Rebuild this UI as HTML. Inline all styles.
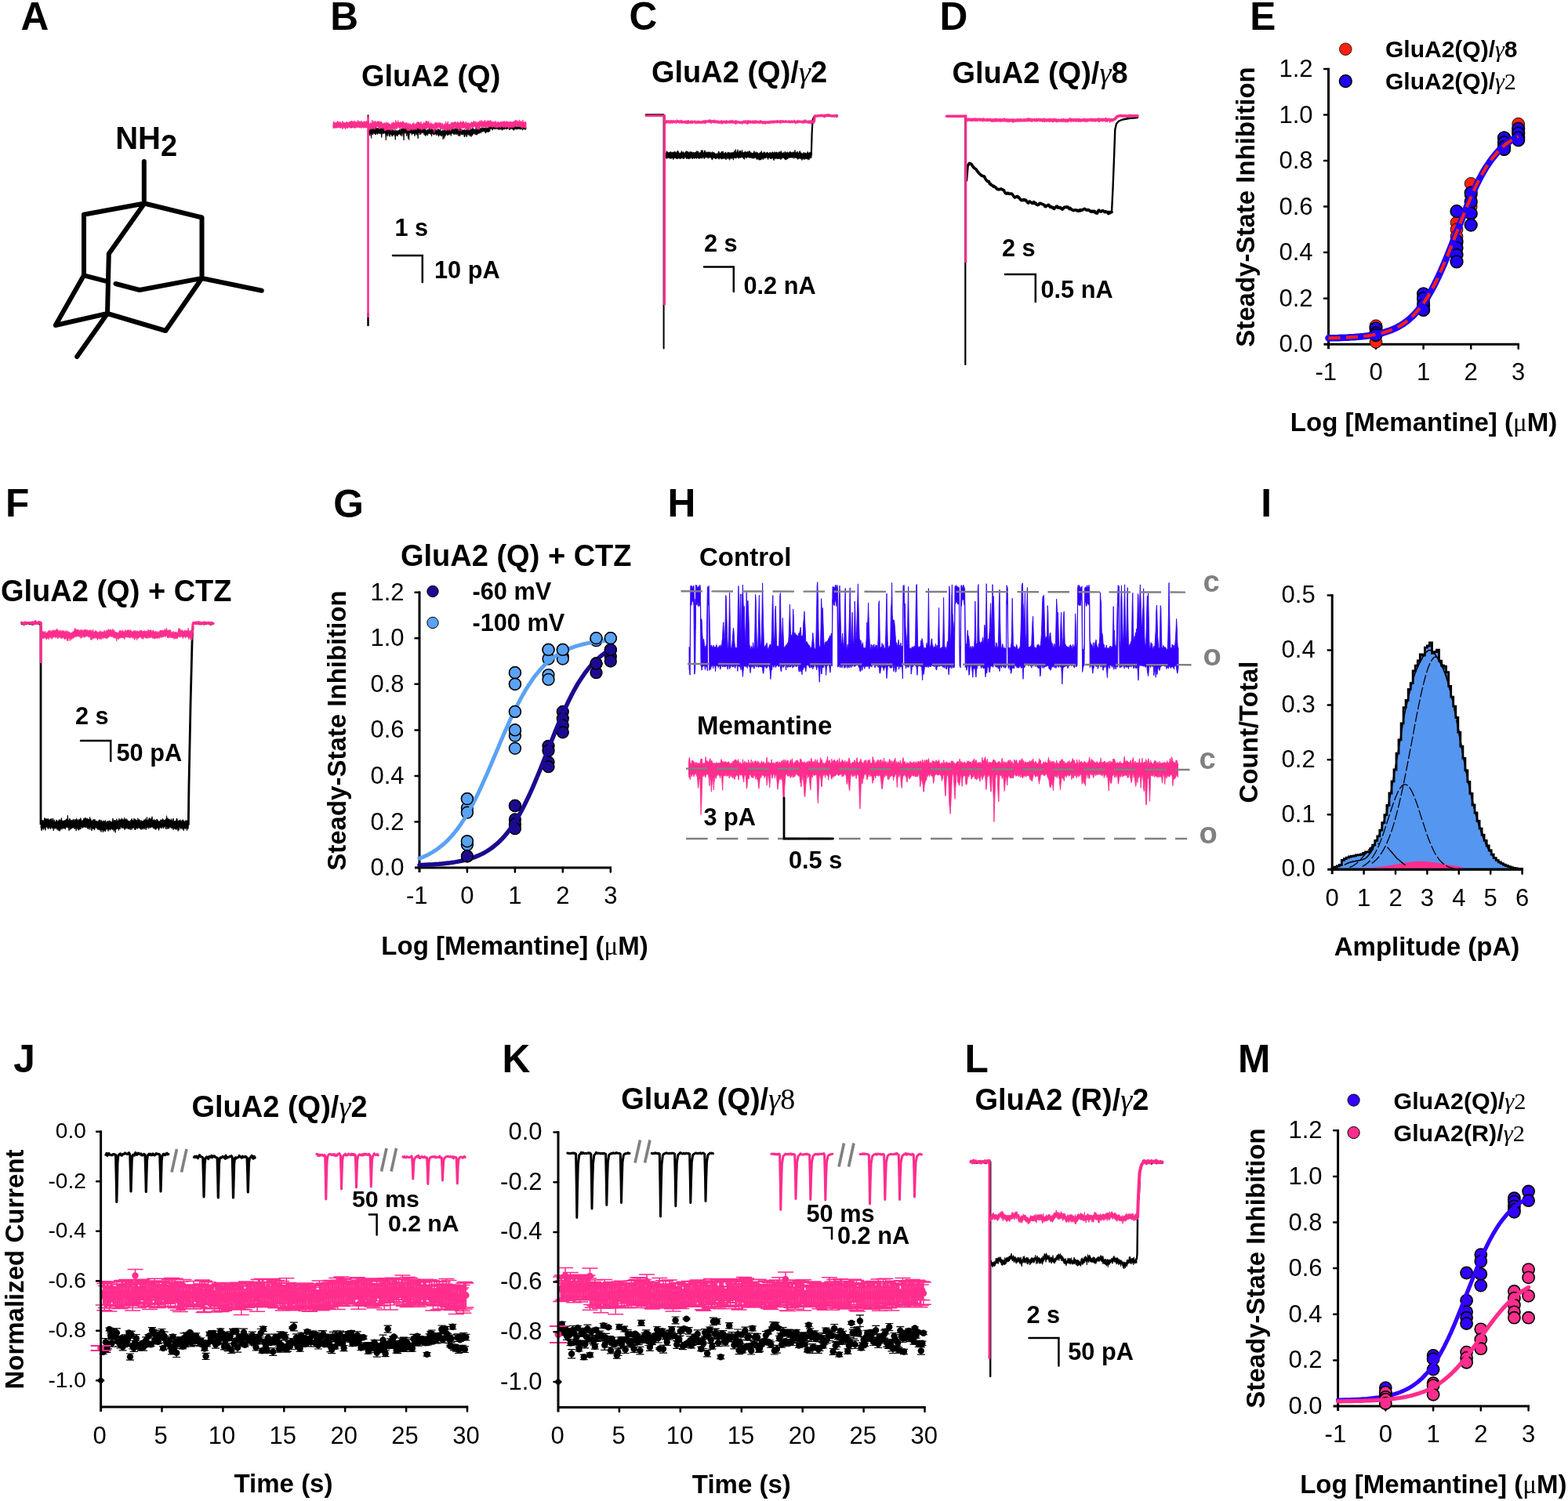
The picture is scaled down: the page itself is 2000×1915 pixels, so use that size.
<!DOCTYPE html>
<html lang="en"><head><meta charset="utf-8"><title>Figure</title>
<style>html,body{margin:0;padding:0;background:#fff}body{width:2000px;height:1915px;overflow:hidden}svg{display:block}text{font-family:"Liberation Sans", Arial, Helvetica, sans-serif}</style></head>
<body>
<svg width="2000" height="1915" viewBox="0 0 2000 1915">
<rect width="2000" height="1915" fill="#fff"/>
<text x="26.6" y="38" font-size="49.6" font-weight="bold">A</text>
<text x="421.3" y="38" font-size="49.6" font-weight="bold">B</text>
<text x="802.5" y="38.3" font-size="49.6" font-weight="bold">C</text>
<text x="1198.4" y="38" font-size="49.6" font-weight="bold">D</text>
<text x="1594.3" y="38" font-size="49.6" font-weight="bold">E</text>
<text x="7" y="659.3" font-size="49.6" font-weight="bold">F</text>
<text x="425.3" y="659.5" font-size="49.6" font-weight="bold">G</text>
<text x="851.5" y="659.3" font-size="49.6" font-weight="bold">H</text>
<text x="1608.3" y="659" font-size="49.6" font-weight="bold">I</text>
<text x="17.3" y="1368.3" font-size="49.6" font-weight="bold">J</text>
<text x="640.4" y="1368" font-size="49.6" font-weight="bold">K</text>
<text x="1230.6" y="1368" font-size="49.6" font-weight="bold">L</text>
<text x="1579" y="1368" font-size="49.6" font-weight="bold">M</text>
<text x="147.2" y="190" font-size="40" font-weight="bold">NH<tspan dy="9" font-size="38">2</tspan></text>
<path d="M183.8 206V259.5 M107 273.8L184.2 259.5L257.5 277.5L257.5 355 M107 273.8V351.3 M184.2 259.5L138.8 323.8L137 400 M107 351.3L135 358.7 M147.5 362L178 370L257.5 355L333.8 370.8 M257.5 355L211.2 422L137 400L70.8 415L107 351.3 M137 400L98.2 455" fill="none" stroke="#000" stroke-width="6" stroke-linecap="round" stroke-linejoin="round"/>
<text x="461" y="110" font-size="38" font-weight="bold">GluA2 (Q)</text>
<polygon points="425,159.7 425.7,159.5 426.4,159.5 427.1,159 427.8,159.3 428.5,158.9 429.2,159.7 429.9,158.6 430.6,159.3 431.3,159.2 432,159.3 432.7,159.4 433.4,159.6 434.1,159 434.8,159.7 435.5,159.1 436.2,158.6 437,159.3 437.7,158.2 438.4,158.7 439.1,158.2 439.8,159.5 440.5,158.7 441.2,159.5 441.9,159.6 442.6,159.6 443.3,157.7 444,159.3 444.7,159.7 445.4,159.6 446.1,158.5 446.8,159.3 447.5,158.9 448.2,159.1 448.9,158.9 449.6,159.1 450.3,159.7 451,159 451.7,159.2 452.4,159.6 453.1,159.6 453.8,159.6 454.5,158.7 455.2,159.6 455.9,158.6 456.6,158.5 457.3,159 458,159.6 458.8,159.2 459.5,158.1 460.2,159.1 460.9,158.7 461.6,159.6 462.3,159.2 463,159.5 463.7,159.2 464.4,159.6 465.1,159.2 465.8,158.5 466.5,159.2 467.2,159.5 467.9,159.3 468.6,159.6 469.3,158.8 470,159.2 470,161.9 469.3,162.7 468.6,162 467.9,163 467.2,161.6 466.5,162.2 465.8,162.9 465.1,161.4 464.4,161.8 463.7,161.4 463,161.5 462.3,162.1 461.6,162 460.9,161.5 460.2,162.1 459.5,161.3 458.8,161.4 458,162.1 457.3,161.7 456.6,161.9 455.9,161.5 455.2,161.4 454.5,161.7 453.8,161.5 453.1,161.8 452.4,162 451.7,163.1 451,161.4 450.3,162 449.6,161.5 448.9,162.9 448.2,162.7 447.5,161.6 446.8,162.3 446.1,161.8 445.4,161.3 444.7,162.1 444,161.6 443.3,161.8 442.6,161.3 441.9,161.8 441.2,162.2 440.5,161.7 439.8,161.3 439.1,162.2 438.4,161.5 437.7,161.4 437,161.6 436.2,161.5 435.5,161.6 434.8,162.5 434.1,161.5 433.4,161.6 432.7,161.6 432,161.9 431.3,162.3 430.6,161.4 429.9,161.7 429.2,162.9 428.5,161.8 427.8,161.9 427.1,162.4 426.4,162.2 425.7,162 425,161.5" fill="#000" stroke="#000" stroke-width="0.8" stroke-linejoin="round"/>
<polygon points="470,165.6 470.6,165.5 471.2,161.1 471.8,165.4 472.4,165.8 473,163.7 473.6,163.1 474.2,164 474.8,165 475.4,165.3 476,164 476.6,162.2 477.2,164.1 477.8,165.5 478.4,165 479,160.6 479.6,164 480.2,164.9 480.8,163.3 481.4,163.6 482,163.8 482.6,164.4 483.2,162 483.8,163 484.4,164.3 485,162.8 485.6,164.4 486.2,165.1 486.8,163.7 487.4,160.8 488.1,165.2 488.7,162.8 489.3,164.3 489.9,165 490.5,162.6 491.1,164.9 491.7,163.9 492.3,164 492.9,164.4 493.5,165.8 494.1,164.4 494.7,165.2 495.3,165.4 495.9,166.4 496.5,165.6 497.1,165.4 497.7,166.7 498.3,165.3 498.9,165.1 499.5,167.2 500.1,166 500.7,164.7 501.3,167.7 501.9,166.5 502.5,166.2 503.1,166.8 503.7,167.7 504.3,165.5 504.9,166.3 505.5,167.1 506.1,167.3 506.7,166.6 507.3,166.9 507.9,167.1 508.5,165.9 509.1,166.9 509.7,164.8 510.3,166.4 510.9,166.3 511.5,164.6 512.1,164.1 512.7,165.9 513.3,162.5 513.9,164 514.5,162.3 515.1,161.4 515.7,164.3 516.3,162.5 516.9,160.2 517.5,162.4 518.1,163 518.7,162.4 519.3,163.4 519.9,163 520.5,163.7 521.1,164.3 521.7,163.7 522.3,164.5 522.9,163.5 523.6,163.2 524.2,162.1 524.8,162 525.4,165.1 526,165.6 526.6,165.9 527.2,165.6 527.8,165.9 528.4,162.8 529,164 529.6,163.2 530.2,163.9 530.8,162.7 531.4,158.9 532,163.8 532.6,163.5 533.2,162.1 533.8,164.1 534.4,156.3 535,159.7 535.6,163.9 536.2,159.5 536.8,163.3 537.4,163.3 538,164.8 538.6,162.7 539.2,158.2 539.8,162.6 540.4,163.5 541,164.9 541.6,163.9 542.2,156.6 542.8,165.8 543.4,166.3 544,166.3 544.6,166.6 545.2,164.8 545.8,167.1 546.4,167 547,164.2 547.6,163.2 548.2,166.3 548.8,165.2 549.4,161.6 550,164.9 550.6,164.6 551.2,166.3 551.8,164.5 552.4,165.4 553,166.4 553.6,166.3 554.2,166.3 554.8,165 555.4,165.2 556,166.3 556.6,165.6 557.2,166.4 557.8,166.7 558.4,164.2 559.1,167 559.7,164.6 560.3,166 560.9,166.8 561.5,164 562.1,167.6 562.7,167.4 563.3,167 563.9,166.8 564.5,167 565.1,165.6 565.7,166.9 566.3,166.3 566.9,167.4 567.5,165.3 568.1,166.8 568.7,166.7 569.3,166.5 569.9,166 570.5,165.4 571.1,163.4 571.7,165.5 572.3,166 572.9,165.5 573.5,165.3 574.1,165.1 574.7,165.9 575.3,165.2 575.9,165.3 576.5,165.6 577.1,163.1 577.7,165 578.3,164.5 578.9,164.7 579.5,165.9 580.1,163.4 580.7,164.6 581.3,165.8 581.9,161.3 582.5,165.7 583.1,163.6 583.7,164.3 584.3,165.7 584.9,164.7 585.5,166.3 586.1,166.6 586.7,160.1 587.3,164.3 587.9,166.6 588.5,166.4 589.1,165 589.7,166.2 590.3,166.1 590.9,166 591.5,166.4 592.1,165.1 592.7,165.4 593.3,167 593.9,166.1 594.6,166 595.2,165.3 595.8,166.3 596.4,166.2 597,164.8 597.6,165.2 598.2,163.8 598.8,165.8 599.4,166.5 600,166.4 600.6,163.5 601.2,165.3 601.8,164.9 602.4,164.7 603,162.4 603.6,165.6 604.2,164.4 604.8,165.3 605.4,165 606,166.4 606.6,165.2 607.2,161.4 607.8,165.9 608.4,165.1 609,164.8 609.6,162.3 610.2,163.2 610.8,164.5 611.4,165.1 612,164.3 612,169.6 611.4,170.3 610.8,170.3 610.2,169.7 609.6,171.1 609,170 608.4,172.3 607.8,171.2 607.2,172.1 606.6,171.2 606,171.2 605.4,171.2 604.8,169.7 604.2,170.7 603.6,171.2 603,170.9 602.4,173.1 601.8,169.9 601.2,174.6 600.6,170.9 600,173.2 599.4,174 598.8,171.3 598.2,172.1 597.6,172.4 597,170.4 596.4,171.2 595.8,172.7 595.2,174.8 594.6,172.2 593.9,171.8 593.3,172.5 592.7,175 592.1,174.4 591.5,170.3 590.9,171.6 590.3,171.4 589.7,172.2 589.1,171.1 588.5,171.7 587.9,170.6 587.3,171.2 586.7,173.8 586.1,172.9 585.5,170.8 584.9,173.6 584.3,172.9 583.7,170.7 583.1,170.4 582.5,170.3 581.9,172.1 581.3,170.4 580.7,170.6 580.1,170.6 579.5,172.1 578.9,170.2 578.3,171.3 577.7,169.7 577.1,170 576.5,169.8 575.9,171 575.3,173.5 574.7,171.1 574.1,170.7 573.5,171.8 572.9,171.3 572.3,171.4 571.7,172.7 571.1,170.4 570.5,172.9 569.9,170.9 569.3,171.1 568.7,171.7 568.1,173.5 567.5,171.7 566.9,176.5 566.3,172.5 565.7,172 565.1,177.9 564.5,171.8 563.9,172.5 563.3,173.7 562.7,173.8 562.1,172.4 561.5,172.5 560.9,171.9 560.3,171.9 559.7,174.2 559.1,173.4 558.4,171.2 557.8,170.5 557.2,171.7 556.6,173 556,170.5 555.4,171 554.8,171.5 554.2,170.6 553.6,172.3 553,171.4 552.4,171 551.8,170.4 551.2,170.1 550.6,174.1 550,170.3 549.4,171.7 548.8,170.3 548.2,170.9 547.6,170.3 547,170.6 546.4,170.8 545.8,170.9 545.2,173.1 544.6,171.5 544,171.3 543.4,172.3 542.8,173.7 542.2,172.8 541.6,169.2 541,172.2 540.4,169.7 539.8,169.7 539.2,168.9 538.6,169.5 538,169.1 537.4,169.3 536.8,171.5 536.2,169.3 535.6,172 535,168.5 534.4,169.3 533.8,170.5 533.2,176.8 532.6,172.1 532,169 531.4,172.3 530.8,170.7 530.2,169.8 529.6,171.8 529,173.7 528.4,170.4 527.8,170.7 527.2,170.1 526.6,170.9 526,170.3 525.4,172.3 524.8,169.6 524.2,170.2 523.6,169.8 522.9,169.2 522.3,170 521.7,178.6 521.1,170.2 520.5,176.7 519.9,171.1 519.3,171.1 518.7,173.6 518.1,169.2 517.5,168.8 516.9,170.5 516.3,168.7 515.7,168.5 515.1,179 514.5,169.9 513.9,168.9 513.3,170.9 512.7,174.1 512.1,170 511.5,171.8 510.9,172.9 510.3,171.4 509.7,170.8 509.1,171.2 508.5,171.9 507.9,171.1 507.3,173.6 506.7,173.4 506.1,172.7 505.5,173 504.9,172.2 504.3,178.5 503.7,173.3 503.1,172.3 502.5,171.8 501.9,172.6 501.3,172.5 500.7,173.6 500.1,174.2 499.5,172.4 498.9,171.8 498.3,171 497.7,172.6 497.1,174.4 496.5,172.9 495.9,170.5 495.3,169.9 494.7,173.3 494.1,173.9 493.5,172.1 492.9,170.7 492.3,178.9 491.7,171 491.1,169.8 490.5,169.3 489.9,170.6 489.3,169.6 488.7,170.5 488.1,170.4 487.4,169.4 486.8,175.6 486.2,170.9 485.6,170.6 485,169.3 484.4,170.9 483.8,169.9 483.2,169.9 482.6,169.8 482,170.8 481.4,171.6 480.8,170.3 480.2,169.5 479.6,171.1 479,172.1 478.4,171.2 477.8,170.8 477.2,169.5 476.6,169.3 476,171.1 475.4,172 474.8,169.5 474.2,171.5 473.6,176.5 473,169.8 472.4,170.3 471.8,173.2 471.2,171.5 470.6,170.1 470,171" fill="#000" stroke="#000" stroke-width="0.8" stroke-linejoin="round"/>
<polygon points="611,161.9 611.6,162.5 612.2,163.5 612.8,163.2 613.4,164 614,163.9 614.7,162.2 615.3,163.9 615.9,162.9 616.5,162.7 617.1,163.9 617.7,163.9 618.3,162.7 618.9,163.1 619.5,163.7 620.1,163.6 620.7,163.5 621.3,163.6 622,163.6 622.6,162.2 623.2,163.9 623.8,163.8 624.4,163.6 625,161.7 625,166.9 624.4,168.1 623.8,166.7 623.2,168.6 622.6,168.6 622,168.5 621.3,167.8 620.7,168.9 620.1,167.5 619.5,170.1 618.9,169.7 618.3,167.6 617.7,167.5 617.1,168.1 616.5,166.9 615.9,167.9 615.3,168.2 614.7,167.8 614,168.1 613.4,169.8 612.8,169.3 612.2,168.6 611.6,167.6 611,167" fill="#000" stroke="#000" stroke-width="0.8" stroke-linejoin="round"/>
<polygon points="624,160.1 624.6,160.6 625.2,162 625.8,161.2 626.4,162 627,162 627.6,160.4 628.2,160.9 628.8,162.1 629.4,161 630,161.4 630.6,161.8 631.2,161.3 631.8,161 632.4,161.8 633,160.9 633.6,162 634.2,160.6 634.8,161.4 635.4,161.9 636.1,161.3 636.7,161.1 637.3,161 637.9,160.8 638.5,160 639.1,161.7 639.7,161.5 640.3,161.5 640.9,161.8 641.5,161.4 642.1,161.8 642.7,161.8 643.3,161.6 643.9,161.6 644.5,161.7 645.1,160.6 645.7,161.7 646.3,160.8 646.9,162 647.5,161.2 648.1,162 648.7,161.7 649.3,160.8 649.9,161.4 650.5,161.3 651.1,161.4 651.7,160.6 652.3,161.3 652.9,161.8 653.5,160.8 654.1,160.7 654.7,160.8 655.3,161.5 655.9,159.6 656.5,159.7 657.1,160.7 657.7,161.2 658.3,161.9 658.9,161.9 659.6,162 660.2,160.8 660.8,161.5 661.4,161.7 662,161.9 662.6,161 663.2,162 663.8,160 664.4,161.5 665,161.9 665.6,160.4 666.2,161 666.8,160.9 667.4,161.3 668,161.6 668.6,162 669.2,161.2 669.8,161.8 670.4,161.6 671,161.7 671,165.2 670.4,164.9 669.8,164.9 669.2,165.3 668.6,164.3 668,164.9 667.4,163.9 666.8,166.3 666.2,164 665.6,164.5 665,165.1 664.4,164.7 663.8,164.7 663.2,165.3 662.6,164.3 662,164 661.4,164.3 660.8,164.1 660.2,165.3 659.6,164.1 658.9,165 658.3,165.2 657.7,164 657.1,164.2 656.5,164.8 655.9,165.6 655.3,166.6 654.7,164.6 654.1,165.4 653.5,164.3 652.9,164.4 652.3,164 651.7,164.2 651.1,164.6 650.5,165 649.9,165.7 649.3,165.2 648.7,164.3 648.1,164 647.5,164 646.9,164.5 646.3,164.5 645.7,164.7 645.1,164.3 644.5,164.5 643.9,165.1 643.3,164.6 642.7,164.3 642.1,165.4 641.5,165 640.9,165 640.3,166.3 639.7,164.5 639.1,164.1 638.5,165.2 637.9,164.6 637.3,165.5 636.7,164.4 636.1,165.4 635.4,165 634.8,164.1 634.2,164.3 633.6,164.6 633,164.3 632.4,164.3 631.8,164.8 631.2,164.7 630.6,164.7 630,164.1 629.4,163.9 628.8,164.7 628.2,166.3 627.6,164.8 627,164 626.4,164.2 625.8,164.7 625.2,164.4 624.6,164.5 624,164.6" fill="#000" stroke="#000" stroke-width="0.8" stroke-linejoin="round"/>
<line x1="469.5" y1="400" x2="469.5" y2="415" stroke="#000" stroke-width="2.5" stroke-linecap="round"/>
<line x1="469.5" y1="146.5" x2="469.5" y2="150" stroke="#000" stroke-width="2"/>
<polygon points="425,156.7 425.7,154.7 426.4,156.5 427.1,156.4 427.8,156.2 428.5,156.5 429.2,155.9 429.9,156.3 430.6,154.1 431.3,156.4 432,155.1 432.7,156.5 433.4,156.2 434.1,155.2 434.8,156.9 435.5,157.1 436.2,156.9 437,154.4 437.7,156 438.4,156.6 439.1,156.3 439.8,156.7 440.5,156.9 441.2,156.5 441.9,155.3 442.6,155.6 443.3,156.3 444,156.4 444.7,155.9 445.4,155.5 446.1,155 446.8,155.9 447.5,154.6 448.2,154.6 448.9,154.1 449.6,155.1 450.3,155.5 451,155.3 451.7,154.6 452.4,154.4 453.1,154.7 453.8,155.9 454.5,155.9 455.2,155.5 455.9,155.9 456.6,153.5 457.3,155.4 458,154.4 458.8,155.3 459.5,155.5 460.2,154.6 460.9,154.4 461.6,154.9 462.3,156.2 463,155.5 463.7,155.5 464.4,154.7 465.1,155.3 465.8,155.3 466.5,155.9 467.2,154.1 467.9,155.3 468.6,156.3 469.3,155.9 470,156.4 470,163.3 469.3,162.2 468.6,163.3 467.9,162.9 467.2,162.4 466.5,163.3 465.8,162.1 465.1,162.9 464.4,161.7 463.7,163.5 463,162.3 462.3,162.2 461.6,161.4 460.9,164 460.2,162 459.5,162.4 458.8,163 458,162.9 457.3,161.4 456.6,162.3 455.9,162.6 455.2,162.3 454.5,162.8 453.8,163 453.1,163.5 452.4,162.5 451.7,163.6 451,162.9 450.3,162.5 449.6,161.6 448.9,162 448.2,162.1 447.5,163.9 446.8,161.9 446.1,162.3 445.4,162.4 444.7,161.9 444,162.6 443.3,164 442.6,163 441.9,162.8 441.2,163 440.5,165.2 439.8,162.3 439.1,162.9 438.4,163.1 437.7,162.3 437,164.8 436.2,162.7 435.5,162.8 434.8,163 434.1,163.7 433.4,163 432.7,162.4 432,163.1 431.3,162 430.6,161.9 429.9,163.4 429.2,162 428.5,163.4 427.8,163.6 427.1,162.3 426.4,163.5 425.7,162.9 425,163.8" fill="#ff2d8d" stroke="#ff2d8d" stroke-width="0.8" stroke-linejoin="round"/>
<polygon points="469,157.2 469.7,155.5 470.4,156.6 471.1,158.2 471.8,158.7 472.5,156.1 473.2,157.8 473.9,158.1 474.6,153.2 475.3,157.4 476,153.9 476.7,155.7 477.4,156.3 478.1,154.4 478.8,154.4 479.5,155.4 480.2,156.2 480.9,155.4 481.6,154.8 482.3,154.6 483,155.1 483.7,155.8 484.4,154.8 485.1,155.4 485.8,156 486.5,155 487.2,157.3 487.9,156.7 488.6,158 489.3,157.9 490,156.8 490.7,156.7 491.4,156.9 492.1,158.3 492.8,155.6 493.5,157.3 494.2,157.1 494.9,156.1 495.6,158.7 496.3,157.6 497,158 497.7,159.1 498.4,159.2 499.1,158.2 499.8,156.8 500.5,157.5 501.2,156 501.9,156.2 502.6,156.1 503.3,157.2 504,157.2 504.8,153.5 505.5,155.5 506.2,156.6 506.9,156.2 507.6,153.6 508.3,156.4 509,155.9 509.7,156.7 510.4,155.6 511.1,155.8 511.8,156.1 512.5,156 513.2,155.8 513.9,154.3 514.6,155.7 515.3,156.2 516,157.3 516.7,157.7 517.4,156.2 518.1,158.7 518.8,156.2 519.5,158 520.2,158.8 520.9,157 521.6,158.4 522.3,158.5 523,157.5 523.7,158.6 524.4,159.6 525.1,158.7 525.8,158.4 526.5,157.2 527.2,159.3 527.9,156.3 528.6,159.1 529.3,159.1 530,157.9 530.7,157.9 531.4,156.9 532.1,155.9 532.8,155.9 533.5,155.5 534.2,157.4 534.9,157.9 535.6,157 536.3,156.2 537,155.3 537.7,157.2 538.4,159.1 539.1,157.7 539.8,158.4 540.5,155.7 541.2,157.4 541.9,157.8 542.6,156.4 543.3,154.1 544,155.9 544.7,154 545.4,157 546.1,156.4 546.8,154.4 547.5,157 548.2,157.9 548.9,158.2 549.6,156.2 550.3,158.8 551,157.3 551.7,158.5 552.4,158.4 553.1,158.6 553.8,158.7 554.5,156.9 555.2,156.5 555.9,155.9 556.6,156.4 557.3,156.5 558,157.8 558.7,156.7 559.4,157 560.1,156.5 560.8,156 561.5,157.4 562.2,156.6 562.9,157.7 563.6,158.4 564.3,157 565,158.5 565.7,159.5 566.4,159.4 567.1,157.7 567.8,158.4 568.5,154.9 569.2,160 569.9,156.8 570.6,157.5 571.3,154.9 572,158.6 572.7,159.1 573.4,158.3 574.1,158.5 574.8,157.7 575.5,156.6 576.2,156.8 577,155.7 577.7,156.2 578.4,157.3 579.1,155.8 579.8,156 580.5,155.2 581.2,155.6 581.9,156.3 582.6,157.9 583.3,155.5 584,155.2 584.7,156.5 585.4,156.7 586.1,156.6 586.8,156.9 587.5,154.7 588.2,156.1 588.9,156.2 589.6,156.6 590.3,154.9 591,154.5 591.7,155.3 592.4,157.2 593.1,157.6 593.8,156.2 594.5,155 595.2,157.9 595.9,156.9 596.6,157.1 597.3,156.5 598,156.8 598.7,158.3 599.4,158 600.1,156.8 600.8,156.1 601.5,155.4 602.2,156.6 602.9,156.6 603.6,155.5 604.3,154 605,156 605.7,155.2 606.4,156.7 607.1,154.7 607.8,156.6 608.5,157.5 609.2,155.6 609.9,156.2 610.6,156.1 611.3,157.4 612,157.1 612,164.2 611.3,165 610.6,165.1 609.9,165.6 609.2,163.6 608.5,163.3 607.8,162.8 607.1,163.8 606.4,162.5 605.7,161.6 605,161.7 604.3,161.5 603.6,161.9 602.9,162 602.2,163.1 601.5,162.3 600.8,162.3 600.1,163.1 599.4,163.5 598.7,165.5 598,165.1 597.3,165.7 596.6,165.2 595.9,165 595.2,164 594.5,164.5 593.8,164.9 593.1,163.9 592.4,162.7 591.7,163.1 591,163.3 590.3,164.1 589.6,162.6 588.9,163.3 588.2,167.2 587.5,163.4 586.8,163.4 586.1,163.7 585.4,167 584.7,163.9 584,163.5 583.3,164.4 582.6,163.3 581.9,164.2 581.2,163.4 580.5,161.8 579.8,162.6 579.1,163.1 578.4,164.7 577.7,164.8 577,163.3 576.2,164 575.5,164.1 574.8,167.3 574.1,164.5 573.4,164.4 572.7,165.7 572,166.6 571.3,164.2 570.6,164.5 569.9,166.6 569.2,166.1 568.5,165.3 567.8,164.7 567.1,165.6 566.4,165.6 565.7,164.8 565,164.7 564.3,164.7 563.6,165.1 562.9,163.4 562.2,164.9 561.5,164.2 560.8,162.9 560.1,163 559.4,162.4 558.7,163 558,163.3 557.3,163.3 556.6,164.9 555.9,163.3 555.2,166.3 554.5,163.3 553.8,169.4 553.1,164.4 552.4,163.7 551.7,164.4 551,164 550.3,164.9 549.6,164.2 548.9,165.2 548.2,163.1 547.5,164.1 546.8,163.4 546.1,162.8 545.4,162.9 544.7,163.9 544,164 543.3,164.2 542.6,163.5 541.9,164.7 541.2,163.9 540.5,164.5 539.8,164 539.1,164.9 538.4,165 537.7,166.2 537,165 536.3,163.7 535.6,164.9 534.9,163.9 534.2,164.3 533.5,163.1 532.8,163.1 532.1,164.1 531.4,163.9 530.7,166 530,164.2 529.3,164.5 528.6,165.8 527.9,164.4 527.2,164.3 526.5,165.5 525.8,166.2 525.1,164.6 524.4,164.5 523.7,165.3 523,166.5 522.3,165.2 521.6,166.9 520.9,166.3 520.2,165.5 519.5,166.9 518.8,165.5 518.1,163.9 517.4,163.5 516.7,164.5 516,163.6 515.3,164.2 514.6,163.6 513.9,164.2 513.2,162.5 512.5,162.8 511.8,161.6 511.1,164 510.4,164.4 509.7,163.1 509,163.6 508.3,162.1 507.6,162.9 506.9,162.3 506.2,165 505.5,163.5 504.8,163.4 504,164.8 503.3,164.5 502.6,166.1 501.9,164 501.2,164 500.5,163.9 499.8,164.3 499.1,166.8 498.4,164.2 497.7,165.5 497,165.3 496.3,165.3 495.6,165.3 494.9,163.8 494.2,165.7 493.5,165.4 492.8,164.8 492.1,167.1 491.4,165.8 490.7,166.9 490,164.5 489.3,163.7 488.6,163.7 487.9,164 487.2,162.4 486.5,163.3 485.8,162.4 485.1,162 484.4,164.8 483.7,164.5 483,161.9 482.3,161.1 481.6,161.4 480.9,162.3 480.2,162 479.5,162.3 478.8,162.1 478.1,165.3 477.4,162.1 476.7,163.8 476,164.2 475.3,164.2 474.6,164 473.9,164.6 473.2,164.3 472.5,163.5 471.8,164.7 471.1,166.1 470.4,163.7 469.7,164.2 469,162.9" fill="#ff2d8d" stroke="#ff2d8d" stroke-width="0.8" stroke-linejoin="round"/>
<polygon points="611,155.3 611.7,154 612.4,155.4 613.1,154.7 613.8,153.2 614.5,155.2 615.2,154.4 615.9,155.5 616.6,155.8 617.4,153.9 618.1,154.7 618.8,153.3 619.5,155.9 620.2,155.7 620.9,155.5 621.6,153.4 622.3,155.4 623,154.1 623.7,153.7 624.4,154.6 625.1,155.2 625.8,153.1 626.5,155.4 627.2,155.6 627.9,154.7 628.6,155.4 629.4,155.4 630.1,155.7 630.8,156.1 631.5,154.8 632.2,154.3 632.9,156.4 633.6,156.2 634.3,156.6 635,155.1 635.7,155.3 636.4,156.1 637.1,156.2 637.8,156.5 638.5,155.1 639.2,155.7 639.9,155.4 640.6,155.3 641.4,154.7 642.1,155.6 642.8,154.7 643.5,154.7 644.2,155.3 644.9,155.9 645.6,154.3 646.3,155.8 647,155.1 647.7,155.2 648.4,156.1 649.1,155.3 649.8,155.3 650.5,155.5 651.2,155.5 651.9,154.9 652.6,155.9 653.4,155.8 654.1,156 654.8,154.8 655.5,154.9 656.2,155.3 656.9,153.5 657.6,153.4 658.3,155 659,153.3 659.7,155.2 660.4,154.9 661.1,154.5 661.8,155.2 662.5,152.8 663.2,155.7 663.9,154.7 664.6,154.5 665.4,155.6 666.1,155.8 666.8,152.9 667.5,155.5 668.2,155.9 668.9,155.9 669.6,155.9 670.3,154.9 671,156.7 671,162.3 670.3,163.9 669.6,162.8 668.9,163 668.2,162.9 667.5,161.8 666.8,162.1 666.1,163.8 665.4,161.7 664.6,162.4 663.9,162 663.2,161.6 662.5,162 661.8,161 661.1,161.1 660.4,161.1 659.7,162.1 659,161 658.3,160.5 657.6,160.5 656.9,161 656.2,162.3 655.5,162.1 654.8,162.4 654.1,162.4 653.4,162.6 652.6,161.6 651.9,163.4 651.2,161.9 650.5,162.2 649.8,161.8 649.1,164.4 648.4,163 647.7,162.1 647,162 646.3,162 645.6,161.7 644.9,163.5 644.2,161.4 643.5,161.2 642.8,162.7 642.1,162.3 641.4,162.3 640.6,161.4 639.9,161.5 639.2,161.3 638.5,163.2 637.8,162 637.1,162.3 636.4,161.8 635.7,162.2 635,163.3 634.3,162.2 633.6,162.1 632.9,163.3 632.2,162.7 631.5,162.1 630.8,162.2 630.1,162.2 629.4,161.5 628.6,162.3 627.9,162.2 627.2,162.3 626.5,161.7 625.8,161.9 625.1,161 624.4,161.4 623.7,162.5 623,161.9 622.3,161.7 621.6,161.2 620.9,162.8 620.2,163.3 619.5,162.3 618.8,162.8 618.1,161.5 617.4,161.8 616.6,162.2 615.9,161.4 615.2,161.7 614.5,162.4 613.8,161.2 613.1,162 612.4,161.1 611.7,161.3 611,161.5" fill="#ff2d8d" stroke="#ff2d8d" stroke-width="0.8" stroke-linejoin="round"/>
<line x1="469.5" y1="148" x2="469.5" y2="405" stroke="#ff2d8d" stroke-width="2.6"/>
<text x="503.5" y="301" font-size="30.7" font-weight="bold">1 s</text>
<path d="M501 326H538.8V360" fill="none" stroke="#000" stroke-width="2.5" stroke-linejoin="miter" stroke-linecap="round"/>
<text x="554" y="355" font-size="30.7" font-weight="bold">10 pA</text>
<text x="831" y="104.5" font-size="38" font-weight="bold">GluA2 (Q)/<tspan font-family="Liberation Serif, serif" font-weight="normal" font-style="italic">γ</tspan>2</text>
<polyline points="823.8,146.3 846.5,146.3" fill="none" stroke="#000" stroke-width="2" stroke-linejoin="round" stroke-linecap="round"/>
<line x1="846.6" y1="147" x2="846.6" y2="444.5" stroke="#000" stroke-width="2" stroke-linecap="round"/>
<polygon points="847,195.1 847.7,193 848.4,194.9 849.1,194.8 849.8,195.4 850.5,192.4 851.2,194.3 851.9,194.2 852.6,194.6 853.3,194.9 854,194 854.7,193.9 855.4,193.5 856.1,194 856.8,194.7 857.5,194 858.2,194.9 858.9,193.9 859.6,194.1 860.3,193.2 861,195.4 861.7,193.6 862.4,195 863.1,194.9 863.8,192.7 864.5,192.1 865.2,193.1 865.9,194.8 866.6,195.4 867.3,195.2 868,195.1 868.7,194.7 869.4,192.4 870.1,195 870.9,194.3 871.6,193.6 872.3,194.7 873,195.4 873.7,195.1 874.4,193.4 875.1,195.1 875.8,192.5 876.5,194.3 877.2,193.1 877.9,195.3 878.6,194.4 879.3,194.6 880,193.3 880.7,193.7 881.4,194.2 882.1,193.5 882.8,194.1 883.5,195.2 884.2,194.1 884.9,194.3 885.6,195.4 886.3,194 887,195.2 887.7,194.1 888.4,193 889.1,192.5 889.8,193.7 890.5,192.9 891.2,194.8 891.9,195.3 892.6,194.7 893.3,194.8 894,193.4 894.7,191.5 895.4,193.7 896.1,191.5 896.8,194.9 897.5,194.7 898.2,193.5 898.9,191.7 899.6,192.7 900.3,194.5 901,194.5 901.7,194 902.4,194.6 903.1,193.7 903.8,194 904.5,194.8 905.2,193.7 905.9,194 906.6,195.2 907.3,195.4 908,193.9 908.7,193.6 909.4,195.8 910.1,194.1 910.8,194.6 911.5,195.2 912.2,195.6 912.9,196.4 913.6,196.1 914.3,196.2 915,195.6 915.7,196.5 916.4,193.3 917.1,193.2 917.9,196.2 918.6,195.6 919.3,194.6 920,194.4 920.7,192.9 921.4,195.5 922.1,193 922.8,195.1 923.5,195.7 924.2,195.2 924.9,194.9 925.6,193.9 926.3,195.2 927,195.8 927.7,195.8 928.4,193.9 929.1,194.5 929.8,194.5 930.5,194.9 931.2,195.2 931.9,194.6 932.6,195.3 933.3,194.3 934,195.1 934.7,194.8 935.4,193.9 936.1,195.3 936.8,192.3 937.5,195.4 938.2,190.5 938.9,193.7 939.6,194.2 940.3,194.3 941,190.7 941.7,194.9 942.4,195.1 943.1,192.4 943.8,193 944.5,192 945.2,194.4 945.9,193.9 946.6,191.3 947.3,195.1 948,194.8 948.7,194.1 949.4,194.9 950.1,193.2 950.8,193.5 951.5,194 952.2,194.3 952.9,193.6 953.6,193.3 954.3,194.9 955,193 955.7,192.8 956.4,192.7 957.1,194 957.8,195.2 958.5,194.8 959.2,195.4 959.9,195.4 960.6,195 961.3,194.5 962,192.6 962.7,195.5 963.4,194.9 964.1,193.7 964.9,194.7 965.6,194.7 966.3,194.5 967,195.5 967.7,196 968.4,195.8 969.1,194.7 969.8,194.3 970.5,195.7 971.2,192.5 971.9,195 972.6,195.9 973.3,194.6 974,195.6 974.7,193.6 975.4,194.4 976.1,195.6 976.8,195 977.5,195.3 978.2,194.1 978.9,194 979.6,195.2 980.3,195.7 981,195.2 981.7,194.6 982.4,194.1 983.1,195.4 983.8,194.9 984.5,195.1 985.2,193.8 985.9,194.3 986.6,194.9 987.3,195.2 988,193.5 988.7,196 989.4,194.6 990.1,193.8 990.8,194.4 991.5,194.5 992.2,195 992.9,195.1 993.6,193.6 994.3,194.6 995,193.5 995.7,194.5 996.4,192.5 997.1,195.1 997.8,195.2 998.5,195.2 999.2,194.4 999.9,195 1000.6,195.4 1001.3,193.1 1002,194.9 1002.7,194.7 1003.4,195.4 1004.1,193.7 1004.8,195.5 1005.5,194.7 1006.2,194.3 1006.9,195.8 1007.6,193.1 1008.3,194.2 1009,193.9 1009.7,194.8 1010.4,194.7 1011.1,194.3 1011.9,193.7 1012.6,194.3 1013.3,194.6 1014,191.4 1014.7,195.3 1015.4,195 1016.1,194.2 1016.8,193.3 1017.5,193.7 1018.2,195.6 1018.9,195.6 1019.6,193.3 1020.3,192.4 1021,194.9 1021.7,194.7 1022.4,195.6 1023.1,195.9 1023.8,195.8 1024.5,196.3 1025.2,194.1 1025.9,195.5 1026.6,195.9 1027.3,194.8 1028,195.4 1028.7,195.9 1029.4,196 1030.1,193.3 1030.8,195.1 1031.5,195.6 1032.2,194.4 1032.9,195 1033.6,194.1 1034.3,195.3 1035,195 1035,201.1 1034.3,202 1033.6,200.9 1032.9,201.4 1032.2,203.6 1031.5,202.3 1030.8,204.2 1030.1,202 1029.4,202.9 1028.7,202.4 1028,202.5 1027.3,202.6 1026.6,203.2 1025.9,203.5 1025.2,202.9 1024.5,202.6 1023.8,202.2 1023.1,204.5 1022.4,203.9 1021.7,201.6 1021,202.2 1020.3,202.7 1019.6,201.9 1018.9,201.3 1018.2,202.9 1017.5,203.4 1016.8,201.5 1016.1,202.1 1015.4,201.2 1014.7,201.4 1014,200.7 1013.3,201.1 1012.6,202.5 1011.9,200.5 1011.1,200.9 1010.4,201.5 1009.7,200.9 1009,201 1008.3,201 1007.6,201.5 1006.9,201.2 1006.2,201 1005.5,201.2 1004.8,202.9 1004.1,201.6 1003.4,203.6 1002.7,202.1 1002,204.2 1001.3,202.9 1000.6,202.8 999.9,201.5 999.2,201.2 998.5,200.8 997.8,202.4 997.1,201.1 996.4,202.8 995.7,203.8 995,200.7 994.3,202.8 993.6,201.8 992.9,202.8 992.2,201.9 991.5,203 990.8,201.8 990.1,202 989.4,202.8 988.7,202.4 988,201.6 987.3,204.6 986.6,204.2 985.9,201.6 985.2,201.2 984.5,202.2 983.8,202.4 983.1,202.9 982.4,201.9 981.7,201.6 981,201.1 980.3,201.4 979.6,203.7 978.9,201.2 978.2,201.4 977.5,200.7 976.8,201.3 976.1,202.3 975.4,201.3 974.7,201.9 974,201.6 973.3,203.8 972.6,202.1 971.9,201.5 971.2,203.4 970.5,203.9 969.8,204 969.1,203 968.4,204.4 967.7,203.1 967,203.2 966.3,201.3 965.6,204 964.9,202.4 964.1,201 963.4,201.3 962.7,201.4 962,201.9 961.3,202.1 960.6,202.2 959.9,200.6 959.2,202.3 958.5,200.8 957.8,201.3 957.1,201.3 956.4,201 955.7,201.6 955,200.4 954.3,200.4 953.6,200.3 952.9,201 952.2,202.2 951.5,200.6 950.8,200.7 950.1,200.7 949.4,203.4 948.7,202.6 948,201.8 947.3,200.7 946.6,200.9 945.9,200.6 945.2,200.2 944.5,201.7 943.8,200.8 943.1,201.1 942.4,202.1 941.7,202.1 941,200.8 940.3,200.4 939.6,200.8 938.9,202.2 938.2,200.6 937.5,201.7 936.8,200.7 936.1,201.8 935.4,204.2 934.7,201.2 934,200.8 933.3,202.5 932.6,202.4 931.9,200.9 931.2,202.5 930.5,204.3 929.8,202.1 929.1,201.1 928.4,202.7 927.7,201.4 927,201.3 926.3,203.6 925.6,203.5 924.9,201.9 924.2,201.5 923.5,202.6 922.8,202.2 922.1,201.6 921.4,202.9 920.7,202.5 920,203.2 919.3,201.5 918.6,201.8 917.9,201.5 917.1,203.3 916.4,201.8 915.7,201.9 915,201.6 914.3,201.8 913.6,202.4 912.9,203.1 912.2,202.1 911.5,201.8 910.8,201.6 910.1,201.4 909.4,201.3 908.7,203.9 908,203.5 907.3,201.7 906.6,201.3 905.9,201.2 905.2,200.3 904.5,201.4 903.8,201.3 903.1,202.2 902.4,200.6 901.7,201.3 901,200.1 900.3,200.4 899.6,201.4 898.9,200.8 898.2,202.8 897.5,200.6 896.8,200.9 896.1,200.6 895.4,202.4 894.7,201.5 894,200.9 893.3,202.2 892.6,201 891.9,202.7 891.2,202.2 890.5,201.7 889.8,201 889.1,201.7 888.4,202.4 887.7,201.6 887,202.1 886.3,200.7 885.6,202.6 884.9,201.4 884.2,201.4 883.5,202.6 882.8,202.6 882.1,200.4 881.4,201.5 880.7,201.3 880,202.8 879.3,201 878.6,202.7 877.9,202.8 877.2,202 876.5,201.7 875.8,202.9 875.1,201.6 874.4,200.9 873.7,200.8 873,201.1 872.3,202.9 871.6,202.1 870.9,201.9 870.1,201.9 869.4,201.4 868.7,201.6 868,203 867.3,201.2 866.6,202.5 865.9,201.1 865.2,202.2 864.5,202.5 863.8,201.6 863.1,202.9 862.4,202.2 861.7,201.6 861,201.2 860.3,202.1 859.6,201.3 858.9,203.7 858.2,201.1 857.5,201.9 856.8,201.7 856.1,202.6 855.4,201 854.7,202.5 854,202.1 853.3,200.4 852.6,201.6 851.9,202.1 851.2,201.3 850.5,202.6 849.8,202.1 849.1,200.8 848.4,201.5 847.7,200.4 847,203.5" fill="#000" stroke="#000" stroke-width="0.8" stroke-linejoin="round"/>
<polyline points="1034.8,198 1035.6,170 1036.6,153 1038.5,148.5 1041,148 1042,147.7 1043,148.1 1044,147.8 1045.1,148.2 1046.1,148.1 1047.1,147.6 1048.1,148 1049.1,148 1050.2,147.9 1051.2,148.4 1052.2,148.7 1053.2,147.9 1054.2,147.9 1055.3,147.1 1056.3,147.9 1057.3,147.8 1058.3,147.1 1059.3,148.1 1060.4,148.2 1061.4,147.7 1062.4,147.9 1063.4,147.6 1064.4,148.3 1065.5,147.4 1066.5,147.9 1067.5,148.8" fill="none" stroke="#000" stroke-width="2.2" stroke-linejoin="round" stroke-linecap="round"/>
<polyline points="823.8,147.6 847.4,147.6" fill="none" stroke="#ff2d8d" stroke-width="2.6" stroke-linejoin="round" stroke-linecap="round"/>
<line x1="847.6" y1="146.5" x2="847.6" y2="389" stroke="#ff2d8d" stroke-width="3"/>
<polygon points="848,153.3 848.7,153.5 849.4,153.9 850.1,154 850.8,153.1 851.5,153.7 852.2,154.1 852.9,153.1 853.6,154.2 854.3,153.7 855,153.9 855.7,153.3 856.4,153.6 857.1,153.4 857.8,154 858.5,153.6 859.2,153.4 859.9,153.6 860.6,154 861.3,153.7 862,153.8 862.7,154 863.4,152.5 864.1,153.8 864.8,153.4 865.5,153.8 866.2,154.3 866.9,153.2 867.6,154.3 868.3,153.4 869,152.8 869.7,153.6 870.4,153.9 871.1,154.4 871.8,154.1 872.5,154.4 873.2,154.1 873.9,154 874.6,154 875.3,154.1 876,153.6 876.7,154.1 877.4,153.6 878.1,153.6 878.8,153.8 879.5,154.5 880.2,154.4 880.9,153.8 881.6,153.8 882.3,154.3 883,153.6 883.7,154.2 884.4,154.5 885.1,154.2 885.8,153.6 886.5,154 887.2,154.4 887.9,154.2 888.6,154.4 889.3,154.6 890,154 890.7,153.8 891.4,154.2 892.1,154 892.8,154.7 893.5,154.5 894.2,154.5 894.9,154.6 895.6,154.4 896.3,153.4 897,154.4 897.7,153.8 898.4,154.1 899.1,153.1 899.8,154.1 900.5,153.3 901.2,153.8 901.9,153.7 902.6,153.5 903.3,153.9 904,152.5 904.7,153 905.4,152.6 906.1,153 906.8,153.6 907.5,153.1 908.2,153.4 908.9,153.6 909.6,152.9 910.3,153.8 911,153.6 911.7,152.4 912.4,153.9 913.1,154.1 913.8,153.5 914.5,154 915.2,153.4 915.9,153.7 916.6,154.3 917.3,154.2 918,154.2 918.7,154.2 919.4,153.7 920.1,153.9 920.8,153.4 921.5,154.3 922.2,153.8 922.9,154.3 923.6,154.1 924.3,154 925,154 925.7,154.1 926.4,153.6 927.1,153.6 927.8,154.2 928.5,154.3 929.2,153.9 929.9,154.4 930.6,153.8 931.3,153.5 932,154 932.7,153.6 933.4,154 934.1,153.3 934.8,152.9 935.5,154.4 936.2,154.6 936.9,154.1 937.6,154 938.3,153.2 939,154.8 939.7,153.4 940.4,154.6 941.1,154.8 941.8,154.3 942.5,154.4 943.2,155.1 944,154.4 944.7,155 945.4,154.7 946.1,154.7 946.8,154.7 947.5,154.8 948.2,153.5 948.9,154.2 949.6,154.4 950.3,153 951,154.2 951.7,154.2 952.4,154.2 953.1,153.3 953.8,153.8 954.5,153.7 955.2,153.6 955.9,154 956.6,154.1 957.3,153.4 958,154.3 958.7,154.4 959.4,154.1 960.1,153.5 960.8,153.8 961.5,154.5 962.2,153.5 962.9,153.8 963.6,153.9 964.3,153.8 965,153.7 965.7,154.2 966.4,154.4 967.1,154.1 967.8,154.3 968.5,154.2 969.2,154.6 969.9,153.1 970.6,153.8 971.3,154.3 972,154.1 972.7,154.9 973.4,154.6 974.1,154.2 974.8,154.8 975.5,154.6 976.2,154.3 976.9,155.3 977.6,154.4 978.3,154.5 979,155 979.7,154.5 980.4,154.7 981.1,154.3 981.8,154.1 982.5,154.3 983.2,153.9 983.9,154.3 984.6,153.9 985.3,154.3 986,153.4 986.7,154.3 987.4,153.9 988.1,154 988.8,153.8 989.5,153.9 990.2,154.1 990.9,153.1 991.6,154 992.3,153.5 993,153.7 993.7,154.2 994.4,153.9 995.1,153.1 995.8,153.2 996.5,153.9 997.2,153.7 997.9,153.8 998.6,153.5 999.3,153.4 1000,154 1000.7,154.3 1001.4,153.6 1002.1,153.4 1002.8,153.8 1003.5,153.9 1004.2,154 1004.9,154.2 1005.6,153.8 1006.3,153.7 1007,154.1 1007.7,154 1008.4,154 1009.1,154 1009.8,153.5 1010.5,153.9 1011.2,153.9 1011.9,154 1012.6,153.9 1013.3,152.7 1014,153.9 1014.7,154.3 1015.4,154.4 1016.1,153.6 1016.8,154.2 1017.5,153.1 1018.2,153.7 1018.9,153.8 1019.6,153.7 1020.3,154.1 1021,153.6 1021.7,154.2 1022.4,154 1023.1,154.2 1023.8,153.7 1024.5,154 1025.2,153.6 1025.9,152.8 1026.6,153.2 1027.3,152.4 1028,153.3 1028.7,154.2 1029.4,153.9 1030.1,154.2 1030.8,153.7 1031.5,153.8 1032.2,154.1 1032.9,153.8 1033.6,153.6 1034.3,153.2 1035,154.3 1035.7,154.1 1036.4,153.7 1037.1,154.3 1037.8,154.6 1038.5,154.1 1038.5,157.5 1037.8,157 1037.1,157.4 1036.4,156.9 1035.7,157 1035,157.6 1034.3,157.7 1033.6,157.8 1032.9,157.6 1032.2,157.3 1031.5,157.5 1030.8,157.6 1030.1,157.1 1029.4,156.8 1028.7,157.1 1028,156.7 1027.3,156.6 1026.6,156.8 1025.9,157.5 1025.2,157 1024.5,157.6 1023.8,156.7 1023.1,157.5 1022.4,156.7 1021.7,156.6 1021,156.5 1020.3,156.8 1019.6,156.5 1018.9,156.4 1018.2,156.9 1017.5,157.3 1016.8,156.7 1016.1,157 1015.4,157.8 1014.7,157.9 1014,156.8 1013.3,156.8 1012.6,156.8 1011.9,156.5 1011.2,156.7 1010.5,157.2 1009.8,156.6 1009.1,156.6 1008.4,157.4 1007.7,156.7 1007,157 1006.3,157.1 1005.6,156.4 1004.9,156.7 1004.2,156.5 1003.5,156.6 1002.8,156.4 1002.1,156.7 1001.4,156.8 1000.7,156.6 1000,157.1 999.3,156.6 998.6,156.4 997.9,156.7 997.2,156.6 996.5,156.7 995.8,157.8 995.1,156.5 994.4,157.1 993.7,156.7 993,156.6 992.3,156.8 991.6,157 990.9,157 990.2,156.6 989.5,157.1 988.8,156.7 988.1,156.8 987.4,156.3 986.7,157.8 986,156.9 985.3,157.1 984.6,157 983.9,157.3 983.2,157.1 982.5,157.2 981.8,158 981.1,157.6 980.4,157.9 979.7,157.2 979,157.4 978.3,157.8 977.6,157.6 976.9,158.3 976.2,158 975.5,158 974.8,158.3 974.1,157.3 973.4,157.8 972.7,158.5 972,157.2 971.3,157.5 970.6,156.9 969.9,157.3 969.2,158 968.5,157.5 967.8,157.5 967.1,157 966.4,157 965.7,157.3 965,157.4 964.3,157.5 963.6,157.1 962.9,157.3 962.2,157.7 961.5,157.6 960.8,157.9 960.1,157.3 959.4,157.2 958.7,157 958,157.1 957.3,157.8 956.6,156.9 955.9,157.1 955.2,157.8 954.5,157.9 953.8,157.2 953.1,159.1 952.4,157.8 951.7,157.1 951,157.7 950.3,157.3 949.6,157.2 948.9,157 948.2,157 947.5,158 946.8,157.4 946.1,158.7 945.4,157.3 944.7,157.6 944,157.5 943.2,157.9 942.5,157.3 941.8,157 941.1,157.4 940.4,157.8 939.7,157.7 939,158.5 938.3,158.1 937.6,158.3 936.9,157.5 936.2,157.1 935.5,157.3 934.8,157.7 934.1,157 933.4,157.1 932.7,157.1 932,157 931.3,157.4 930.6,157 929.9,157.5 929.2,157 928.5,157 927.8,157.1 927.1,157.9 926.4,157.2 925.7,157.4 925,157.9 924.3,156.9 923.6,157 922.9,157.2 922.2,157.5 921.5,157.6 920.8,158.6 920.1,156.9 919.4,157.3 918.7,158 918,157.1 917.3,157.8 916.6,156.9 915.9,157.6 915.2,157.3 914.5,156.7 913.8,157 913.1,157.1 912.4,157.1 911.7,157 911,156.5 910.3,156.9 909.6,156.6 908.9,157.1 908.2,156.2 907.5,157.6 906.8,157.4 906.1,156.7 905.4,156.8 904.7,156.3 904,156.5 903.3,156.3 902.6,156.3 901.9,156.3 901.2,156.6 900.5,157.3 899.8,157.6 899.1,158 898.4,157.4 897.7,157 897,157.3 896.3,157 895.6,158 894.9,157 894.2,157.2 893.5,157.6 892.8,157.6 892.1,157.4 891.4,157.2 890.7,157.3 890,157.7 889.3,157.4 888.6,156.9 887.9,158.2 887.2,157.8 886.5,157 885.8,156.8 885.1,156.8 884.4,156.9 883.7,157.3 883,157.7 882.3,157.8 881.6,157.1 880.9,158.1 880.2,157.3 879.5,157.1 878.8,157.7 878.1,156.9 877.4,158.2 876.7,158 876,157.2 875.3,157.7 874.6,157.2 873.9,157.4 873.2,157.4 872.5,157.1 871.8,157.3 871.1,156.7 870.4,157.2 869.7,157.5 869,157.5 868.3,156.6 867.6,157 866.9,156.8 866.2,157.3 865.5,156.9 864.8,156.6 864.1,156.4 863.4,156.8 862.7,157.4 862,157.5 861.3,156.5 860.6,156.9 859.9,156.8 859.2,156.6 858.5,157.1 857.8,157.3 857.1,157.6 856.4,156.7 855.7,156.8 855,158 854.3,156.8 853.6,156.8 852.9,157 852.2,157.4 851.5,156.5 850.8,156.9 850.1,156.9 849.4,157.9 848.7,157.2 848,157.7" fill="#ff2d8d" stroke="#ff2d8d" stroke-width="0.8" stroke-linejoin="round"/>
<polyline points="1038.5,155 1039.3,148 1040,147.6 1041,148.1 1042,148.2 1043.1,147.7 1044.1,147.7 1045.1,147.5 1046.1,147.7 1047.1,147 1048.1,147.8 1049.2,147.7 1050.2,147.1 1051.2,148.6 1052.2,147.1 1053.2,147.1 1054.3,147.7 1055.3,146.6 1056.3,147.2 1057.3,146.8 1058.3,147.1 1059.4,147.5 1060.4,147.7 1061.4,148.1 1062.4,148 1063.4,148.2 1064.4,147.9 1065.5,147.3 1066.5,148.1 1067.5,147.3" fill="none" stroke="#ff2d8d" stroke-width="3.2" stroke-linejoin="round" stroke-linecap="round"/>
<text x="898" y="320.5" font-size="30.7" font-weight="bold">2 s</text>
<path d="M898 340.5H935.8V372" fill="none" stroke="#000" stroke-width="2.5" stroke-linejoin="miter" stroke-linecap="round"/>
<text x="948.5" y="374.5" font-size="30.7" font-weight="bold">0.2 nA</text>
<text x="1214.5" y="106.2" font-size="38" font-weight="bold">GluA2 (Q)/<tspan font-family="Liberation Serif, serif" font-weight="normal" font-style="italic">γ</tspan>8</text>
<line x1="1231.3" y1="148" x2="1231.3" y2="465" stroke="#000" stroke-width="2.2" stroke-linecap="round"/>
<polyline points="1232.5,230 1234,212 1236.2,208.5 1236.8,208.9 1237.4,208.9 1238,208.7 1238.6,209.4 1239.2,209.5 1239.8,210.4 1240.4,212 1241,212.3 1241.6,213.5 1242.2,213.6 1242.8,214.6 1243.4,214.9 1244,215.4 1244.6,215.6 1245.2,216.1 1245.8,217.5 1246.4,218.2 1247,219.1 1247.6,219 1248.2,220.7 1248.8,221.2 1249.4,221.6 1250,222.3 1250.6,222.6 1251.2,223.5 1251.8,223.9 1252.4,224.3 1253,224.1 1253.6,224.7 1254.2,224.9 1254.8,224.9 1255.4,225 1256,226 1256.6,227.9 1257.2,228.6 1257.8,229.5 1258.4,230 1259,230.8 1259.6,231.5 1260.2,231.4 1260.8,231.6 1261.4,231.6 1262,233.7 1262.6,234.9 1263.2,235.1 1263.8,234.9 1264.4,236.1 1265,236.4 1265.6,236.5 1266.2,237.2 1266.8,237.2 1267.4,238.2 1268,237.5 1268.6,238.4 1269.2,238.4 1269.8,238.8 1270.4,239.9 1271,240.2 1271.6,241.2 1272.2,241.3 1272.8,241.3 1273.4,241.8 1274,241.5 1274.6,241.7 1275.2,241.6 1275.8,241.5 1276.4,241.1 1277,240.9 1277.6,241.3 1278.2,241.6 1278.8,241.7 1279.4,242.1 1280,242.9 1280.6,242.8 1281.2,244.6 1281.8,245.5 1282.4,246.3 1283,246.4 1283.6,247.2 1284.2,246.9 1284.8,246.4 1285.4,246.3 1286,246.2 1286.6,247.2 1287.2,247.2 1287.8,247.3 1288.4,247.5 1289,247.3 1289.6,247 1290.2,247.1 1290.8,247.4 1291.4,248.4 1292,248.9 1292.6,249.9 1293.2,250.8 1293.8,251.2 1294.4,252.1 1295,251.4 1295.6,251.4 1296.2,251.1 1296.8,250.6 1297.4,250.9 1298,250.5 1298.6,251.9 1299.2,252.4 1299.8,252 1300.4,252.8 1301,253.9 1301.6,254.7 1302.2,255.3 1302.8,255 1303.4,255.7 1304,255.4 1304.6,255 1305.2,255.3 1305.8,254.5 1306.4,254.5 1307,255.5 1307.6,255.4 1308.2,255.1 1308.8,255.6 1309.4,257.1 1310,257.3 1310.6,258.2 1311.2,259 1311.8,259 1312.4,257.4 1313,257 1313.6,257 1314.2,257.4 1314.8,258 1315.4,258.6 1316,259 1316.6,259.4 1317.2,259.5 1317.8,258.6 1318.4,257.6 1319,258 1319.6,259.5 1320.2,258.7 1320.8,259 1321.4,259.4 1322,261 1322.6,260.8 1323.2,261.3 1323.8,261.6 1324.4,261.4 1325,261.1 1325.6,259.7 1326.2,259.4 1326.8,259.2 1327.4,259.6 1328,259.6 1328.6,260.1 1329.2,260.5 1329.8,260.8 1330.4,260.7 1331,261.1 1331.6,261.2 1332.2,261.6 1332.8,263.5 1333.4,263.5 1334,263.7 1334.6,262.8 1335.2,262.4 1335.8,262.4 1336.4,261.6 1337,262 1337.6,261.5 1338.2,262.2 1338.8,263.6 1339.4,264.2 1340,264.2 1340.6,263.5 1341.2,264.4 1341.8,264.9 1342.4,265 1343,264.4 1343.6,265.6 1344.2,266.5 1344.8,266.3 1345.4,265.2 1346,264.7 1346.6,264.4 1347.2,263.4 1347.8,263.7 1348.4,263.2 1349,264.9 1349.6,264.8 1350.2,264.9 1350.8,265.2 1351.4,264.5 1352,265.2 1352.6,264.8 1353.2,265.2 1353.8,266.4 1354.4,266.4 1355,267.2 1355.6,266.5 1356.2,265.5 1356.8,265.5 1357.4,264.5 1358,264.3 1358.6,264.6 1359.2,264.1 1359.8,264.4 1360.4,263.9 1361,264.7 1361.6,264.7 1362.2,264.2 1362.8,264.9 1363.4,265.9 1364,266.6 1364.6,266.1 1365.2,265.5 1365.8,266.4 1366.4,267.1 1367,267 1367.6,267.8 1368.2,267.7 1368.8,268.6 1369.4,268.5 1370,268.5 1370.6,268.2 1371.2,267.7 1371.8,267.7 1372.4,268.1 1373,268.3 1373.6,268.1 1374.2,269.2 1374.8,268.5 1375.4,268.7 1376,269.2 1376.6,268.6 1377.2,267.9 1377.8,267.7 1378.4,268.8 1379,268.4 1379.6,268 1380.2,267.8 1380.8,267.9 1381.4,267.3 1382,266.8 1382.6,266.9 1383.2,266.4 1383.8,266.5 1384.4,267.2 1385,267.3 1385.6,267.9 1386.2,268.2 1386.8,267.8 1387.4,267.7 1388,267.6 1388.6,268.4 1389.2,268.5 1389.8,268.4 1390.4,269.5 1391,269.6 1391.6,270.2 1392.2,269.4 1392.8,269.4 1393.4,270 1394,269.5 1394.6,270.2 1395.2,269.3 1395.8,269.5 1396.4,269.6 1397,271.3 1397.6,271.8 1398.2,271.7 1398.8,271.7 1399.4,272.3 1400,271.1 1400.6,268.9 1401.2,268.7 1401.8,268.2 1402.4,269.4 1403,269.4 1403.6,269.9 1404.2,270.1 1404.8,269.3 1405.4,269.3 1406,268.8 1406.6,268.6 1407.2,269.1 1407.8,269.5 1408.4,269.9 1409,270.7 1409.6,269.8 1410.2,269.6 1410.8,270.1 1411.4,270.6 1412,270.7 1412.6,270.4 1413.2,271.8 1413.8,272.6 1414.4,271.3 1415,270.5 1415.6,270.8 1416.2,271.6 1416.8,270.6 1417.4,270.1 1418,270.6" fill="none" stroke="#000" stroke-width="3.6" stroke-linejoin="round" stroke-linecap="round"/>
<polyline points="1418,270.6 1419.5,240 1420.8,207 1422.3,165 1424,158 1427,154.5 1432,152.5 1440,151 1451,150" fill="none" stroke="#000" stroke-width="2.4" stroke-linejoin="round" stroke-linecap="round"/>
<polyline points="1207.5,148.2 1231.5,148.2" fill="none" stroke="#ff2d8d" stroke-width="3.6" stroke-linejoin="round" stroke-linecap="round"/>
<line x1="1231.8" y1="146.5" x2="1231.8" y2="335" stroke="#ff2d8d" stroke-width="3"/>
<polygon points="1232,151.1 1232.7,151.3 1233.4,150.8 1234.1,151.1 1234.8,150.8 1235.5,150.6 1236.2,151.3 1236.9,151.1 1237.6,150.8 1238.3,151.1 1239,151.1 1239.7,151 1240.4,151 1241.1,151.2 1241.8,150.4 1242.5,151.1 1243.2,150.4 1243.9,151.3 1244.6,150.6 1245.3,151.2 1246,150.8 1246.7,151 1247.4,151.1 1248.1,151 1248.8,150.8 1249.5,151 1250.2,151.2 1250.9,150.9 1251.6,150.9 1252.3,151.1 1253,151.3 1253.7,151.1 1254.4,150.4 1255.1,150.9 1255.9,151 1256.6,151.5 1257.3,151.4 1258,151.4 1258.7,151.1 1259.4,151.1 1260.1,151.4 1260.8,150.8 1261.5,151.6 1262.2,151 1262.9,150.7 1263.6,151.5 1264.3,151.5 1265,151.7 1265.7,151.8 1266.4,151.8 1267.1,150.9 1267.8,151.6 1268.5,151.3 1269.2,151.2 1269.9,151.3 1270.6,150.8 1271.3,151.4 1272,151.3 1272.7,151.4 1273.4,151.6 1274.1,151.7 1274.8,151.7 1275.5,150.6 1276.2,151.6 1276.9,151.8 1277.6,151.7 1278.3,151.3 1279,151.2 1279.7,151.5 1280.4,151.1 1281.1,150.8 1281.8,151.1 1282.5,151.6 1283.2,151.5 1283.9,152 1284.6,151.2 1285.3,151.6 1286,151.4 1286.7,151.9 1287.4,151.4 1288.1,151.9 1288.8,152 1289.5,151.9 1290.2,151.1 1290.9,151.6 1291.6,151.9 1292.3,151.8 1293,151.7 1293.7,151.7 1294.4,151.8 1295.1,152 1295.8,152.1 1296.5,152.1 1297.2,151.1 1297.9,151.4 1298.6,151.7 1299.3,151.7 1300,150.9 1300.7,152 1301.4,151.4 1302.1,151 1302.9,151.7 1303.6,151.9 1304.3,151.9 1305,151.4 1305.7,151.3 1306.4,151.7 1307.1,151.3 1307.8,151.5 1308.5,151.6 1309.2,151.4 1309.9,151 1310.6,150.8 1311.3,150.2 1312,151.2 1312.7,151.1 1313.4,150.7 1314.1,151.3 1314.8,150.9 1315.5,151.3 1316.2,151.6 1316.9,151.1 1317.6,151.4 1318.3,151.5 1319,151.5 1319.7,150.8 1320.4,151.4 1321.1,150.9 1321.8,151.3 1322.5,151 1323.2,151.6 1323.9,151.4 1324.6,150.8 1325.3,150.8 1326,151.5 1326.7,151.3 1327.4,151 1328.1,151.6 1328.8,151.5 1329.5,151.6 1330.2,151.8 1330.9,150.6 1331.6,151.1 1332.3,151.4 1333,150.8 1333.7,151.5 1334.4,151.7 1335.1,151.6 1335.8,151.4 1336.5,151.8 1337.2,151.4 1337.9,150.7 1338.6,151.8 1339.3,150.9 1340,151.4 1340.7,151.6 1341.4,151.6 1342.1,151.7 1342.8,151.6 1343.5,151.1 1344.2,151.2 1344.9,151.2 1345.6,151 1346.3,151.4 1347,151.5 1347.7,151.4 1348.4,152.2 1349.1,152 1349.9,151.5 1350.6,151.9 1351.3,152.2 1352,152.1 1352.7,151.9 1353.4,151.7 1354.1,151.6 1354.8,151.8 1355.5,152.1 1356.2,151 1356.9,151.1 1357.6,152 1358.3,152.2 1359,151.6 1359.7,151.7 1360.4,151.9 1361.1,152.1 1361.8,151.9 1362.5,152 1363.2,151.1 1363.9,151.6 1364.6,150.6 1365.3,150.4 1366,151 1366.7,151.1 1367.4,151.6 1368.1,151.2 1368.8,151.2 1369.5,151.3 1370.2,151.3 1370.9,151.3 1371.6,151.7 1372.3,151.5 1373,151 1373.7,151 1374.4,151.6 1375.1,151.3 1375.8,151.2 1376.5,151 1377.2,151.2 1377.9,151.8 1378.6,151.8 1379.3,152 1380,151.5 1380.7,151.7 1381.4,151.3 1382.1,151.7 1382.8,150.5 1383.5,151.6 1384.2,151.2 1384.9,151.7 1385.6,151.4 1386.3,151.6 1387,151.4 1387.7,151.7 1388.4,151.3 1389.1,151.6 1389.8,151.7 1390.5,150.9 1391.2,150.7 1391.9,151.3 1392.6,151.1 1393.3,151.2 1394,151.5 1394.7,150.8 1395.4,151.5 1396.1,151.6 1396.9,151.2 1397.6,151 1398.3,151.3 1399,151.4 1399.7,151.4 1400.4,150.5 1401.1,151.4 1401.8,150.5 1402.5,150.8 1403.2,151.3 1403.9,150.8 1404.6,151.4 1405.3,150.9 1406,151.2 1406.7,150.8 1407.4,151 1408.1,151.4 1408.8,151.1 1409.5,151.2 1410.2,149.8 1410.9,151.4 1411.6,150.5 1412.3,151.4 1413,151 1413.7,151.5 1414.4,150.8 1415.1,150.8 1415.8,151.8 1416.5,151.7 1417.2,150.7 1417.9,151.4 1418.6,151.9 1419.3,151.8 1420,151.6 1420,154.9 1419.3,155.1 1418.6,154.9 1417.9,154.8 1417.2,155.2 1416.5,154.7 1415.8,156.6 1415.1,154.6 1414.4,154.6 1413.7,154.6 1413,154.5 1412.3,155.9 1411.6,154.7 1410.9,155.2 1410.2,155.6 1409.5,154.5 1408.8,155 1408.1,154.8 1407.4,154.1 1406.7,155.3 1406,155.2 1405.3,154.6 1404.6,154.5 1403.9,154.5 1403.2,155.2 1402.5,155.4 1401.8,154.7 1401.1,156.1 1400.4,154.5 1399.7,154.3 1399,154.9 1398.3,154.9 1397.6,154.9 1396.9,155.5 1396.1,155.1 1395.4,155 1394.7,155 1394,155 1393.3,154.4 1392.6,155.6 1391.9,154.6 1391.2,154.6 1390.5,154.6 1389.8,154.8 1389.1,155 1388.4,154.7 1387.7,155.3 1387,155 1386.3,155.6 1385.6,155 1384.9,155.3 1384.2,156.1 1383.5,155.3 1382.8,154.8 1382.1,155.2 1381.4,154.8 1380.7,155.1 1380,155.2 1379.3,154.9 1378.6,155.7 1377.9,155 1377.2,155.3 1376.5,155.3 1375.8,156 1375.1,155 1374.4,155 1373.7,154.7 1373,155.2 1372.3,155.6 1371.6,155.1 1370.9,155 1370.2,155 1369.5,155.2 1368.8,155 1368.1,155.1 1367.4,154.9 1366.7,155.5 1366,155.2 1365.3,155.3 1364.6,154.6 1363.9,155 1363.2,155 1362.5,156 1361.8,156 1361.1,155.6 1360.4,155.8 1359.7,155.3 1359,156.4 1358.3,155.3 1357.6,155.3 1356.9,155.1 1356.2,155.8 1355.5,155.5 1354.8,155.3 1354.1,155.6 1353.4,155.4 1352.7,155.4 1352,155.2 1351.3,155.2 1350.6,155.1 1349.9,155.4 1349.1,155.7 1348.4,156.2 1347.7,156.1 1347,155.3 1346.3,155.3 1345.6,155.2 1344.9,155 1344.2,155.3 1343.5,155.9 1342.8,155.7 1342.1,156 1341.4,155.2 1340.7,155.1 1340,154.9 1339.3,155.3 1338.6,156 1337.9,155.1 1337.2,155.2 1336.5,155.1 1335.8,154.9 1335.1,155.4 1334.4,155.6 1333.7,155 1333,154.9 1332.3,156 1331.6,155.2 1330.9,154.8 1330.2,155.7 1329.5,155.5 1328.8,154.9 1328.1,155 1327.4,154.6 1326.7,155.3 1326,154.4 1325.3,155.1 1324.6,154.6 1323.9,155 1323.2,154.7 1322.5,155.6 1321.8,154.8 1321.1,154.7 1320.4,155.7 1319.7,154.9 1319,154.5 1318.3,154.4 1317.6,154.7 1316.9,155.6 1316.2,155.4 1315.5,155.6 1314.8,154.7 1314.1,154.5 1313.4,155 1312.7,154.7 1312,154.9 1311.3,155.1 1310.6,155 1309.9,155.1 1309.2,154.8 1308.5,154.9 1307.8,155.5 1307.1,155.1 1306.4,155 1305.7,155.3 1305,154.8 1304.3,155 1303.6,155 1302.9,155.4 1302.1,155 1301.4,155 1300.7,155.3 1300,154.9 1299.3,155.6 1298.6,155.2 1297.9,155.2 1297.2,155.1 1296.5,155.4 1295.8,155.3 1295.1,156 1294.4,155.1 1293.7,155.5 1293,155.8 1292.3,156.3 1291.6,156.4 1290.9,155.2 1290.2,155.2 1289.5,155.1 1288.8,155.6 1288.1,155.2 1287.4,155.6 1286.7,155.8 1286,155.6 1285.3,155.7 1284.6,155.5 1283.9,155.6 1283.2,155.1 1282.5,155 1281.8,155.7 1281.1,154.6 1280.4,154.7 1279.7,155.3 1279,155.4 1278.3,154.8 1277.6,154.9 1276.9,155.5 1276.2,155.5 1275.5,155.4 1274.8,155.1 1274.1,155 1273.4,155.4 1272.7,154.8 1272,154.9 1271.3,155.2 1270.6,155.3 1269.9,155.7 1269.2,154.7 1268.5,155 1267.8,155.4 1267.1,155.2 1266.4,155.4 1265.7,155.7 1265,155.6 1264.3,155 1263.6,155.2 1262.9,154.5 1262.2,154.7 1261.5,154.5 1260.8,154.7 1260.1,154.5 1259.4,155.1 1258.7,154.9 1258,154.4 1257.3,154.8 1256.6,154.5 1255.9,154.8 1255.1,154.3 1254.4,154.8 1253.7,155.6 1253,154.2 1252.3,154.2 1251.6,154.6 1250.9,154.6 1250.2,154.4 1249.5,154.3 1248.8,154 1248.1,154.1 1247.4,154.7 1246.7,154.6 1246,154.6 1245.3,154.5 1244.6,155.3 1243.9,154.3 1243.2,154.2 1242.5,154.3 1241.8,154.4 1241.1,154.8 1240.4,154.5 1239.7,154.8 1239,155.1 1238.3,154.4 1237.6,154.4 1236.9,154.7 1236.2,154.2 1235.5,154.2 1234.8,154.2 1234.1,154.6 1233.4,155.2 1232.7,154.5 1232,156.1" fill="#ff2d8d" stroke="#ff2d8d" stroke-width="0.8" stroke-linejoin="round"/>
<polyline points="1419,153.2 1422,152 1425,148.5 1427,148 1428,147.9 1429,147.4 1430,147.8 1431,147.9 1432,147.7 1433,148.1 1434,148 1435,147.5 1436,147.9 1437,148.4 1438,148.3 1439,147.8 1440,148.1 1441,147.6 1442,147.4 1443,148 1444,147.9 1445,148 1446,147.8 1447,147.9 1448,147.6 1449,147.9 1450,148 1451,147.8" fill="none" stroke="#ff2d8d" stroke-width="3.6" stroke-linejoin="round" stroke-linecap="round"/>
<text x="1278" y="327" font-size="30.7" font-weight="bold">2 s</text>
<path d="M1282 350H1320.8V385" fill="none" stroke="#000" stroke-width="2.5" stroke-linejoin="miter" stroke-linecap="round"/>
<text x="1327.5" y="379.5" font-size="30.7" font-weight="bold">0.5 nA</text>
<path d="M1694.5 86.8V445.2 M1688.5 439.2H1937.9" fill="none" stroke="#000" stroke-width="3"/>
<path d=" M1689 380.7H1694.5 M1689 322.1H1694.5 M1689 263.6H1694.5 M1689 205.1H1694.5 M1689 146.5H1694.5 M1689 88H1694.5 M1755 439.2V444.8 M1815.6 439.2V444.8 M1876.2 439.2V444.8 M1936.7 439.2V444.8" fill="none" stroke="#000" stroke-width="2.5" stroke-linecap="round"/>
<text x="1674.5" y="449.2" font-size="31" text-anchor="end">0.0</text>
<text x="1674.5" y="390.7" font-size="31" text-anchor="end">0.2</text>
<text x="1674.5" y="332.1" font-size="31" text-anchor="end">0.4</text>
<text x="1674.5" y="273.6" font-size="31" text-anchor="end">0.6</text>
<text x="1674.5" y="215.1" font-size="31" text-anchor="end">0.8</text>
<text x="1674.5" y="156.5" font-size="31" text-anchor="end">1.0</text>
<text x="1674.5" y="98" font-size="31" text-anchor="end">1.2</text>
<text x="1691.3" y="485.1" font-size="31" text-anchor="middle">-1</text>
<text x="1755" y="485.1" font-size="31" text-anchor="middle">0</text>
<text x="1815.6" y="485.1" font-size="31" text-anchor="middle">1</text>
<text x="1876.2" y="485.1" font-size="31" text-anchor="middle">2</text>
<text x="1936.7" y="485.1" font-size="31" text-anchor="middle">3</text>
<text x="1599.8" y="264" font-size="33" font-weight="bold" text-anchor="middle" transform="rotate(-90 1599.8 264)">Steady-State Inhibition</text>
<text x="1816" y="550.4" font-size="33" font-weight="bold" text-anchor="middle">Log [Memantine] (<tspan font-family="Liberation Serif, serif" font-weight="normal">μ</tspan>M)</text>
<circle cx="1755" cy="436.3" r="7.9" fill="#ff2010" stroke="#000" stroke-width="0.9"/>
<circle cx="1755" cy="424.6" r="7.9" fill="#ff2010" stroke="#000" stroke-width="0.9"/>
<circle cx="1755" cy="415.8" r="7.9" fill="#ff2010" stroke="#000" stroke-width="0.9"/>
<circle cx="1815.6" cy="395.3" r="7.9" fill="#ff2010" stroke="#000" stroke-width="0.9"/>
<circle cx="1815.6" cy="386.6" r="7.9" fill="#ff2010" stroke="#000" stroke-width="0.9"/>
<circle cx="1815.6" cy="380.7" r="7.9" fill="#ff2010" stroke="#000" stroke-width="0.9"/>
<circle cx="1858" cy="284.1" r="7.9" fill="#ff2010" stroke="#000" stroke-width="0.9"/>
<circle cx="1858" cy="292.9" r="7.9" fill="#ff2010" stroke="#000" stroke-width="0.9"/>
<circle cx="1858" cy="301.7" r="7.9" fill="#ff2010" stroke="#000" stroke-width="0.9"/>
<circle cx="1858" cy="310.4" r="7.9" fill="#ff2010" stroke="#000" stroke-width="0.9"/>
<circle cx="1876.2" cy="234.3" r="7.9" fill="#ff2010" stroke="#000" stroke-width="0.9"/>
<circle cx="1876.2" cy="249" r="7.9" fill="#ff2010" stroke="#000" stroke-width="0.9"/>
<circle cx="1876.2" cy="263.6" r="7.9" fill="#ff2010" stroke="#000" stroke-width="0.9"/>
<circle cx="1918.5" cy="175.8" r="7.9" fill="#ff2010" stroke="#000" stroke-width="0.9"/>
<circle cx="1918.5" cy="184.6" r="7.9" fill="#ff2010" stroke="#000" stroke-width="0.9"/>
<circle cx="1918.5" cy="190.4" r="7.9" fill="#ff2010" stroke="#000" stroke-width="0.9"/>
<circle cx="1936.7" cy="158.2" r="7.9" fill="#ff2010" stroke="#000" stroke-width="0.9"/>
<circle cx="1936.7" cy="167" r="7.9" fill="#ff2010" stroke="#000" stroke-width="0.9"/>
<circle cx="1936.7" cy="175.8" r="7.9" fill="#ff2010" stroke="#000" stroke-width="0.9"/>
<circle cx="1755" cy="418.8" r="7.8" fill="#2000ff" stroke="#000" stroke-width="1.7"/>
<circle cx="1755" cy="424.6" r="7.8" fill="#2000ff" stroke="#000" stroke-width="1.7"/>
<circle cx="1755" cy="427.5" r="7.8" fill="#2000ff" stroke="#000" stroke-width="1.7"/>
<circle cx="1815.6" cy="374.8" r="7.8" fill="#2000ff" stroke="#000" stroke-width="1.7"/>
<circle cx="1815.6" cy="380.7" r="7.8" fill="#2000ff" stroke="#000" stroke-width="1.7"/>
<circle cx="1815.6" cy="389.5" r="7.8" fill="#2000ff" stroke="#000" stroke-width="1.7"/>
<circle cx="1815.6" cy="395.3" r="7.8" fill="#2000ff" stroke="#000" stroke-width="1.7"/>
<circle cx="1858" cy="269.5" r="7.8" fill="#2000ff" stroke="#000" stroke-width="1.7"/>
<circle cx="1858" cy="307.5" r="7.8" fill="#2000ff" stroke="#000" stroke-width="1.7"/>
<circle cx="1858" cy="316.3" r="7.8" fill="#2000ff" stroke="#000" stroke-width="1.7"/>
<circle cx="1858" cy="325.1" r="7.8" fill="#2000ff" stroke="#000" stroke-width="1.7"/>
<circle cx="1858" cy="333.9" r="7.8" fill="#2000ff" stroke="#000" stroke-width="1.7"/>
<circle cx="1876.2" cy="246" r="7.8" fill="#2000ff" stroke="#000" stroke-width="1.7"/>
<circle cx="1876.2" cy="257.7" r="7.8" fill="#2000ff" stroke="#000" stroke-width="1.7"/>
<circle cx="1876.2" cy="272.4" r="7.8" fill="#2000ff" stroke="#000" stroke-width="1.7"/>
<circle cx="1876.2" cy="287" r="7.8" fill="#2000ff" stroke="#000" stroke-width="1.7"/>
<circle cx="1918.5" cy="175.8" r="7.8" fill="#2000ff" stroke="#000" stroke-width="1.7"/>
<circle cx="1918.5" cy="181.6" r="7.8" fill="#2000ff" stroke="#000" stroke-width="1.7"/>
<circle cx="1918.5" cy="187.5" r="7.8" fill="#2000ff" stroke="#000" stroke-width="1.7"/>
<circle cx="1918.5" cy="190.4" r="7.8" fill="#2000ff" stroke="#000" stroke-width="1.7"/>
<circle cx="1936.7" cy="164.1" r="7.8" fill="#2000ff" stroke="#000" stroke-width="1.7"/>
<circle cx="1936.7" cy="169.9" r="7.8" fill="#2000ff" stroke="#000" stroke-width="1.7"/>
<circle cx="1936.7" cy="175.8" r="7.8" fill="#2000ff" stroke="#000" stroke-width="1.7"/>
<circle cx="1936.7" cy="178.7" r="7.8" fill="#2000ff" stroke="#000" stroke-width="1.7"/>
<polyline points="1694.5,431.4 1698.6,431.3 1702.7,431.2 1706.8,431.1 1710.9,430.9 1715,430.8 1719.1,430.6 1723.2,430.3 1727.3,430.1 1731.4,429.7 1735.6,429.4 1739.7,429 1743.8,428.5 1747.9,427.9 1752,427.2 1756.1,426.4 1760.2,425.5 1764.3,424.5 1768.4,423.2 1772.5,421.8 1776.6,420.2 1780.7,418.3 1784.8,416.2 1788.9,413.7 1793,410.8 1797.1,407.6 1801.2,403.9 1805.3,399.7 1809.4,395 1813.5,389.7 1817.7,383.9 1821.8,377.4 1825.9,370.3 1830,362.5 1834.1,354.2 1838.2,345.2 1842.3,335.8 1846.4,325.9 1850.5,315.7 1854.6,305.2 1858.7,294.7 1862.8,284.2 1866.9,273.8 1871,263.7 1875.1,253.9 1879.2,244.6 1883.3,235.9 1887.4,227.8 1891.5,220.2 1895.6,213.3 1899.8,207.1 1903.9,201.4 1908,196.4 1912.1,191.8 1916.2,187.8 1920.3,184.3 1924.4,181.2 1928.5,178.5 1932.6,176.1 1936.7,174.1" fill="none" stroke="#2000ff" stroke-width="8.6" stroke-linejoin="round" stroke-linecap="round"/>
<polyline points="1694.5,431.4 1698.6,431.3 1702.7,431.2 1706.8,431.1 1710.9,430.9 1715,430.8 1719.1,430.6 1723.2,430.3 1727.3,430.1 1731.4,429.7 1735.6,429.4 1739.7,429 1743.8,428.5 1747.9,427.9 1752,427.2 1756.1,426.4 1760.2,425.5 1764.3,424.5 1768.4,423.2 1772.5,421.8 1776.6,420.2 1780.7,418.3 1784.8,416.2 1788.9,413.7 1793,410.8 1797.1,407.6 1801.2,403.9 1805.3,399.7 1809.4,395 1813.5,389.7 1817.7,383.9 1821.8,377.4 1825.9,370.3 1830,362.5 1834.1,354.2 1838.2,345.2 1842.3,335.8 1846.4,325.9 1850.5,315.7 1854.6,305.2 1858.7,294.7 1862.8,284.2 1866.9,273.8 1871,263.7 1875.1,253.9 1879.2,244.6 1883.3,235.9 1887.4,227.8 1891.5,220.2 1895.6,213.3 1899.8,207.1 1903.9,201.4 1908,196.4 1912.1,191.8 1916.2,187.8 1920.3,184.3 1924.4,181.2 1928.5,178.5 1932.6,176.1 1936.7,174.1" fill="none" stroke="#ff2010" stroke-width="4" stroke-linejoin="round" stroke-linecap="butt" stroke-dasharray="15 7.5"/>
<circle cx="1716.3" cy="62.7" r="7.8" fill="#ff2010" stroke="#000" stroke-width="0.8"/>
<circle cx="1716.3" cy="103.5" r="7.8" fill="#2000ff" stroke="#000" stroke-width="1.7"/>
<text x="1767" y="73" font-size="30" font-weight="bold">GluA2(Q)/<tspan font-family="Liberation Serif, serif" font-weight="normal" font-style="italic">γ</tspan>8</text>
<text x="1767" y="113.5" font-size="30" font-weight="bold">GluA2(Q)/<tspan font-family="Liberation Serif, serif" font-weight="normal" font-style="italic">γ</tspan><tspan font-family="Liberation Serif, serif" font-weight="normal">2</tspan></text>
<text x="1" y="767" font-size="38" font-weight="bold">GluA2 (Q) + CTZ</text>
<polyline points="27.5,796 28.1,793.9 28.7,794.7 29.3,796.5 29.9,796.7 30.6,795.5 31.2,795.2 31.8,794.3 32.4,795.6 33,795.9 33.6,794.1 34.2,795.7 34.9,795.7 35.5,795.7 36.1,794.4 36.7,795.7 37.3,794.1 37.9,796.5 38.5,795.4 39.1,794.4 39.8,796.4 40.4,796.2 41,794.8 41.6,797.1 42.2,794.5 42.8,795.6 43.4,796.2 44,793.5 44.7,796.1 45.3,795.2 45.9,795.3 46.5,794.4 47.1,795.6 47.7,794.4 48.3,794.5 48.9,794.9 49.5,794.3 50.2,796.6 50.8,794.2 51.4,794.7 52,795" fill="none" stroke="#000" stroke-width="2" stroke-linejoin="round" stroke-linecap="round"/>
<path d="M52 795V1052" fill="none" stroke="#000" stroke-width="2.8"/>
<polygon points="52,1047.7 52.6,1046.1 53.2,1046.8 53.8,1047 54.4,1046.2 55,1047 55.6,1047.4 56.2,1046.2 56.8,1043.4 57.4,1044.1 58,1044.5 58.6,1044.9 59.2,1046.7 59.8,1044.2 60.4,1046.6 61,1044.8 61.6,1044.2 62.2,1046.2 62.8,1046.3 63.4,1046.6 64,1044.7 64.6,1045.1 65.2,1046.4 65.8,1044 66.4,1046.6 67,1047.4 67.6,1043.8 68.2,1047 68.8,1048.2 69.4,1045.8 70,1048.4 70.6,1048.6 71.3,1048.4 71.9,1045.8 72.5,1046.6 73.1,1047.8 73.7,1048.5 74.3,1046.7 74.9,1048.4 75.5,1045.4 76.1,1047.4 76.7,1046.3 77.3,1047.4 77.9,1044.9 78.5,1043.6 79.1,1047.6 79.7,1047.1 80.3,1047.8 80.9,1046.9 81.5,1047 82.1,1047.5 82.7,1046.4 83.3,1046.4 83.9,1045.7 84.5,1045.1 85.1,1045.2 85.7,1045.7 86.3,1040.1 86.9,1045.3 87.5,1046.8 88.1,1046.8 88.7,1044.3 89.3,1044.5 89.9,1047 90.5,1046.3 91.1,1047 91.7,1046.7 92.3,1045.9 92.9,1046.4 93.5,1046.8 94.1,1044.8 94.7,1046.8 95.3,1047.9 95.9,1045.9 96.5,1045.1 97.1,1045.8 97.7,1044.1 98.3,1046 98.9,1046.3 99.5,1047.9 100.1,1045.4 100.7,1047.5 101.3,1045.3 101.9,1047.3 102.5,1043.5 103.1,1044.4 103.7,1046.3 104.3,1047.1 104.9,1047 105.5,1046.5 106.1,1046.2 106.7,1044.1 107.3,1045 107.9,1044.4 108.6,1042.9 109.2,1043.7 109.8,1045 110.4,1046.1 111,1043.7 111.6,1045.9 112.2,1044.6 112.8,1047 113.4,1045.1 114,1046.5 114.6,1042.4 115.2,1046.2 115.8,1044.6 116.4,1046.7 117,1047.5 117.6,1046.9 118.2,1047 118.8,1045.4 119.4,1045.6 120,1046.7 120.6,1045.3 121.2,1045.4 121.8,1047.7 122.4,1047.6 123,1048.2 123.6,1047.3 124.2,1048.1 124.8,1048 125.4,1048.5 126,1046.3 126.6,1046 127.2,1045.9 127.8,1048.3 128.4,1048.9 129,1045.9 129.6,1048.1 130.2,1047.7 130.8,1049 131.4,1047.8 132,1046.8 132.6,1049.4 133.2,1047.4 133.8,1049.4 134.4,1046.4 135,1049.1 135.6,1049.2 136.2,1048.3 136.8,1047.8 137.4,1048.6 138,1047.1 138.6,1049.1 139.2,1048.8 139.8,1046.8 140.4,1047.2 141,1048.5 141.6,1048.4 142.2,1049 142.8,1048.8 143.4,1045.7 144,1043.9 144.6,1049 145.2,1048.1 145.8,1046.1 146.5,1046.6 147.1,1047.7 147.7,1046.5 148.3,1047.9 148.9,1044.7 149.5,1048.2 150.1,1046.6 150.7,1047.3 151.3,1047 151.9,1044.2 152.5,1047.3 153.1,1045.8 153.7,1046.5 154.3,1044.8 154.9,1046.1 155.5,1043.8 156.1,1046.9 156.7,1045.2 157.3,1045.8 157.9,1047.1 158.5,1043 159.1,1045.6 159.7,1045.5 160.3,1045.7 160.9,1044.4 161.5,1045.1 162.1,1045.9 162.7,1045.9 163.3,1047.4 163.9,1048.2 164.5,1046.9 165.1,1048.5 165.7,1048 166.3,1048.3 166.9,1046 167.5,1046.7 168.1,1044.3 168.7,1047.4 169.3,1046.5 169.9,1046.5 170.5,1046.8 171.1,1043.8 171.7,1047.4 172.3,1045 172.9,1046.2 173.5,1045.9 174.1,1046.2 174.7,1046.9 175.3,1047.3 175.9,1043.7 176.5,1048.1 177.1,1045.5 177.7,1045.6 178.3,1046.1 178.9,1047.8 179.5,1048.5 180.1,1046.4 180.7,1048.1 181.3,1047.9 181.9,1047.3 182.5,1047.6 183.1,1046.9 183.7,1045.8 184.4,1046.1 185,1046.7 185.6,1044.3 186.2,1046.2 186.8,1047 187.4,1042.3 188,1046.5 188.6,1046.3 189.2,1046.4 189.8,1045.1 190.4,1043.2 191,1044.1 191.6,1046.7 192.2,1044.2 192.8,1044.6 193.4,1045.2 194,1041.7 194.6,1045.9 195.2,1047.6 195.8,1045.7 196.4,1047.7 197,1045.4 197.6,1048.1 198.2,1046.1 198.8,1047.6 199.4,1047.8 200,1044.8 200.6,1046.5 201.2,1045.9 201.8,1047.8 202.4,1047.9 203,1048 203.6,1047.7 204.2,1047.9 204.8,1045.9 205.4,1046.1 206,1046 206.6,1046.9 207.2,1044.4 207.8,1045.4 208.4,1045.3 209,1047.1 209.6,1046.6 210.2,1046.5 210.8,1045.6 211.4,1046.8 212,1044 212.6,1040.7 213.2,1047 213.8,1043.6 214.4,1045.3 215,1044.7 215.6,1045.9 216.2,1044.9 216.8,1047.1 217.4,1047.1 218,1045.7 218.6,1044.6 219.2,1046.9 219.8,1047.2 220.4,1046.7 221,1044.1 221.7,1047.2 222.3,1047.4 222.9,1047.9 223.5,1047.7 224.1,1047.2 224.7,1046.2 225.3,1044 225.9,1044.2 226.5,1047.5 227.1,1047.5 227.7,1048 228.3,1046.3 228.9,1047.6 229.5,1047.2 230.1,1045.7 230.7,1048.5 231.3,1047.7 231.9,1047.2 232.5,1046.6 233.1,1045.6 233.7,1047.3 234.3,1047 234.9,1047.4 235.5,1048.4 236.1,1048.2 236.7,1046.6 237.3,1047 237.9,1046.7 238.5,1048.3 239.1,1046.5 239.7,1045.8 240.3,1047.1 240.3,1056 239.7,1057.9 239.1,1056.5 238.5,1059.8 237.9,1056.3 237.3,1056.8 236.7,1057.7 236.1,1057.2 235.5,1056.6 234.9,1057.1 234.3,1060.1 233.7,1055.9 233.1,1058.4 232.5,1056.5 231.9,1056.8 231.3,1056.5 230.7,1057.8 230.1,1057 229.5,1055.4 228.9,1055.5 228.3,1059.3 227.7,1056.5 227.1,1060.4 226.5,1056.8 225.9,1055.8 225.3,1058.7 224.7,1056.9 224.1,1057.8 223.5,1058.1 222.9,1057.6 222.3,1056.4 221.7,1056.8 221,1058.8 220.4,1055.8 219.8,1056.2 219.2,1057 218.6,1056.9 218,1055.9 217.4,1055.6 216.8,1055.9 216.2,1055.2 215.6,1056.8 215,1057.6 214.4,1055.7 213.8,1055.5 213.2,1058 212.6,1055 212,1054.2 211.4,1058 210.8,1054.8 210.2,1054.3 209.6,1054.5 209,1056.1 208.4,1057.1 207.8,1054.4 207.2,1054.8 206.6,1056.5 206,1056 205.4,1056.9 204.8,1055.2 204.2,1055.4 203.6,1056.6 203,1057.8 202.4,1059.5 201.8,1057.3 201.2,1056.3 200.6,1055.7 200,1057.1 199.4,1057.8 198.8,1057.3 198.2,1058.7 197.6,1057.8 197,1056.2 196.4,1056.8 195.8,1057.3 195.2,1055.6 194.6,1055.4 194,1055.5 193.4,1055.1 192.8,1055.2 192.2,1056.3 191.6,1056.1 191,1055.7 190.4,1054.5 189.8,1057.4 189.2,1056 188.6,1055.6 188,1055.3 187.4,1056.9 186.8,1055.5 186.2,1058.8 185.6,1056.4 185,1055.5 184.4,1057.6 183.7,1057.5 183.1,1055.7 182.5,1056.8 181.9,1058.2 181.3,1056.4 180.7,1056.5 180.1,1058.6 179.5,1057.3 178.9,1057.7 178.3,1056.7 177.7,1055.2 177.1,1056.5 176.5,1055.4 175.9,1056.7 175.3,1057.6 174.7,1055.2 174.1,1056.7 173.5,1057.4 172.9,1058.8 172.3,1056.5 171.7,1058.5 171.1,1056.3 170.5,1055.2 169.9,1056.9 169.3,1056.2 168.7,1055.7 168.1,1058.5 167.5,1056.8 166.9,1056 166.3,1058.8 165.7,1058.2 165.1,1057.3 164.5,1057.2 163.9,1057.8 163.3,1057.8 162.7,1056.5 162.1,1056.6 161.5,1055.4 160.9,1057.5 160.3,1056.3 159.7,1056.5 159.1,1058.8 158.5,1057.1 157.9,1057.1 157.3,1055.6 156.7,1056.4 156.1,1055.3 155.5,1056.8 154.9,1055.2 154.3,1054.9 153.7,1055.2 153.1,1058.1 152.5,1056.9 151.9,1056.3 151.3,1059.6 150.7,1056.2 150.1,1057.8 149.5,1057 148.9,1056.6 148.3,1058.3 147.7,1058.6 147.1,1062.4 146.5,1057.5 145.8,1058.5 145.2,1060.6 144.6,1057.9 144,1057.4 143.4,1058.7 142.8,1057.1 142.2,1057.8 141.6,1058.2 141,1056.7 140.4,1059.4 139.8,1058.6 139.2,1057.8 138.6,1058 138,1060.6 137.4,1058 136.8,1057.5 136.2,1058.3 135.6,1057.4 135,1058.9 134.4,1061 133.8,1060.6 133.2,1058.6 132.6,1060.2 132,1058.7 131.4,1062 130.8,1058.5 130.2,1059.3 129.6,1057.6 129,1061.6 128.4,1059 127.8,1058 127.2,1059.4 126.6,1055.9 126,1059.1 125.4,1056.7 124.8,1058.5 124.2,1057.3 123.6,1057.1 123,1056.1 122.4,1056.2 121.8,1055.6 121.2,1056.8 120.6,1059.2 120,1057.7 119.4,1056.9 118.8,1057.9 118.2,1057.5 117.6,1055.7 117,1060.1 116.4,1058.1 115.8,1055.2 115.2,1054.9 114.6,1058.5 114,1056.5 113.4,1054.8 112.8,1057.9 112.2,1056.9 111.6,1057.1 111,1055.6 110.4,1055.5 109.8,1055.3 109.2,1055.8 108.6,1055.8 107.9,1054.4 107.3,1055.2 106.7,1054.7 106.1,1056 105.5,1056.6 104.9,1055.4 104.3,1055.1 103.7,1055 103.1,1057.8 102.5,1055.4 101.9,1058.2 101.3,1056.4 100.7,1059 100.1,1059.3 99.5,1058.5 98.9,1057.5 98.3,1055.3 97.7,1056.6 97.1,1060.2 96.5,1055.8 95.9,1057.6 95.3,1055.8 94.7,1057.3 94.1,1055.9 93.5,1055.7 92.9,1056.1 92.3,1056.2 91.7,1057 91.1,1056.5 90.5,1057.6 89.9,1058.5 89.3,1055.9 88.7,1056.1 88.1,1059.9 87.5,1057.2 86.9,1054.8 86.3,1056.1 85.7,1055.7 85.1,1055.6 84.5,1055.5 83.9,1056 83.3,1058.3 82.7,1054.9 82.1,1056.9 81.5,1057.3 80.9,1056.9 80.3,1056.6 79.7,1056 79.1,1058.3 78.5,1057 77.9,1056.1 77.3,1058 76.7,1059.4 76.1,1060.4 75.5,1059.4 74.9,1056.9 74.3,1059.8 73.7,1057.5 73.1,1058.6 72.5,1057.5 71.9,1057.2 71.3,1056.8 70.6,1056.6 70,1057.5 69.4,1056.1 68.8,1056.6 68.2,1060 67.6,1055.8 67,1057.1 66.4,1055.7 65.8,1054.9 65.2,1055.9 64.6,1057.8 64,1057.3 63.4,1055.8 62.8,1054.3 62.2,1056.8 61.6,1057.3 61,1057.4 60.4,1055.6 59.8,1055.4 59.2,1054.7 58.6,1054.4 58,1059.5 57.4,1057.8 56.8,1056.1 56.2,1055.7 55.6,1058.6 55,1058.1 54.4,1056.4 53.8,1056.8 53.2,1059.9 52.6,1058.6 52,1055.3" fill="#000" stroke="#000" stroke-width="0.8" stroke-linejoin="round"/>
<polyline points="240.3,1052 241,1000 243,900 245.2,812 246,800" fill="none" stroke="#000" stroke-width="2.8" stroke-linejoin="round" stroke-linecap="round"/>
<polyline points="246,796 246.6,795.1 247.2,794 247.8,795.8 248.4,795.7 249,795 249.6,795.2 250.2,795.7 250.8,795 251.4,795.8 252,795.3 252.7,793.6 253.3,795.4 253.9,795 254.5,794.8 255.1,795.8 255.7,795.1 256.3,795.9 256.9,796.3 257.5,795.6 258.1,794.3 258.7,794.9 259.3,796.2 259.9,795.3 260.5,794.8 261.1,795.4 261.7,795.9 262.3,795.7 262.9,796 263.5,794.8 264.1,795.3 264.7,795.3 265.3,795.5 266,793.8 266.6,795.3 267.2,794.4 267.8,796.6 268.4,796.7 269,796.8 269.6,796.1 270.2,795.1 270.8,796.2 271.4,795.3 272,796" fill="none" stroke="#000" stroke-width="2" stroke-linejoin="round" stroke-linecap="round"/>
<polyline points="27.5,794.2 28.1,794.4 28.7,795.1 29.3,796 29.9,794.8 30.6,796.3 31.2,796.7 31.8,793.9 32.4,794.8 33,794.1 33.6,794.7 34.2,794.4 34.9,794.7 35.5,795.5 36.1,795.4 36.7,795 37.3,794.8 37.9,794.9 38.5,794.9 39.1,795.2 39.8,794.8 40.4,795.1 41,793.9 41.6,795.3 42.2,796 42.8,794.9 43.4,793.8 44,795.7 44.7,794.6 45.3,792.7 45.9,794.6 46.5,795.2 47.1,795.1 47.7,795.6 48.3,795.2 48.9,794.9 49.5,793.4 50.2,794 50.8,794.9 51.4,795.3 52,794.1" fill="none" stroke="#ff2d8d" stroke-width="3" stroke-linejoin="round" stroke-linecap="round"/>
<path d="M52.2 794V846" fill="none" stroke="#ff2d8d" stroke-width="3"/>
<polygon points="52.5,803.8 53.1,803.7 53.7,804.2 54.3,806 54.9,805.8 55.5,805.8 56.1,806.7 56.7,806.7 57.3,805 57.9,806.8 58.5,807.3 59.1,807.2 59.7,807.6 60.3,806.6 60.9,805.9 61.5,805.2 62.1,804.3 62.7,804.9 63.3,806.1 63.9,804 64.5,805.9 65.1,805.9 65.7,804.7 66.3,805.6 66.9,805 67.5,803.5 68.1,804.8 68.7,804.7 69.3,804.2 69.9,803.6 70.5,805.1 71.1,805 71.7,804 72.3,802.2 72.9,802.4 73.5,804.1 74.1,804.4 74.7,805.4 75.3,803.9 75.9,805.8 76.5,806.2 77.2,803.8 77.8,804.5 78.4,805.5 79,806.2 79.6,804.1 80.2,805.8 80.8,804.8 81.4,804.3 82,805.9 82.6,807 83.2,805 83.8,808.2 84.4,805.5 85,804.2 85.6,806 86.2,808.3 86.8,805.4 87.4,806.2 88,806.2 88.6,806.2 89.2,806.9 89.8,808.6 90.4,807.4 91,806.7 91.6,807.2 92.2,806.4 92.8,805.8 93.4,806.8 94,804.9 94.6,805 95.2,801.8 95.8,801.4 96.4,803 97,804.2 97.6,802.9 98.2,803.3 98.8,804 99.4,803.2 100,803 100.6,804.4 101.2,804.4 101.8,804.2 102.4,804.2 103,803.2 103.6,804.7 104.2,804.9 104.8,803.3 105.4,803.9 106,804.9 106.6,804.3 107.2,803.6 107.8,803.4 108.4,803 109,803.1 109.6,803.8 110.2,803.6 110.8,804.6 111.4,803.9 112,803.5 112.6,805 113.2,805.4 113.8,804.1 114.4,805.2 115,803.4 115.6,806 116.2,805.8 116.8,803.6 117.4,806.5 118,805.2 118.6,802.9 119.2,806.2 119.8,806.4 120.4,805.8 121,806.4 121.6,804.5 122.2,804.5 122.8,805.6 123.4,805.5 124,806.8 124.6,806.2 125.3,806.5 125.9,805.8 126.5,806.4 127.1,806.4 127.7,804.6 128.3,806 128.9,806.6 129.5,805.4 130.1,806.6 130.7,805.9 131.3,807.4 131.9,805.8 132.5,805.4 133.1,804.1 133.7,806.3 134.3,806.3 134.9,805.2 135.5,804.7 136.1,803.6 136.7,806.6 137.3,804.9 137.9,803.7 138.5,802.5 139.1,803.5 139.7,804.7 140.3,803.2 140.9,803.2 141.5,803 142.1,803.7 142.7,804.4 143.3,804.9 143.9,802.3 144.5,804.8 145.1,804.9 145.7,803.6 146.3,805.8 146.9,806.5 147.5,805.9 148.1,806.8 148.7,807 149.3,806.5 149.9,807.5 150.5,808.1 151.1,806.6 151.7,806.9 152.3,805 152.9,804 153.5,804.7 154.1,806.4 154.7,804.5 155.3,806.1 155.9,805.2 156.5,803.8 157.1,805.2 157.7,806.1 158.3,805.9 158.9,806.2 159.5,803.4 160.1,805 160.7,805.2 161.3,804.5 161.9,805.3 162.5,803.6 163.1,804.1 163.7,805.2 164.3,803.3 164.9,805.1 165.5,804.5 166.1,806.2 166.7,803.2 167.3,805.5 167.9,805 168.5,805.5 169.1,806 169.7,806.8 170.3,804.2 170.9,805.6 171.5,805 172.1,805.1 172.7,804.4 173.4,807.3 174,804.8 174.6,805.6 175.2,804.7 175.8,805.5 176.4,805.8 177,806 177.6,805.9 178.2,804.2 178.8,804.7 179.4,804.3 180,804.7 180.6,803.9 181.2,805.9 181.8,805.1 182.4,806.4 183,805 183.6,805.1 184.2,804.4 184.8,805.5 185.4,806.5 186,804.7 186.6,805.2 187.2,805.7 187.8,805 188.4,805.1 189,803.1 189.6,805.8 190.2,805.4 190.8,803.8 191.4,804.3 192,805.8 192.6,803.3 193.2,804.5 193.8,805.7 194.4,806.2 195,803.8 195.6,804.2 196.2,805.8 196.8,806.2 197.4,806 198,805.4 198.6,805.2 199.2,805.5 199.8,807.3 200.4,807.4 201,805.6 201.6,805.8 202.2,806.7 202.8,807.3 203.4,805.3 204,805.4 204.6,803.8 205.2,805.3 205.8,804.2 206.4,805.3 207,803.7 207.6,805.1 208.2,804.4 208.8,804.8 209.4,804.4 210,802.7 210.6,802.9 211.2,804.6 211.8,803.4 212.4,801.4 213,804.1 213.6,804.1 214.2,804.9 214.8,803.8 215.4,804.3 216,803.5 216.6,804.9 217.2,804.1 217.8,803.7 218.4,807.3 219,807 219.6,807.1 220.2,805.8 220.8,807 221.5,805.3 222.1,807.6 222.7,806.8 223.3,806.6 223.9,806.2 224.5,805.9 225.1,806.7 225.7,807.3 226.3,806.9 226.9,806.5 227.5,803.3 228.1,801 228.7,804.3 229.3,802.8 229.9,802.5 230.5,804.4 231.1,805.1 231.7,803.9 232.3,804.7 232.9,803.6 233.5,805.7 234.1,805.7 234.7,805.2 235.3,804.4 235.9,803.7 236.5,804.7 237.1,804.9 237.7,804.8 238.3,804.2 238.9,804.2 239.5,805.9 240.1,801.3 240.7,804.1 241.3,804.9 241.9,805.2 242.5,806.2 243.1,803.8 243.7,804.5 244.3,807.1 244.9,807.4 245.5,806.8 245.5,813.7 244.9,816.8 244.3,816.8 243.7,813 243.1,816.1 242.5,812.7 241.9,813.8 241.3,812.8 240.7,815.9 240.1,813 239.5,812.5 238.9,812.5 238.3,812.2 237.7,812.6 237.1,812.9 236.5,814.1 235.9,812.6 235.3,812.1 234.7,812.5 234.1,812.5 233.5,814.8 232.9,812.8 232.3,812.9 231.7,811.5 231.1,811.8 230.5,812.8 229.9,811.7 229.3,813.6 228.7,811.8 228.1,811.8 227.5,812.4 226.9,813.4 226.3,814.6 225.7,813.9 225.1,814.9 224.5,814 223.9,814.7 223.3,814.1 222.7,813.5 222.1,815.5 221.5,814.6 220.8,813.9 220.2,813.6 219.6,813.4 219,814 218.4,813.8 217.8,813.5 217.2,812.8 216.6,813.6 216,812.6 215.4,812.6 214.8,814.4 214.2,812.4 213.6,814 213,811.8 212.4,811.4 211.8,810.4 211.2,812.1 210.6,812.8 210,811.7 209.4,811.4 208.8,812.2 208.2,812.9 207.6,812.4 207,813.3 206.4,812.4 205.8,813.2 205.2,813.4 204.6,812.5 204,812.8 203.4,814.5 202.8,813.6 202.2,814.1 201.6,814 201,814.4 200.4,814.4 199.8,814.1 199.2,813.7 198.6,814.2 198,814.8 197.4,814.3 196.8,815.3 196.2,813.6 195.6,813.1 195,814.9 194.4,813.1 193.8,813.6 193.2,812.5 192.6,813.1 192,813.3 191.4,813.5 190.8,813.9 190.2,812.8 189.6,812.6 189,814.6 188.4,812.2 187.8,813.8 187.2,814.5 186.6,814 186,814.1 185.4,813.7 184.8,813.3 184.2,812.3 183.6,814.1 183,813.6 182.4,815.6 181.8,813.3 181.2,814.2 180.6,815.2 180,812.5 179.4,813.3 178.8,813 178.2,812.6 177.6,813.1 177,813.8 176.4,814.4 175.8,813.7 175.2,814.7 174.6,816.8 174,813 173.4,814 172.7,813.1 172.1,816.1 171.5,816.3 170.9,813.3 170.3,813.9 169.7,813.4 169.1,814.6 168.5,812.5 167.9,813.1 167.3,812.8 166.7,813.1 166.1,814.2 165.5,813.8 164.9,812.8 164.3,813.5 163.7,813.1 163.1,812.7 162.5,813.3 161.9,812.7 161.3,812.2 160.7,813.2 160.1,812.1 159.5,813.4 158.9,815.7 158.3,813.4 157.7,813.8 157.1,814.2 156.5,812.9 155.9,814 155.3,812.8 154.7,813.7 154.1,813.4 153.5,813 152.9,814.5 152.3,814.2 151.7,814.1 151.1,816 150.5,815.7 149.9,813.6 149.3,813.8 148.7,818.2 148.1,814.2 147.5,814.3 146.9,813.4 146.3,813.2 145.7,814.2 145.1,812.8 144.5,813.7 143.9,812.5 143.3,812 142.7,812.4 142.1,812.1 141.5,812.3 140.9,811.5 140.3,811.2 139.7,812 139.1,813.2 138.5,812.1 137.9,813.3 137.3,814.2 136.7,814.6 136.1,815.1 135.5,813.7 134.9,813.9 134.3,814.2 133.7,813 133.1,814 132.5,813.6 131.9,813.3 131.3,814.9 130.7,813.4 130.1,812.8 129.5,816.1 128.9,814.8 128.3,813.4 127.7,815.8 127.1,815.4 126.5,813.4 125.9,814.6 125.3,813.7 124.6,816.9 124,815.2 123.4,814.5 122.8,814.3 122.2,813 121.6,814.3 121,813.4 120.4,813.8 119.8,814.8 119.2,814.5 118.6,814.1 118,814.4 117.4,815.9 116.8,816.7 116.2,811.9 115.6,816.2 115,812.5 114.4,812.8 113.8,812.6 113.2,813.2 112.6,811.9 112,811.6 111.4,811.7 110.8,811.1 110.2,812 109.6,812.3 109,812.1 108.4,812.4 107.8,811.9 107.2,813.6 106.6,812.4 106,811.8 105.4,812.5 104.8,811.1 104.2,813.8 103.6,811.7 103,814.6 102.4,811.5 101.8,811 101.2,812.8 100.6,811.1 100,812.3 99.4,811.9 98.8,811.1 98.2,811.8 97.6,811.5 97,813.1 96.4,811.4 95.8,812.7 95.2,811.6 94.6,813.7 94,813.1 93.4,814.9 92.8,812.9 92.2,813.6 91.6,816.1 91,813.7 90.4,814.9 89.8,816.4 89.2,817.7 88.6,814.3 88,814 87.4,813.5 86.8,818 86.2,815.3 85.6,817.3 85,815.1 84.4,814 83.8,815 83.2,814.6 82.6,816 82,815.1 81.4,814.5 80.8,812.8 80.2,813.6 79.6,814.5 79,812.8 78.4,813.9 77.8,815 77.2,813 76.5,812.8 75.9,813.2 75.3,812.4 74.7,814.4 74.1,811.1 73.5,814.9 72.9,811.2 72.3,813.1 71.7,813.5 71.1,814.2 70.5,812.5 69.9,812.9 69.3,811.8 68.7,812.5 68.1,813.6 67.5,812.4 66.9,813.7 66.3,815.6 65.7,814.6 65.1,812.4 64.5,813.9 63.9,813.8 63.3,813.2 62.7,813.5 62.1,815.9 61.5,813.5 60.9,813.9 60.3,814.4 59.7,815.3 59.1,816.1 58.5,814.3 57.9,813.3 57.3,814.3 56.7,813.6 56.1,813.7 55.5,814.9 54.9,813.1 54.3,814.8 53.7,811.4 53.1,813.4 52.5,811" fill="#ff2d8d" stroke="#ff2d8d" stroke-width="0.8" stroke-linejoin="round"/>
<polyline points="245.5,808 246,796 247,794.2 247.6,795.5 248.2,794.5 248.8,795.4 249.4,795 250,794.2 250.7,795.4 251.3,794.1 251.9,795.9 252.5,795 253.1,794.3 253.7,793.8 254.3,796.1 254.9,795.9 255.5,794.2 256.1,796.1 256.8,795.1 257.4,794.9 258,794.9 258.6,794.8 259.2,795.9 259.8,795.1 260.4,793.8 261,796.4 261.6,795.6 262.2,794.3 262.9,794.8 263.5,794.4 264.1,795 264.7,795.3 265.3,795.2 265.9,794.6 266.5,794.5 267.1,795.6 267.7,794.9 268.3,796.5 269,794.5 269.6,795.5 270.2,795 270.8,794.5 271.4,795.9 272,795.1" fill="none" stroke="#ff2d8d" stroke-width="3" stroke-linejoin="round" stroke-linecap="round"/>
<text x="96" y="923.8" font-size="30.7" font-weight="bold">2 s</text>
<path d="M103 945H141.2V971" fill="none" stroke="#000" stroke-width="2.5" stroke-linejoin="miter" stroke-linecap="round"/>
<text x="148.5" y="971.2" font-size="30.7" font-weight="bold">50 pA</text>
<text x="511" y="722" font-size="38" font-weight="bold">GluA2 (Q) + CTZ</text>
<path d="M535 754.5V1113 M529 1107H780" fill="none" stroke="#000" stroke-width="3"/>
<path d=" M529.5 1048.5H535 M529.5 989.9H535 M529.5 931.4H535 M529.5 872.8H535 M529.5 814.2H535 M529.5 755.7H535 M595.9 1107V1112.5 M656.9 1107V1112.5 M717.8 1107V1112.5 M778.8 1107V1112.5" fill="none" stroke="#000" stroke-width="2.5" stroke-linecap="round"/>
<text x="515.5" y="1117" font-size="31" text-anchor="end">0.0</text>
<text x="515.5" y="1058.5" font-size="31" text-anchor="end">0.2</text>
<text x="515.5" y="999.9" font-size="31" text-anchor="end">0.4</text>
<text x="515.5" y="941.4" font-size="31" text-anchor="end">0.6</text>
<text x="515.5" y="882.8" font-size="31" text-anchor="end">0.8</text>
<text x="515.5" y="824.2" font-size="31" text-anchor="end">1.0</text>
<text x="515.5" y="765.7" font-size="31" text-anchor="end">1.2</text>
<text x="531.8" y="1153" font-size="31" text-anchor="middle">-1</text>
<text x="595.9" y="1153" font-size="31" text-anchor="middle">0</text>
<text x="656.9" y="1153" font-size="31" text-anchor="middle">1</text>
<text x="717.8" y="1153" font-size="31" text-anchor="middle">2</text>
<text x="778.8" y="1153" font-size="31" text-anchor="middle">3</text>
<text x="441" y="932" font-size="33" font-weight="bold" text-anchor="middle" transform="rotate(-90 441 932)">Steady-State Inhibition</text>
<text x="656.5" y="1218" font-size="33" font-weight="bold" text-anchor="middle">Log [Memantine] (<tspan font-family="Liberation Serif, serif" font-weight="normal">μ</tspan>M)</text>
<circle cx="595.9" cy="1092.4" r="7.4" fill="#1b0a8f" stroke="#000" stroke-width="1.5"/>
<circle cx="656.9" cy="1028" r="7.4" fill="#1b0a8f" stroke="#000" stroke-width="1.5"/>
<circle cx="656.9" cy="1045.5" r="7.4" fill="#1b0a8f" stroke="#000" stroke-width="1.5"/>
<circle cx="656.9" cy="1051.4" r="7.4" fill="#1b0a8f" stroke="#000" stroke-width="1.5"/>
<circle cx="656.9" cy="1057.2" r="7.4" fill="#1b0a8f" stroke="#000" stroke-width="1.5"/>
<circle cx="699.5" cy="951.8" r="7.4" fill="#1b0a8f" stroke="#000" stroke-width="1.5"/>
<circle cx="699.5" cy="957.7" r="7.4" fill="#1b0a8f" stroke="#000" stroke-width="1.5"/>
<circle cx="699.5" cy="972.3" r="7.4" fill="#1b0a8f" stroke="#000" stroke-width="1.5"/>
<circle cx="699.5" cy="978.2" r="7.4" fill="#1b0a8f" stroke="#000" stroke-width="1.5"/>
<circle cx="717.8" cy="907.9" r="7.4" fill="#1b0a8f" stroke="#000" stroke-width="1.5"/>
<circle cx="717.8" cy="916.7" r="7.4" fill="#1b0a8f" stroke="#000" stroke-width="1.5"/>
<circle cx="717.8" cy="925.5" r="7.4" fill="#1b0a8f" stroke="#000" stroke-width="1.5"/>
<circle cx="717.8" cy="934.3" r="7.4" fill="#1b0a8f" stroke="#000" stroke-width="1.5"/>
<circle cx="760.5" cy="846.5" r="7.4" fill="#1b0a8f" stroke="#000" stroke-width="1.5"/>
<circle cx="760.5" cy="858.2" r="7.4" fill="#1b0a8f" stroke="#000" stroke-width="1.5"/>
<circle cx="778.8" cy="828.9" r="7.4" fill="#1b0a8f" stroke="#000" stroke-width="1.5"/>
<circle cx="778.8" cy="837.7" r="7.4" fill="#1b0a8f" stroke="#000" stroke-width="1.5"/>
<circle cx="778.8" cy="843.5" r="7.4" fill="#1b0a8f" stroke="#000" stroke-width="1.5"/>
<polyline points="535,1103.7 539.1,1103.5 543.3,1103.3 547.4,1103.1 551.5,1102.9 555.7,1102.6 559.8,1102.3 563.9,1101.9 568.1,1101.5 572.2,1101.1 576.3,1100.5 580.4,1099.9 584.6,1099.1 588.7,1098.3 592.8,1097.4 597,1096.3 601.1,1095 605.2,1093.6 609.4,1091.9 613.5,1090.1 617.6,1088 621.8,1085.5 625.9,1082.8 630,1079.7 634.2,1076.2 638.3,1072.3 642.4,1068 646.6,1063.1 650.7,1057.7 654.8,1051.8 658.9,1045.3 663.1,1038.2 667.2,1030.5 671.3,1022.3 675.5,1013.5 679.6,1004.3 683.7,994.6 687.9,984.6 692,974.3 696.1,963.9 700.3,953.3 704.4,942.9 708.5,932.6 712.7,922.5 716.8,912.8 720.9,903.6 725.1,894.8 729.2,886.5 733.3,878.8 737.4,871.7 741.6,865.2 745.7,859.2 749.8,853.8 754,848.9 758.1,844.5 762.2,840.5 766.4,837 770.5,833.9 774.6,831.2 778.8,828.7" fill="none" stroke="#1b0a8f" stroke-width="5.5" stroke-linejoin="round" stroke-linecap="round"/>
<circle cx="595.9" cy="1019.2" r="7.4" fill="#5aa2f5" stroke="#000" stroke-width="1.5"/>
<circle cx="595.9" cy="1030.9" r="7.4" fill="#5aa2f5" stroke="#000" stroke-width="1.5"/>
<circle cx="595.9" cy="1036.7" r="7.4" fill="#5aa2f5" stroke="#000" stroke-width="1.5"/>
<circle cx="595.9" cy="1073.3" r="7.4" fill="#5aa2f5" stroke="#000" stroke-width="1.5"/>
<circle cx="595.9" cy="1077.7" r="7.4" fill="#5aa2f5" stroke="#000" stroke-width="1.5"/>
<circle cx="656.9" cy="858.2" r="7.4" fill="#5aa2f5" stroke="#000" stroke-width="1.5"/>
<circle cx="656.9" cy="872.8" r="7.4" fill="#5aa2f5" stroke="#000" stroke-width="1.5"/>
<circle cx="656.9" cy="907.9" r="7.4" fill="#5aa2f5" stroke="#000" stroke-width="1.5"/>
<circle cx="656.9" cy="931.4" r="7.4" fill="#5aa2f5" stroke="#000" stroke-width="1.5"/>
<circle cx="656.9" cy="938.7" r="7.4" fill="#5aa2f5" stroke="#000" stroke-width="1.5"/>
<circle cx="656.9" cy="954.8" r="7.4" fill="#5aa2f5" stroke="#000" stroke-width="1.5"/>
<circle cx="699.5" cy="828.9" r="7.4" fill="#5aa2f5" stroke="#000" stroke-width="1.5"/>
<circle cx="699.5" cy="840.6" r="7.4" fill="#5aa2f5" stroke="#000" stroke-width="1.5"/>
<circle cx="699.5" cy="861.1" r="7.4" fill="#5aa2f5" stroke="#000" stroke-width="1.5"/>
<circle cx="699.5" cy="866.9" r="7.4" fill="#5aa2f5" stroke="#000" stroke-width="1.5"/>
<circle cx="717.8" cy="828.9" r="7.4" fill="#5aa2f5" stroke="#000" stroke-width="1.5"/>
<circle cx="717.8" cy="837.7" r="7.4" fill="#5aa2f5" stroke="#000" stroke-width="1.5"/>
<circle cx="717.8" cy="840.6" r="7.4" fill="#5aa2f5" stroke="#000" stroke-width="1.5"/>
<circle cx="760.5" cy="814.2" r="7.4" fill="#5aa2f5" stroke="#000" stroke-width="1.5"/>
<circle cx="760.5" cy="817.2" r="7.4" fill="#5aa2f5" stroke="#000" stroke-width="1.5"/>
<circle cx="778.8" cy="814.2" r="7.4" fill="#5aa2f5" stroke="#000" stroke-width="1.5"/>
<polyline points="535,1095.2 539.1,1093.6 543.3,1091.7 547.4,1089.7 551.5,1087.3 555.7,1084.7 559.8,1081.8 563.9,1078.5 568.1,1074.9 572.2,1070.9 576.3,1066.4 580.4,1061.5 584.6,1056.1 588.7,1050.2 592.8,1043.8 597,1036.8 601.1,1029.4 605.2,1021.5 609.4,1013.2 613.5,1004.4 617.6,995.3 621.8,985.9 625.9,976.3 630,966.5 634.2,956.7 638.3,946.9 642.4,937.2 646.6,927.8 650.7,918.6 654.8,909.8 658.9,901.3 663.1,893.4 667.2,885.9 671.3,878.8 675.5,872.3 679.6,866.3 683.7,860.8 687.9,855.8 692,851.3 696.1,847.1 700.3,843.4 704.4,840.1 708.5,837.1 712.7,834.4 716.8,832 720.9,829.9 725.1,828 729.2,826.4 733.3,824.9 737.4,823.6 741.6,822.5 745.7,821.5 749.8,820.6 754,819.8 758.1,819.1 762.2,818.5 766.4,818 770.5,817.5 774.6,817.1 778.8,816.8" fill="none" stroke="#5aa2f5" stroke-width="5" stroke-linejoin="round" stroke-linecap="round"/>
<circle cx="595.9" cy="1019.2" r="7.4" fill="#5aa2f5" stroke="#000" stroke-width="1.5"/>
<circle cx="595.9" cy="1073.3" r="7.4" fill="#5aa2f5" stroke="#000" stroke-width="1.5"/>
<circle cx="656.9" cy="858.2" r="7.4" fill="#5aa2f5" stroke="#000" stroke-width="1.5"/>
<circle cx="656.9" cy="872.8" r="7.4" fill="#5aa2f5" stroke="#000" stroke-width="1.5"/>
<circle cx="656.9" cy="907.9" r="7.4" fill="#5aa2f5" stroke="#000" stroke-width="1.5"/>
<circle cx="656.9" cy="931.4" r="7.4" fill="#5aa2f5" stroke="#000" stroke-width="1.5"/>
<circle cx="699.5" cy="828.9" r="7.4" fill="#5aa2f5" stroke="#000" stroke-width="1.5"/>
<circle cx="717.8" cy="828.9" r="7.4" fill="#5aa2f5" stroke="#000" stroke-width="1.5"/>
<circle cx="760.5" cy="814.2" r="7.4" fill="#5aa2f5" stroke="#000" stroke-width="1.5"/>
<circle cx="778.8" cy="814.2" r="7.4" fill="#5aa2f5" stroke="#000" stroke-width="1.5"/>
<circle cx="595.9" cy="1092.4" r="7.4" fill="#1b0a8f" stroke="#000" stroke-width="1.5"/>
<circle cx="656.9" cy="1028" r="7.4" fill="#1b0a8f" stroke="#000" stroke-width="1.5"/>
<circle cx="760.5" cy="846.5" r="7.4" fill="#1b0a8f" stroke="#000" stroke-width="1.5"/>
<circle cx="778.8" cy="828.9" r="7.4" fill="#1b0a8f" stroke="#000" stroke-width="1.5"/>
<circle cx="552" cy="754.5" r="7.2" fill="#1b0a8f" stroke="#000" stroke-width="1"/>
<circle cx="552" cy="794.5" r="7.2" fill="#5aa2f5" stroke="#000" stroke-width="1"/>
<text x="602.5" y="764.5" font-size="30.7" font-weight="bold">-60 mV</text>
<text x="602.5" y="804.5" font-size="30.7" font-weight="bold">-100 mV</text>
<text x="892" y="722" font-size="33" font-weight="bold">Control</text>
<text x="889" y="937" font-size="33" font-weight="bold">Memantine</text>
<polygon points="879,825.6 879.6,827.5 880.2,825.2 880.8,747.5 881.4,747.4 882,747 882.6,750 883.2,750.7 883.8,749 884.4,747.3 885,747.2 885.6,781.6 886.2,764.4 886.8,802.4 887.4,746.4 888,747.5 888.6,746.6 889.2,750 889.8,749.6 890.4,750 891,747.6 891.6,748.6 892.2,750.4 892.8,746.1 893.4,750 894,803.5 894.6,789.5 895.2,791.7 895.8,808.7 896.4,816.7 897,823.2 897.6,815.4 898.2,820.1 898.8,828.1 899.4,826.2 900,824 900.6,826.1 901.2,820.8 901.8,783.4 902.4,748.5 903,749.9 903.6,750.6 904.2,747.3 904.8,774.9 905.4,801.4 906,822 906.6,827.5 907.2,823.1 907.8,823.6 908.4,824.7 909,826.3 909.6,826.6 910.2,823.1 910.8,825.5 911.4,825.4 912,827.5 912.6,824.9 913.2,826.9 913.8,822.4 914.4,823.9 915,828.3 915.6,826.1 916.2,825.5 916.8,826.6 917.4,823.5 918,824.3 918.6,826.6 919.2,822.7 919.8,826.3 920.4,828 921,818.2 921.6,814.3 922.2,799.6 922.8,793.9 923.4,807.7 924,817.1 924.6,812.3 925.2,789.5 925.8,759.5 926.4,762.8 927,790.9 927.6,811.8 928.2,827 928.8,826.7 929.4,816.1 930,791.2 930.6,756.2 931.2,788.9 931.8,821.2 932.4,828.2 933,827.1 933.6,826 934.2,816.8 934.8,808.6 935.4,801 936,804.3 936.6,815.6 937.2,823.2 937.8,826.3 938.4,826.6 939,826 939.6,826.4 940.2,826 940.8,806.2 941.4,769.6 942,747.5 942.6,780.8 943.2,806.2 943.8,781.2 944.4,757.7 945,815.7 945.6,797.9 946.2,758 946.8,767 947.4,746.2 948,764.8 948.6,786.6 949.2,773.3 949.8,794.6 950.4,811.5 951,824 951.6,791.2 952.2,755.8 952.8,786.4 953.4,769.6 954,766.2 954.6,777.8 955.2,794.4 955.8,821.3 956.4,824.9 957,828.2 957.6,828.2 958.2,824.4 958.8,824.6 959.4,827.6 960,827.8 960.6,819.7 961.2,825.2 961.8,828.4 962.4,826.4 963,798 963.6,758.4 964.2,765.4 964.8,798.5 965.4,824.3 966,826.9 966.6,827.6 967.2,810 967.8,781.1 968.4,759.4 969,790.9 969.6,810.6 970.2,825.6 970.8,822 971.4,807.9 972,781.5 972.6,743.8 973.2,776.2 973.8,799.4 974.4,824.4 975,823.9 975.6,828.1 976.2,824.3 976.8,822.6 977.4,827.9 978,820.2 978.6,823.2 979.2,828.4 979.8,827.2 980.4,827.8 981,825 981.6,823.5 982.2,822.1 982.8,822 983.4,827.5 984,820.1 984.6,803.5 985.2,771.1 985.8,759.5 986.4,790.1 987,811.5 987.6,824.6 988.2,807.1 988.8,778.1 989.4,773 990,798.9 990.6,823.8 991.2,823.7 991.8,825.6 992.4,824.2 993,825.5 993.6,825.5 994.2,801.9 994.8,760.8 995.4,756.5 996,792.6 996.6,821.7 997.2,819.3 997.8,805.1 998.4,788.3 999,807.9 999.6,823.4 1000.2,826.7 1000.8,825.7 1001.4,824.7 1002,824.9 1002.6,822.4 1003.2,823.9 1003.8,822.7 1004.4,820.2 1005,820.3 1005.6,819.2 1006.2,811.5 1006.8,794.1 1007.4,771.1 1008,792.9 1008.6,810.5 1009.2,809.8 1009.8,813.2 1010.4,811.6 1011,805.3 1011.6,777 1012.2,786.1 1012.8,810.2 1013.4,810 1014,807.1 1014.6,810.3 1015.2,809.2 1015.8,812.4 1016.4,810.2 1017,810.8 1017.6,811.7 1018.2,812 1018.8,807.9 1019.4,809.7 1020,806.1 1020.6,804.3 1021.2,800.2 1021.8,810.7 1022.4,811.2 1023,812.6 1023.6,811.3 1024.2,809.2 1024.8,794.3 1025.4,789.1 1026,780.1 1026.6,794 1027.2,802.8 1027.8,819.4 1028.4,819.8 1029,818.4 1029.6,819.7 1030.2,821 1030.8,821.6 1031.4,822.7 1032,824.6 1032.6,823.4 1033.2,825.5 1033.8,827.7 1034.4,826.5 1035,825.8 1035.6,822.2 1036.2,815.8 1036.8,807.5 1037.4,813.6 1038,819.5 1038.6,825.9 1039.2,828 1039.8,827.9 1040.4,827.7 1041,810.1 1041.6,780.8 1042.2,747 1042.8,742.7 1043.4,763.9 1044,804.1 1044.6,825.3 1045.2,826.7 1045.8,824.4 1046.4,822.7 1047,802.5 1047.6,763.6 1048.2,775.4 1048.8,791.4 1049.4,775.6 1050,795.5 1050.6,811.8 1051.2,825 1051.8,822.8 1052.4,820.2 1053,818.8 1053.6,819 1054.2,818.6 1054.8,820.2 1055.4,817.2 1056,818.6 1056.6,814.9 1057.2,814.3 1057.8,813.7 1058.4,810.9 1059,811.6 1059.6,813.2 1060.2,808.3 1060.8,808.5 1061.4,806.6 1062,748.8 1062.6,748.4 1063.2,750.4 1063.8,748.8 1064.4,749.5 1065,749.8 1065.6,746 1066.2,748.8 1066.8,749 1067.4,746.5 1068,746.8 1068.6,754.3 1069.2,809.4 1069.8,799.6 1070.4,765.1 1071,747.1 1071.6,766.8 1072.2,793.2 1072.8,819.5 1073.4,823.3 1074,815.6 1074.6,807.9 1075.2,819.7 1075.8,823.3 1076.4,826.9 1077,811.1 1077.6,772.3 1078.2,750.4 1078.8,799 1079.4,822.5 1080,827.7 1080.6,826.4 1081.2,821.8 1081.8,828.5 1082.4,823.8 1083,801.4 1083.6,776.5 1084.2,749.9 1084.8,779.1 1085.4,815.4 1086,822.4 1086.6,803.1 1087.2,781.1 1087.8,806 1088.4,820.7 1089,820.8 1089.6,810.6 1090.2,767 1090.8,780.6 1091.4,814.3 1092,817.3 1092.6,805.4 1093.2,787.9 1093.8,767.4 1094.4,744.9 1095,772.1 1095.6,794.3 1096.2,814.4 1096.8,815.9 1097.4,820.2 1098,817.1 1098.6,822.6 1099.2,824.6 1099.8,821.8 1100.4,819.8 1101,825.5 1101.6,826.7 1102.2,826.5 1102.8,826.4 1103.4,827.3 1104,826.5 1104.6,822.7 1105.2,814 1105.8,794.2 1106.4,805.1 1107,789 1107.6,769.1 1108.2,791.8 1108.8,809.5 1109.4,824.1 1110,828.2 1110.6,828.4 1111.2,822 1111.8,827.5 1112.4,826.9 1113,823 1113.6,826.9 1114.2,827.7 1114.8,821.8 1115.4,827.5 1116,825.6 1116.6,825.2 1117.2,822.7 1117.8,824.1 1118.4,823 1119,828.3 1119.6,828.3 1120.2,810.8 1120.8,769.6 1121.4,766.5 1122,801.4 1122.6,826.6 1123.2,828.2 1123.8,825.4 1124.4,828.4 1125,820.5 1125.6,827.1 1126.2,827.3 1126.8,822.5 1127.4,825.9 1128,828.1 1128.6,826.7 1129.2,827.8 1129.8,809.2 1130.4,781.2 1131,757.1 1131.6,791.5 1132.2,817.7 1132.8,826.4 1133.4,827.3 1134,824.5 1134.6,824 1135.2,825.6 1135.8,815.6 1136.4,777.5 1137,770.2 1137.6,743.5 1138.2,783.1 1138.8,793.6 1139.4,790.6 1140,792.2 1140.6,791.5 1141.2,798.2 1141.8,806.1 1142.4,816.1 1143,822.1 1143.6,819.8 1144.2,822.5 1144.8,823.5 1145.4,824.4 1146,816.2 1146.6,822.4 1147.2,822.7 1147.8,825.6 1148.4,825.1 1149,819.9 1149.6,826.5 1150.2,824.6 1150.8,824.1 1151.4,826.2 1152,747.6 1152.6,746.8 1153.2,746.7 1153.8,788 1154.4,769.9 1155,800 1155.6,807 1156.2,812.8 1156.8,824.3 1157.4,820 1158,778.9 1158.6,748.4 1159.2,793.7 1159.8,825.9 1160.4,828.2 1161,826.6 1161.6,827.6 1162.2,828.2 1162.8,826.9 1163.4,825.2 1164,826.1 1164.6,827.9 1165.2,824.6 1165.8,826.7 1166.4,824.3 1167,827.8 1167.6,817.8 1168.2,774.5 1168.8,746.2 1169.4,745.5 1170,788.5 1170.6,821.5 1171.2,827.9 1171.8,825.2 1172.4,827 1173,824.8 1173.6,824.4 1174.2,824.9 1174.8,817.1 1175.4,823.3 1176,814.6 1176.6,816.9 1177.2,821.6 1177.8,824.6 1178.4,827.4 1179,828.5 1179.6,826.1 1180.2,827.8 1180.8,826.8 1181.4,825.7 1182,820.4 1182.6,825.1 1183.2,822.8 1183.8,796.7 1184.4,750.6 1185,794.8 1185.6,824.6 1186.2,827.9 1186.8,823.9 1187.4,822.2 1188,816.1 1188.6,814.7 1189.2,823 1189.8,823 1190.4,827.5 1191,826.6 1191.6,824.8 1192.2,825.8 1192.8,825.8 1193.4,821.3 1194,826.4 1194.6,826.2 1195.2,823 1195.8,827.2 1196.4,827.8 1197,799.3 1197.6,775.4 1198.2,811.8 1198.8,826.5 1199.4,827.1 1200,827.4 1200.6,826.5 1201.2,826.3 1201.8,825.1 1202.4,824.4 1203,806.1 1203.6,762.4 1204.2,802.7 1204.8,826.4 1205.4,824.9 1206,825.9 1206.6,828.2 1207.2,828 1207.8,824.2 1208.4,818.8 1209,818.1 1209.6,819.3 1210.2,785.7 1210.8,747.9 1211.4,754.8 1212,807.2 1212.6,826.8 1213.2,801.1 1213.8,762.1 1214.4,745.9 1215,781.7 1215.6,790.7 1216.2,796.6 1216.8,809 1217.4,816.9 1218,748.6 1218.6,747.4 1219.2,748.1 1219.8,746.7 1220.4,749 1221,749.3 1221.6,748.2 1222.2,750 1222.8,749.8 1223.4,749.4 1224,823.2 1224.6,827.7 1225.2,826.2 1225.8,747.2 1226.4,746.5 1227,750.5 1227.6,749.5 1228.2,747.5 1228.8,746.3 1229.4,747.7 1230,749.9 1230.6,750.5 1231.2,805 1231.8,823.7 1232.4,821.4 1233,826.3 1233.6,812.6 1234.2,804.1 1234.8,811.6 1235.4,811.6 1236,815.6 1236.6,823.9 1237.2,826.4 1237.8,827.2 1238.4,824.4 1239,828.2 1239.6,828.3 1240.2,824.5 1240.8,824.5 1241.4,826.8 1242,825.8 1242.6,826.5 1243.2,812.9 1243.8,767.1 1244.4,792.7 1245,823.9 1245.6,821.4 1246.2,820.8 1246.8,819.2 1247.4,748.8 1248,745.6 1248.6,799.2 1249.2,819.2 1249.8,818.7 1250.4,821.3 1251,821.5 1251.6,818.8 1252.2,820.2 1252.8,818.5 1253.4,813.1 1254,820.1 1254.6,819.1 1255.2,812.6 1255.8,797.2 1256.4,801.1 1257,815.2 1257.6,787.4 1258.2,744.7 1258.8,789.1 1259.4,817.8 1260,819.4 1260.6,815.2 1261.2,822.2 1261.8,811 1262.4,800.2 1263,782.7 1263.6,769.7 1264.2,787.5 1264.8,809.1 1265.4,785 1266,745.7 1266.6,776.8 1267.2,760.6 1267.8,776.3 1268.4,811.5 1269,824.4 1269.6,826.8 1270.2,826.1 1270.8,819.8 1271.4,822.6 1272,825.4 1272.6,828.1 1273.2,824.6 1273.8,804.2 1274.4,767.7 1275,752.3 1275.6,788.2 1276.2,815 1276.8,824.9 1277.4,826.4 1278,827.8 1278.6,821.4 1279.2,823.6 1279.8,827.5 1280.4,826.4 1281,827.4 1281.6,826.3 1282.2,828 1282.8,827.6 1283.4,827.5 1284,746.8 1284.6,748.5 1285.2,750.1 1285.8,827.4 1286.4,826 1287,827.7 1287.6,826 1288.2,827.2 1288.8,826.9 1289.4,824.8 1290,820.6 1290.6,803 1291.2,763.3 1291.8,794.7 1292.4,822.3 1293,826.6 1293.6,824.6 1294.2,825 1294.8,828.2 1295.4,826.3 1296,825.4 1296.6,822.4 1297.2,824.4 1297.8,828 1298.4,828.2 1299,827.9 1299.6,827.7 1300.2,826.9 1300.8,825.9 1301.4,823.9 1302,806.7 1302.6,786.3 1303.2,747.6 1303.8,744.8 1304.4,743.8 1305,769.3 1305.6,775.7 1306.2,801 1306.8,786.6 1307.4,756.6 1308,807.3 1308.6,821.8 1309.2,809 1309.8,770.2 1310.4,749.5 1311,794.1 1311.6,825.9 1312.2,825.8 1312.8,825 1313.4,827.4 1314,824.8 1314.6,824.1 1315.2,825.4 1315.8,821.3 1316.4,806.6 1317,792.9 1317.6,786.2 1318.2,806.3 1318.8,823.4 1319.4,827.6 1320,825.6 1320.6,828 1321.2,828.3 1321.8,825.9 1322.4,827.7 1323,822.7 1323.6,824.4 1324.2,821.9 1324.8,822.2 1325.4,824.9 1326,824.4 1326.6,823.7 1327.2,823.5 1327.8,817.4 1328.4,809 1329,789.7 1329.6,767.7 1330.2,760.6 1330.8,788.3 1331.4,759.3 1332,780.2 1332.6,802.3 1333.2,814.7 1333.8,814.6 1334.4,812.5 1335,814.7 1335.6,810.2 1336.2,772.6 1336.8,781.3 1337.4,815 1338,817.2 1338.6,812.9 1339.2,808 1339.8,807 1340.4,815.7 1341,819 1341.6,821.6 1342.2,820.7 1342.8,823.3 1343.4,825.3 1344,827.2 1344.6,821 1345.2,822.3 1345.8,826.4 1346.4,825 1347,795.9 1347.6,764.2 1348.2,772.6 1348.8,794.1 1349.4,781.3 1350,800.7 1350.6,824.8 1351.2,824.9 1351.8,827.1 1352.4,817.7 1353,795.8 1353.6,781.2 1354.2,804.7 1354.8,825.1 1355.4,822.7 1356,813.3 1356.6,785.5 1357.2,780.2 1357.8,808.1 1358.4,827.3 1359,821.7 1359.6,827.8 1360.2,824.1 1360.8,825 1361.4,826.1 1362,824.9 1362.6,825.9 1363.2,825.7 1363.8,827.9 1364.4,823.5 1365,826.1 1365.6,822.4 1366.2,827.2 1366.8,823.9 1367.4,828.2 1368,827.9 1368.6,822 1369.2,826.1 1369.8,826 1370.4,823.8 1371,823.4 1371.6,782.9 1372.2,796.4 1372.8,825.6 1373.4,827.9 1374,819 1374.6,750 1375.2,746.5 1375.8,749.7 1376.4,746.7 1377,747.6 1377.6,750.7 1378.2,749.7 1378.8,749.7 1379.4,749.2 1380,747.8 1380.6,828 1381.2,828.2 1381.8,828.5 1382.4,827.6 1383,822.1 1383.6,750.7 1384.2,749 1384.8,748.9 1385.4,750.1 1386,749.2 1386.6,746.6 1387.2,748.4 1387.8,750.3 1388.4,750 1389,746.3 1389.6,751 1390.2,816.6 1390.8,819.5 1391.4,821.2 1392,822.9 1392.6,822.3 1393.2,825.3 1393.8,826.7 1394.4,819.9 1395,827.8 1395.6,828 1396.2,819.7 1396.8,822.9 1397.4,820.6 1398,816.1 1398.6,820.4 1399.2,824.1 1399.8,824.8 1400.4,826.9 1401,827 1401.6,821.1 1402.2,822.3 1402.8,810.6 1403.4,755.8 1404,764.3 1404.6,770 1405.2,807.1 1405.8,807.8 1406.4,810.5 1407,820.1 1407.6,823 1408.2,822.4 1408.8,825.6 1409.4,827.8 1410,826.7 1410.6,827.3 1411.2,822.9 1411.8,827.9 1412.4,826.6 1413,828.4 1413.6,826.7 1414.2,826.6 1414.8,828.2 1415.4,824.6 1416,828.3 1416.6,824 1417.2,825.3 1417.8,827 1418.4,825 1419,827.9 1419.6,805.1 1420.2,773.7 1420.8,806.1 1421.4,804 1422,820.9 1422.6,827.8 1423.2,823.5 1423.8,828.2 1424.4,808.2 1425,779.4 1425.6,760.2 1426.2,746.6 1426.8,750.1 1427.4,747.7 1428,824.7 1428.6,826.2 1429.2,816.4 1429.8,765.6 1430.4,746.9 1431,766.1 1431.6,795.8 1432.2,814.3 1432.8,820 1433.4,795.8 1434,768.3 1434.6,745.8 1435.2,782.6 1435.8,810.5 1436.4,821.1 1437,800.4 1437.6,770.5 1438.2,749.6 1438.8,791.1 1439.4,821.8 1440,824.2 1440.6,824.3 1441.2,821.4 1441.8,822.9 1442.4,818.4 1443,820.3 1443.6,808.5 1444.2,772.6 1444.8,756.5 1445.4,799.4 1446,815.9 1446.6,815.4 1447.2,811.7 1447.8,814.4 1448.4,807.1 1449,811.1 1449.6,802.1 1450.2,810.2 1450.8,788.9 1451.4,757.5 1452,759.6 1452.6,789.1 1453.2,788 1453.8,762.2 1454.4,745.9 1455,765.4 1455.6,786 1456.2,807.5 1456.8,795.1 1457.4,781 1458,774.5 1458.6,750.8 1459.2,780.3 1459.8,810.9 1460.4,823.6 1461,822.2 1461.6,826.2 1462.2,802.7 1462.8,776.9 1463.4,760.2 1464,789.8 1464.6,756.9 1465.2,785.5 1465.8,816.4 1466.4,826.7 1467,827 1467.6,824.7 1468.2,819.6 1468.8,826.2 1469.4,821.3 1470,825.8 1470.6,828.1 1471.2,828.1 1471.8,824.3 1472.4,828.4 1473,823.8 1473.6,813.7 1474.2,803.8 1474.8,780.1 1475.4,772 1476,789.6 1476.6,811.2 1477.2,819.1 1477.8,827.1 1478.4,826.8 1479,826.5 1479.6,804.9 1480.2,772.6 1480.8,775.8 1481.4,807 1482,827.3 1482.6,826.5 1483.2,826.5 1483.8,823.5 1484.4,825.1 1485,826.2 1485.6,825.9 1486.2,825.4 1486.8,826.3 1487.4,828 1488,828.3 1488.6,828.5 1489.2,827.5 1489.8,814.4 1490.4,783.2 1491,743.5 1491.6,775.7 1492.2,807.5 1492.8,825.3 1493.4,826.9 1494,827.2 1494.6,828.3 1495.2,822 1495.8,824.2 1496.4,826.3 1497,823 1497.6,825.4 1498.2,827.2 1498.8,822.1 1499.4,814.9 1500,803.9 1500.6,789.5 1501.2,799.6 1501.8,818.3 1502.4,828.3 1503,826.3 1503,852.4 1502.4,856.1 1501.8,859.2 1501.2,856.9 1500.6,852.1 1500,848.6 1499.4,849.2 1498.8,850.1 1498.2,848.3 1497.6,853.9 1497,851.6 1496.4,852.1 1495.8,849.9 1495.2,851.1 1494.6,849.3 1494,851.7 1493.4,852.7 1492.8,850.5 1492.2,851.2 1491.6,849.9 1491,849.2 1490.4,853.2 1489.8,849.5 1489.2,852 1488.6,848.9 1488,853.5 1487.4,848.3 1486.8,849.6 1486.2,850.5 1485.6,848.7 1485,850 1484.4,849.5 1483.8,849.1 1483.2,848.4 1482.6,849.8 1482,848.8 1481.4,848.9 1480.8,850.9 1480.2,849.8 1479.6,853 1479,855.5 1478.4,854.2 1477.8,849.1 1477.2,852.7 1476.6,854.1 1476,860.4 1475.4,855.7 1474.8,858.8 1474.2,864.2 1473.6,854.5 1473,850.8 1472.4,857.2 1471.8,861.9 1471.2,850.3 1470.6,848.7 1470,850.6 1469.4,848.2 1468.8,849.2 1468.2,849.2 1467.6,851.7 1467,850.4 1466.4,849.4 1465.8,848.1 1465.2,856.2 1464.6,862.7 1464,859.4 1463.4,856.5 1462.8,849.9 1462.2,850 1461.6,849.8 1461,851.4 1460.4,850.5 1459.8,850.1 1459.2,848.5 1458.6,850.1 1458,850.2 1457.4,849.4 1456.8,848.8 1456.2,849.4 1455.6,848.3 1455,849.7 1454.4,848.7 1453.8,848.7 1453.2,848.2 1452.6,854.2 1452,868.1 1451.4,859 1450.8,850.3 1450.2,850.9 1449.6,852.8 1449,848.6 1448.4,852.6 1447.8,849.4 1447.2,850.5 1446.6,850.9 1446,852.9 1445.4,850.8 1444.8,849.8 1444.2,848.2 1443.6,848.4 1443,850.9 1442.4,851 1441.8,848.6 1441.2,849.9 1440.6,850.7 1440,849.2 1439.4,853.5 1438.8,851.1 1438.2,850.9 1437.6,851 1437,848.3 1436.4,851.6 1435.8,848.9 1435.2,850.5 1434.6,848.2 1434,853 1433.4,849.2 1432.8,849.1 1432.2,849.9 1431.6,848.7 1431,850.8 1430.4,851 1429.8,848.6 1429.2,851.8 1428.6,851.6 1428,851.5 1427.4,771.2 1426.8,773.5 1426.2,770.4 1425.6,851 1425,851 1424.4,848.4 1423.8,851.5 1423.2,853.8 1422.6,851.6 1422,850.2 1421.4,850.6 1420.8,854.2 1420.2,851.7 1419.6,848.6 1419,848.5 1418.4,851.3 1417.8,848.8 1417.2,849.3 1416.6,848.3 1416,848.2 1415.4,852.9 1414.8,848.1 1414.2,849.1 1413.6,852.2 1413,853.2 1412.4,864.7 1411.8,858.4 1411.2,851.9 1410.6,850.8 1410,850.1 1409.4,848.5 1408.8,851.7 1408.2,850.8 1407.6,851.5 1407,855.3 1406.4,852 1405.8,849.7 1405.2,848.3 1404.6,850.2 1404,851.2 1403.4,848.4 1402.8,849 1402.2,848.5 1401.6,848.6 1401,851.7 1400.4,853.4 1399.8,850.1 1399.2,848.5 1398.6,850.3 1398,850.6 1397.4,848.7 1396.8,848.4 1396.2,849.3 1395.6,849.8 1395,852.6 1394.4,854.3 1393.8,859.2 1393.2,853.4 1392.6,848.7 1392,850.2 1391.4,848.8 1390.8,849.4 1390.2,851.5 1389.6,771.2 1389,764.8 1388.4,771.9 1387.8,764.7 1387.2,770.4 1386.6,767.6 1386,773 1385.4,773.4 1384.8,768.3 1384.2,766.9 1383.6,769.2 1383,848.7 1382.4,849.7 1381.8,850.7 1381.2,853.4 1380.6,857.5 1380,767.8 1379.4,764.2 1378.8,764.9 1378.2,772.4 1377.6,772.4 1377,772.9 1376.4,770.7 1375.8,771.9 1375.2,768.3 1374.6,770.3 1374,848.8 1373.4,850 1372.8,850.9 1372.2,849.7 1371.6,849.3 1371,849 1370.4,852.1 1369.8,850.8 1369.2,849.7 1368.6,848.2 1368,849.1 1367.4,848.3 1366.8,849.8 1366.2,849.3 1365.6,848.3 1365,848.4 1364.4,848.4 1363.8,849.8 1363.2,849.5 1362.6,850.9 1362,852.7 1361.4,849.6 1360.8,848.3 1360.2,850.2 1359.6,848.6 1359,850.1 1358.4,850.1 1357.8,851 1357.2,849 1356.6,851.9 1356,851.6 1355.4,859.7 1354.8,872.9 1354.2,858.3 1353.6,848.4 1353,851.3 1352.4,849.8 1351.8,849.6 1351.2,848.1 1350.6,851.6 1350,850.7 1349.4,848.8 1348.8,850.3 1348.2,848.1 1347.6,849.1 1347,852.5 1346.4,849.5 1345.8,848.9 1345.2,852.1 1344.6,848.6 1344,848.5 1343.4,850.8 1342.8,851.2 1342.2,849.7 1341.6,848.8 1341,853.4 1340.4,853.2 1339.8,855.3 1339.2,850.2 1338.6,853.8 1338,853 1337.4,849.3 1336.8,848.2 1336.2,849.9 1335.6,849 1335,850 1334.4,850.3 1333.8,850.7 1333.2,849.6 1332.6,850.6 1332,850.5 1331.4,852.7 1330.8,848.7 1330.2,849.3 1329.6,852.2 1329,848.1 1328.4,849.4 1327.8,850.6 1327.2,861.2 1326.6,863 1326,852.6 1325.4,852.4 1324.8,848.2 1324.2,852.8 1323.6,848.6 1323,851.2 1322.4,849.5 1321.8,848.5 1321.2,848.2 1320.6,850.7 1320,849.4 1319.4,848.2 1318.8,848.5 1318.2,848.7 1317.6,849.8 1317,848.8 1316.4,848.1 1315.8,852.2 1315.2,849.1 1314.6,850.1 1314,849 1313.4,848.8 1312.8,848 1312.2,849.4 1311.6,849.6 1311,848.3 1310.4,848.2 1309.8,848 1309.2,848.4 1308.6,849.2 1308,848.3 1307.4,849.7 1306.8,851.9 1306.2,851.6 1305.6,852.7 1305,866.4 1304.4,852.1 1303.8,852.1 1303.2,850.1 1302.6,852.7 1302,850.4 1301.4,850.1 1300.8,849.5 1300.2,851.2 1299.6,851.9 1299,851.6 1298.4,852.2 1297.8,848.5 1297.2,852.1 1296.6,850.8 1296,849.3 1295.4,849.8 1294.8,849 1294.2,848.3 1293.6,852.8 1293,853.1 1292.4,848.7 1291.8,852.7 1291.2,850.3 1290.6,853 1290,858.6 1289.4,859.2 1288.8,851.2 1288.2,854.6 1287.6,848.5 1287,850.8 1286.4,852.8 1285.8,850.3 1285.2,767.6 1284.6,771.1 1284,766.5 1283.4,851.1 1282.8,848.8 1282.2,852.7 1281.6,848.5 1281,849.4 1280.4,851.9 1279.8,848.5 1279.2,850.4 1278.6,849.6 1278,848.2 1277.4,852.3 1276.8,849 1276.2,850.4 1275.6,848 1275,856.5 1274.4,849.8 1273.8,850.5 1273.2,853.1 1272.6,849.6 1272,851.5 1271.4,851 1270.8,850.9 1270.2,848.7 1269.6,850.5 1269,848.3 1268.4,849.1 1267.8,848.3 1267.2,849 1266.6,851.4 1266,850.6 1265.4,848.9 1264.8,849.8 1264.2,850.2 1263.6,849.1 1263,852.9 1262.4,858 1261.8,857.1 1261.2,851.2 1260.6,851.3 1260,848.1 1259.4,851.7 1258.8,858.6 1258.2,858.5 1257.6,857.4 1257,863.7 1256.4,854.2 1255.8,849.7 1255.2,852.8 1254.6,852.8 1254,852.5 1253.4,848.3 1252.8,851.1 1252.2,850 1251.6,852.9 1251,849.7 1250.4,849.5 1249.8,849.2 1249.2,848.6 1248.6,848.6 1248,849.8 1247.4,848.6 1246.8,849 1246.2,853.4 1245.6,852 1245,863.9 1244.4,861.3 1243.8,853 1243.2,852.6 1242.6,852.2 1242,853.7 1241.4,854.3 1240.8,864.2 1240.2,857.3 1239.6,851.8 1239,850.1 1238.4,849.1 1237.8,848 1237.2,851.9 1236.6,858.8 1236,861.4 1235.4,853 1234.8,848.9 1234.2,849.7 1233.6,850.8 1233,855.3 1232.4,850.6 1231.8,850.1 1231.2,851.4 1230.6,768.8 1230,771.7 1229.4,766.4 1228.8,764.2 1228.2,765.3 1227.6,764.4 1227,766 1226.4,773.2 1225.8,765.7 1225.2,851.8 1224.6,851 1224,849 1223.4,765.9 1222.8,770.8 1222.2,768.4 1221.6,771 1221,765.5 1220.4,768.6 1219.8,769.3 1219.2,765.6 1218.6,768.3 1218,771.5 1217.4,851.2 1216.8,851.8 1216.2,848.3 1215.6,852.2 1215,848.9 1214.4,848.7 1213.8,852.8 1213.2,852.4 1212.6,850.1 1212,849.6 1211.4,851.2 1210.8,853.2 1210.2,860.9 1209.6,854.4 1209,848.8 1208.4,849.8 1207.8,851.9 1207.2,854 1206.6,852.7 1206,848.4 1205.4,849.2 1204.8,852.4 1204.2,849.7 1203.6,850.9 1203,851.6 1202.4,850.8 1201.8,848.5 1201.2,850.1 1200.6,848.3 1200,849.6 1199.4,848.4 1198.8,849.9 1198.2,850.5 1197.6,848.9 1197,849.3 1196.4,850.2 1195.8,849.9 1195.2,851.3 1194.6,855 1194,854.1 1193.4,851.4 1192.8,848.7 1192.2,848.8 1191.6,850.8 1191,848.8 1190.4,849.9 1189.8,849.6 1189.2,849.5 1188.6,848.3 1188,849.1 1187.4,850.8 1186.8,849.9 1186.2,850.7 1185.6,849.6 1185,849.6 1184.4,851.6 1183.8,849.1 1183.2,849.7 1182.6,851.3 1182,850.1 1181.4,850.9 1180.8,850.7 1180.2,850.3 1179.6,848.9 1179,854.7 1178.4,859.7 1177.8,860.5 1177.2,853.5 1176.6,868 1176,856.5 1175.4,848.3 1174.8,849.9 1174.2,850.7 1173.6,848.5 1173,850.1 1172.4,848.3 1171.8,848.7 1171.2,850.4 1170.6,849.4 1170,861.4 1169.4,854.2 1168.8,850.3 1168.2,848.9 1167.6,849.6 1167,848.1 1166.4,848.2 1165.8,848.9 1165.2,848.1 1164.6,851 1164,850.1 1163.4,848.8 1162.8,856.6 1162.2,860.1 1161.6,848 1161,849.2 1160.4,848.9 1159.8,848.3 1159.2,851.4 1158.6,850.2 1158,851.4 1157.4,850.5 1156.8,848.5 1156.2,850.3 1155.6,852.8 1155,848.7 1154.4,849.4 1153.8,848.6 1153.2,768.7 1152.6,766.2 1152,773.7 1151.4,866 1150.8,854.3 1150.2,849.4 1149.6,850.6 1149,850.5 1148.4,851.4 1147.8,849 1147.2,850.2 1146.6,854.1 1146,849.5 1145.4,848.9 1144.8,850.9 1144.2,848.6 1143.6,850.3 1143,856.5 1142.4,857.7 1141.8,853 1141.2,848.2 1140.6,848.3 1140,856.7 1139.4,852.8 1138.8,848.7 1138.2,848.1 1137.6,851.8 1137,849.3 1136.4,852.6 1135.8,851.1 1135.2,852 1134.6,850.3 1134,849 1133.4,849.8 1132.8,848.4 1132.2,851.6 1131.6,858.7 1131,865.5 1130.4,854.1 1129.8,849.1 1129.2,850.4 1128.6,852.1 1128,852 1127.4,855.5 1126.8,853.1 1126.2,851.8 1125.6,848.3 1125,851.6 1124.4,848.3 1123.8,848.6 1123.2,855.9 1122.6,859.1 1122,858.8 1121.4,850.9 1120.8,848.6 1120.2,851.4 1119.6,850.2 1119,848.9 1118.4,849.3 1117.8,848.9 1117.2,849.4 1116.6,849.8 1116,852.1 1115.4,848.3 1114.8,848.6 1114.2,848.3 1113.6,848.2 1113,848.8 1112.4,848.7 1111.8,851.2 1111.2,848.3 1110.6,850.1 1110,849.9 1109.4,849.2 1108.8,853.5 1108.2,851.5 1107.6,849.2 1107,848.9 1106.4,850.6 1105.8,849.4 1105.2,849.6 1104.6,851.1 1104,850.1 1103.4,848.6 1102.8,853.3 1102.2,850.8 1101.6,850.3 1101,850.5 1100.4,850.6 1099.8,855.3 1099.2,850.1 1098.6,848.3 1098,855.2 1097.4,856.9 1096.8,855.8 1096.2,852.4 1095.6,851.6 1095,850.4 1094.4,848.4 1093.8,848.4 1093.2,848.4 1092.6,848.4 1092,849.3 1091.4,848.4 1090.8,850.4 1090.2,848.9 1089.6,850.4 1089,848.1 1088.4,848.1 1087.8,849.9 1087.2,849.9 1086.6,849.7 1086,849.5 1085.4,852 1084.8,850 1084.2,848.9 1083.6,848.1 1083,852.2 1082.4,850.2 1081.8,850.4 1081.2,850.1 1080.6,852.5 1080,849.9 1079.4,848.4 1078.8,848.9 1078.2,851.7 1077.6,849.9 1077,852.4 1076.4,850 1075.8,848.6 1075.2,848.9 1074.6,849.2 1074,852.1 1073.4,850.2 1072.8,849.5 1072.2,850 1071.6,851.9 1071,848.4 1070.4,848.2 1069.8,850.8 1069.2,848.3 1068.6,851.2 1068,772.5 1067.4,765.7 1066.8,773.6 1066.2,766.3 1065.6,767.4 1065,764.7 1064.4,772.7 1063.8,766.5 1063.2,771.8 1062.6,768.1 1062,764.7 1061.4,849.6 1060.8,848.8 1060.2,849.5 1059.6,850 1059,858.2 1058.4,854.5 1057.8,850.4 1057.2,848.7 1056.6,848.2 1056,848.7 1055.4,849.7 1054.8,848.4 1054.2,853.2 1053.6,861.4 1053,851.8 1052.4,848.6 1051.8,848.5 1051.2,848.5 1050.6,851.6 1050,849.2 1049.4,852 1048.8,849.2 1048.2,859.3 1047.6,860 1047,850.2 1046.4,848.1 1045.8,859 1045.2,870.3 1044.6,857.4 1044,851.9 1043.4,849.5 1042.8,849.3 1042.2,851.4 1041.6,854.7 1041,850.3 1040.4,850.7 1039.8,848.4 1039.2,848 1038.6,848.3 1038,851.3 1037.4,849.3 1036.8,853.8 1036.2,851.4 1035.6,851.1 1035,848.4 1034.4,852.1 1033.8,850.1 1033.2,848 1032.6,852.4 1032,850.1 1031.4,849.8 1030.8,849 1030.2,848.2 1029.6,848.5 1029,848.6 1028.4,852 1027.8,856.7 1027.2,850.7 1026.6,850 1026,852.2 1025.4,848.4 1024.8,852.4 1024.2,854.6 1023.6,850.9 1023,860.6 1022.4,857.6 1021.8,855.8 1021.2,856.9 1020.6,854 1020,853 1019.4,857.2 1018.8,855.6 1018.2,848.7 1017.6,848.8 1017,849.1 1016.4,850.4 1015.8,849.8 1015.2,850.6 1014.6,849.4 1014,848.6 1013.4,848.4 1012.8,850.8 1012.2,849 1011.6,849.7 1011,852.2 1010.4,848 1009.8,848 1009.2,849.7 1008.6,851.1 1008,849.4 1007.4,851.3 1006.8,850.6 1006.2,849.1 1005.6,850.2 1005,851.5 1004.4,851.3 1003.8,849.3 1003.2,848.6 1002.6,855 1002,849.6 1001.4,848.2 1000.8,848.6 1000.2,850.1 999.6,851.1 999,851.6 998.4,848.9 997.8,849.8 997.2,850.5 996.6,856.9 996,856.1 995.4,850.2 994.8,848.2 994.2,849.6 993.6,850.8 993,850.1 992.4,849.9 991.8,848.9 991.2,848.7 990.6,849.5 990,850.2 989.4,851.7 988.8,849 988.2,848.8 987.6,848.7 987,851.6 986.4,849.7 985.8,848.7 985.2,848.6 984.6,855 984,853.6 983.4,860.6 982.8,866.6 982.2,856.7 981.6,851.8 981,850.5 980.4,848.5 979.8,848.1 979.2,850.3 978.6,851.6 978,850 977.4,852.7 976.8,851 976.2,849.6 975.6,850.5 975,848.5 974.4,854.2 973.8,859.4 973.2,858.5 972.6,852.5 972,851.8 971.4,848.2 970.8,851 970.2,848.8 969.6,850.5 969,850.9 968.4,848 967.8,851.5 967.2,851.1 966.6,850.7 966,848.4 965.4,848.4 964.8,851.2 964.2,849.3 963.6,848.2 963,849.5 962.4,851.2 961.8,853.3 961.2,848.2 960.6,848.7 960,851.3 959.4,848.7 958.8,849.3 958.2,850.9 957.6,853.3 957,858.5 956.4,851.5 955.8,850.6 955.2,848.9 954.6,848.3 954,849.8 953.4,852.5 952.8,850.6 952.2,848.5 951.6,851.2 951,848.7 950.4,850 949.8,850.5 949.2,848.1 948.6,850.6 948,856.3 947.4,863.4 946.8,855.2 946.2,849.4 945.6,849.7 945,854.7 944.4,849.8 943.8,849.2 943.2,851.2 942.6,848.9 942,850 941.4,849.3 940.8,856.4 940.2,848.3 939.6,849.1 939,849.5 938.4,849.3 937.8,852.4 937.2,851.6 936.6,848 936,848.8 935.4,850.8 934.8,849.1 934.2,851.1 933.6,848.9 933,849.1 932.4,848.3 931.8,851.7 931.2,850.8 930.6,853.7 930,850.4 929.4,848.3 928.8,849.1 928.2,854.1 927.6,849.9 927,849.8 926.4,849.5 925.8,850.5 925.2,849.3 924.6,850.7 924,851.1 923.4,848.2 922.8,848.7 922.2,850.9 921.6,850.9 921,848.6 920.4,849.3 919.8,849.4 919.2,852.2 918.6,854.2 918,848.6 917.4,850.2 916.8,848.4 916.2,851.7 915.6,848.6 915,849.9 914.4,848.2 913.8,849.3 913.2,848.8 912.6,856.7 912,849.7 911.4,849.9 910.8,849.7 910.2,848.4 909.6,852.7 909,848.5 908.4,849.2 907.8,850.4 907.2,849.9 906.6,854.1 906,853.8 905.4,851.5 904.8,855.4 904.2,768.4 903.6,772.4 903,765.2 902.4,856 901.8,851.2 901.2,850 900.6,848.5 900,851.3 899.4,854.5 898.8,849.1 898.2,849.9 897.6,849.6 897,849.1 896.4,850.8 895.8,850.2 895.2,855.1 894.6,850.1 894,849.5 893.4,769.1 892.8,769.5 892.2,773.5 891.6,766.6 891,773.4 890.4,773.7 889.8,765.8 889.2,771.6 888.6,771.7 888,768.3 887.4,771.7 886.8,852.4 886.2,859.3 885.6,860.2 885,772.1 884.4,768.3 883.8,767.4 883.2,766 882.6,765.4 882,772.2 881.4,771.2 880.8,770.9 880.2,861.2 879.6,858.4 879,852.5" fill="#3300ff" stroke="#3300ff" stroke-width="0.9" stroke-linejoin="round"/>
<line x1="868.5" y1="754.3" x2="1512" y2="755.6" stroke="#808080" stroke-width="2.4" stroke-dasharray="27.5 11.5"/>
<line x1="877" y1="847" x2="1519.5" y2="848.2" stroke="#808080" stroke-width="2.4" stroke-dasharray="27.5 11.5"/>
<polygon points="878.5,973.4 879.1,967.2 879.7,966.6 880.3,972.7 880.9,974.6 881.5,974.2 882.1,973.4 882.7,969.8 883.3,974 883.9,970.3 884.5,974.6 885.1,971.6 885.7,972.9 886.3,974.2 886.9,974.6 887.5,972.2 888.1,974.9 888.7,972.9 889.3,973.6 889.9,974.4 890.5,974 891.1,974.3 891.7,973.1 892.3,974.6 892.9,974.9 893.5,971.1 894.1,967.9 894.7,969.2 895.3,968.1 895.9,973.2 896.5,974.8 897.1,973.7 897.7,973.7 898.3,974 898.9,973.6 899.5,973 900.1,965.5 900.7,970.6 901.3,971.9 901.9,970.3 902.5,971.5 903.1,972.2 903.7,974.5 904.3,971.3 904.9,970.6 905.5,967.7 906.1,968.5 906.7,973.4 907.3,971.3 907.9,970.3 908.5,972.5 909.1,973.1 909.7,974.8 910.3,973.1 910.9,974.7 911.5,974.9 912.1,973.4 912.7,974.6 913.3,974.4 913.9,972.6 914.5,973.4 915.1,973.8 915.7,974.3 916.3,973 916.9,973.3 917.5,973.6 918.1,974.9 918.7,973 919.3,972.7 919.9,968.6 920.5,972.8 921.1,970.9 921.7,972.9 922.3,972.5 922.9,971.7 923.5,971.9 924.1,972.9 924.7,972.8 925.3,971.2 925.9,973.1 926.5,973.7 927.1,972.2 927.7,973.3 928.3,974 928.9,971.9 929.5,971.9 930.1,972.4 930.7,973.7 931.3,974.1 931.9,975 932.5,974.5 933.1,972.9 933.7,974.9 934.3,974 934.9,971 935.5,974.1 936.1,970.3 936.7,970.4 937.3,969.8 937.9,968.8 938.5,969.5 939.1,969.5 939.7,972.6 940.3,970.8 940.9,974.4 941.5,968.8 942.1,972.8 942.7,971.7 943.3,974.9 943.9,974.1 944.5,972.5 945.1,974.2 945.7,974.4 946.3,974.5 946.9,974.5 947.5,968.7 948.1,973.8 948.7,973 949.3,974.4 949.9,971.1 950.5,974.2 951.1,974.4 951.7,972.4 952.3,973.3 952.9,972.8 953.5,974 954.1,974.6 954.7,969.3 955.3,974.1 955.9,973.4 956.5,973.2 957.1,973.7 957.7,974.6 958.3,969 958.9,974.3 959.5,974.9 960.1,971.6 960.7,971.6 961.3,974.3 961.9,974.4 962.5,971.5 963.1,970.7 963.7,973.4 964.3,970.9 964.9,973.8 965.5,972.8 966.1,973.3 966.7,970.7 967.3,973.9 967.9,972.1 968.5,974.7 969.1,974.6 969.7,973.8 970.3,974.9 970.9,972.4 971.5,970.7 972.1,973.5 972.7,973.2 973.3,974.3 973.9,972.1 974.5,971.8 975.1,974.1 975.7,974.7 976.3,974.2 976.9,974.5 977.5,971.6 978.1,966.1 978.7,972.3 979.3,974.4 979.9,972.6 980.5,971.8 981.1,974.4 981.7,973.6 982.3,974 982.9,973.4 983.5,974.2 984.1,968.8 984.7,974 985.3,973.8 985.9,973.9 986.5,974 987.1,972.7 987.7,974.7 988.3,973.8 988.9,974.9 989.5,972.9 990.1,972 990.7,973.5 991.3,972.6 991.9,971.4 992.5,974.4 993.1,972.9 993.7,974.9 994.3,971.8 994.9,974.4 995.5,974.4 996.1,972.2 996.7,972.5 997.3,970.3 997.9,970.1 998.5,974.3 999.1,971.8 999.7,969 1000.3,974.4 1000.9,971.9 1001.5,969.1 1002.1,972.5 1002.7,974.2 1003.3,970.3 1003.9,973 1004.5,971.9 1005.1,969.8 1005.7,974 1006.3,974.3 1006.9,974.7 1007.5,971.1 1008.1,972.9 1008.7,969 1009.3,974.7 1009.9,970.8 1010.5,967.8 1011.1,972.1 1011.7,973.8 1012.3,974.2 1012.9,974.2 1013.5,972.2 1014.1,972.3 1014.7,972.2 1015.3,970.1 1015.9,974.5 1016.5,970.1 1017.1,972.8 1017.7,970 1018.3,974.2 1018.9,972.3 1019.5,974.3 1020.1,973.3 1020.7,968.2 1021.3,970.8 1021.9,968.7 1022.5,973 1023.1,971.9 1023.7,972.5 1024.3,972.2 1024.9,973.9 1025.5,973.9 1026.1,971.6 1026.7,974.6 1027.3,973.1 1027.9,973.7 1028.5,974.4 1029.1,971.7 1029.7,971.5 1030.3,973.3 1030.9,974.5 1031.5,970.7 1032.1,974.3 1032.7,970.9 1033.3,972.5 1033.9,973.9 1034.5,967.4 1035.1,967.8 1035.7,971.8 1036.3,972.9 1036.9,971.7 1037.5,972.9 1038.1,971.3 1038.7,972.8 1039.3,973.9 1039.9,968.7 1040.5,974.6 1041.1,971.4 1041.7,974.2 1042.3,969 1042.9,974.9 1043.5,972.3 1044.1,973.5 1044.7,974.3 1045.3,972.9 1045.9,973.9 1046.5,966.7 1047.1,968.5 1047.7,972.1 1048.3,969.3 1048.9,972.4 1049.5,974.5 1050.1,973.2 1050.7,973.8 1051.3,974.4 1051.9,974.4 1052.5,973.1 1053.1,973.1 1053.7,972.4 1054.3,969.8 1054.9,970.2 1055.5,965 1056.1,971.2 1056.7,972.8 1057.3,970.2 1057.9,970.7 1058.5,970.1 1059.1,974.1 1059.7,973.6 1060.3,974.3 1060.9,968.3 1061.5,975 1062.1,972.9 1062.7,970.4 1063.3,972.8 1063.9,969.3 1064.5,969.6 1065.1,970.8 1065.7,974.2 1066.3,974.2 1066.9,970.9 1067.5,974.1 1068.1,969.2 1068.7,973.1 1069.3,974.6 1069.9,972.1 1070.5,967.4 1071.1,972.6 1071.7,972.4 1072.3,972.3 1072.9,972.2 1073.5,972.7 1074.1,969.2 1074.7,969.3 1075.3,971.7 1075.9,971 1076.5,974 1077.1,974.5 1077.7,969.9 1078.3,973 1078.9,974.7 1079.5,971.9 1080.1,972.6 1080.7,971.3 1081.3,975 1081.9,972.6 1082.5,968.6 1083.1,966.9 1083.7,968.9 1084.3,972.9 1084.9,974.6 1085.5,974.2 1086.1,974.8 1086.7,972.9 1087.3,972.8 1087.9,972.3 1088.5,972.8 1089.1,972.7 1089.7,969.7 1090.3,970 1090.9,973.2 1091.5,973.4 1092.1,972 1092.7,968.1 1093.3,966.7 1093.9,973.1 1094.5,973 1095.1,973.2 1095.7,973.8 1096.3,971.8 1096.9,972.1 1097.5,969.1 1098.1,968.4 1098.7,971.3 1099.3,973.5 1099.9,972.6 1100.5,974.9 1101.1,973.1 1101.7,974.7 1102.3,970.3 1102.9,974.1 1103.5,970.8 1104.1,969.9 1104.7,969.4 1105.3,973.3 1105.9,974.2 1106.5,974 1107.1,969.7 1107.7,969.8 1108.3,972.5 1108.9,969.6 1109.5,969.2 1110.1,974.9 1110.7,972.8 1111.3,974 1111.9,974.5 1112.5,973.5 1113.1,965.5 1113.7,967 1114.3,972.9 1114.9,969.8 1115.5,973.9 1116.1,973.7 1116.7,973.7 1117.3,971.6 1117.9,975 1118.5,972.5 1119.1,970.5 1119.7,969.5 1120.3,969.3 1120.9,974.2 1121.5,974.1 1122.1,969.9 1122.7,974.2 1123.3,968.9 1123.9,974.8 1124.5,974.5 1125.1,970.2 1125.7,974.1 1126.3,972.2 1126.9,971.9 1127.5,967.1 1128.1,972.7 1128.7,973 1129.3,970.9 1129.9,972 1130.5,974.2 1131.1,974.9 1131.7,971.7 1132.3,973.9 1132.9,973.2 1133.5,973.8 1134.1,970.1 1134.7,968.4 1135.3,971.3 1135.9,970.3 1136.5,974.5 1137.1,974.7 1137.7,970.6 1138.3,973.7 1138.9,973.2 1139.5,971.4 1140.1,973.4 1140.7,969.2 1141.3,973.4 1141.9,967.3 1142.5,975 1143.1,974.4 1143.7,971.5 1144.3,974.3 1144.9,974 1145.5,972.2 1146.1,971.7 1146.7,973 1147.3,974.4 1147.9,973.2 1148.5,969.8 1149.1,973.7 1149.7,974.5 1150.3,974.2 1150.9,973.4 1151.5,967.7 1152.1,966.7 1152.7,972.1 1153.3,973.6 1153.9,971.3 1154.5,972 1155.1,974.5 1155.7,975 1156.3,974.2 1156.9,972.6 1157.5,973.5 1158.1,973.8 1158.7,973.8 1159.3,974 1159.9,973.2 1160.5,974.5 1161.1,971.3 1161.7,974.5 1162.3,972.6 1162.9,974.9 1163.5,973.5 1164.1,972.5 1164.7,974.6 1165.3,973.6 1165.9,971.6 1166.5,974.8 1167.1,973.6 1167.7,973.6 1168.3,971.6 1168.9,974.7 1169.5,973.7 1170.1,973 1170.7,971.5 1171.3,972.7 1171.9,971 1172.5,974.5 1173.1,971.9 1173.7,972.4 1174.3,970.5 1174.9,971.5 1175.5,974.7 1176.1,973.3 1176.7,969 1177.3,973.9 1177.9,972.5 1178.5,975 1179.1,969.6 1179.7,974.8 1180.3,974.3 1180.9,970.3 1181.5,969.3 1182.1,969.2 1182.7,972.6 1183.3,972.9 1183.9,969.4 1184.5,967.6 1185.1,971.9 1185.7,974.4 1186.3,972.9 1186.9,973.8 1187.5,972.7 1188.1,974.9 1188.7,974.4 1189.3,970.5 1189.9,973.3 1190.5,970.8 1191.1,973.9 1191.7,971.2 1192.3,974.2 1192.9,972 1193.5,973 1194.1,969.5 1194.7,971.3 1195.3,972.9 1195.9,971.3 1196.5,971.6 1197.1,971 1197.7,969.4 1198.3,973.6 1198.9,974.5 1199.5,974.7 1200.1,973.9 1200.7,974.9 1201.3,972.6 1201.9,974.4 1202.5,974.1 1203.1,973.7 1203.7,969.7 1204.3,973 1204.9,974.8 1205.5,973.5 1206.1,973.8 1206.7,971.8 1207.3,973.5 1207.9,972.2 1208.5,974.3 1209.1,973.4 1209.7,973 1210.3,973.8 1210.9,973.2 1211.5,972.8 1212.1,974.7 1212.7,974.9 1213.3,971.1 1213.9,970.7 1214.5,973.6 1215.1,970.7 1215.7,971.4 1216.3,974 1216.9,973.2 1217.5,973.7 1218.1,974.2 1218.7,974.5 1219.3,974.1 1219.9,973.4 1220.5,972.1 1221.1,972 1221.7,971.7 1222.3,971.4 1222.9,974.7 1223.5,974.2 1224.1,968.2 1224.7,973.6 1225.3,975 1225.9,971.2 1226.5,973 1227.1,974.1 1227.7,972.4 1228.3,972.9 1228.9,973.9 1229.5,974.1 1230.1,971.7 1230.7,974.6 1231.3,973.4 1231.9,973.2 1232.5,974.6 1233.1,973.5 1233.7,970.7 1234.3,972.4 1234.9,972.7 1235.5,970.8 1236.1,971.3 1236.7,973.3 1237.3,972 1237.9,973.1 1238.5,971.9 1239.1,974.8 1239.7,974.7 1240.3,970.8 1240.9,972.4 1241.5,969.6 1242.1,972.7 1242.7,967.9 1243.3,972.9 1243.9,972.5 1244.5,970.1 1245.1,969.5 1245.7,971.9 1246.3,974.1 1246.9,974.4 1247.5,973 1248.1,972.6 1248.7,973.2 1249.3,973.5 1249.9,972.1 1250.5,972.9 1251.1,973.7 1251.7,975 1252.3,971.9 1252.9,966.3 1253.5,973.5 1254.1,970.2 1254.7,971.3 1255.3,969.4 1255.9,967.5 1256.5,965.7 1257.1,968.3 1257.7,970.4 1258.3,973.9 1258.9,970.5 1259.5,968.3 1260.1,974.3 1260.7,974.6 1261.3,972 1261.9,974.5 1262.5,972.7 1263.1,973.2 1263.7,972.3 1264.3,973 1264.9,974.6 1265.5,972 1266.1,971.8 1266.7,969.8 1267.3,968.9 1267.9,969.3 1268.5,973.3 1269.1,970.1 1269.7,973.1 1270.3,972.9 1270.9,973.1 1271.5,973.5 1272.1,973.2 1272.7,972.8 1273.3,971.9 1273.9,972.9 1274.5,971.1 1275.1,974.6 1275.7,972.5 1276.3,974.2 1276.9,974.7 1277.5,971.7 1278.1,967.2 1278.7,969.4 1279.3,974.5 1279.9,974.4 1280.5,971.3 1281.1,974.2 1281.7,973.2 1282.3,973.7 1282.9,972.2 1283.5,972.1 1284.1,974.5 1284.7,973.3 1285.3,971.9 1285.9,970.4 1286.5,969.7 1287.1,973.5 1287.7,972 1288.3,969.3 1288.9,969.9 1289.5,973.4 1290.1,974.7 1290.7,971.4 1291.3,973.3 1291.9,973.9 1292.5,974 1293.1,974.9 1293.7,968.9 1294.3,970.4 1294.9,972.3 1295.5,971.8 1296.1,969.7 1296.7,969.5 1297.3,973.6 1297.9,973.5 1298.5,974.1 1299.1,974.4 1299.7,972.6 1300.3,969.9 1300.9,971.9 1301.5,974.1 1302.1,969.2 1302.7,973.1 1303.3,970.4 1303.9,967.6 1304.5,972.7 1305.1,970.1 1305.7,971.2 1306.3,974.8 1306.9,973.5 1307.5,971.6 1308.1,973.1 1308.7,972.2 1309.3,973.5 1309.9,973.6 1310.5,972.1 1311.1,973.9 1311.7,972.6 1312.3,973.1 1312.9,971.5 1313.5,970.4 1314.1,974.4 1314.7,971.6 1315.3,974.7 1315.9,970.1 1316.5,973.1 1317.1,969.9 1317.7,968 1318.3,971.5 1318.9,972.5 1319.5,974.4 1320.1,973.3 1320.7,971.2 1321.3,971.6 1321.9,973.8 1322.5,973.7 1323.1,974 1323.7,974.9 1324.3,973.2 1324.9,972.7 1325.5,967.8 1326.1,969.8 1326.7,973.4 1327.3,969.6 1327.9,974.9 1328.5,974.8 1329.1,974.5 1329.7,974.9 1330.3,974.7 1330.9,972.1 1331.5,972.1 1332.1,973.5 1332.7,974.2 1333.3,971.8 1333.9,971.9 1334.5,974.2 1335.1,973 1335.7,974.5 1336.3,973.1 1336.9,969.3 1337.5,966.4 1338.1,971.3 1338.7,973.9 1339.3,970 1339.9,973.2 1340.5,973.8 1341.1,972.1 1341.7,971.4 1342.3,971.2 1342.9,974 1343.5,972.6 1344.1,971.2 1344.7,972.2 1345.3,974 1345.9,975 1346.5,974.5 1347.1,972.7 1347.7,969.8 1348.3,974.2 1348.9,974.2 1349.5,973.2 1350.1,974.5 1350.7,974.4 1351.3,973.5 1351.9,970.7 1352.5,971 1353.1,972.6 1353.7,969.2 1354.3,968.8 1354.9,968.9 1355.5,969.7 1356.1,974 1356.7,971.3 1357.3,971.1 1357.9,973.5 1358.5,973.5 1359.1,973.1 1359.7,974.8 1360.3,973.4 1360.9,974.9 1361.5,973.1 1362.1,971.6 1362.7,973 1363.3,974.7 1363.9,970.6 1364.5,973.2 1365.1,972.7 1365.7,974.8 1366.3,971.7 1366.9,971.8 1367.5,970.9 1368.1,967.6 1368.7,969.6 1369.3,969.7 1369.9,974.8 1370.5,970.4 1371.1,974.8 1371.7,973.7 1372.3,974.1 1372.9,975 1373.5,968.8 1374.1,971.5 1374.7,974.2 1375.3,974 1375.9,975 1376.5,969.2 1377.1,974.4 1377.7,972.1 1378.3,974 1378.9,971.6 1379.5,971.5 1380.1,974.8 1380.7,972.9 1381.3,973.2 1381.9,973.2 1382.5,973.4 1383.1,970.9 1383.7,971.8 1384.3,974 1384.9,972.4 1385.5,974.1 1386.1,974.1 1386.7,974.6 1387.3,971.9 1387.9,972.8 1388.5,973.3 1389.1,969 1389.7,966.1 1390.3,971.2 1390.9,973.3 1391.5,973.4 1392.1,968.5 1392.7,969.5 1393.3,974.3 1393.9,969.7 1394.5,972.1 1395.1,971.5 1395.7,974.4 1396.3,972.2 1396.9,972.4 1397.5,973.4 1398.1,974.3 1398.7,972 1399.3,971.4 1399.9,974.2 1400.5,973.1 1401.1,975 1401.7,974 1402.3,971.9 1402.9,974.1 1403.5,974.1 1404.1,967.2 1404.7,974.1 1405.3,974.5 1405.9,972.3 1406.5,973.6 1407.1,972 1407.7,974.4 1408.3,971.3 1408.9,972 1409.5,971.4 1410.1,974.7 1410.7,973 1411.3,973.3 1411.9,973.4 1412.5,972.5 1413.1,972.2 1413.7,974.7 1414.3,974.9 1414.9,970.7 1415.5,974.9 1416.1,974.3 1416.7,971.3 1417.3,971.7 1417.9,972.8 1418.5,972.4 1419.1,972.6 1419.7,968.3 1420.3,972.2 1420.9,968.1 1421.5,969 1422.1,970.2 1422.7,974.8 1423.3,972.8 1423.9,973.6 1424.5,974.4 1425.1,972.9 1425.7,972.8 1426.3,975 1426.9,972.9 1427.5,974 1428.1,973.8 1428.7,971.2 1429.3,973.7 1429.9,973.9 1430.5,973.3 1431.1,974.4 1431.7,974.3 1432.3,973.3 1432.9,974.4 1433.5,970.1 1434.1,965.3 1434.7,969 1435.3,974.5 1435.9,971.2 1436.5,973.9 1437.1,970.3 1437.7,971.7 1438.3,971.1 1438.9,973.4 1439.5,972 1440.1,973.8 1440.7,972.6 1441.3,974.3 1441.9,970.1 1442.5,972.5 1443.1,974.4 1443.7,974.9 1444.3,969.1 1444.9,968.9 1445.5,966.6 1446.1,972.9 1446.7,974.4 1447.3,972.8 1447.9,971 1448.5,974.2 1449.1,974.1 1449.7,972.7 1450.3,973.6 1450.9,973.3 1451.5,972.7 1452.1,974.3 1452.7,973.3 1453.3,967.8 1453.9,972.5 1454.5,974.7 1455.1,972.8 1455.7,974.6 1456.3,973.4 1456.9,967.2 1457.5,974.9 1458.1,973.1 1458.7,974.7 1459.3,972 1459.9,973.8 1460.5,972.3 1461.1,974.1 1461.7,968.7 1462.3,971.4 1462.9,970.5 1463.5,974.2 1464.1,974.8 1464.7,967.6 1465.3,970.5 1465.9,973.7 1466.5,973.1 1467.1,974.7 1467.7,970.3 1468.3,973 1468.9,973 1469.5,974.1 1470.1,974.1 1470.7,975 1471.3,973.8 1471.9,972 1472.5,973.7 1473.1,969.8 1473.7,974.1 1474.3,971.2 1474.9,973.5 1475.5,974.6 1476.1,972.3 1476.7,973.6 1477.3,974.9 1477.9,973.4 1478.5,971.1 1479.1,974.9 1479.7,974 1480.3,972.6 1480.9,974.9 1481.5,973.6 1482.1,974.1 1482.7,973.7 1483.3,972.9 1483.9,972.8 1484.5,973.3 1485.1,973.8 1485.7,971.8 1486.3,973.8 1486.9,974 1487.5,973.4 1488.1,974.5 1488.7,970.5 1489.3,974.5 1489.9,972.5 1490.5,974.1 1491.1,974.4 1491.7,972 1492.3,967.7 1492.9,971.6 1493.5,974.8 1494.1,967.7 1494.7,965.7 1495.3,968.7 1495.9,972.9 1496.5,971.2 1497.1,973.3 1497.7,972.9 1498.3,973.4 1498.9,972.6 1499.5,973.4 1500.1,969.7 1500.7,974.2 1501.3,970.2 1501.9,973.7 1502.5,974 1502.5,991.6 1501.9,989.1 1501.3,987.3 1500.7,990.4 1500.1,987.5 1499.5,991.3 1498.9,993.2 1498.3,992.7 1497.7,994.2 1497.1,992.8 1496.5,996.5 1495.9,1002.6 1495.3,992.4 1494.7,987.3 1494.1,988.7 1493.5,988.2 1492.9,987.9 1492.3,990.3 1491.7,989.7 1491.1,991.3 1490.5,987.7 1489.9,990.6 1489.3,988.6 1488.7,988.7 1488.1,993.1 1487.5,989.6 1486.9,989.3 1486.3,992.2 1485.7,1000.6 1485.1,991.4 1484.5,988.8 1483.9,987.4 1483.3,987.7 1482.7,999.2 1482.1,996.2 1481.5,989.1 1480.9,991.3 1480.3,990.9 1479.7,987.7 1479.1,991.7 1478.5,990.5 1477.9,987.2 1477.3,991.5 1476.7,990.8 1476.1,992.1 1475.5,988.4 1474.9,990.3 1474.3,990.4 1473.7,990.1 1473.1,988.1 1472.5,991.7 1471.9,987.6 1471.3,987.6 1470.7,990 1470.1,990.4 1469.5,987.8 1468.9,989.6 1468.3,989.4 1467.7,990.3 1467.1,1008.1 1466.5,1022.6 1465.9,1006.2 1465.3,992 1464.7,988.2 1464.1,994.1 1463.5,993.4 1462.9,1011.4 1462.3,1026.7 1461.7,1026.6 1461.1,1012.9 1460.5,993.5 1459.9,996.1 1459.3,1009.6 1458.7,1006.6 1458.1,995.9 1457.5,988 1456.9,987.9 1456.3,991.3 1455.7,996.8 1455.1,1005.3 1454.5,991.2 1453.9,990.3 1453.3,989.9 1452.7,992.6 1452.1,988.4 1451.5,992.4 1450.9,998.6 1450.3,989.2 1449.7,989 1449.1,1001.5 1448.5,1003.4 1447.9,997.8 1447.3,989.7 1446.7,988.5 1446.1,992.3 1445.5,987.3 1444.9,987.7 1444.3,989.1 1443.7,996.4 1443.1,998.6 1442.5,995.5 1441.9,992.8 1441.3,987.7 1440.7,987.7 1440.1,988.7 1439.5,992.1 1438.9,987.4 1438.3,992.5 1437.7,989.8 1437.1,989.3 1436.5,988.9 1435.9,989.4 1435.3,987.1 1434.7,989.6 1434.1,987.8 1433.5,989.7 1432.9,990.3 1432.3,990.8 1431.7,991.1 1431.1,987.8 1430.5,987.1 1429.9,990.1 1429.3,991.6 1428.7,988.5 1428.1,990.6 1427.5,992.5 1426.9,997.7 1426.3,1000.3 1425.7,992.5 1425.1,988.5 1424.5,989 1423.9,990.8 1423.3,992.3 1422.7,987.3 1422.1,989.1 1421.5,992 1420.9,988.5 1420.3,987.1 1419.7,989.2 1419.1,989.9 1418.5,990.2 1417.9,998.2 1417.3,999.4 1416.7,999.3 1416.1,996.9 1415.5,992.4 1414.9,996.6 1414.3,1009 1413.7,1001 1413.1,993.6 1412.5,987.1 1411.9,991.8 1411.3,988 1410.7,988.5 1410.1,987.1 1409.5,989.7 1408.9,989.7 1408.3,992.5 1407.7,987 1407.1,987.7 1406.5,987.6 1405.9,990.2 1405.3,989 1404.7,987.3 1404.1,988.8 1403.5,988.3 1402.9,987.2 1402.3,987.1 1401.7,988.6 1401.1,987.1 1400.5,987.2 1399.9,988.7 1399.3,988.3 1398.7,987.4 1398.1,988.4 1397.5,990 1396.9,987.6 1396.3,987.8 1395.7,988.3 1395.1,991.6 1394.5,992.4 1393.9,987.3 1393.3,988.6 1392.7,989.1 1392.1,988.4 1391.5,987.3 1390.9,987.1 1390.3,987.3 1389.7,993.4 1389.1,988 1388.5,987.9 1387.9,993.1 1387.3,991.1 1386.7,987.5 1386.1,987.1 1385.5,990.4 1384.9,994 1384.3,1002.5 1383.7,996.4 1383.1,1000 1382.5,997.8 1381.9,991 1381.3,996.9 1380.7,999.1 1380.1,1000.3 1379.5,989.5 1378.9,987.9 1378.3,988.2 1377.7,987.3 1377.1,990.6 1376.5,987.4 1375.9,988.5 1375.3,990.7 1374.7,988.4 1374.1,987.9 1373.5,992.7 1372.9,991.5 1372.3,989.3 1371.7,989.5 1371.1,987 1370.5,989.7 1369.9,989.4 1369.3,992.7 1368.7,992.7 1368.1,987.3 1367.5,988.9 1366.9,994.5 1366.3,989.2 1365.7,987.1 1365.1,988.1 1364.5,989.8 1363.9,988.3 1363.3,990.5 1362.7,987.1 1362.1,989.2 1361.5,989.3 1360.9,987.9 1360.3,992 1359.7,988.3 1359.1,989.8 1358.5,988.3 1357.9,991.7 1357.3,996.5 1356.7,994.4 1356.1,993.8 1355.5,988.7 1354.9,993.1 1354.3,987.5 1353.7,994.5 1353.1,1000.3 1352.5,1007.7 1351.9,1002.4 1351.3,994.8 1350.7,991.4 1350.1,990.6 1349.5,987.3 1348.9,988.9 1348.3,992.7 1347.7,987.4 1347.1,990.8 1346.5,991.1 1345.9,990.4 1345.3,987.5 1344.7,992.3 1344.1,996.6 1343.5,1009 1342.9,1003.7 1342.3,998.8 1341.7,999 1341.1,1000.9 1340.5,1003 1339.9,1005 1339.3,1004.1 1338.7,1001 1338.1,996.2 1337.5,994.1 1336.9,987.5 1336.3,992.4 1335.7,988.3 1335.1,988.4 1334.5,987.6 1333.9,987.1 1333.3,988.1 1332.7,989.8 1332.1,987.4 1331.5,989.4 1330.9,987.2 1330.3,989 1329.7,987.6 1329.1,987.2 1328.5,987 1327.9,989 1327.3,989.1 1326.7,994.2 1326.1,995.4 1325.5,1000.3 1324.9,996.1 1324.3,989.6 1323.7,989.5 1323.1,990.6 1322.5,988 1321.9,990.6 1321.3,989.4 1320.7,991.4 1320.1,988.9 1319.5,988.2 1318.9,987.7 1318.3,988.4 1317.7,991.2 1317.1,993.4 1316.5,996.9 1315.9,995.1 1315.3,995.7 1314.7,989.5 1314.1,994.9 1313.5,993 1312.9,990.7 1312.3,988.4 1311.7,989.8 1311.1,987.3 1310.5,990.1 1309.9,988.6 1309.3,989.6 1308.7,991.4 1308.1,988.1 1307.5,990 1306.9,987.5 1306.3,991.3 1305.7,989.7 1305.1,988.4 1304.5,992.8 1303.9,991.5 1303.3,992 1302.7,988.1 1302.1,987.1 1301.5,991.9 1300.9,987.6 1300.3,989.3 1299.7,990.1 1299.1,991 1298.5,987.2 1297.9,987.1 1297.3,989.8 1296.7,989.1 1296.1,990.4 1295.5,989.9 1294.9,987.6 1294.3,988.5 1293.7,987.5 1293.1,990.4 1292.5,993.1 1291.9,987.6 1291.3,992.4 1290.7,989 1290.1,993 1289.5,992.4 1288.9,992.7 1288.3,992.7 1287.7,990.1 1287.1,990.7 1286.5,988 1285.9,991.2 1285.3,993.5 1284.7,1002.1 1284.1,996.2 1283.5,989.9 1282.9,991 1282.3,997.3 1281.7,1004.1 1281.1,1009.4 1280.5,998.2 1279.9,992.3 1279.3,987.1 1278.7,992.2 1278.1,993.5 1277.5,988.3 1276.9,988.9 1276.3,989.8 1275.7,989.4 1275.1,988.3 1274.5,1002.1 1273.9,1022.8 1273.3,1017.4 1272.7,1004.6 1272.1,988.2 1271.5,988.4 1270.9,988.3 1270.3,989.4 1269.7,993.9 1269.1,1011.5 1268.5,1027.6 1267.9,1048.6 1267.3,1019.8 1266.7,1006.6 1266.1,987.5 1265.5,989 1264.9,998.7 1264.3,1009.8 1263.7,1009.9 1263.1,1001.8 1262.5,990.6 1261.9,988.3 1261.3,989.6 1260.7,991 1260.1,987.7 1259.5,988.2 1258.9,994.5 1258.3,1004.6 1257.7,1007.4 1257.1,996.1 1256.5,988 1255.9,987.6 1255.3,989 1254.7,990.1 1254.1,991.8 1253.5,991.7 1252.9,994.7 1252.3,990.9 1251.7,987.9 1251.1,990.6 1250.5,993.7 1249.9,997.1 1249.3,988.9 1248.7,993.4 1248.1,987.5 1247.5,987.2 1246.9,993.5 1246.3,993.4 1245.7,995.1 1245.1,990.5 1244.5,993.2 1243.9,994 1243.3,993.3 1242.7,987.8 1242.1,988.5 1241.5,991.1 1240.9,987.4 1240.3,992.2 1239.7,990.4 1239.1,994.1 1238.5,988.9 1237.9,988.8 1237.3,987.1 1236.7,988.5 1236.1,989.8 1235.5,991.3 1234.9,988.8 1234.3,990.6 1233.7,995.9 1233.1,1000.9 1232.5,1001 1231.9,1000.5 1231.3,990.1 1230.7,989.8 1230.1,989.9 1229.5,988.4 1228.9,990.3 1228.3,990.9 1227.7,994.8 1227.1,1003.2 1226.5,995.5 1225.9,987.6 1225.3,989.2 1224.7,995.9 1224.1,999.1 1223.5,1002.2 1222.9,1000.8 1222.3,993.8 1221.7,998.4 1221.1,989.9 1220.5,987 1219.9,987.5 1219.3,999.2 1218.7,1006 1218.1,1019.4 1217.5,1009.7 1216.9,1001.2 1216.3,990.2 1215.7,988.5 1215.1,987.3 1214.5,988.3 1213.9,1003.1 1213.3,1014.8 1212.7,1028.5 1212.1,1038.4 1211.5,1030.2 1210.9,1027.1 1210.3,1008.3 1209.7,992.2 1209.1,987.9 1208.5,989.4 1207.9,988 1207.3,993.7 1206.7,1003 1206.1,1015.4 1205.5,1013.5 1204.9,1001.9 1204.3,988 1203.7,989.1 1203.1,987 1202.5,993.9 1201.9,992.2 1201.3,996.4 1200.7,990.5 1200.1,987.7 1199.5,989.4 1198.9,988 1198.3,988 1197.7,988.2 1197.1,988.4 1196.5,989.3 1195.9,987.4 1195.3,988.7 1194.7,987.7 1194.1,987.3 1193.5,988.6 1192.9,987.6 1192.3,989.3 1191.7,991.1 1191.1,997.5 1190.5,999.4 1189.9,990.8 1189.3,990.6 1188.7,990.3 1188.1,990 1187.5,988.4 1186.9,987.7 1186.3,987.6 1185.7,990.7 1185.1,989.4 1184.5,987.9 1183.9,987.4 1183.3,990.6 1182.7,987.2 1182.1,992.1 1181.5,995.8 1180.9,993.8 1180.3,997 1179.7,999.7 1179.1,1001.7 1178.5,1010.1 1177.9,1010.1 1177.3,1001.5 1176.7,999.7 1176.1,996.7 1175.5,995.1 1174.9,994.4 1174.3,998.9 1173.7,1003.9 1173.1,994.1 1172.5,988.3 1171.9,987.6 1171.3,988.1 1170.7,990.5 1170.1,990.9 1169.5,990 1168.9,991.1 1168.3,989.3 1167.7,991.3 1167.1,989 1166.5,987.5 1165.9,990.5 1165.3,989.4 1164.7,989.5 1164.1,990.2 1163.5,988.4 1162.9,987.1 1162.3,990.4 1161.7,991.3 1161.1,992.7 1160.5,992.8 1159.9,994 1159.3,992.1 1158.7,988.9 1158.1,989.3 1157.5,995.3 1156.9,998.1 1156.3,994.1 1155.7,990 1155.1,990.4 1154.5,987.1 1153.9,988.3 1153.3,989.4 1152.7,989.2 1152.1,989.6 1151.5,991.5 1150.9,995.7 1150.3,1005.4 1149.7,1002.3 1149.1,997.1 1148.5,987.6 1147.9,987.1 1147.3,988.9 1146.7,991.3 1146.1,987.7 1145.5,987.6 1144.9,995 1144.3,1004.5 1143.7,994.8 1143.1,988.2 1142.5,987.1 1141.9,988.4 1141.3,989.6 1140.7,991.6 1140.1,989.2 1139.5,995.6 1138.9,987 1138.3,990.3 1137.7,987.5 1137.1,990 1136.5,988.7 1135.9,991.5 1135.3,989.4 1134.7,989.8 1134.1,994.1 1133.5,987.1 1132.9,995 1132.3,993.2 1131.7,988.9 1131.1,987 1130.5,989.7 1129.9,988.5 1129.3,988.4 1128.7,991.4 1128.1,988.7 1127.5,988.3 1126.9,995.1 1126.3,997 1125.7,1004.6 1125.1,1006.8 1124.5,1003.9 1123.9,997.7 1123.3,993.7 1122.7,988.6 1122.1,989.6 1121.5,988.7 1120.9,989.5 1120.3,990.4 1119.7,989.9 1119.1,987.1 1118.5,988.6 1117.9,990 1117.3,988.5 1116.7,993 1116.1,989.7 1115.5,989.7 1114.9,989.8 1114.3,995.7 1113.7,994.3 1113.1,999.4 1112.5,994.3 1111.9,989.2 1111.3,990.2 1110.7,987.1 1110.1,990.5 1109.5,990.8 1108.9,987.6 1108.3,988 1107.7,988.4 1107.1,991.7 1106.5,992.1 1105.9,994.9 1105.3,991.4 1104.7,987.2 1104.1,987.7 1103.5,987.3 1102.9,988.5 1102.3,987.6 1101.7,993.4 1101.1,989.4 1100.5,996.3 1099.9,1000 1099.3,995.1 1098.7,989.9 1098.1,1005.6 1097.5,1021.8 1096.9,1031.9 1096.3,1018.9 1095.7,998.6 1095.1,987.6 1094.5,989.2 1093.9,988.5 1093.3,988 1092.7,988.9 1092.1,993.5 1091.5,988.9 1090.9,988.5 1090.3,988.7 1089.7,990.4 1089.1,988.3 1088.5,988.7 1087.9,990.3 1087.3,991.2 1086.7,988 1086.1,988.1 1085.5,987.1 1084.9,991.5 1084.3,998.9 1083.7,1008.9 1083.1,1006.5 1082.5,999.4 1081.9,991.8 1081.3,994.4 1080.7,1000.4 1080.1,1000.3 1079.5,991.2 1078.9,988.6 1078.3,988.8 1077.7,987.4 1077.1,987.1 1076.5,988.7 1075.9,990.6 1075.3,988.1 1074.7,987.8 1074.1,991 1073.5,988.4 1072.9,987.7 1072.3,987.3 1071.7,988.6 1071.1,988.4 1070.5,988.7 1069.9,988.4 1069.3,989.8 1068.7,987.2 1068.1,987.4 1067.5,988.2 1066.9,987.6 1066.3,987.7 1065.7,989.9 1065.1,990.1 1064.5,989.3 1063.9,990.2 1063.3,991.6 1062.7,990.4 1062.1,991.2 1061.5,991.6 1060.9,994.2 1060.3,992.8 1059.7,989 1059.1,987.8 1058.5,987.4 1057.9,987.3 1057.3,990.3 1056.7,995.3 1056.1,989.2 1055.5,989.8 1054.9,988.5 1054.3,989.2 1053.7,988.2 1053.1,988.5 1052.5,992.3 1051.9,987.3 1051.3,987.3 1050.7,989.6 1050.1,988.1 1049.5,988.5 1048.9,994.5 1048.3,1003.9 1047.7,1003.1 1047.1,995.4 1046.5,989.7 1045.9,990.3 1045.3,987.1 1044.7,994.8 1044.1,1008.8 1043.5,1024.9 1042.9,1018.9 1042.3,1001.4 1041.7,987.4 1041.1,988.8 1040.5,988.5 1039.9,987.4 1039.3,989.1 1038.7,989.4 1038.1,989.6 1037.5,987.2 1036.9,987.5 1036.3,992.1 1035.7,989.4 1035.1,990.6 1034.5,996.7 1033.9,1007.8 1033.3,1002.9 1032.7,997.2 1032.1,987.8 1031.5,991 1030.9,988.9 1030.3,992.9 1029.7,987.1 1029.1,987.9 1028.5,994.2 1027.9,1001.3 1027.3,1009.5 1026.7,1016.6 1026.1,1015.4 1025.5,1004.3 1024.9,998.2 1024.3,987.5 1023.7,987.4 1023.1,994.8 1022.5,996.3 1021.9,1004 1021.3,998.7 1020.7,998.6 1020.1,992 1019.5,987.9 1018.9,990.5 1018.3,988 1017.7,989.1 1017.1,989.2 1016.5,987.5 1015.9,987.8 1015.3,987.4 1014.7,988.3 1014.1,990.3 1013.5,991.1 1012.9,987.6 1012.3,990.7 1011.7,992.3 1011.1,988.5 1010.5,987.4 1009.9,991.4 1009.3,990.8 1008.7,988.4 1008.1,992.5 1007.5,987.8 1006.9,989.8 1006.3,989.7 1005.7,990.5 1005.1,987.2 1004.5,990.2 1003.9,987.2 1003.3,987.3 1002.7,988.3 1002.1,987.9 1001.5,995.5 1000.9,1002.8 1000.3,1017.6 999.7,1024.7 999.1,1018.3 998.5,1007.7 997.9,996.5 997.3,990.2 996.7,991.8 996.1,994.7 995.5,992.5 994.9,994.5 994.3,990.5 993.7,995.3 993.1,998 992.5,1003.1 991.9,1007.2 991.3,999.2 990.7,992.8 990.1,988.5 989.5,988.7 988.9,988.9 988.3,993 987.7,987.6 987.1,987.4 986.5,987.7 985.9,989.6 985.3,992.3 984.7,993.3 984.1,988.5 983.5,987.1 982.9,987.4 982.3,996.8 981.7,1004.8 981.1,997 980.5,988.5 979.9,989.5 979.3,988.6 978.7,998.4 978.1,1001.9 977.5,990.9 976.9,989.6 976.3,990 975.7,991 975.1,992.7 974.5,987.9 973.9,989.7 973.3,989 972.7,989.3 972.1,988.5 971.5,987.7 970.9,992.4 970.3,990.3 969.7,988.4 969.1,995.3 968.5,1001.5 967.9,1006.2 967.3,1001.2 966.7,994.3 966.1,993.7 965.5,994.8 964.9,990 964.3,991.1 963.7,993.9 963.1,990.7 962.5,988.8 961.9,989.5 961.3,989.2 960.7,992.7 960.1,989.1 959.5,991.9 958.9,991.7 958.3,991.5 957.7,988.5 957.1,988.8 956.5,987.5 955.9,989.1 955.3,993.2 954.7,994.1 954.1,991 953.5,994.7 952.9,1004.7 952.3,1006 951.7,995.5 951.1,989.1 950.5,987.8 949.9,990 949.3,989.5 948.7,997.9 948.1,994 947.5,992.6 946.9,988.7 946.3,989.3 945.7,988.5 945.1,987.6 944.5,989.2 943.9,988.8 943.3,987.2 942.7,988.2 942.1,995.3 941.5,990.2 940.9,990.3 940.3,988.9 939.7,987.8 939.1,989.2 938.5,990.7 937.9,989.2 937.3,994.1 936.7,994.3 936.1,988.8 935.5,989.5 934.9,992.7 934.3,989.2 933.7,991.7 933.1,987.1 932.5,989.6 931.9,990.8 931.3,987.1 930.7,989 930.1,993 929.5,987.4 928.9,989.3 928.3,990.1 927.7,987.4 927.1,990.5 926.5,989 925.9,987.3 925.3,989.6 924.7,990.2 924.1,987.7 923.5,990 922.9,987.9 922.3,992.2 921.7,1008.3 921.1,999.9 920.5,987.9 919.9,989.7 919.3,987.6 918.7,993.1 918.1,990.7 917.5,989.6 916.9,987.7 916.3,987.7 915.7,989.5 915.1,988.3 914.5,987.2 913.9,991.5 913.3,993.6 912.7,989 912.1,991.3 911.5,994.4 910.9,998.4 910.3,1008 909.7,994 909.1,992.5 908.5,997.7 907.9,1002.8 907.3,1010.2 906.7,996 906.1,991.5 905.5,989.5 904.9,1002.6 904.3,994.7 903.7,988.8 903.1,987.6 902.5,988 901.9,988.5 901.3,987.4 900.7,987.6 900.1,990.8 899.5,991.9 898.9,988.8 898.3,988.8 897.7,989.2 897.1,990.9 896.5,988 895.9,989.8 895.3,1008.4 894.7,1025.9 894.1,1039.6 893.5,1016.1 892.9,994.1 892.3,994 891.7,989.7 891.1,1000.7 890.5,1005.5 889.9,997.6 889.3,988.7 888.7,990.4 888.1,987.3 887.5,987.8 886.9,987.1 886.3,987.7 885.7,988 885.1,991 884.5,988.3 883.9,987.9 883.3,988.2 882.7,988.3 882.1,991.1 881.5,987.1 880.9,987.2 880.3,994.8 879.7,990.4 879.1,992.3 878.5,988" fill="#ff2d8d" stroke="#ff2d8d" stroke-width="0.9" stroke-linejoin="round"/>
<line x1="875" y1="980.6" x2="1517.5" y2="982" stroke="#808080" stroke-width="2.4" stroke-dasharray="27.5 11.5"/>
<line x1="875" y1="1070" x2="1514" y2="1070" stroke="#808080" stroke-width="2.4" stroke-dasharray="27.5 11.5"/>
<path d="M1000 1018V1070H1062.5" fill="none" stroke="#000" stroke-width="2.8" stroke-linecap="round"/>
<text x="897.5" y="1053" font-size="30.7" font-weight="bold">3 pA</text>
<text x="1006" y="1107.5" font-size="30.7" font-weight="bold">0.5 s</text>
<text x="1534.5" y="754.5" font-size="38" font-weight="bold" fill="#808080">c</text>
<text x="1534.5" y="849.3" font-size="38" font-weight="bold" fill="#808080">o</text>
<text x="1529.5" y="981" font-size="38" font-weight="bold" fill="#808080">c</text>
<text x="1529.5" y="1076" font-size="38" font-weight="bold" fill="#808080">o</text>
<polygon points="1699.2,1109.2 1699.2,1107.2 1702.2,1107.2 1702.2,1106.1 1705.3,1106.1 1705.3,1104.9 1708.3,1104.9 1708.3,1103.5 1711.3,1103.5 1711.3,1097.5 1714.4,1097.5 1714.4,1095.6 1717.4,1095.6 1717.4,1094.1 1720.4,1094.1 1720.4,1093 1723.4,1093 1723.4,1092.4 1726.5,1092.4 1726.5,1091.9 1729.5,1091.9 1729.5,1090.8 1732.5,1090.8 1732.5,1090.7 1735.6,1090.7 1735.6,1090 1738.6,1090 1738.6,1088.5 1741.6,1088.5 1741.6,1086.8 1744.7,1086.8 1744.7,1087.1 1747.7,1087.1 1747.7,1082.7 1750.7,1082.7 1750.7,1078.1 1753.7,1078.1 1753.7,1072.4 1756.8,1072.4 1756.8,1066.9 1759.8,1066.9 1759.8,1059.1 1762.8,1059.1 1762.8,1049.6 1765.9,1049.6 1765.9,1039.6 1768.9,1039.6 1768.9,1027.5 1771.9,1027.5 1771.9,1012 1775,1012 1775,996.8 1778,996.8 1778,982 1781,982 1781,961.2 1784,961.2 1784,943.9 1787.1,943.9 1787.1,922.9 1790.1,922.9 1790.1,902.6 1793.1,902.6 1793.1,893.4 1796.2,893.4 1796.2,879.3 1799.2,879.3 1799.2,871.6 1802.2,871.6 1802.2,856 1805.2,856 1805.2,849.1 1808.3,849.1 1808.3,843 1811.3,843 1811.3,834.8 1814.3,834.8 1814.3,836 1817.4,836 1817.4,826.2 1820.4,826.2 1820.4,824 1823.4,824 1823.4,820 1826.5,820 1826.5,833.4 1829.5,833.4 1829.5,831.6 1832.5,831.6 1832.5,829.2 1835.5,829.2 1835.5,843.1 1838.6,843.1 1838.6,849.2 1841.6,849.2 1841.6,850.2 1844.6,850.2 1844.6,857.7 1847.7,857.7 1847.7,875.3 1850.7,875.3 1850.7,889.2 1853.7,889.2 1853.7,901.2 1856.8,901.2 1856.8,915.5 1859.8,915.5 1859.8,934.1 1862.8,934.1 1862.8,952.2 1865.9,952.2 1865.9,967.4 1868.9,967.4 1868.9,982.9 1871.9,982.9 1871.9,997.4 1874.9,997.4 1874.9,1012.4 1878,1012.4 1878,1027 1881,1027 1881,1036.8 1884,1036.8 1884,1047.4 1887.1,1047.4 1887.1,1057.2 1890.1,1057.2 1890.1,1065.2 1893.1,1065.2 1893.1,1072.3 1896.2,1072.3 1896.2,1078.8 1899.2,1078.8 1899.2,1085 1902.2,1085 1902.2,1090.2 1905.2,1090.2 1905.2,1094.6 1908.3,1094.6 1908.3,1097.7 1911.3,1097.7 1911.3,1099.8 1914.3,1099.8 1914.3,1101.7 1917.4,1101.7 1917.4,1103.2 1920.4,1103.2 1920.4,1104.5 1923.4,1104.5 1923.4,1105.7 1926.5,1105.7 1926.5,1106.7 1929.5,1106.7 1929.5,1107.5 1932.5,1107.5 1932.5,1108 1935.5,1108 1935.5,1108.5 1938.6,1108.5 1938.6,1108.5 1941.6,1108.5 1941.6,1109.2" fill="#5596f0" stroke="#000" stroke-width="2.8" stroke-linejoin="miter"/>
<polygon points="1731.5,1109.2 1731.5,1108.2 1735.6,1108.1 1739.6,1108 1743.6,1107.8 1747.7,1107.6 1751.7,1107.3 1755.8,1106.9 1759.8,1106.5 1763.8,1106 1767.9,1105.4 1771.9,1104.8 1776,1104.1 1780,1103.4 1784,1102.6 1788.1,1101.9 1792.1,1101.2 1796.2,1100.6 1800.2,1100.1 1804.2,1099.7 1808.3,1099.5 1812.3,1099.4 1816.4,1099.5 1820.4,1099.7 1824.4,1100.1 1828.5,1100.6 1832.5,1101.2 1836.6,1101.9 1840.6,1102.6 1844.6,1103.4 1848.7,1104.1 1852.7,1104.8 1856.8,1105.4 1860.8,1106 1864.8,1106.5 1864.8,1109.2" fill="#ff2d8d" stroke="#ff2d8d" stroke-width="1"/>
<polyline points="1715.4,1103.2 1717.2,1102.1 1719.1,1101.2 1721,1100.4 1722.8,1099.9 1724.7,1099.4 1726.6,1099 1728.4,1098.7 1730.3,1098.4 1732.2,1098.1 1734,1097.7 1735.9,1097.3 1737.8,1096.8 1739.6,1096.1 1741.5,1095.1 1743.4,1093.6 1745.2,1091.6 1747.1,1089.2 1749,1086.5 1750.8,1083.7 1752.7,1077.9 1754.6,1074.7 1756.4,1071 1758.3,1066.8 1760.2,1062.2 1762,1057.2 1763.9,1051.7 1765.8,1045.9 1767.6,1039.7 1769.5,1032.6 1771.4,1024.2 1773.2,1015 1775.1,1005 1777,994.7 1778.8,984.3 1780.7,974.1 1782.6,963.8 1784.4,952.7 1786.3,941.3 1788.2,929.9 1790,919 1791.9,909.1 1793.8,900.6 1795.7,892.6 1797.5,885 1799.4,877.6 1801.3,870.7 1803.1,864.4 1805,858.8 1806.9,853.9 1808.7,849.9 1810.6,846.2 1812.5,842.6 1814.3,839.1 1816.2,836 1818.1,833.3 1819.9,831.3 1821.8,829.9 1823.7,829.5 1825.5,829.9 1827.4,831.2 1829.3,833.2 1831.1,835.7 1833,838.6 1834.9,841.9 1836.7,845.3 1838.6,848.8 1840.5,852.6 1842.3,857.2 1844.2,862.5 1846.1,868.3 1847.9,874.7 1849.8,881.5 1851.7,888.6 1853.5,896 1855.4,903.6 1857.3,912.3 1859.1,922.3 1861,933.2 1862.9,944.4 1864.7,955.5 1866.6,965.9 1868.5,975.4 1870.3,984.6 1872.2,993.8 1874.1,1002.9 1875.9,1011.6 1877.8,1020 1879.7,1027.8 1881.5,1035.1 1883.4,1041.6 1885.3,1047.7 1887.1,1053.4 1889,1058.8 1890.9,1063.9 1892.7,1068.6 1894.6,1073 1896.5,1076.9 1898.3,1080.7 1900.2,1084.4 1902.1,1087.9 1903.9,1091 1905.8,1093.8 1907.7,1096.1 1909.6,1097.7 1911.4,1099 1913.3,1100.2 1915.2,1101.3 1917,1102.4 1918.9,1103.3 1920.8,1104.2 1922.6,1104.9 1924.5,1105.6 1926.4,1106.3 1928.2,1106.8 1930.1,1107.3 1932,1107.7 1933.8,1108 1935.7,1108.3 1937.6,1108.6" fill="none" stroke="#000" stroke-width="1.6" stroke-linejoin="round" stroke-linecap="round"/>
<polyline points="1749.7,1101.5 1751.9,1100 1754,1098.1 1756.2,1096 1758.4,1093.5 1760.6,1090.7 1762.7,1087.4 1764.9,1083.7 1767.1,1079.6 1769.3,1074.9 1771.4,1069.7 1773.6,1063.9 1775.8,1057.6 1778,1050.6 1780.1,1043 1782.3,1034.9 1784.5,1026.1 1786.6,1016.8 1788.8,1006.9 1791,996.5 1793.2,985.8 1795.3,974.6 1797.5,963.2 1799.7,951.7 1801.9,940 1804,928.4 1806.2,917 1808.4,905.8 1810.6,895.1 1812.7,885 1814.9,875.6 1817.1,866.9 1819.2,859.3 1821.4,852.6 1823.6,847.1 1825.8,842.8 1827.9,839.8 1830.1,838.2 1832.3,837.8 1834.5,838.9 1836.6,841.3 1838.8,845 1841,849.9 1843.2,856 1845.3,863.2 1847.5,871.4 1849.7,880.5 1851.9,890.3 1854,900.8 1856.2,911.7 1858.4,923 1860.5,934.6 1862.7,946.2 1864.9,957.8 1867.1,969.3 1869.2,980.6 1871.4,991.5 1873.6,1002.1 1875.8,1012.2 1877.9,1021.8 1880.1,1030.8 1882.3,1039.3 1884.5,1047.1 1886.6,1054.4 1888.8,1061 1891,1067.1 1893.1,1072.5 1895.3,1077.5 1897.5,1081.9 1899.7,1085.8 1901.8,1089.2 1904,1092.2 1906.2,1094.9 1908.4,1097.2 1910.5,1099.1 1912.7,1100.8 1914.9,1102.3 1917.1,1103.5 1919.2,1104.5 1921.4,1105.4" fill="none" stroke="#000" stroke-width="1.3" stroke-linejoin="round" stroke-linecap="butt" stroke-dasharray="13 3"/>
<polyline points="1737.6,1105.5 1739.1,1104.7 1740.5,1103.9 1742,1102.9 1743.5,1101.7 1745,1100.4 1746.5,1099 1748,1097.3 1749.4,1095.4 1750.9,1093.3 1752.4,1091 1753.9,1088.5 1755.4,1085.7 1756.9,1082.7 1758.3,1079.4 1759.8,1075.9 1761.3,1072.2 1762.8,1068.3 1764.3,1064.2 1765.8,1059.9 1767.2,1055.4 1768.7,1050.9 1770.2,1046.3 1771.7,1041.6 1773.2,1037 1774.7,1032.5 1776.1,1028 1777.6,1023.8 1779.1,1019.7 1780.6,1015.9 1782.1,1012.5 1783.6,1009.4 1785,1006.8 1786.5,1004.6 1788,1002.8 1789.5,1001.6 1791,1000.9 1792.5,1000.8 1793.9,1001.2 1795.4,1002.1 1796.9,1003.5 1798.4,1005.5 1799.9,1007.9 1801.4,1010.8 1802.8,1014 1804.3,1017.6 1805.8,1021.5 1807.3,1025.6 1808.8,1030 1810.2,1034.5 1811.7,1039.1 1813.2,1043.7 1814.7,1048.3 1816.2,1052.9 1817.7,1057.4 1819.1,1061.8 1820.6,1066 1822.1,1070.1 1823.6,1073.9 1825.1,1077.5 1826.6,1080.9 1828,1084.1 1829.5,1087 1831,1089.7 1832.5,1092.1 1834,1094.3 1835.5,1096.3 1836.9,1098.1 1838.4,1099.6 1839.9,1101 1841.4,1102.3 1842.9,1103.3 1844.4,1104.3 1845.8,1105.1 1847.3,1105.8 1848.8,1106.4 1850.3,1106.9 1851.8,1107.3 1853.3,1107.6 1854.7,1107.9" fill="none" stroke="#000" stroke-width="1.3" stroke-linejoin="round" stroke-linecap="butt" stroke-dasharray="13 3"/>
<polyline points="1721.4,1106.6 1721.9,1106.4 1722.4,1106.2 1722.9,1106 1723.4,1105.8 1723.8,1105.6 1724.3,1105.3 1724.8,1105.1 1725.3,1104.8 1725.8,1104.6 1726.3,1104.3 1726.8,1104 1727.2,1103.7 1727.7,1103.4 1728.2,1103 1728.7,1102.7 1729.2,1102.3 1729.7,1102 1730.2,1101.6 1730.7,1101.2 1731.1,1100.8 1731.6,1100.3 1732.1,1099.9 1732.6,1099.4 1733.1,1099 1733.6,1098.5 1734.1,1098 1734.5,1097.5 1735,1097 1735.5,1096.5 1736,1095.9 1736.5,1095.4 1737,1094.9 1737.5,1094.3 1737.9,1093.7 1738.4,1093.2 1738.9,1092.6 1739.4,1092 1739.9,1091.4 1740.4,1090.8 1740.9,1090.2 1741.3,1089.6 1741.8,1089 1742.3,1088.4 1742.8,1087.8 1743.3,1087.2 1743.8,1086.6 1744.3,1086 1744.7,1085.5 1745.2,1084.9 1745.7,1084.3 1746.2,1083.8 1746.7,1083.2 1747.2,1082.7 1747.7,1082.2 1748.1,1081.7 1748.6,1081.2 1749.1,1080.7 1749.6,1080.3 1750.1,1079.8 1750.6,1079.4 1751.1,1079.1 1751.5,1078.7 1752,1078.3 1752.5,1078 1753,1077.7 1753.5,1077.5 1754,1077.2 1754.5,1077 1754.9,1076.8 1755.4,1076.7 1755.9,1076.5 1756.4,1076.4 1756.9,1076.4 1757.4,1076.3 1757.9,1076.3 1758.3,1076.3 1758.8,1076.4 1759.3,1076.5 1759.8,1076.6" fill="none" stroke="#000" stroke-width="1.3" stroke-linejoin="round" stroke-linecap="butt" stroke-dasharray="13 3"/>
<polyline points="1769.9,1081.2 1782,1095.2 1792.1,1103.6" fill="none" stroke="#000" stroke-width="1.4" stroke-linejoin="round" stroke-linecap="round"/>
<path d="M1699.2 758.2V1115.2 M1693.2 1109.2H1942.8" fill="none" stroke="#000" stroke-width="3"/>
<path d=" M1693.7 1039.2H1699.2 M1693.7 969.3H1699.2 M1693.7 899.4H1699.2 M1693.7 829.4H1699.2 M1693.7 759.5H1699.2 M1739.6 1109.2V1114.7 M1780 1109.2V1114.7 M1820.4 1109.2V1114.7 M1860.8 1109.2V1114.7 M1901.2 1109.2V1114.7 M1941.6 1109.2V1114.7" fill="none" stroke="#000" stroke-width="2.5" stroke-linecap="round"/>
<text x="1677.7" y="1118.4" font-size="31" text-anchor="end">0.0</text>
<text x="1677.7" y="1048.5" font-size="31" text-anchor="end">0.1</text>
<text x="1677.7" y="978.5" font-size="31" text-anchor="end">0.2</text>
<text x="1677.7" y="908.6" font-size="31" text-anchor="end">0.3</text>
<text x="1677.7" y="838.6" font-size="31" text-anchor="end">0.4</text>
<text x="1677.7" y="768.7" font-size="31" text-anchor="end">0.5</text>
<text x="1699.2" y="1156.2" font-size="31" text-anchor="middle">0</text>
<text x="1739.6" y="1156.2" font-size="31" text-anchor="middle">1</text>
<text x="1780" y="1156.2" font-size="31" text-anchor="middle">2</text>
<text x="1820.4" y="1156.2" font-size="31" text-anchor="middle">3</text>
<text x="1860.8" y="1156.2" font-size="31" text-anchor="middle">4</text>
<text x="1901.2" y="1156.2" font-size="31" text-anchor="middle">5</text>
<text x="1941.6" y="1156.2" font-size="31" text-anchor="middle">6</text>
<text x="1603.8" y="934" font-size="33" font-weight="bold" text-anchor="middle" transform="rotate(-90 1603.8 934)">Count/Total</text>
<text x="1820" y="1218.7" font-size="33" font-weight="bold" text-anchor="middle">Amplitude (pA)</text>
<text x="244.5" y="1425" font-size="38" font-weight="bold">GluA2 (Q)/<tspan font-family="Liberation Serif, serif" font-weight="normal" font-style="italic">γ</tspan>2</text>
<path d="M131.7 1634.7V1665M121.7 1634.7h20M121.7 1665h20M133.3 1637.4V1671.8M123.3 1637.4h20M123.3 1671.8h20M134.8 1640.4V1668.6M124.8 1640.4h20M124.8 1668.6h20M136.4 1636.3V1668.6M126.4 1636.3h20M126.4 1668.6h20M137.9 1637.9V1664.6M127.9 1637.9h20M127.9 1664.6h20M139.5 1641.7V1672.9M129.5 1641.7h20M129.5 1672.9h20M141.1 1638V1668.9M131.1 1638h20M131.1 1668.9h20M142.6 1634.9V1661M132.6 1634.9h20M132.6 1661h20M144.2 1644.1V1666M134.2 1644.1h20M134.2 1666h20M145.7 1642.5V1665.4M135.7 1642.5h20M135.7 1665.4h20M147.3 1641.5V1665.9M137.3 1641.5h20M137.3 1665.9h20M148.9 1635.4V1666.4M138.9 1635.4h20M138.9 1666.4h20M150.4 1638.1V1666.1M140.4 1638.1h20M140.4 1666.1h20M152 1638.8V1666M142 1638.8h20M142 1666h20M153.5 1638.8V1669.5M143.5 1638.8h20M143.5 1669.5h20M155.1 1633.8V1665.6M145.1 1633.8h20M145.1 1665.6h20M156.6 1633.4V1668.1M146.6 1633.4h20M146.6 1668.1h20M158.2 1639.3V1665.3M148.2 1639.3h20M148.2 1665.3h20M159.8 1634.6V1665.6M149.8 1634.6h20M149.8 1665.6h20M161.3 1632.5V1664.2M151.3 1632.5h20M151.3 1664.2h20M162.9 1641.6V1666M152.9 1641.6h20M152.9 1666h20M164.4 1639.4V1668.5M154.4 1639.4h20M154.4 1668.5h20M166 1639.8V1664.3M156 1639.8h20M156 1664.3h20M167.6 1637.4V1665M157.6 1637.4h20M157.6 1665h20M169.1 1641.7V1672.1M159.1 1641.7h20M159.1 1672.1h20M170.7 1641.4V1662.5M160.7 1641.4h20M160.7 1662.5h20M172.2 1636.3V1661M162.2 1636.3h20M162.2 1661h20M173.8 1638.4V1663.4M163.8 1638.4h20M163.8 1663.4h20M175.3 1633.2V1662.1M165.3 1633.2h20M165.3 1662.1h20M176.9 1643.1V1668.4M166.9 1643.1h20M166.9 1668.4h20M178.5 1633.8V1664M168.5 1633.8h20M168.5 1664h20M180 1632.8V1657.6M170 1632.8h20M170 1657.6h20M181.6 1632.2V1658.5M171.6 1632.2h20M171.6 1658.5h20M183.1 1634.9V1666.1M173.1 1634.9h20M173.1 1666.1h20M184.7 1636.6V1666.5M174.7 1636.6h20M174.7 1666.5h20M186.2 1633.9V1663.2M176.2 1633.9h20M176.2 1663.2h20M187.8 1638.3V1666.7M177.8 1638.3h20M177.8 1666.7h20M189.4 1633.9V1666.9M179.4 1633.9h20M179.4 1666.9h20M190.9 1635.9V1670.6M180.9 1635.9h20M180.9 1670.6h20M192.5 1636.4V1663.3M182.5 1636.4h20M182.5 1663.3h20M194 1637.1V1662.5M184 1637.1h20M184 1662.5h20M195.6 1634.8V1658.8M185.6 1634.8h20M185.6 1658.8h20M197.2 1631.2V1667.4M187.2 1631.2h20M187.2 1667.4h20M198.7 1639.8V1664.4M188.7 1639.8h20M188.7 1664.4h20M200.3 1639.8V1662.5M190.3 1639.8h20M190.3 1662.5h20M201.8 1638.8V1668.5M191.8 1638.8h20M191.8 1668.5h20M203.4 1633.9V1667.1M193.4 1633.9h20M193.4 1667.1h20M204.9 1639.4V1662.5M194.9 1639.4h20M194.9 1662.5h20M206.5 1635V1663M196.5 1635h20M196.5 1663h20M208.1 1636.3V1658.5M198.1 1636.3h20M198.1 1658.5h20M209.6 1641V1666.5M199.6 1641h20M199.6 1666.5h20M211.2 1631.3V1667M201.2 1631.3h20M201.2 1667h20M212.7 1633.9V1663.2M202.7 1633.9h20M202.7 1663.2h20M214.3 1639.7V1667.2M204.3 1639.7h20M204.3 1667.2h20M215.8 1632.2V1661.1M205.8 1632.2h20M205.8 1661.1h20M217.4 1637.6V1667.4M207.4 1637.6h20M207.4 1667.4h20M219 1630.5V1658.6M209 1630.5h20M209 1658.6h20M220.5 1636.4V1659.7M210.5 1636.4h20M210.5 1659.7h20M222.1 1636V1659.3M212.1 1636h20M212.1 1659.3h20M223.6 1631.3V1668.8M213.6 1631.3h20M213.6 1668.8h20M225.2 1636.7V1661.9M215.2 1636.7h20M215.2 1661.9h20M226.8 1637.5V1671.4M216.8 1637.5h20M216.8 1671.4h20M228.3 1640.9V1666.3M218.3 1640.9h20M218.3 1666.3h20M229.9 1639.2V1673.5M219.9 1639.2h20M219.9 1673.5h20M231.4 1635V1666.6M221.4 1635h20M221.4 1666.6h20M233 1640.2V1667.8M223 1640.2h20M223 1667.8h20M234.5 1632.5V1669.9M224.5 1632.5h20M224.5 1669.9h20M236.1 1639.2V1663.6M226.1 1639.2h20M226.1 1663.6h20M237.7 1642.2V1669.7M227.7 1642.2h20M227.7 1669.7h20M239.2 1639V1663.8M229.2 1639h20M229.2 1663.8h20M240.8 1640.5V1665.6M230.8 1640.5h20M230.8 1665.6h20M242.3 1639.6V1666.6M232.3 1639.6h20M232.3 1666.6h20M243.9 1639.9V1664.2M233.9 1639.9h20M233.9 1664.2h20M245.5 1638.9V1666M235.5 1638.9h20M235.5 1666h20M247 1634.4V1669.9M237 1634.4h20M237 1669.9h20M248.6 1639.3V1660.2M238.6 1639.3h20M238.6 1660.2h20M250.1 1642.9V1665.9M240.1 1642.9h20M240.1 1665.9h20M251.7 1642.8V1667.2M241.7 1642.8h20M241.7 1667.2h20M253.2 1641V1667.5M243.2 1641h20M243.2 1667.5h20M254.8 1634.4V1667.4M244.8 1634.4h20M244.8 1667.4h20M256.4 1637.9V1669.6M246.4 1637.9h20M246.4 1669.6h20M257.9 1633.1V1663.8M247.9 1633.1h20M247.9 1663.8h20M259.5 1645.1V1674.6M249.5 1645.1h20M249.5 1674.6h20M261 1634.3V1673.5M251 1634.3h20M251 1673.5h20M262.6 1641.2V1664.8M252.6 1641.2h20M252.6 1664.8h20M264.1 1639.7V1663.2M254.1 1639.7h20M254.1 1663.2h20M265.7 1635.8V1664.2M255.7 1635.8h20M255.7 1664.2h20M267.3 1639.3V1668.7M257.3 1639.3h20M257.3 1668.7h20M268.8 1642.3V1669.8M258.8 1642.3h20M258.8 1669.8h20M270.4 1639.6V1664.5M260.4 1639.6h20M260.4 1664.5h20M271.9 1639.5V1662.3M261.9 1639.5h20M261.9 1662.3h20M273.5 1646.7V1674M263.5 1646.7h20M263.5 1674h20M275.1 1640.7V1666.1M265.1 1640.7h20M265.1 1666.1h20M276.6 1640.2V1666.6M266.6 1640.2h20M266.6 1666.6h20M278.2 1644.6V1668.4M268.2 1644.6h20M268.2 1668.4h20M279.7 1637.8V1672.3M269.7 1637.8h20M269.7 1672.3h20M281.3 1638.5V1669.1M271.3 1638.5h20M271.3 1669.1h20M282.8 1636.6V1673.4M272.8 1636.6h20M272.8 1673.4h20M284.4 1642.2V1668.5M274.4 1642.2h20M274.4 1668.5h20M286 1643.4V1672.2M276 1643.4h20M276 1672.2h20M287.5 1640.4V1667.9M277.5 1640.4h20M277.5 1667.9h20M289.1 1641.5V1670.1M279.1 1641.5h20M279.1 1670.1h20M290.6 1641.2V1668.7M280.6 1641.2h20M280.6 1668.7h20M292.2 1643.1V1670.9M282.2 1643.1h20M282.2 1670.9h20M293.7 1644.9V1664.8M283.7 1644.9h20M283.7 1664.8h20M295.3 1639.2V1666.6M285.3 1639.2h20M285.3 1666.6h20M296.9 1638.3V1669.9M286.9 1638.3h20M286.9 1669.9h20M298.4 1643.2V1663.1M288.4 1643.2h20M288.4 1663.1h20M300 1644.1V1671.1M290 1644.1h20M290 1671.1h20M301.5 1637.1V1668.2M291.5 1637.1h20M291.5 1668.2h20M303.1 1636.2V1670.3M293.1 1636.2h20M293.1 1670.3h20M304.7 1640.5V1668.7M294.7 1640.5h20M294.7 1668.7h20M306.2 1637.9V1668.5M296.2 1637.9h20M296.2 1668.5h20M307.8 1641.1V1677.4M297.8 1641.1h20M297.8 1677.4h20M309.3 1636.2V1670.5M299.3 1636.2h20M299.3 1670.5h20M310.9 1640.9V1667.5M300.9 1640.9h20M300.9 1667.5h20M312.4 1645V1670.9M302.4 1645h20M302.4 1670.9h20M314 1635.1V1668.1M304 1635.1h20M304 1668.1h20M315.6 1638.8V1668.3M305.6 1638.8h20M305.6 1668.3h20M317.1 1638.5V1664.7M307.1 1638.5h20M307.1 1664.7h20M318.7 1638.6V1666.2M308.7 1638.6h20M308.7 1666.2h20M320.2 1635.4V1665.3M310.2 1635.4h20M310.2 1665.3h20M321.8 1637.6V1665.3M311.8 1637.6h20M311.8 1665.3h20M323.4 1638V1665.5M313.4 1638h20M313.4 1665.5h20M324.9 1636.1V1663.6M314.9 1636.1h20M314.9 1663.6h20M326.5 1637.2V1659.2M316.5 1637.2h20M316.5 1659.2h20M328 1636.9V1673.2M318 1636.9h20M318 1673.2h20M329.6 1632.3V1666.3M319.6 1632.3h20M319.6 1666.3h20M331.1 1632.4V1667.6M321.1 1632.4h20M321.1 1667.6h20M332.7 1636.8V1664.7M322.7 1636.8h20M322.7 1664.7h20M334.3 1631.6V1660.7M324.3 1631.6h20M324.3 1660.7h20M335.8 1631.7V1662.8M325.8 1631.7h20M325.8 1662.8h20M337.4 1635.5V1667.7M327.4 1635.5h20M327.4 1667.7h20M338.9 1641.1V1661.6M328.9 1641.1h20M328.9 1661.6h20M340.5 1632.3V1662.4M330.5 1632.3h20M330.5 1662.4h20M342 1638.7V1662.9M332 1638.7h20M332 1662.9h20M343.6 1635.6V1663.9M333.6 1635.6h20M333.6 1663.9h20M345.2 1640.9V1666.5M335.2 1640.9h20M335.2 1666.5h20M346.7 1631.6V1667.7M336.7 1631.6h20M336.7 1667.7h20M348.3 1632.4V1663.4M338.3 1632.4h20M338.3 1663.4h20M349.8 1637V1665.4M339.8 1637h20M339.8 1665.4h20M351.4 1634.1V1668.8M341.4 1634.1h20M341.4 1668.8h20M353 1633.7V1662M343 1633.7h20M343 1662h20M354.5 1637.1V1662.5M344.5 1637.1h20M344.5 1662.5h20M356.1 1634.6V1662.3M346.1 1634.6h20M346.1 1662.3h20M357.6 1636.4V1663.4M347.6 1636.4h20M347.6 1663.4h20M359.2 1634.6V1663.4M349.2 1634.6h20M349.2 1663.4h20M360.7 1639.6V1671.9M350.7 1639.6h20M350.7 1671.9h20M362.3 1640.3V1668.3M352.3 1640.3h20M352.3 1668.3h20M363.9 1641.9V1670.2M353.9 1641.9h20M353.9 1670.2h20M365.4 1630.8V1663.8M355.4 1630.8h20M355.4 1663.8h20M367 1637.3V1667.1M357 1637.3h20M357 1667.1h20M368.5 1636.5V1669.2M358.5 1636.5h20M358.5 1669.2h20M370.1 1640.7V1669.9M360.1 1640.7h20M360.1 1669.9h20M371.6 1643.5V1666.3M361.6 1643.5h20M361.6 1666.3h20M373.2 1648.1V1671.7M363.2 1648.1h20M363.2 1671.7h20M374.8 1638.2V1659.4M364.8 1638.2h20M364.8 1659.4h20M376.3 1637.3V1670.8M366.3 1637.3h20M366.3 1670.8h20M377.9 1638.9V1669.3M367.9 1638.9h20M367.9 1669.3h20M379.4 1644.2V1670.7M369.4 1644.2h20M369.4 1670.7h20M381 1641.8V1666M371 1641.8h20M371 1666h20M382.6 1637.8V1668M372.6 1637.8h20M372.6 1668h20M384.1 1639.9V1667.9M374.1 1639.9h20M374.1 1667.9h20M385.7 1638.3V1668.3M375.7 1638.3h20M375.7 1668.3h20M387.2 1645V1669.8M377.2 1645h20M377.2 1669.8h20M388.8 1643.8V1667.4M378.8 1643.8h20M378.8 1667.4h20M390.3 1637V1672.5M380.3 1637h20M380.3 1672.5h20M391.9 1642.5V1666.8M381.9 1642.5h20M381.9 1666.8h20M393.5 1641.2V1669.7M383.5 1641.2h20M383.5 1669.7h20M395 1638.7V1673.2M385 1638.7h20M385 1673.2h20M396.6 1647.3V1667.8M386.6 1647.3h20M386.6 1667.8h20M398.1 1638V1669.7M388.1 1638h20M388.1 1669.7h20M399.7 1640.6V1669.5M389.7 1640.6h20M389.7 1669.5h20M401.2 1642.5V1670.4M391.2 1642.5h20M391.2 1670.4h20M402.8 1638.2V1667.9M392.8 1638.2h20M392.8 1667.9h20M404.4 1646.8V1670.2M394.4 1646.8h20M394.4 1670.2h20M405.9 1646.1V1664.9M395.9 1646.1h20M395.9 1664.9h20M407.5 1634V1670.9M397.5 1634h20M397.5 1670.9h20M409 1638.7V1666.1M399 1638.7h20M399 1666.1h20M410.6 1639.3V1671.8M400.6 1639.3h20M400.6 1671.8h20M412.2 1637.3V1670.8M402.2 1637.3h20M402.2 1670.8h20M413.7 1637.1V1666.9M403.7 1637.1h20M403.7 1666.9h20M415.3 1637.7V1668.2M405.3 1637.7h20M405.3 1668.2h20M416.8 1637.7V1669.4M406.8 1637.7h20M406.8 1669.4h20M418.4 1634V1669.5M408.4 1634h20M408.4 1669.5h20M419.9 1636.3V1667M409.9 1636.3h20M409.9 1667h20M421.5 1633.6V1667.7M411.5 1633.6h20M411.5 1667.7h20M423.1 1634.4V1661.7M413.1 1634.4h20M413.1 1661.7h20M424.6 1637V1663.7M414.6 1637h20M414.6 1663.7h20M426.2 1637.2V1666.1M416.2 1637.2h20M416.2 1666.1h20M427.7 1635.2V1665.5M417.7 1635.2h20M417.7 1665.5h20M429.3 1630.4V1661.3M419.3 1630.4h20M419.3 1661.3h20M430.9 1633.3V1670.5M420.9 1633.3h20M420.9 1670.5h20M432.4 1633.9V1666.2M422.4 1633.9h20M422.4 1666.2h20M434 1636.5V1665.3M424 1636.5h20M424 1665.3h20M435.5 1629V1666.4M425.5 1629h20M425.5 1666.4h20M437.1 1636.4V1666.4M427.1 1636.4h20M427.1 1666.4h20M438.6 1632.5V1662.7M428.6 1632.5h20M428.6 1662.7h20M440.2 1631.1V1661.9M430.2 1631.1h20M430.2 1661.9h20M441.8 1636.1V1663.2M431.8 1636.1h20M431.8 1663.2h20M443.3 1638.3V1662.1M433.3 1638.3h20M433.3 1662.1h20M444.9 1636.9V1666.1M434.9 1636.9h20M434.9 1666.1h20M446.4 1634.7V1661.9M436.4 1634.7h20M436.4 1661.9h20M448 1638.4V1663.1M438 1638.4h20M438 1663.1h20M449.5 1634.6V1663.7M439.5 1634.6h20M439.5 1663.7h20M451.1 1634.8V1662.5M441.1 1634.8h20M441.1 1662.5h20M452.7 1636.3V1662.3M442.7 1636.3h20M442.7 1662.3h20M454.2 1635.1V1655.9M444.2 1635.1h20M444.2 1655.9h20M455.8 1629.7V1657.6M445.8 1629.7h20M445.8 1657.6h20M457.3 1633.9V1670.3M447.3 1633.9h20M447.3 1670.3h20M458.9 1633.2V1665.7M448.9 1633.2h20M448.9 1665.7h20M460.5 1630.9V1664.2M450.5 1630.9h20M450.5 1664.2h20M462 1636.8V1665.2M452 1636.8h20M452 1665.2h20M463.6 1633.1V1666.3M453.6 1633.1h20M453.6 1666.3h20M465.1 1635.1V1660.8M455.1 1635.1h20M455.1 1660.8h20M466.7 1632.2V1658.7M456.7 1632.2h20M456.7 1658.7h20M468.2 1631.1V1661.9M458.2 1631.1h20M458.2 1661.9h20M469.8 1639V1661.3M459.8 1639h20M459.8 1661.3h20M471.4 1634.1V1662.9M461.4 1634.1h20M461.4 1662.9h20M472.9 1634.7V1664.6M462.9 1634.7h20M462.9 1664.6h20M474.5 1631.1V1667.1M464.5 1631.1h20M464.5 1667.1h20M476 1639.3V1664.8M466 1639.3h20M466 1664.8h20M477.6 1638.4V1668.8M467.6 1638.4h20M467.6 1668.8h20M479.2 1637.5V1663.3M469.2 1637.5h20M469.2 1663.3h20M480.7 1633.6V1659.7M470.7 1633.6h20M470.7 1659.7h20M482.3 1638.6V1655.3M472.3 1638.6h20M472.3 1655.3h20M483.8 1640.6V1665M473.8 1640.6h20M473.8 1665h20M485.4 1632.5V1666.1M475.4 1632.5h20M475.4 1666.1h20M486.9 1634.9V1665.8M476.9 1634.9h20M476.9 1665.8h20M488.5 1633.2V1662.5M478.5 1633.2h20M478.5 1662.5h20M490.1 1631.4V1670.9M480.1 1631.4h20M480.1 1670.9h20M491.6 1630.8V1661.8M481.6 1630.8h20M481.6 1661.8h20M493.2 1637.1V1660.3M483.2 1637.1h20M483.2 1660.3h20M494.7 1633.6V1661.3M484.7 1633.6h20M484.7 1661.3h20M496.3 1633.1V1661.4M486.3 1633.1h20M486.3 1661.4h20M497.8 1635.3V1671M487.8 1635.3h20M487.8 1671h20M499.4 1636.9V1661.5M489.4 1636.9h20M489.4 1661.5h20M501 1630.2V1660.6M491 1630.2h20M491 1660.6h20M502.5 1632V1664.9M492.5 1632h20M492.5 1664.9h20M504.1 1632.7V1657.7M494.1 1632.7h20M494.1 1657.7h20M505.6 1632.3V1661.2M495.6 1632.3h20M495.6 1661.2h20M507.2 1638.6V1658.3M497.2 1638.6h20M497.2 1658.3h20M508.8 1632V1661M498.8 1632h20M498.8 1661h20M510.3 1636.3V1655.2M500.3 1636.3h20M500.3 1655.2h20M511.9 1631.4V1658.3M501.9 1631.4h20M501.9 1658.3h20M513.4 1627.1V1663.2M503.4 1627.1h20M503.4 1663.2h20M515 1635.9V1666.3M505 1635.9h20M505 1666.3h20M516.5 1632.1V1660.9M506.5 1632.1h20M506.5 1660.9h20M518.1 1636.6V1665.8M508.1 1636.6h20M508.1 1665.8h20M519.7 1629.5V1667.6M509.7 1629.5h20M509.7 1667.6h20M521.2 1633.2V1664.2M511.2 1633.2h20M511.2 1664.2h20M522.8 1630.2V1663.4M512.8 1630.2h20M512.8 1663.4h20M524.3 1634.1V1660.8M514.3 1634.1h20M514.3 1660.8h20M525.9 1632V1658.7M515.9 1632h20M515.9 1658.7h20M527.4 1638V1662M517.4 1638h20M517.4 1662h20M529 1633.3V1661.2M519 1633.3h20M519 1661.2h20M530.6 1635.7V1661.2M520.6 1635.7h20M520.6 1661.2h20M532.1 1632.4V1665.4M522.1 1632.4h20M522.1 1665.4h20M533.7 1635.8V1667.2M523.7 1635.8h20M523.7 1667.2h20M535.2 1634.1V1662.2M525.2 1634.1h20M525.2 1662.2h20M536.8 1635.3V1661.5M526.8 1635.3h20M526.8 1661.5h20M538.4 1639.3V1655.2M528.4 1639.3h20M528.4 1655.2h20M539.9 1636.1V1662.1M529.9 1636.1h20M529.9 1662.1h20M541.5 1634.3V1664.2M531.5 1634.3h20M531.5 1664.2h20M543 1632.3V1663.8M533 1632.3h20M533 1663.8h20M544.6 1641.4V1656.4M534.6 1641.4h20M534.6 1656.4h20M546.1 1640.2V1658.3M536.1 1640.2h20M536.1 1658.3h20M547.7 1632.7V1662M537.7 1632.7h20M537.7 1662h20M549.3 1640.9V1665M539.3 1640.9h20M539.3 1665h20M550.8 1633.6V1661.2M540.8 1633.6h20M540.8 1661.2h20M552.4 1645.5V1672.1M542.4 1645.5h20M542.4 1672.1h20M553.9 1635V1666.1M543.9 1635h20M543.9 1666.1h20M555.5 1644.1V1664.5M545.5 1644.1h20M545.5 1664.5h20M557.1 1634.8V1660.9M547.1 1634.8h20M547.1 1660.9h20M558.6 1638.4V1671.1M548.6 1638.4h20M548.6 1671.1h20M560.2 1634.9V1664.4M550.2 1634.9h20M550.2 1664.4h20M561.7 1641.2V1666.1M551.7 1641.2h20M551.7 1666.1h20M563.3 1639.3V1669.9M553.3 1639.3h20M553.3 1669.9h20M564.8 1635.4V1665.2M554.8 1635.4h20M554.8 1665.2h20M566.4 1638V1662.7M556.4 1638h20M556.4 1662.7h20M568 1638.4V1670.1M558 1638.4h20M558 1670.1h20M569.5 1631.4V1663M559.5 1631.4h20M559.5 1663h20M571.1 1639.6V1667.6M561.1 1639.6h20M561.1 1667.6h20M572.6 1633.4V1666.1M562.6 1633.4h20M562.6 1666.1h20M574.2 1644.4V1667.8M564.2 1644.4h20M564.2 1667.8h20M575.7 1639.4V1671.4M565.7 1639.4h20M565.7 1671.4h20M577.3 1639V1666.7M567.3 1639h20M567.3 1666.7h20M578.9 1644.1V1668.6M568.9 1644.1h20M568.9 1668.6h20M580.4 1640.3V1666.3M570.4 1640.3h20M570.4 1666.3h20M582 1642.9V1676.6M572 1642.9h20M572 1676.6h20M583.5 1641.6V1667.7M573.5 1641.6h20M573.5 1667.7h20M585.1 1643.1V1670.1M575.1 1643.1h20M575.1 1670.1h20M586.7 1644.8V1670.5M576.7 1644.8h20M576.7 1670.5h20M588.2 1643V1668.1M578.2 1643h20M578.2 1668.1h20M589.8 1639.6V1672.4M579.8 1639.6h20M579.8 1672.4h20M591.3 1636.9V1675.2M581.3 1636.9h20M581.3 1675.2h20M592.9 1635.4V1669.9M582.9 1635.4h20M582.9 1669.9h20M594.4 1637.1V1667.9M584.4 1637.1h20M584.4 1667.9h20" fill="none" stroke="#ff2d8d" stroke-width="1.5"/>
<path d="M131.7 1649.8h0M133.3 1654.6h0M134.8 1654.5h0M136.4 1652.4h0M137.9 1651.3h0M139.5 1657.3h0M141.1 1653.4h0M142.6 1648h0M144.2 1655.1h0M145.7 1653.9h0M147.3 1653.7h0M148.9 1650.9h0M150.4 1652.1h0M152 1652.4h0M153.5 1654.2h0M155.1 1649.7h0M156.6 1650.7h0M158.2 1652.3h0M159.8 1650.1h0M161.3 1648.4h0M162.9 1653.8h0M164.4 1653.9h0M166 1652.1h0M167.6 1651.2h0M169.1 1656.9h0M170.7 1651.9h0M172.2 1648.6h0M173.8 1650.9h0M175.3 1647.6h0M176.9 1655.8h0M178.5 1648.9h0M180 1645.2h0M181.6 1645.4h0M183.1 1650.5h0M184.7 1651.6h0M186.2 1648.5h0M187.8 1652.5h0M189.4 1650.4h0M190.9 1653.2h0M192.5 1649.8h0M194 1649.8h0M195.6 1646.8h0M197.2 1649.3h0M198.7 1652.1h0M200.3 1651.1h0M201.8 1653.6h0M203.4 1650.5h0M204.9 1650.9h0M206.5 1649h0M208.1 1647.4h0M209.6 1653.7h0M211.2 1649.1h0M212.7 1648.6h0M214.3 1653.5h0M215.8 1646.6h0M217.4 1652.5h0M219 1644.6h0M220.5 1648h0M222.1 1647.6h0M223.6 1650.1h0M225.2 1649.3h0M226.8 1654.4h0M228.3 1653.6h0M229.9 1656.3h0M231.4 1650.8h0M233 1654h0M234.5 1651.2h0M236.1 1651.4h0M237.7 1656h0M239.2 1651.4h0M240.8 1653h0M242.3 1653.1h0M243.9 1652.1h0M245.5 1652.4h0M247 1652.2h0M248.6 1649.8h0M250.1 1654.4h0M251.7 1655h0M253.2 1654.3h0M254.8 1650.9h0M256.4 1653.7h0M257.9 1648.5h0M259.5 1659.9h0M261 1653.9h0M262.6 1653h0M264.1 1651.5h0M265.7 1650h0M267.3 1654h0M268.8 1656.1h0M270.4 1652h0M271.9 1650.9h0M273.5 1660.4h0M275.1 1653.4h0M276.6 1653.4h0M278.2 1656.5h0M279.7 1655.1h0M281.3 1653.8h0M282.8 1655h0M284.4 1655.4h0M286 1657.8h0M287.5 1654.1h0M289.1 1655.8h0M290.6 1655h0M292.2 1657h0M293.7 1654.9h0M295.3 1652.9h0M296.9 1654.1h0M298.4 1653.2h0M300 1657.6h0M301.5 1652.7h0M303.1 1653.3h0M304.7 1654.6h0M306.2 1653.2h0M307.8 1659.3h0M309.3 1653.3h0M310.9 1654.2h0M312.4 1658h0M314 1651.6h0M315.6 1653.5h0M317.1 1651.6h0M318.7 1652.4h0M320.2 1650.3h0M321.8 1651.4h0M323.4 1651.7h0M324.9 1649.8h0M326.5 1648.2h0M328 1655h0M329.6 1649.3h0M331.1 1650h0M332.7 1650.7h0M334.3 1646.1h0M335.8 1647.2h0M337.4 1651.6h0M338.9 1651.4h0M340.5 1647.3h0M342 1650.8h0M343.6 1649.8h0M345.2 1653.7h0M346.7 1649.6h0M348.3 1647.9h0M349.8 1651.2h0M351.4 1651.4h0M353 1647.8h0M354.5 1649.8h0M356.1 1648.4h0M357.6 1649.9h0M359.2 1649h0M360.7 1655.8h0M362.3 1654.3h0M363.9 1656h0M365.4 1647.3h0M367 1652.2h0M368.5 1652.8h0M370.1 1655.3h0M371.6 1654.9h0M373.2 1659.9h0M374.8 1648.8h0M376.3 1654h0M377.9 1654.1h0M379.4 1657.4h0M381 1653.9h0M382.6 1652.9h0M384.1 1653.9h0M385.7 1653.3h0M387.2 1657.4h0M388.8 1655.6h0M390.3 1654.7h0M391.9 1654.7h0M393.5 1655.4h0M395 1656h0M396.6 1657.6h0M398.1 1653.8h0M399.7 1655.1h0M401.2 1656.4h0M402.8 1653h0M404.4 1658.5h0M405.9 1655.5h0M407.5 1652.5h0M409 1652.4h0M410.6 1655.5h0M412.2 1654h0M413.7 1652h0M415.3 1652.9h0M416.8 1653.5h0M418.4 1651.7h0M419.9 1651.7h0M421.5 1650.7h0M423.1 1648.1h0M424.6 1650.3h0M426.2 1651.7h0M427.7 1650.4h0M429.3 1645.9h0M430.9 1651.9h0M432.4 1650.1h0M434 1650.9h0M435.5 1647.7h0M437.1 1651.4h0M438.6 1647.6h0M440.2 1646.5h0M441.8 1649.6h0M443.3 1650.2h0M444.9 1651.5h0M446.4 1648.3h0M448 1650.8h0M449.5 1649.1h0M451.1 1648.6h0M452.7 1649.3h0M454.2 1645.5h0M455.8 1643.6h0M457.3 1652.1h0M458.9 1649.4h0M460.5 1647.6h0M462 1651h0M463.6 1649.7h0M465.1 1648h0M466.7 1645.4h0M468.2 1646.5h0M469.8 1650.2h0M471.4 1648.5h0M472.9 1649.6h0M474.5 1649.1h0M476 1652.1h0M477.6 1653.6h0M479.2 1650.4h0M480.7 1646.7h0M482.3 1647h0M483.8 1652.8h0M485.4 1649.3h0M486.9 1650.3h0M488.5 1647.8h0M490.1 1651.2h0M491.6 1646.3h0M493.2 1648.7h0M494.7 1647.5h0M496.3 1647.2h0M497.8 1653.2h0M499.4 1649.2h0M501 1645.4h0M502.5 1648.5h0M504.1 1645.2h0M505.6 1646.8h0M507.2 1648.4h0M508.8 1646.5h0M510.3 1645.7h0M511.9 1644.8h0M513.4 1645.2h0M515 1651.1h0M516.5 1646.5h0M518.1 1651.2h0M519.7 1648.5h0M521.2 1648.7h0M522.8 1646.8h0M524.3 1647.4h0M525.9 1645.3h0M527.4 1650h0M529 1647.3h0M530.6 1648.4h0M532.1 1648.9h0M533.7 1651.5h0M535.2 1648.2h0M536.8 1648.4h0M538.4 1647.2h0M539.9 1649.1h0M541.5 1649.2h0M543 1648h0M544.6 1648.9h0M546.1 1649.2h0M547.7 1647.3h0M549.3 1653h0M550.8 1647.4h0M552.4 1658.8h0M553.9 1650.5h0M555.5 1654.3h0M557.1 1647.8h0M558.6 1654.7h0M560.2 1649.6h0M561.7 1653.6h0M563.3 1654.6h0M564.8 1650.3h0M566.4 1650.4h0M568 1654.2h0M569.5 1647.2h0M571.1 1653.6h0M572.6 1649.7h0M574.2 1656.1h0M575.7 1655.4h0M577.3 1652.9h0M578.9 1656.4h0M580.4 1653.3h0M582 1659.7h0M583.5 1654.6h0M585.1 1656.6h0M586.7 1657.6h0M588.2 1655.5h0M589.8 1656h0M591.3 1656.1h0M592.9 1652.6h0M594.4 1652.5h0" fill="none" stroke="#ff2d8d" stroke-width="8.5" stroke-linecap="round"/>
<path d="M131.7 1722.1V1727.5M126.7 1722.1h10M126.7 1727.5h10M133.3 1718.5V1724.4M128.3 1718.5h10M128.3 1724.4h10M134.8 1707.7V1717.1M129.8 1707.7h10M129.8 1717.1h10M136.4 1717.6V1725.5M131.4 1717.6h10M131.4 1725.5h10M137.9 1711.3V1720.8M132.9 1711.3h10M132.9 1720.8h10M139.5 1694.1V1697.9M134.5 1694.1h10M134.5 1697.9h10M141.1 1700.8V1707.6M136.1 1700.8h10M136.1 1707.6h10M142.6 1709.2V1718.2M137.6 1709.2h10M137.6 1718.2h10M144.2 1696V1703.2M139.2 1696h10M139.2 1703.2h10M145.7 1698.1V1704.4M140.7 1698.1h10M140.7 1704.4h10M147.3 1700.5V1708.6M142.3 1700.5h10M142.3 1708.6h10M148.9 1694.8V1706.3M143.9 1694.8h10M143.9 1706.3h10M150.4 1710.7V1712.7M145.4 1710.7h10M145.4 1712.7h10M152 1706.2V1717.6M147 1706.2h10M147 1717.6h10M153.5 1711.7V1719.8M148.5 1711.7h10M148.5 1719.8h10M155.1 1704.7V1709.9M150.1 1704.7h10M150.1 1709.9h10M156.6 1713.8V1722.9M151.6 1713.8h10M151.6 1722.9h10M158.2 1708.8V1716.2M153.2 1708.8h10M153.2 1716.2h10M159.8 1702.9V1713.3M154.8 1702.9h10M154.8 1713.3h10M161.3 1712.3V1717.6M156.3 1712.3h10M156.3 1717.6h10M162.9 1704.1V1713.9M157.9 1704.1h10M157.9 1713.9h10M164.4 1698V1703.1M159.4 1698h10M159.4 1703.1h10M166 1727V1735.2M161 1727h10M161 1735.2h10M167.6 1698.3V1707.4M162.6 1698.3h10M162.6 1707.4h10M169.1 1713.9V1721M164.1 1713.9h10M164.1 1721h10M170.7 1715.4V1724.4M165.7 1715.4h10M165.7 1724.4h10M172.2 1710.3V1716.1M167.2 1710.3h10M167.2 1716.1h10M173.8 1702.5V1712.5M168.8 1702.5h10M168.8 1712.5h10M175.3 1714.7V1720.8M170.3 1714.7h10M170.3 1720.8h10M176.9 1715.5V1721M171.9 1715.5h10M171.9 1721h10M178.5 1713.5V1720.5M173.5 1713.5h10M173.5 1720.5h10M180 1716V1723.2M175 1716h10M175 1723.2h10M181.6 1711V1716.3M176.6 1711h10M176.6 1716.3h10M183.1 1713.9V1723.2M178.1 1713.9h10M178.1 1723.2h10M184.7 1711.7V1718.7M179.7 1711.7h10M179.7 1718.7h10M186.2 1705.9V1714.7M181.2 1705.9h10M181.2 1714.7h10M187.8 1713.2V1716.8M182.8 1713.2h10M182.8 1716.8h10M189.4 1702.9V1706.9M184.4 1702.9h10M184.4 1706.9h10M190.9 1711.5V1718.2M185.9 1711.5h10M185.9 1718.2h10M192.5 1712.8V1717.7M187.5 1712.8h10M187.5 1717.7h10M194 1693.7V1700.7M189 1693.7h10M189 1700.7h10M195.6 1696.2V1704.9M190.6 1696.2h10M190.6 1704.9h10M197.2 1704.6V1714.8M192.2 1704.6h10M192.2 1714.8h10M198.7 1697.7V1708.7M193.7 1697.7h10M193.7 1708.7h10M200.3 1701.4V1710.7M195.3 1701.4h10M195.3 1710.7h10M201.8 1708.9V1714.4M196.8 1708.9h10M196.8 1714.4h10M203.4 1699.3V1708M198.4 1699.3h10M198.4 1708h10M204.9 1702.6V1708.6M199.9 1702.6h10M199.9 1708.6h10M206.5 1695.5V1704.2M201.5 1695.5h10M201.5 1704.2h10M208.1 1717.7V1722.3M203.1 1717.7h10M203.1 1722.3h10M209.6 1699.2V1710M204.6 1699.2h10M204.6 1710h10M211.2 1704.8V1713.2M206.2 1704.8h10M206.2 1713.2h10M212.7 1710.7V1717.3M207.7 1710.7h10M207.7 1717.3h10M214.3 1710.8V1714.7M209.3 1710.8h10M209.3 1714.7h10M215.8 1706.7V1714.8M210.8 1706.7h10M210.8 1714.8h10M217.4 1714.8V1720.9M212.4 1714.8h10M212.4 1720.9h10M219 1719.8V1727.8M214 1719.8h10M214 1727.8h10M220.5 1702.6V1708.1M215.5 1702.6h10M215.5 1708.1h10M222.1 1716.6V1722.6M217.1 1716.6h10M217.1 1722.6h10M223.6 1708.2V1717.1M218.6 1708.2h10M218.6 1717.1h10M225.2 1720.4V1731.5M220.2 1720.4h10M220.2 1731.5h10M226.8 1712.9V1717M221.8 1712.9h10M221.8 1717h10M228.3 1705.8V1712.7M223.3 1705.8h10M223.3 1712.7h10M229.9 1708.3V1716.6M224.9 1708.3h10M224.9 1716.6h10M231.4 1707.1V1714.1M226.4 1707.1h10M226.4 1714.1h10M233 1714.6V1720.9M228 1714.6h10M228 1720.9h10M234.5 1700.9V1713.7M229.5 1700.9h10M229.5 1713.7h10M236.1 1713.2V1718.4M231.1 1713.2h10M231.1 1718.4h10M237.7 1700.2V1708.4M232.7 1700.2h10M232.7 1708.4h10M239.2 1705.1V1711.2M234.2 1705.1h10M234.2 1711.2h10M240.8 1708.8V1715.9M235.8 1708.8h10M235.8 1715.9h10M242.3 1699.2V1700.8M237.3 1699.2h10M237.3 1700.8h10M243.9 1708.3V1717.9M238.9 1708.3h10M238.9 1717.9h10M245.5 1701.5V1708.4M240.5 1701.5h10M240.5 1708.4h10M247 1707.8V1712.7M242 1707.8h10M242 1712.7h10M248.6 1705V1716.6M243.6 1705h10M243.6 1716.6h10M250.1 1700.8V1707.5M245.1 1700.8h10M245.1 1707.5h10M251.7 1705V1710.8M246.7 1705h10M246.7 1710.8h10M253.2 1709.3V1714.5M248.2 1709.3h10M248.2 1714.5h10M254.8 1707.5V1717.5M249.8 1707.5h10M249.8 1717.5h10M256.4 1707V1714.5M251.4 1707h10M251.4 1714.5h10M257.9 1709.6V1716.2M252.9 1709.6h10M252.9 1716.2h10M259.5 1714.3V1718.3M254.5 1714.3h10M254.5 1718.3h10M261 1718V1723.1M256 1718h10M256 1723.1h10M262.6 1726.3V1734.5M257.6 1726.3h10M257.6 1734.5h10M264.1 1710.5V1717.9M259.1 1710.5h10M259.1 1717.9h10M265.7 1711.9V1714.1M260.7 1711.9h10M260.7 1714.1h10M267.3 1699.3V1704.4M262.3 1699.3h10M262.3 1704.4h10M268.8 1703V1710.9M263.8 1703h10M263.8 1710.9h10M270.4 1697.7V1711.9M265.4 1697.7h10M265.4 1711.9h10M271.9 1698.2V1703.7M266.9 1698.2h10M266.9 1703.7h10M273.5 1711.5V1713.2M268.5 1711.5h10M268.5 1713.2h10M275.1 1710.9V1720.2M270.1 1710.9h10M270.1 1720.2h10M276.6 1701.6V1707.7M271.6 1701.6h10M271.6 1707.7h10M278.2 1711V1715.1M273.2 1711h10M273.2 1715.1h10M279.7 1704.2V1713M274.7 1704.2h10M274.7 1713h10M281.3 1695.1V1701.8M276.3 1695.1h10M276.3 1701.8h10M282.8 1701.8V1706.8M277.8 1701.8h10M277.8 1706.8h10M284.4 1699.7V1703.8M279.4 1699.7h10M279.4 1703.8h10M286 1714.8V1721.8M281 1714.8h10M281 1721.8h10M287.5 1706.6V1714.1M282.5 1706.6h10M282.5 1714.1h10M289.1 1701.7V1704.5M284.1 1701.7h10M284.1 1704.5h10M290.6 1713.8V1723.7M285.6 1713.8h10M285.6 1723.7h10M292.2 1705.1V1709.2M287.2 1705.1h10M287.2 1709.2h10M293.7 1698.9V1709.8M288.7 1698.9h10M288.7 1709.8h10M295.3 1718.3V1726.5M290.3 1718.3h10M290.3 1726.5h10M296.9 1695.4V1702.3M291.9 1695.4h10M291.9 1702.3h10M298.4 1710.3V1718.6M293.4 1710.3h10M293.4 1718.6h10M300 1707.5V1713.3M295 1707.5h10M295 1713.3h10M301.5 1694.8V1702M296.5 1694.8h10M296.5 1702h10M303.1 1713.7V1725.2M298.1 1713.7h10M298.1 1725.2h10M304.7 1702.2V1708.1M299.7 1702.2h10M299.7 1708.1h10M306.2 1706.2V1715.6M301.2 1706.2h10M301.2 1715.6h10M307.8 1705.1V1710.1M302.8 1705.1h10M302.8 1710.1h10M309.3 1709.6V1716.9M304.3 1709.6h10M304.3 1716.9h10M310.9 1695.1V1704.9M305.9 1695.1h10M305.9 1704.9h10M312.4 1713.8V1718.1M307.4 1713.8h10M307.4 1718.1h10M314 1701.9V1710.1M309 1701.9h10M309 1710.1h10M315.6 1706.2V1708.1M310.6 1706.2h10M310.6 1708.1h10M317.1 1707.4V1711.8M312.1 1707.4h10M312.1 1711.8h10M318.7 1707.3V1713.6M313.7 1707.3h10M313.7 1713.6h10M320.2 1706.4V1716M315.2 1706.4h10M315.2 1716h10M321.8 1699.1V1708.3M316.8 1699.1h10M316.8 1708.3h10M323.4 1706.3V1711.4M318.4 1706.3h10M318.4 1711.4h10M324.9 1709.8V1716.8M319.9 1709.8h10M319.9 1716.8h10M326.5 1715.2V1723M321.5 1715.2h10M321.5 1723h10M328 1709.2V1712.6M323 1709.2h10M323 1712.6h10M329.6 1702.3V1710.7M324.6 1702.3h10M324.6 1710.7h10M331.1 1703.8V1714.6M326.1 1703.8h10M326.1 1714.6h10M332.7 1695.5V1706M327.7 1695.5h10M327.7 1706h10M334.3 1720.3V1726.2M329.3 1720.3h10M329.3 1726.2h10M335.8 1692.3V1698.6M330.8 1692.3h10M330.8 1698.6h10M337.4 1709.2V1714.2M332.4 1709.2h10M332.4 1714.2h10M338.9 1715.2V1721.3M333.9 1715.2h10M333.9 1721.3h10M340.5 1719.6V1726.4M335.5 1719.6h10M335.5 1726.4h10M342 1702.1V1711.2M337 1702.1h10M337 1711.2h10M343.6 1706.2V1713.8M338.6 1706.2h10M338.6 1713.8h10M345.2 1710.6V1715.6M340.2 1710.6h10M340.2 1715.6h10M346.7 1706V1715.4M341.7 1706h10M341.7 1715.4h10M348.3 1719.8V1729.4M343.3 1719.8h10M343.3 1729.4h10M349.8 1709.4V1715.2M344.8 1709.4h10M344.8 1715.2h10M351.4 1702.2V1709M346.4 1702.2h10M346.4 1709h10M353 1705.7V1712.8M348 1705.7h10M348 1712.8h10M354.5 1711.2V1714.4M349.5 1711.2h10M349.5 1714.4h10M356.1 1717.4V1725.1M351.1 1717.4h10M351.1 1725.1h10M357.6 1698.9V1707.9M352.6 1698.9h10M352.6 1707.9h10M359.2 1710V1722.3M354.2 1710h10M354.2 1722.3h10M360.7 1715.8V1723.6M355.7 1715.8h10M355.7 1723.6h10M362.3 1699.9V1706.5M357.3 1699.9h10M357.3 1706.5h10M363.9 1702.9V1709.9M358.9 1702.9h10M358.9 1709.9h10M365.4 1716.2V1725.1M360.4 1716.2h10M360.4 1725.1h10M367 1714.8V1724.2M362 1714.8h10M362 1724.2h10M368.5 1711.4V1716.6M363.5 1711.4h10M363.5 1716.6h10M370.1 1713.6V1721.5M365.1 1713.6h10M365.1 1721.5h10M371.6 1707.5V1716.5M366.6 1707.5h10M366.6 1716.5h10M373.2 1692.9V1695.1M368.2 1692.9h10M368.2 1695.1h10M374.8 1687.1V1697.9M369.8 1687.1h10M369.8 1697.9h10M376.3 1709.3V1716.1M371.3 1709.3h10M371.3 1716.1h10M377.9 1701.9V1711.4M372.9 1701.9h10M372.9 1711.4h10M379.4 1714.2V1721.5M374.4 1714.2h10M374.4 1721.5h10M381 1709.5V1716.3M376 1709.5h10M376 1716.3h10M382.6 1717V1724.2M377.6 1717h10M377.6 1724.2h10M384.1 1700V1708.1M379.1 1700h10M379.1 1708.1h10M385.7 1708.8V1718.3M380.7 1708.8h10M380.7 1718.3h10M387.2 1705.4V1712.1M382.2 1705.4h10M382.2 1712.1h10M388.8 1704.8V1709.3M383.8 1704.8h10M383.8 1709.3h10M390.3 1711.7V1717.3M385.3 1711.7h10M385.3 1717.3h10M391.9 1696.5V1701.4M386.9 1696.5h10M386.9 1701.4h10M393.5 1705.6V1714.9M388.5 1705.6h10M388.5 1714.9h10M395 1705.3V1710.2M390 1705.3h10M390 1710.2h10M396.6 1706.8V1718M391.6 1706.8h10M391.6 1718h10M398.1 1699V1706.7M393.1 1699h10M393.1 1706.7h10M399.7 1698.2V1705.3M394.7 1698.2h10M394.7 1705.3h10M401.2 1707.5V1718.2M396.2 1707.5h10M396.2 1718.2h10M402.8 1699.8V1706.2M397.8 1699.8h10M397.8 1706.2h10M404.4 1706.6V1713.3M399.4 1706.6h10M399.4 1713.3h10M405.9 1711.6V1721M400.9 1711.6h10M400.9 1721h10M407.5 1705.1V1714.3M402.5 1705.1h10M402.5 1714.3h10M409 1701.9V1706.8M404 1701.9h10M404 1706.8h10M410.6 1697.6V1711.2M405.6 1697.6h10M405.6 1711.2h10M412.2 1697.9V1706.8M407.2 1697.9h10M407.2 1706.8h10M413.7 1713V1717.3M408.7 1713h10M408.7 1717.3h10M415.3 1708.7V1715.7M410.3 1708.7h10M410.3 1715.7h10M416.8 1705.5V1715.3M411.8 1705.5h10M411.8 1715.3h10M418.4 1702.2V1710.1M413.4 1702.2h10M413.4 1710.1h10M419.9 1708.8V1718.4M414.9 1708.8h10M414.9 1718.4h10M421.5 1711.2V1724.6M416.5 1711.2h10M416.5 1724.6h10M423.1 1716.9V1726.7M418.1 1716.9h10M418.1 1726.7h10M424.6 1699.3V1711.8M419.6 1699.3h10M419.6 1711.8h10M426.2 1702.3V1711.4M421.2 1702.3h10M421.2 1711.4h10M427.7 1715.2V1721M422.7 1715.2h10M422.7 1721h10M429.3 1697.8V1709.1M424.3 1697.8h10M424.3 1709.1h10M430.9 1709.7V1715.3M425.9 1709.7h10M425.9 1715.3h10M432.4 1704.7V1714.6M427.4 1704.7h10M427.4 1714.6h10M434 1698.2V1707.3M429 1698.2h10M429 1707.3h10M435.5 1711V1716.3M430.5 1711h10M430.5 1716.3h10M437.1 1711.2V1716.8M432.1 1711.2h10M432.1 1716.8h10M438.6 1716.6V1723.6M433.6 1716.6h10M433.6 1723.6h10M440.2 1702.7V1711.2M435.2 1702.7h10M435.2 1711.2h10M441.8 1699.4V1710.3M436.8 1699.4h10M436.8 1710.3h10M443.3 1699.7V1707.3M438.3 1699.7h10M438.3 1707.3h10M444.9 1698.5V1710.8M439.9 1698.5h10M439.9 1710.8h10M446.4 1702.8V1712.5M441.4 1702.8h10M441.4 1712.5h10M448 1697.7V1703.5M443 1697.7h10M443 1703.5h10M449.5 1711.4V1717.3M444.5 1711.4h10M444.5 1717.3h10M451.1 1703.2V1710.9M446.1 1703.2h10M446.1 1710.9h10M452.7 1705.4V1711.5M447.7 1705.4h10M447.7 1711.5h10M454.2 1709.7V1716.9M449.2 1709.7h10M449.2 1716.9h10M455.8 1698.9V1708.4M450.8 1698.9h10M450.8 1708.4h10M457.3 1708.4V1716.6M452.3 1708.4h10M452.3 1716.6h10M458.9 1702.9V1712.9M453.9 1702.9h10M453.9 1712.9h10M460.5 1716.8V1722.5M455.5 1716.8h10M455.5 1722.5h10M462 1715.6V1720.9M457 1715.6h10M457 1720.9h10M463.6 1704.4V1708.3M458.6 1704.4h10M458.6 1708.3h10M465.1 1715.5V1718.5M460.1 1715.5h10M460.1 1718.5h10M466.7 1713V1719.4M461.7 1713h10M461.7 1719.4h10M468.2 1713.4V1721.1M463.2 1713.4h10M463.2 1721.1h10M469.8 1720.2V1727.2M464.8 1720.2h10M464.8 1727.2h10M471.4 1716V1723.5M466.4 1716h10M466.4 1723.5h10M472.9 1712.6V1725.3M467.9 1712.6h10M467.9 1725.3h10M474.5 1713.7V1718.4M469.5 1713.7h10M469.5 1718.4h10M476 1716.1V1723M471 1716.1h10M471 1723h10M477.6 1709.6V1715.9M472.6 1709.6h10M472.6 1715.9h10M479.2 1713.5V1718.7M474.2 1713.5h10M474.2 1718.7h10M480.7 1720.3V1731.2M475.7 1720.3h10M475.7 1731.2h10M482.3 1716.7V1724.1M477.3 1716.7h10M477.3 1724.1h10M483.8 1714.8V1725.5M478.8 1714.8h10M478.8 1725.5h10M485.4 1720.1V1724.7M480.4 1720.1h10M480.4 1724.7h10M486.9 1709.9V1722.2M481.9 1709.9h10M481.9 1722.2h10M488.5 1703.2V1716.5M483.5 1703.2h10M483.5 1716.5h10M490.1 1720V1725.3M485.1 1720h10M485.1 1725.3h10M491.6 1723.2V1730.7M486.6 1723.2h10M486.6 1730.7h10M493.2 1711.3V1718.5M488.2 1711.3h10M488.2 1718.5h10M494.7 1691.1V1700.1M489.7 1691.1h10M489.7 1700.1h10M496.3 1715.1V1719.3M491.3 1715.1h10M491.3 1719.3h10M497.8 1707.8V1716.5M492.8 1707.8h10M492.8 1716.5h10M499.4 1711V1720.4M494.4 1711h10M494.4 1720.4h10M501 1705.1V1711.1M496 1705.1h10M496 1711.1h10M502.5 1704.6V1706.4M497.5 1704.6h10M497.5 1706.4h10M504.1 1712.4V1718.2M499.1 1712.4h10M499.1 1718.2h10M505.6 1719.5V1726.1M500.6 1719.5h10M500.6 1726.1h10M507.2 1717.1V1726.6M502.2 1717.1h10M502.2 1726.6h10M508.8 1710.7V1716.6M503.8 1710.7h10M503.8 1716.6h10M510.3 1718.9V1723.6M505.3 1718.9h10M505.3 1723.6h10M511.9 1707.1V1716.2M506.9 1707.1h10M506.9 1716.2h10M513.4 1713.4V1721.9M508.4 1713.4h10M508.4 1721.9h10M515 1706V1715.4M510 1706h10M510 1715.4h10M516.5 1716.7V1724.4M511.5 1716.7h10M511.5 1724.4h10M518.1 1706.8V1717M513.1 1706.8h10M513.1 1717h10M519.7 1709.1V1718M514.7 1709.1h10M514.7 1718h10M521.2 1717V1720M516.2 1717h10M516.2 1720h10M522.8 1713.6V1721.7M517.8 1713.6h10M517.8 1721.7h10M524.3 1715V1724.5M519.3 1715h10M519.3 1724.5h10M525.9 1716.4V1724M520.9 1716.4h10M520.9 1724h10M527.4 1702.4V1713.7M522.4 1702.4h10M522.4 1713.7h10M529 1708.7V1715.1M524 1708.7h10M524 1715.1h10M530.6 1705.4V1714.8M525.6 1705.4h10M525.6 1714.8h10M532.1 1702.4V1706.9M527.1 1702.4h10M527.1 1706.9h10M533.7 1709.6V1717.2M528.7 1709.6h10M528.7 1717.2h10M535.2 1708V1714.2M530.2 1708h10M530.2 1714.2h10M536.8 1706.1V1711.2M531.8 1706.1h10M531.8 1711.2h10M538.4 1706.1V1710.3M533.4 1706.1h10M533.4 1710.3h10M539.9 1705V1713.1M534.9 1705h10M534.9 1713.1h10M541.5 1706.4V1715M536.5 1706.4h10M536.5 1715h10M543 1710.2V1716.2M538 1710.2h10M538 1716.2h10M544.6 1725.6V1730.1M539.6 1725.6h10M539.6 1730.1h10M546.1 1710.4V1715.8M541.1 1710.4h10M541.1 1715.8h10M547.7 1701.8V1711.3M542.7 1701.8h10M542.7 1711.3h10M549.3 1698.7V1703.2M544.3 1698.7h10M544.3 1703.2h10M550.8 1697V1707.5M545.8 1697h10M545.8 1707.5h10M552.4 1709.9V1713.2M547.4 1709.9h10M547.4 1713.2h10M553.9 1700.7V1709M548.9 1700.7h10M548.9 1709h10M555.5 1703.7V1712.9M550.5 1703.7h10M550.5 1712.9h10M557.1 1703.2V1713.8M552.1 1703.2h10M552.1 1713.8h10M558.6 1700.7V1707.2M553.6 1700.7h10M553.6 1707.2h10M560.2 1700.9V1706.5M555.2 1700.9h10M555.2 1706.5h10M561.7 1704.9V1708.8M556.7 1704.9h10M556.7 1708.8h10M563.3 1691V1700.9M558.3 1691h10M558.3 1700.9h10M564.8 1705.8V1713.1M559.8 1705.8h10M559.8 1713.1h10M566.4 1695.1V1701.5M561.4 1695.1h10M561.4 1701.5h10M568 1692.3V1698.8M563 1692.3h10M563 1698.8h10M569.5 1700.2V1708.5M564.5 1700.2h10M564.5 1708.5h10M571.1 1701.4V1709.1M566.1 1701.4h10M566.1 1709.1h10M572.6 1703V1713.6M567.6 1703h10M567.6 1713.6h10M574.2 1716.4V1718.5M569.2 1716.4h10M569.2 1718.5h10M575.7 1703.1V1712.9M570.7 1703.1h10M570.7 1712.9h10M577.3 1689.6V1695.8M572.3 1689.6h10M572.3 1695.8h10M578.9 1715.2V1722.6M573.9 1715.2h10M573.9 1722.6h10M580.4 1715.6V1722.4M575.4 1715.6h10M575.4 1722.4h10M582 1716.7V1724.1M577 1716.7h10M577 1724.1h10M583.5 1701.8V1711.3M578.5 1701.8h10M578.5 1711.3h10M585.1 1718.2V1726.3M580.1 1718.2h10M580.1 1726.3h10M586.7 1707.4V1711.3M581.7 1707.4h10M581.7 1711.3h10M588.2 1703.1V1710.5M583.2 1703.1h10M583.2 1710.5h10M589.8 1716.3V1723.7M584.8 1716.3h10M584.8 1723.7h10M591.3 1700.5V1709.1M586.3 1700.5h10M586.3 1709.1h10M592.9 1717.8V1725.5M587.9 1717.8h10M587.9 1725.5h10M594.4 1702.4V1709.8M589.4 1702.4h10M589.4 1709.8h10" fill="none" stroke="#000" stroke-width="1.2"/>
<path d="M131.7 1724.8h0M133.3 1721.5h0M134.8 1712.4h0M136.4 1721.5h0M137.9 1716h0M139.5 1696h0M141.1 1704.2h0M142.6 1713.7h0M144.2 1699.6h0M145.7 1701.2h0M147.3 1704.6h0M148.9 1700.5h0M150.4 1711.7h0M152 1711.9h0M153.5 1715.8h0M155.1 1707.3h0M156.6 1718.3h0M158.2 1712.5h0M159.8 1708.1h0M161.3 1715h0M162.9 1709h0M164.4 1700.5h0M166 1731.1h0M167.6 1702.8h0M169.1 1717.5h0M170.7 1719.9h0M172.2 1713.2h0M173.8 1707.5h0M175.3 1717.7h0M176.9 1718.3h0M178.5 1717h0M180 1719.6h0M181.6 1713.7h0M183.1 1718.5h0M184.7 1715.2h0M186.2 1710.3h0M187.8 1715h0M189.4 1704.9h0M190.9 1714.8h0M192.5 1715.3h0M194 1697.2h0M195.6 1700.5h0M197.2 1709.7h0M198.7 1703.2h0M200.3 1706h0M201.8 1711.7h0M203.4 1703.7h0M204.9 1705.6h0M206.5 1699.9h0M208.1 1720h0M209.6 1704.6h0M211.2 1709h0M212.7 1714h0M214.3 1712.8h0M215.8 1710.7h0M217.4 1717.9h0M219 1723.8h0M220.5 1705.4h0M222.1 1719.6h0M223.6 1712.7h0M225.2 1725.9h0M226.8 1715h0M228.3 1709.2h0M229.9 1712.5h0M231.4 1710.6h0M233 1717.8h0M234.5 1707.3h0M236.1 1715.8h0M237.7 1704.3h0M239.2 1708.2h0M240.8 1712.3h0M242.3 1700h0M243.9 1713.1h0M245.5 1705h0M247 1710.3h0M248.6 1710.8h0M250.1 1704.2h0M251.7 1707.9h0M253.2 1711.9h0M254.8 1712.5h0M256.4 1710.7h0M257.9 1712.9h0M259.5 1716.3h0M261 1720.5h0M262.6 1730.4h0M264.1 1714.2h0M265.7 1713h0M267.3 1701.9h0M268.8 1706.9h0M270.4 1704.8h0M271.9 1700.9h0M273.5 1712.4h0M275.1 1715.5h0M276.6 1704.7h0M278.2 1713h0M279.7 1708.6h0M281.3 1698.5h0M282.8 1704.3h0M284.4 1701.8h0M286 1718.3h0M287.5 1710.4h0M289.1 1703.1h0M290.6 1718.8h0M292.2 1707.2h0M293.7 1704.3h0M295.3 1722.4h0M296.9 1698.8h0M298.4 1714.5h0M300 1710.4h0M301.5 1698.4h0M303.1 1719.4h0M304.7 1705.1h0M306.2 1710.9h0M307.8 1707.6h0M309.3 1713.3h0M310.9 1700h0M312.4 1715.9h0M314 1706h0M315.6 1707.1h0M317.1 1709.6h0M318.7 1710.4h0M320.2 1711.2h0M321.8 1703.7h0M323.4 1708.8h0M324.9 1713.3h0M326.5 1719.1h0M328 1710.9h0M329.6 1706.5h0M331.1 1709.2h0M332.7 1700.8h0M334.3 1723.2h0M335.8 1695.5h0M337.4 1711.7h0M338.9 1718.3h0M340.5 1723h0M342 1706.7h0M343.6 1710h0M345.2 1713.1h0M346.7 1710.7h0M348.3 1724.6h0M349.8 1712.3h0M351.4 1705.6h0M353 1709.3h0M354.5 1712.8h0M356.1 1721.2h0M357.6 1703.4h0M359.2 1716.1h0M360.7 1719.7h0M362.3 1703.2h0M363.9 1706.4h0M365.4 1720.6h0M367 1719.5h0M368.5 1714h0M370.1 1717.5h0M371.6 1712h0M373.2 1694h0M374.8 1692.5h0M376.3 1712.7h0M377.9 1706.6h0M379.4 1717.8h0M381 1712.9h0M382.6 1720.6h0M384.1 1704.1h0M385.7 1713.6h0M387.2 1708.7h0M388.8 1707h0M390.3 1714.5h0M391.9 1699h0M393.5 1710.2h0M395 1707.7h0M396.6 1712.4h0M398.1 1702.8h0M399.7 1701.7h0M401.2 1712.9h0M402.8 1703h0M404.4 1710h0M405.9 1716.3h0M407.5 1709.7h0M409 1704.4h0M410.6 1704.4h0M412.2 1702.3h0M413.7 1715.2h0M415.3 1712.2h0M416.8 1710.4h0M418.4 1706.1h0M419.9 1713.6h0M421.5 1717.9h0M423.1 1721.8h0M424.6 1705.5h0M426.2 1706.9h0M427.7 1718.1h0M429.3 1703.4h0M430.9 1712.5h0M432.4 1709.7h0M434 1702.8h0M435.5 1713.7h0M437.1 1714h0M438.6 1720.1h0M440.2 1707h0M441.8 1704.9h0M443.3 1703.5h0M444.9 1704.6h0M446.4 1707.7h0M448 1700.6h0M449.5 1714.3h0M451.1 1707.1h0M452.7 1708.4h0M454.2 1713.3h0M455.8 1703.6h0M457.3 1712.5h0M458.9 1707.9h0M460.5 1719.6h0M462 1718.2h0M463.6 1706.3h0M465.1 1717h0M466.7 1716.2h0M468.2 1717.3h0M469.8 1723.7h0M471.4 1719.7h0M472.9 1718.9h0M474.5 1716h0M476 1719.5h0M477.6 1712.7h0M479.2 1716.1h0M480.7 1725.7h0M482.3 1720.4h0M483.8 1720.2h0M485.4 1722.4h0M486.9 1716h0M488.5 1709.8h0M490.1 1722.6h0M491.6 1727h0M493.2 1714.9h0M494.7 1695.6h0M496.3 1717.2h0M497.8 1712.1h0M499.4 1715.7h0M501 1708.1h0M502.5 1705.5h0M504.1 1715.3h0M505.6 1722.8h0M507.2 1721.9h0M508.8 1713.7h0M510.3 1721.2h0M511.9 1711.7h0M513.4 1717.7h0M515 1710.7h0M516.5 1720.6h0M518.1 1711.9h0M519.7 1713.6h0M521.2 1718.5h0M522.8 1717.6h0M524.3 1719.8h0M525.9 1720.2h0M527.4 1708h0M529 1711.9h0M530.6 1710.1h0M532.1 1704.7h0M533.7 1713.4h0M535.2 1711.1h0M536.8 1708.6h0M538.4 1708.2h0M539.9 1709h0M541.5 1710.7h0M543 1713.2h0M544.6 1727.9h0M546.1 1713.1h0M547.7 1706.6h0M549.3 1700.9h0M550.8 1702.2h0M552.4 1711.5h0M553.9 1704.9h0M555.5 1708.3h0M557.1 1708.5h0M558.6 1703.9h0M560.2 1703.7h0M561.7 1706.9h0M563.3 1696h0M564.8 1709.4h0M566.4 1698.3h0M568 1695.5h0M569.5 1704.4h0M571.1 1705.2h0M572.6 1708.3h0M574.2 1717.4h0M575.7 1708h0M577.3 1692.7h0M578.9 1718.9h0M580.4 1719h0M582 1720.4h0M583.5 1706.5h0M585.1 1722.2h0M586.7 1709.4h0M588.2 1706.8h0M589.8 1720h0M591.3 1704.8h0M592.9 1721.7h0M594.4 1706.1h0" fill="none" stroke="#000" stroke-width="8.4" stroke-linecap="round"/>
<path d="M172.5 1619.5V1635.5M162.5 1619.5h20M162.5 1635.5h20" fill="none" stroke="#ff2d8d" stroke-width="1.6"/>
<circle cx="172.5" cy="1627.5" r="4.2" fill="#ff2d8d"/>
<path d="M128.6 1717V1723M115.6 1717h26M115.6 1723h26" fill="none" stroke="#ff2d8d" stroke-width="2"/>
<circle cx="128.6" cy="1720" r="4.5" fill="#ff2d8d"/>
<path d="M123.6 1761.3l5 -5l5 5l-5 5z" fill="#000"/>
<path d="M128.6 1442.6V1801 M128.6 1795H597.2" fill="none" stroke="#000" stroke-width="3"/>
<text x="109.8" y="1452.4" font-size="28" text-anchor="end">0.0</text>
<text x="109.8" y="1515.9" font-size="28" text-anchor="end">-0.2</text>
<text x="109.8" y="1579.4" font-size="28" text-anchor="end">-0.4</text>
<text x="109.8" y="1642.9" font-size="28" text-anchor="end">-0.6</text>
<text x="109.8" y="1706.4" font-size="28" text-anchor="end">-0.8</text>
<text x="109.8" y="1769.9" font-size="28" text-anchor="end">-1.0</text>
<text x="127.1" y="1841.5" font-size="31" text-anchor="middle">0</text>
<text x="205" y="1841.5" font-size="31" text-anchor="middle">5</text>
<text x="282.9" y="1841.5" font-size="31" text-anchor="middle">10</text>
<text x="360.8" y="1841.5" font-size="31" text-anchor="middle">15</text>
<text x="438.7" y="1841.5" font-size="31" text-anchor="middle">20</text>
<text x="516.6" y="1841.5" font-size="31" text-anchor="middle">25</text>
<text x="594.5" y="1841.5" font-size="31" text-anchor="middle">30</text>
<path d=" M123.1 1443.8H128.6 M123.1 1507.3H128.6 M123.1 1570.8H128.6 M123.1 1634.3H128.6 M123.1 1697.8H128.6 M123.1 1761.3H128.6 M206.5 1795V1800.5 M284.4 1795V1800.5 M362.3 1795V1800.5 M440.2 1795V1800.5 M518.1 1795V1800.5 M596 1795V1800.5" fill="none" stroke="#000" stroke-width="2.5" stroke-linecap="round"/>
<text x="30" y="1619.5" font-size="33" font-weight="bold" text-anchor="middle" transform="rotate(-90 30 1619.5)">Normalized Current</text>
<text x="361.5" y="1904" font-size="33" font-weight="bold" text-anchor="middle">Time (s)</text>
<polyline points="135,1473.4 136,1471.5 137,1474.5 138,1472 139,1471.6 140,1473.2 141,1473.5 142,1473.6 143,1473.8 144,1472.9 145,1472.6 146,1472.8 147.6,1473.5 148.3,1503 148.8,1533.5 149.4,1506 149.9,1483.5 150.7,1475 151.6,1473.3 152.6,1472.5 153.6,1472 154.6,1473.9 155.6,1474.1 156.6,1472.5 157.6,1472.3 158.6,1472.1 159.6,1471 160.6,1471.9 161.6,1472 162.6,1472.5 163.6,1471.6 164.6,1470.8 165.8,1473.5 166.5,1496.2 167,1520 167.6,1498.6 168.1,1481 168.9,1475 169.8,1473.3 170.8,1473.1 171.8,1474 172.8,1470.6 173.8,1472.4 174.8,1473.3 175.8,1471.5 176.8,1471.2 177.8,1472.5 178.8,1472.3 179.8,1471.9 180.8,1474 181.8,1473.9 182.8,1473.1 183.8,1472.4 185.1,1473.5 185.8,1496.5 186.3,1520.5 186.9,1498.9 187.4,1481.1 188.2,1475 189.1,1473.3 190.1,1472.2 191.1,1473.3 192.1,1472.3 193.1,1473.8 194.1,1473.6 195.1,1472 196.1,1473.2 197.1,1473.9 198.1,1473.1 199.1,1471.7 200.1,1472.3 201.1,1472.2 202.1,1472.6 203.1,1472.6 203.8,1473.5 204.5,1496.2 205,1520 205.6,1498.6 206.1,1481 206.9,1475 207.8,1473.3 208.8,1472.2 209.8,1473.3 210.8,1473.7 211.8,1472 212.8,1471.2 213.8,1472.9 214.8,1472.5" fill="none" stroke="#000" stroke-width="3.2" stroke-linejoin="round" stroke-linecap="round"/>
<line x1="219" y1="1495.5" x2="225.5" y2="1466" stroke="#808080" stroke-width="3.6"/>
<line x1="231.5" y1="1495.5" x2="238" y2="1466" stroke="#808080" stroke-width="3.6"/>
<polyline points="247.5,1476.4 248.5,1475.4 249.5,1476.3 250.5,1475.2 251.5,1477 252.5,1477.6 253.5,1475.2 254.5,1473.7 255.5,1475.6 256.5,1475.6 257.5,1476.2 258.8,1477 259.5,1501.5 260,1527 260.6,1504 261.1,1485.2 261.9,1478.5 262.8,1476.8 263.8,1476.1 264.8,1476.5 265.8,1478.5 266.8,1475.6 267.8,1475.7 268.8,1476.4 269.8,1474.4 270.8,1476.8 271.8,1475.5 272.8,1474.8 273.8,1475.3 274.8,1476.5 275.8,1476.8 277.1,1477 277.8,1502 278.3,1528 278.9,1504.6 279.4,1485.4 280.2,1478.5 281.1,1476.8 282.1,1477.2 283.1,1476.5 284.1,1475.4 285.1,1476.6 286.1,1476 287.1,1478.2 288.1,1474.2 289.1,1477.5 290.1,1476.8 291.1,1476.4 292.1,1476 293.1,1475.6 294.1,1475.2 295.1,1474.7 296.3,1477 297,1502 297.5,1528 298.1,1504.6 298.6,1485.4 299.4,1478.5 300.2,1476.8 301.2,1477.9 302.2,1476.9 303.2,1476.7 304.2,1476.4 305.2,1474.4 306.2,1475.8 307.2,1476.2 308.2,1477.1 309.2,1475.2 310.2,1476.3 311.2,1475.9 312.2,1476.1 313.2,1475.4 314.2,1476.4 315.1,1477 315.8,1498.5 316.3,1521 316.9,1500.8 317.4,1484.1 318.2,1478.5 319.1,1476.8 320.1,1476.2 321.1,1474.4 322.1,1477.2 323.1,1478.1 324.1,1475.3 325.1,1477.1" fill="none" stroke="#000" stroke-width="3.2" stroke-linejoin="round" stroke-linecap="round"/>
<polyline points="403.8,1472.3 404.8,1472.7 405.8,1474.5 406.8,1473.2 407.8,1474.3 408.8,1473.3 409.8,1473.9 410.8,1473 411.8,1474.2 412.8,1474.5 413.8,1473.6 414.6,1474 415.3,1501.5 415.8,1530 416.4,1504.3 417,1483.3 417.8,1475.5 418.8,1473.8 419.8,1472.6 420.8,1472.8 421.8,1472.3 422.8,1473.6 423.8,1473.5 424.8,1472.5 425.8,1473.8 426.8,1472.6 427.8,1474.6 428.8,1473.8 429.8,1474.4 430.8,1472.5 431.8,1472.3 432.8,1471.6 434.3,1474 435,1495 435.5,1517 436.1,1497.2 436.7,1480.9 437.5,1475.5 438.5,1473.8 439.5,1473.6 440.5,1472.2 441.5,1474.2 442.5,1473.2 443.5,1473.7 444.5,1472.1 445.5,1472.6 446.5,1473.3 447.5,1473.7 448.5,1472.1 449.5,1473.4 450.5,1472.4 451.5,1473.8 452.5,1472.9 453.3,1474 454,1494 454.5,1515 455.1,1496.1 455.7,1480.6 456.5,1475.5 457.5,1473.8 458.5,1472.9 459.5,1473.5 460.5,1474 461.5,1472.9 462.5,1474.1 463.5,1472.3 464.5,1473.3 465.5,1472.2 466.5,1473.3 467.5,1472.4 468.5,1473.1 469.5,1473.6 470.5,1472.3 472.1,1474 472.8,1493.5 473.3,1514 473.9,1495.5 474.5,1480.4 475.3,1475.5 476.3,1473.8 477.3,1471.7 478.3,1473 479.3,1473.5 480.3,1473.3 481.3,1472.4 482.3,1473.8" fill="none" stroke="#ff2d8d" stroke-width="3" stroke-linejoin="round" stroke-linecap="round"/>
<line x1="486.5" y1="1494.5" x2="493" y2="1465" stroke="#808080" stroke-width="3.6"/>
<line x1="499" y1="1494.5" x2="505.5" y2="1465" stroke="#808080" stroke-width="3.6"/>
<polyline points="513.8,1475.9 514.8,1476.7 515.8,1475.4 516.8,1476.5 517.8,1477 518.8,1475.6 519.8,1475.9 520.8,1476.6 521.8,1476.5 522.8,1476.4 523.8,1476 524.8,1474.9 525.6,1477 526.3,1490 526.8,1504 527.4,1491.4 528,1481 528.8,1478.5 529.8,1476.8 530.8,1476.1 531.8,1475.1 532.8,1476.2 533.8,1474.2 534.8,1477.2 535.8,1477.6 536.8,1476.5 537.8,1475.4 538.8,1475.9 539.8,1476.8 540.8,1476.6 541.8,1475.5 542.8,1477.1 543.8,1476.7 544.6,1477 545.3,1493.2 545.8,1510.5 546.4,1495 547,1482.2 547.8,1478.5 548.8,1476.8 549.8,1476.5 550.8,1475.8 551.8,1476.1 552.8,1475.5 553.8,1476.2 554.8,1475.6 555.8,1477 556.8,1476.1 557.8,1476.3 558.8,1476.4 559.8,1476.4 560.8,1475 561.8,1477.1 563.3,1477 564,1491 564.5,1506 565.1,1492.5 565.7,1481.4 566.5,1478.5 567.5,1476.8 568.5,1476.2 569.5,1475.7 570.5,1475.3 571.5,1475.6 572.5,1475.6 573.5,1476.1 574.5,1475.4 575.5,1476.2 576.5,1476.2 577.5,1475.5 578.5,1477.8 579.5,1476 580.5,1476.4 582.1,1477 582.8,1493 583.3,1510 583.9,1494.7 584.5,1482.1 585.3,1478.5 586.3,1476.8 587.3,1476.2 588.3,1476 589.3,1476.6 590.3,1477.2 591.3,1476 592.3,1475.4 593.3,1476.5" fill="none" stroke="#ff2d8d" stroke-width="3" stroke-linejoin="round" stroke-linecap="round"/>
<text x="449" y="1540" font-size="30.3" font-weight="bold">50 ms</text>
<path d="M470.8 1549.5H480.6V1575.5" fill="none" stroke="#000" stroke-width="2.5" stroke-linejoin="miter" stroke-linecap="round"/>
<text x="495" y="1571" font-size="30.2" font-weight="bold">0.2 nA</text>
<text x="792.3" y="1415" font-size="38" font-weight="bold">GluA2 (Q)/<tspan font-family="Liberation Serif, serif" font-weight="normal" font-style="italic">γ</tspan><tspan font-family="Liberation Serif, serif" font-weight="normal">8</tspan></text>
<path d="M715.1 1629V1660.5M705.1 1629h20M705.1 1660.5h20M716.7 1626.9V1659.9M706.7 1626.9h20M706.7 1659.9h20M718.2 1633.8V1658.2M708.2 1633.8h20M708.2 1658.2h20M719.8 1630.9V1657.9M709.8 1630.9h20M709.8 1657.9h20M721.4 1629.7V1655.9M711.4 1629.7h20M711.4 1655.9h20M722.9 1627.2V1658M712.9 1627.2h20M712.9 1658h20M724.5 1628V1659.3M714.5 1628h20M714.5 1659.3h20M726 1626.6V1653M716 1626.6h20M716 1653h20M727.6 1623.6V1654.5M717.6 1623.6h20M717.6 1654.5h20M729.1 1634.4V1655.4M719.1 1634.4h20M719.1 1655.4h20M730.7 1627.4V1657.3M720.7 1627.4h20M720.7 1657.3h20M732.3 1631.8V1661.8M722.3 1631.8h20M722.3 1661.8h20M733.8 1628.4V1656.9M723.8 1628.4h20M723.8 1656.9h20M735.4 1634.9V1657.3M725.4 1634.9h20M725.4 1657.3h20M736.9 1629.7V1657.8M726.9 1629.7h20M726.9 1657.8h20M738.5 1630.5V1654.5M728.5 1630.5h20M728.5 1654.5h20M740 1626.3V1660.9M730 1626.3h20M730 1660.9h20M741.6 1627.3V1654.5M731.6 1627.3h20M731.6 1654.5h20M743.2 1631.2V1658.8M733.2 1631.2h20M733.2 1658.8h20M744.7 1630.2V1658.2M734.7 1630.2h20M734.7 1658.2h20M746.3 1627.2V1657.9M736.3 1627.2h20M736.3 1657.9h20M747.8 1628.7V1657.5M737.8 1628.7h20M737.8 1657.5h20M749.4 1627.1V1657.9M739.4 1627.1h20M739.4 1657.9h20M751 1630.9V1655.5M741 1630.9h20M741 1655.5h20M752.5 1638.2V1671.3M742.5 1638.2h20M742.5 1671.3h20M754.1 1638.2V1664.6M744.1 1638.2h20M744.1 1664.6h20M755.6 1636.5V1668.2M745.6 1636.5h20M745.6 1668.2h20M757.2 1635.4V1664.8M747.2 1635.4h20M747.2 1664.8h20M758.8 1633V1666M748.8 1633h20M748.8 1666h20M760.3 1639.7V1667.9M750.3 1639.7h20M750.3 1667.9h20M761.9 1643.7V1666M751.9 1643.7h20M751.9 1666h20M763.4 1642.5V1666.2M753.4 1642.5h20M753.4 1666.2h20M765 1641.7V1669.2M755 1641.7h20M755 1669.2h20M766.5 1640.5V1674.8M756.5 1640.5h20M756.5 1674.8h20M768.1 1637V1663.7M758.1 1637h20M758.1 1663.7h20M769.7 1638.7V1667.4M759.7 1638.7h20M759.7 1667.4h20M771.2 1632.5V1666.3M761.2 1632.5h20M761.2 1666.3h20M772.8 1643.1V1669.2M762.8 1643.1h20M762.8 1669.2h20M774.3 1638.2V1668M764.3 1638.2h20M764.3 1668h20M775.9 1637.9V1667.6M765.9 1637.9h20M765.9 1667.6h20M777.5 1639.9V1665.9M767.5 1639.9h20M767.5 1665.9h20M779 1635.8V1665.2M769 1635.8h20M769 1665.2h20M780.6 1636V1668.9M770.6 1636h20M770.6 1668.9h20M782.1 1635.4V1668.3M772.1 1635.4h20M772.1 1668.3h20M783.7 1638.4V1665.5M773.7 1638.4h20M773.7 1665.5h20M785.2 1636.1V1676.8M775.2 1636.1h20M775.2 1676.8h20M786.8 1637.7V1667.6M776.8 1637.7h20M776.8 1667.6h20M788.4 1639.5V1666.8M778.4 1639.5h20M778.4 1666.8h20M789.9 1635.1V1660.6M779.9 1635.1h20M779.9 1660.6h20M791.5 1638.6V1663M781.5 1638.6h20M781.5 1663h20M793 1634.2V1666.1M783 1634.2h20M783 1666.1h20M794.6 1642.4V1658.8M784.6 1642.4h20M784.6 1658.8h20M796.2 1637.8V1665.7M786.2 1637.8h20M786.2 1665.7h20M797.7 1636.8V1659.5M787.7 1636.8h20M787.7 1659.5h20M799.3 1637.9V1665.6M789.3 1637.9h20M789.3 1665.6h20M800.8 1640.4V1668.8M790.8 1640.4h20M790.8 1668.8h20M802.4 1638.8V1661.8M792.4 1638.8h20M792.4 1661.8h20M803.9 1637.1V1661.5M793.9 1637.1h20M793.9 1661.5h20M805.5 1634.1V1667.9M795.5 1634.1h20M795.5 1667.9h20M807.1 1636.7V1662.9M797.1 1636.7h20M797.1 1662.9h20M808.6 1633.7V1662.1M798.6 1633.7h20M798.6 1662.1h20M810.2 1633.4V1660.5M800.2 1633.4h20M800.2 1660.5h20M811.7 1632.3V1664.3M801.7 1632.3h20M801.7 1664.3h20M813.3 1629.8V1663.4M803.3 1629.8h20M803.3 1663.4h20M814.9 1633.3V1665.6M804.9 1633.3h20M804.9 1665.6h20M816.4 1630.3V1661.1M806.4 1630.3h20M806.4 1661.1h20M818 1637.8V1668.6M808 1637.8h20M808 1668.6h20M819.5 1636.2V1659.7M809.5 1636.2h20M809.5 1659.7h20M821.1 1632.4V1666.3M811.1 1632.4h20M811.1 1666.3h20M822.6 1637.1V1663.2M812.6 1637.1h20M812.6 1663.2h20M824.2 1641.4V1666.2M814.2 1641.4h20M814.2 1666.2h20M825.8 1635V1661.9M815.8 1635h20M815.8 1661.9h20M827.3 1639.2V1664.4M817.3 1639.2h20M817.3 1664.4h20M828.9 1638.5V1668.8M818.9 1638.5h20M818.9 1668.8h20M830.4 1636.8V1668.3M820.4 1636.8h20M820.4 1668.3h20M832 1636V1669.9M822 1636h20M822 1669.9h20M833.6 1639.3V1667.4M823.6 1639.3h20M823.6 1667.4h20M835.1 1641.8V1667.8M825.1 1641.8h20M825.1 1667.8h20M836.7 1641.7V1669M826.7 1641.7h20M826.7 1669h20M838.2 1640.4V1664M828.2 1640.4h20M828.2 1664h20M839.8 1640.9V1666.3M829.8 1640.9h20M829.8 1666.3h20M841.3 1630.5V1667.4M831.3 1630.5h20M831.3 1667.4h20M842.9 1641.9V1667.1M832.9 1641.9h20M832.9 1667.1h20M844.5 1638V1664.6M834.5 1638h20M834.5 1664.6h20M846 1633.8V1665M836 1633.8h20M836 1665h20M847.6 1638.4V1667.9M837.6 1638.4h20M837.6 1667.9h20M849.1 1634.6V1666.3M839.1 1634.6h20M839.1 1666.3h20M850.7 1639.4V1664.3M840.7 1639.4h20M840.7 1664.3h20M852.2 1640.8V1664.8M842.2 1640.8h20M842.2 1664.8h20M853.8 1633V1667M843.8 1633h20M843.8 1667h20M855.4 1643V1668.7M845.4 1643h20M845.4 1668.7h20M856.9 1641.7V1669.8M846.9 1641.7h20M846.9 1669.8h20M858.5 1643.7V1673.1M848.5 1643.7h20M848.5 1673.1h20M860 1643.9V1664.7M850 1643.9h20M850 1664.7h20M861.6 1637.9V1665.6M851.6 1637.9h20M851.6 1665.6h20M863.2 1641.4V1667.2M853.2 1641.4h20M853.2 1667.2h20M864.7 1636.6V1667.3M854.7 1636.6h20M854.7 1667.3h20M866.3 1641.4V1668.6M856.3 1641.4h20M856.3 1668.6h20M867.8 1641.3V1660.4M857.8 1641.3h20M857.8 1660.4h20M869.4 1637.7V1669.5M859.4 1637.7h20M859.4 1669.5h20M871 1645V1662.8M861 1645h20M861 1662.8h20M872.5 1635.2V1662M862.5 1635.2h20M862.5 1662h20M874.1 1639.5V1665.1M864.1 1639.5h20M864.1 1665.1h20M875.6 1638.4V1664.3M865.6 1638.4h20M865.6 1664.3h20M877.2 1637.9V1666.3M867.2 1637.9h20M867.2 1666.3h20M878.7 1634.6V1667.1M868.7 1634.6h20M868.7 1667.1h20M880.3 1639.3V1664.1M870.3 1639.3h20M870.3 1664.1h20M881.9 1641.4V1667.3M871.9 1641.4h20M871.9 1667.3h20M883.4 1635.3V1666.9M873.4 1635.3h20M873.4 1666.9h20M885 1635.2V1665.9M875 1635.2h20M875 1665.9h20M886.5 1634.2V1665.7M876.5 1634.2h20M876.5 1665.7h20M888.1 1636.4V1666.3M878.1 1636.4h20M878.1 1666.3h20M889.7 1633V1660.5M879.7 1633h20M879.7 1660.5h20M891.2 1639.5V1665.9M881.2 1639.5h20M881.2 1665.9h20M892.8 1637.4V1663.9M882.8 1637.4h20M882.8 1663.9h20M894.3 1634.4V1666.7M884.3 1634.4h20M884.3 1666.7h20M895.9 1636V1670.7M885.9 1636h20M885.9 1670.7h20M897.4 1635.5V1672.3M887.4 1635.5h20M887.4 1672.3h20M899 1637.1V1661.3M889 1637.1h20M889 1661.3h20M900.6 1635.9V1663.4M890.6 1635.9h20M890.6 1663.4h20M902.1 1636.3V1664.8M892.1 1636.3h20M892.1 1664.8h20M903.7 1639.9V1667.7M893.7 1639.9h20M893.7 1667.7h20M905.2 1639.3V1663.1M895.2 1639.3h20M895.2 1663.1h20M906.8 1631.6V1669.2M896.8 1631.6h20M896.8 1669.2h20M908.4 1632.1V1666.9M898.4 1632.1h20M898.4 1666.9h20M909.9 1633.9V1661.8M899.9 1633.9h20M899.9 1661.8h20M911.5 1636V1662.6M901.5 1636h20M901.5 1662.6h20M913 1634.4V1662.8M903 1634.4h20M903 1662.8h20M914.6 1635.7V1659.1M904.6 1635.7h20M904.6 1659.1h20M916.1 1641.8V1668.9M906.1 1641.8h20M906.1 1668.9h20M917.7 1632.2V1663.9M907.7 1632.2h20M907.7 1663.9h20M919.3 1634.2V1669.7M909.3 1634.2h20M909.3 1669.7h20M920.8 1633.6V1665.9M910.8 1633.6h20M910.8 1665.9h20M922.4 1633.4V1667.3M912.4 1633.4h20M912.4 1667.3h20M923.9 1640.9V1664.9M913.9 1640.9h20M913.9 1664.9h20M925.5 1644.7V1659.6M915.5 1644.7h20M915.5 1659.6h20M927.1 1631.6V1665.8M917.1 1631.6h20M917.1 1665.8h20M928.6 1635.7V1665M918.6 1635.7h20M918.6 1665h20M930.2 1633.5V1661.7M920.2 1633.5h20M920.2 1661.7h20M931.7 1631.6V1667.2M921.7 1631.6h20M921.7 1667.2h20M933.3 1632.6V1657.1M923.3 1632.6h20M923.3 1657.1h20M934.8 1637.8V1662.3M924.8 1637.8h20M924.8 1662.3h20M936.4 1632.6V1658M926.4 1632.6h20M926.4 1658h20M938 1634.1V1669.5M928 1634.1h20M928 1669.5h20M939.5 1633.1V1665.5M929.5 1633.1h20M929.5 1665.5h20M941.1 1637.8V1658.8M931.1 1637.8h20M931.1 1658.8h20M942.6 1635.4V1670.9M932.6 1635.4h20M932.6 1670.9h20M944.2 1638.1V1666.7M934.2 1638.1h20M934.2 1666.7h20M945.8 1634.7V1665M935.8 1634.7h20M935.8 1665h20M947.3 1635V1660.3M937.3 1635h20M937.3 1660.3h20M948.9 1629.5V1665.9M938.9 1629.5h20M938.9 1665.9h20M950.4 1634V1664.4M940.4 1634h20M940.4 1664.4h20M952 1631.1V1665.2M942 1631.1h20M942 1665.2h20M953.5 1641.2V1665.5M943.5 1641.2h20M943.5 1665.5h20M955.1 1636.4V1667.9M945.1 1636.4h20M945.1 1667.9h20M956.7 1632.5V1661.4M946.7 1632.5h20M946.7 1661.4h20M958.2 1637.4V1665M948.2 1637.4h20M948.2 1665h20M959.8 1637.8V1662.8M949.8 1637.8h20M949.8 1662.8h20M961.3 1640.6V1666.1M951.3 1640.6h20M951.3 1666.1h20M962.9 1639V1662.6M952.9 1639h20M952.9 1662.6h20M964.5 1641.3V1667M954.5 1641.3h20M954.5 1667h20M966 1635.3V1663.7M956 1635.3h20M956 1663.7h20M967.6 1632.3V1663.2M957.6 1632.3h20M957.6 1663.2h20M969.1 1639.4V1661.3M959.1 1639.4h20M959.1 1661.3h20M970.7 1638.7V1662.8M960.7 1638.7h20M960.7 1662.8h20M972.2 1639.1V1665M962.2 1639.1h20M962.2 1665h20M973.8 1639.9V1661.4M963.8 1639.9h20M963.8 1661.4h20M975.4 1640.7V1667.9M965.4 1640.7h20M965.4 1667.9h20M976.9 1639.4V1666.7M966.9 1639.4h20M966.9 1666.7h20M978.5 1634V1661.7M968.5 1634h20M968.5 1661.7h20M980 1639.4V1669.6M970 1639.4h20M970 1669.6h20M981.6 1636.4V1668.9M971.6 1636.4h20M971.6 1668.9h20M983.2 1638.5V1670.4M973.2 1638.5h20M973.2 1670.4h20M984.7 1633.4V1663.1M974.7 1633.4h20M974.7 1663.1h20M986.3 1635.6V1666.6M976.3 1635.6h20M976.3 1666.6h20M987.8 1640.4V1665.5M977.8 1640.4h20M977.8 1665.5h20M989.4 1641.3V1665.8M979.4 1641.3h20M979.4 1665.8h20M990.9 1633V1664.2M980.9 1633h20M980.9 1664.2h20M992.5 1633.5V1664.4M982.5 1633.5h20M982.5 1664.4h20M994.1 1629.8V1667.6M984.1 1629.8h20M984.1 1667.6h20M995.6 1637V1664.6M985.6 1637h20M985.6 1664.6h20M997.2 1636.6V1660.9M987.2 1636.6h20M987.2 1660.9h20M998.7 1632.9V1662.6M988.7 1632.9h20M988.7 1662.6h20M1000.3 1635.4V1662M990.3 1635.4h20M990.3 1662h20M1001.9 1641V1665.7M991.9 1641h20M991.9 1665.7h20M1003.4 1637.8V1672.1M993.4 1637.8h20M993.4 1672.1h20M1005 1636V1672.6M995 1636h20M995 1672.6h20M1006.5 1635.6V1665.7M996.5 1635.6h20M996.5 1665.7h20M1008.1 1642V1667.7M998.1 1642h20M998.1 1667.7h20M1009.6 1638.7V1668.3M999.6 1638.7h20M999.6 1668.3h20M1011.2 1637.1V1665.4M1001.2 1637.1h20M1001.2 1665.4h20M1012.8 1642.5V1665.1M1002.8 1642.5h20M1002.8 1665.1h20M1014.3 1638.1V1670.2M1004.3 1638.1h20M1004.3 1670.2h20M1015.9 1633.5V1663.5M1005.9 1633.5h20M1005.9 1663.5h20M1017.4 1633V1666.8M1007.4 1633h20M1007.4 1666.8h20M1019 1636.6V1662.8M1009 1636.6h20M1009 1662.8h20M1020.6 1634.9V1663.3M1010.6 1634.9h20M1010.6 1663.3h20M1022.1 1634.5V1662.6M1012.1 1634.5h20M1012.1 1662.6h20M1023.7 1640.8V1662M1013.7 1640.8h20M1013.7 1662h20M1025.2 1632.8V1671.9M1015.2 1632.8h20M1015.2 1671.9h20M1026.8 1646.7V1666.3M1016.8 1646.7h20M1016.8 1666.3h20M1028.3 1642V1665.6M1018.3 1642h20M1018.3 1665.6h20M1029.9 1640.5V1667.5M1019.9 1640.5h20M1019.9 1667.5h20M1031.5 1639.4V1661.2M1021.5 1639.4h20M1021.5 1661.2h20M1033 1635.6V1665.9M1023 1635.6h20M1023 1665.9h20M1034.6 1635.9V1662.5M1024.6 1635.9h20M1024.6 1662.5h20M1036.1 1635V1663.9M1026.1 1635h20M1026.1 1663.9h20M1037.7 1635V1664.6M1027.7 1635h20M1027.7 1664.6h20M1039.2 1637.3V1666.1M1029.2 1637.3h20M1029.2 1666.1h20M1040.8 1637.5V1666.4M1030.8 1637.5h20M1030.8 1666.4h20M1042.4 1639V1666.9M1032.4 1639h20M1032.4 1666.9h20M1043.9 1636.9V1667.2M1033.9 1636.9h20M1033.9 1667.2h20M1045.5 1637.8V1669.7M1035.5 1637.8h20M1035.5 1669.7h20M1047 1636.5V1664M1037 1636.5h20M1037 1664h20M1048.6 1638V1664.7M1038.6 1638h20M1038.6 1664.7h20M1050.2 1641.8V1668.7M1040.2 1641.8h20M1040.2 1668.7h20M1051.7 1641.4V1671.3M1041.7 1641.4h20M1041.7 1671.3h20M1053.3 1638.2V1665.2M1043.3 1638.2h20M1043.3 1665.2h20M1054.8 1637.8V1664.7M1044.8 1637.8h20M1044.8 1664.7h20M1056.4 1640.2V1662.3M1046.4 1640.2h20M1046.4 1662.3h20M1058 1629.7V1666.5M1048 1629.7h20M1048 1666.5h20M1059.5 1639.6V1662.9M1049.5 1639.6h20M1049.5 1662.9h20M1061.1 1635.5V1671.2M1051.1 1635.5h20M1051.1 1671.2h20M1062.6 1635.1V1667.1M1052.6 1635.1h20M1052.6 1667.1h20M1064.2 1632.4V1665.4M1054.2 1632.4h20M1054.2 1665.4h20M1065.7 1632.2V1661.9M1055.7 1632.2h20M1055.7 1661.9h20M1067.3 1638.5V1669.2M1057.3 1638.5h20M1057.3 1669.2h20M1068.9 1636.9V1666.8M1058.9 1636.9h20M1058.9 1666.8h20M1070.4 1637.4V1668.6M1060.4 1637.4h20M1060.4 1668.6h20M1072 1631.8V1664M1062 1631.8h20M1062 1664h20M1073.5 1632.3V1667.4M1063.5 1632.3h20M1063.5 1667.4h20M1075.1 1639.1V1663.5M1065.1 1639.1h20M1065.1 1663.5h20M1076.7 1634.5V1665.2M1066.7 1634.5h20M1066.7 1665.2h20M1078.2 1634.4V1669.9M1068.2 1634.4h20M1068.2 1669.9h20M1079.8 1635V1669.6M1069.8 1635h20M1069.8 1669.6h20M1081.3 1640.1V1664.3M1071.3 1640.1h20M1071.3 1664.3h20M1082.9 1639.1V1669.1M1072.9 1639.1h20M1072.9 1669.1h20M1084.4 1637.6V1667.4M1074.4 1637.6h20M1074.4 1667.4h20M1086 1636.6V1666.3M1076 1636.6h20M1076 1666.3h20M1087.6 1642.2V1661.2M1077.6 1642.2h20M1077.6 1661.2h20M1089.1 1632.3V1664.6M1079.1 1632.3h20M1079.1 1664.6h20M1090.7 1639.3V1661.1M1080.7 1639.3h20M1080.7 1661.1h20M1092.2 1633.6V1671.7M1082.2 1633.6h20M1082.2 1671.7h20M1093.8 1641.6V1673.1M1083.8 1641.6h20M1083.8 1673.1h20M1095.4 1641.5V1669.8M1085.4 1641.5h20M1085.4 1669.8h20M1096.9 1638V1669.4M1086.9 1638h20M1086.9 1669.4h20M1098.5 1638.6V1667.9M1088.5 1638.6h20M1088.5 1667.9h20M1100 1642.3V1668.7M1090 1642.3h20M1090 1668.7h20M1101.6 1638.7V1667M1091.6 1638.7h20M1091.6 1667h20M1103.1 1636.7V1666.9M1093.1 1636.7h20M1093.1 1666.9h20M1104.7 1640.7V1666M1094.7 1640.7h20M1094.7 1666h20M1106.3 1636.8V1668.6M1096.3 1636.8h20M1096.3 1668.6h20M1107.8 1634.9V1668.4M1097.8 1634.9h20M1097.8 1668.4h20M1109.4 1636.1V1669.4M1099.4 1636.1h20M1099.4 1669.4h20M1110.9 1636.5V1670.3M1100.9 1636.5h20M1100.9 1670.3h20M1112.5 1635V1669.3M1102.5 1635h20M1102.5 1669.3h20M1114.1 1634.6V1666.3M1104.1 1634.6h20M1104.1 1666.3h20M1115.6 1635.5V1669.9M1105.6 1635.5h20M1105.6 1669.9h20M1117.2 1640.5V1669.5M1107.2 1640.5h20M1107.2 1669.5h20M1118.7 1638.1V1668.6M1108.7 1638.1h20M1108.7 1668.6h20M1120.3 1632V1666.8M1110.3 1632h20M1110.3 1666.8h20M1121.8 1635.2V1672.2M1111.8 1635.2h20M1111.8 1672.2h20M1123.4 1635V1662.2M1113.4 1635h20M1113.4 1662.2h20M1125 1641.3V1663.8M1115 1641.3h20M1115 1663.8h20M1126.5 1631.7V1669.7M1116.5 1631.7h20M1116.5 1669.7h20M1128.1 1635.8V1669.5M1118.1 1635.8h20M1118.1 1669.5h20M1129.6 1631.2V1667.9M1119.6 1631.2h20M1119.6 1667.9h20M1131.2 1635V1667.7M1121.2 1635h20M1121.2 1667.7h20M1132.8 1635.7V1665.5M1122.8 1635.7h20M1122.8 1665.5h20M1134.3 1642.7V1668.7M1124.3 1642.7h20M1124.3 1668.7h20M1135.9 1637.3V1661.9M1125.9 1637.3h20M1125.9 1661.9h20M1137.4 1636.9V1671.9M1127.4 1636.9h20M1127.4 1671.9h20M1139 1634.5V1667.5M1129 1634.5h20M1129 1667.5h20M1140.5 1634.3V1664.4M1130.5 1634.3h20M1130.5 1664.4h20M1142.1 1639.5V1663.5M1132.1 1639.5h20M1132.1 1663.5h20M1143.7 1637.3V1663.8M1133.7 1637.3h20M1133.7 1663.8h20M1145.2 1638.1V1664.2M1135.2 1638.1h20M1135.2 1664.2h20M1146.8 1637.3V1664.7M1136.8 1637.3h20M1136.8 1664.7h20M1148.3 1645.3V1661.6M1138.3 1645.3h20M1138.3 1661.6h20M1149.9 1633.7V1663.4M1139.9 1633.7h20M1139.9 1663.4h20M1151.5 1630.6V1666.1M1141.5 1630.6h20M1141.5 1666.1h20M1153 1639.1V1665.5M1143 1639.1h20M1143 1665.5h20M1154.6 1638.9V1667.8M1144.6 1638.9h20M1144.6 1667.8h20M1156.1 1635.2V1665.1M1146.1 1635.2h20M1146.1 1665.1h20M1157.7 1639.8V1664.3M1147.7 1639.8h20M1147.7 1664.3h20M1159.2 1634.3V1664.9M1149.2 1634.3h20M1149.2 1664.9h20M1160.8 1636.1V1661.3M1150.8 1636.1h20M1150.8 1661.3h20M1162.4 1636V1662.9M1152.4 1636h20M1152.4 1662.9h20M1163.9 1632.5V1662.4M1153.9 1632.5h20M1153.9 1662.4h20M1165.5 1634.9V1663.4M1155.5 1634.9h20M1155.5 1663.4h20M1167 1638.1V1667.3M1157 1638.1h20M1157 1667.3h20M1168.6 1639.5V1664.3M1158.6 1639.5h20M1158.6 1664.3h20M1170.2 1633.3V1665.2M1160.2 1633.3h20M1160.2 1665.2h20M1171.7 1634.3V1658.3M1161.7 1634.3h20M1161.7 1658.3h20M1173.3 1635.4V1667.8M1163.3 1635.4h20M1163.3 1667.8h20M1174.8 1638.9V1665.6M1164.8 1638.9h20M1164.8 1665.6h20M1176.4 1635V1658.7M1166.4 1635h20M1166.4 1658.7h20M1177.9 1635.9V1664.3M1167.9 1635.9h20M1167.9 1664.3h20" fill="none" stroke="#ff2d8d" stroke-width="1.5"/>
<path d="M715.1 1644.8h0M716.7 1643.4h0M718.2 1646h0M719.8 1644.4h0M721.4 1642.8h0M722.9 1642.6h0M724.5 1643.6h0M726 1639.8h0M727.6 1639h0M729.1 1644.9h0M730.7 1642.4h0M732.3 1646.8h0M733.8 1642.7h0M735.4 1646.1h0M736.9 1643.7h0M738.5 1642.5h0M740 1643.6h0M741.6 1640.9h0M743.2 1645h0M744.7 1644.2h0M746.3 1642.5h0M747.8 1643.1h0M749.4 1642.5h0M751 1643.2h0M752.5 1654.8h0M754.1 1651.4h0M755.6 1652.4h0M757.2 1650.1h0M758.8 1649.5h0M760.3 1653.8h0M761.9 1654.8h0M763.4 1654.4h0M765 1655.4h0M766.5 1657.7h0M768.1 1650.4h0M769.7 1653h0M771.2 1649.4h0M772.8 1656.1h0M774.3 1653.1h0M775.9 1652.7h0M777.5 1652.9h0M779 1650.5h0M780.6 1652.5h0M782.1 1651.9h0M783.7 1651.9h0M785.2 1656.5h0M786.8 1652.7h0M788.4 1653.1h0M789.9 1647.8h0M791.5 1650.8h0M793 1650.1h0M794.6 1650.6h0M796.2 1651.8h0M797.7 1648.1h0M799.3 1651.8h0M800.8 1654.6h0M802.4 1650.3h0M803.9 1649.3h0M805.5 1651h0M807.1 1649.8h0M808.6 1647.9h0M810.2 1647h0M811.7 1648.3h0M813.3 1646.6h0M814.9 1649.4h0M816.4 1645.7h0M818 1653.2h0M819.5 1648h0M821.1 1649.3h0M822.6 1650.1h0M824.2 1653.8h0M825.8 1648.5h0M827.3 1651.8h0M828.9 1653.6h0M830.4 1652.6h0M832 1653h0M833.6 1653.4h0M835.1 1654.8h0M836.7 1655.4h0M838.2 1652.2h0M839.8 1653.6h0M841.3 1649h0M842.9 1654.5h0M844.5 1651.3h0M846 1649.4h0M847.6 1653.1h0M849.1 1650.5h0M850.7 1651.8h0M852.2 1652.8h0M853.8 1650h0M855.4 1655.8h0M856.9 1655.8h0M858.5 1658.4h0M860 1654.3h0M861.6 1651.8h0M863.2 1654.3h0M864.7 1651.9h0M866.3 1655h0M867.8 1650.8h0M869.4 1653.6h0M871 1653.9h0M872.5 1648.6h0M874.1 1652.3h0M875.6 1651.3h0M877.2 1652.1h0M878.7 1650.9h0M880.3 1651.7h0M881.9 1654.4h0M883.4 1651.1h0M885 1650.5h0M886.5 1649.9h0M888.1 1651.4h0M889.7 1646.7h0M891.2 1652.7h0M892.8 1650.7h0M894.3 1650.6h0M895.9 1653.4h0M897.4 1653.9h0M899 1649.2h0M900.6 1649.7h0M902.1 1650.5h0M903.7 1653.8h0M905.2 1651.2h0M906.8 1650.4h0M908.4 1649.5h0M909.9 1647.8h0M911.5 1649.3h0M913 1648.6h0M914.6 1647.4h0M916.1 1655.3h0M917.7 1648.1h0M919.3 1651.9h0M920.8 1649.8h0M922.4 1650.3h0M923.9 1652.9h0M925.5 1652.1h0M927.1 1648.7h0M928.6 1650.4h0M930.2 1647.6h0M931.7 1649.4h0M933.3 1644.8h0M934.8 1650h0M936.4 1645.3h0M938 1651.8h0M939.5 1649.3h0M941.1 1648.3h0M942.6 1653.1h0M944.2 1652.4h0M945.8 1649.9h0M947.3 1647.6h0M948.9 1647.7h0M950.4 1649.2h0M952 1648.2h0M953.5 1653.3h0M955.1 1652.1h0M956.7 1646.9h0M958.2 1651.2h0M959.8 1650.3h0M961.3 1653.3h0M962.9 1650.8h0M964.5 1654.1h0M966 1649.5h0M967.6 1647.8h0M969.1 1650.4h0M970.7 1650.8h0M972.2 1652.1h0M973.8 1650.6h0M975.4 1654.3h0M976.9 1653.1h0M978.5 1647.9h0M980 1654.5h0M981.6 1652.7h0M983.2 1654.5h0M984.7 1648.2h0M986.3 1651.1h0M987.8 1652.9h0M989.4 1653.6h0M990.9 1648.6h0M992.5 1648.9h0M994.1 1648.7h0M995.6 1650.8h0M997.2 1648.8h0M998.7 1647.7h0M1000.3 1648.7h0M1001.9 1653.4h0M1003.4 1655h0M1005 1654.3h0M1006.5 1650.6h0M1008.1 1654.9h0M1009.6 1653.5h0M1011.2 1651.2h0M1012.8 1653.8h0M1014.3 1654.1h0M1015.9 1648.5h0M1017.4 1649.9h0M1019 1649.7h0M1020.6 1649.1h0M1022.1 1648.6h0M1023.7 1651.4h0M1025.2 1652.4h0M1026.8 1656.5h0M1028.3 1653.8h0M1029.9 1654h0M1031.5 1650.3h0M1033 1650.8h0M1034.6 1649.2h0M1036.1 1649.4h0M1037.7 1649.8h0M1039.2 1651.7h0M1040.8 1652h0M1042.4 1652.9h0M1043.9 1652.1h0M1045.5 1653.8h0M1047 1650.3h0M1048.6 1651.4h0M1050.2 1655.2h0M1051.7 1656.3h0M1053.3 1651.7h0M1054.8 1651.2h0M1056.4 1651.3h0M1058 1648.1h0M1059.5 1651.3h0M1061.1 1653.4h0M1062.6 1651.1h0M1064.2 1648.9h0M1065.7 1647h0M1067.3 1653.8h0M1068.9 1651.9h0M1070.4 1653h0M1072 1647.9h0M1073.5 1649.9h0M1075.1 1651.3h0M1076.7 1649.8h0M1078.2 1652.2h0M1079.8 1652.3h0M1081.3 1652.2h0M1082.9 1654.1h0M1084.4 1652.5h0M1086 1651.4h0M1087.6 1651.7h0M1089.1 1648.5h0M1090.7 1650.2h0M1092.2 1652.7h0M1093.8 1657.4h0M1095.4 1655.7h0M1096.9 1653.7h0M1098.5 1653.2h0M1100 1655.5h0M1101.6 1652.9h0M1103.1 1651.8h0M1104.7 1653.4h0M1106.3 1652.7h0M1107.8 1651.7h0M1109.4 1652.7h0M1110.9 1653.4h0M1112.5 1652.1h0M1114.1 1650.5h0M1115.6 1652.7h0M1117.2 1655h0M1118.7 1653.3h0M1120.3 1649.4h0M1121.8 1653.7h0M1123.4 1648.6h0M1125 1652.5h0M1126.5 1650.7h0M1128.1 1652.7h0M1129.6 1649.6h0M1131.2 1651.3h0M1132.8 1650.6h0M1134.3 1655.7h0M1135.9 1649.6h0M1137.4 1654.4h0M1139 1651h0M1140.5 1649.4h0M1142.1 1651.5h0M1143.7 1650.5h0M1145.2 1651.2h0M1146.8 1651h0M1148.3 1653.4h0M1149.9 1648.6h0M1151.5 1648.4h0M1153 1652.3h0M1154.6 1653.4h0M1156.1 1650.2h0M1157.7 1652h0M1159.2 1649.6h0M1160.8 1648.7h0M1162.4 1649.5h0M1163.9 1647.4h0M1165.5 1649.1h0M1167 1652.7h0M1168.6 1651.9h0M1170.2 1649.2h0M1171.7 1646.3h0M1173.3 1651.6h0M1174.8 1652.3h0M1176.4 1646.8h0M1177.9 1650.1h0" fill="none" stroke="#ff2d8d" stroke-width="8.5" stroke-linecap="round"/>
<path d="M715.1 1691.3V1700.9M710.1 1691.3h10M710.1 1700.9h10M716.7 1686.4V1692.5M711.7 1686.4h10M711.7 1692.5h10M718.2 1696.6V1702.8M713.2 1696.6h10M713.2 1702.8h10M719.8 1695.5V1703.7M714.8 1695.5h10M714.8 1703.7h10M721.4 1692.1V1699.4M716.4 1692.1h10M716.4 1699.4h10M722.9 1699.6V1709.3M717.9 1699.6h10M717.9 1709.3h10M724.5 1696.5V1699.5M719.5 1696.5h10M719.5 1699.5h10M726 1698.2V1708.7M721 1698.2h10M721 1708.7h10M727.6 1710.5V1716.7M722.6 1710.5h10M722.6 1716.7h10M729.1 1721.6V1732.9M724.1 1721.6h10M724.1 1732.9h10M730.7 1691.5V1702M725.7 1691.5h10M725.7 1702h10M732.3 1699V1703.7M727.3 1699h10M727.3 1703.7h10M733.8 1708.5V1716M728.8 1708.5h10M728.8 1716h10M735.4 1701.6V1710.9M730.4 1701.6h10M730.4 1710.9h10M736.9 1691.4V1696.9M731.9 1691.4h10M731.9 1696.9h10M738.5 1718.3V1724M733.5 1718.3h10M733.5 1724h10M740 1710.2V1717M735 1710.2h10M735 1717h10M741.6 1695.9V1705.4M736.6 1695.9h10M736.6 1705.4h10M743.2 1694.3V1704.2M738.2 1694.3h10M738.2 1704.2h10M744.7 1728.1V1734.7M739.7 1728.1h10M739.7 1734.7h10M746.3 1710.2V1719.9M741.3 1710.2h10M741.3 1719.9h10M747.8 1699.7V1711.1M742.8 1699.7h10M742.8 1711.1h10M749.4 1690.1V1700.1M744.4 1690.1h10M744.4 1700.1h10M751 1705.8V1711.5M746 1705.8h10M746 1711.5h10M752.5 1725.9V1731.4M747.5 1725.9h10M747.5 1731.4h10M754.1 1695.1V1703.4M749.1 1695.1h10M749.1 1703.4h10M755.6 1704.1V1713.8M750.6 1704.1h10M750.6 1713.8h10M757.2 1707.2V1715.9M752.2 1707.2h10M752.2 1715.9h10M758.8 1714.5V1721.2M753.8 1714.5h10M753.8 1721.2h10M760.3 1694.2V1699.4M755.3 1694.2h10M755.3 1699.4h10M761.9 1700.5V1711.3M756.9 1700.5h10M756.9 1711.3h10M763.4 1699.9V1707.1M758.4 1699.9h10M758.4 1707.1h10M765 1698.2V1710.6M760 1698.2h10M760 1710.6h10M766.5 1700.8V1705.5M761.5 1700.8h10M761.5 1705.5h10M768.1 1701.8V1708.6M763.1 1701.8h10M763.1 1708.6h10M769.7 1688.3V1694.3M764.7 1688.3h10M764.7 1694.3h10M771.2 1710V1722.3M766.2 1710h10M766.2 1722.3h10M772.8 1701.4V1712.2M767.8 1701.4h10M767.8 1712.2h10M774.3 1707.3V1713.6M769.3 1707.3h10M769.3 1713.6h10M775.9 1692.1V1694.8M770.9 1692.1h10M770.9 1694.8h10M777.5 1704.6V1715.2M772.5 1704.6h10M772.5 1715.2h10M779 1718.9V1726.9M774 1718.9h10M774 1726.9h10M780.6 1706.1V1710.9M775.6 1706.1h10M775.6 1710.9h10M782.1 1712.5V1716.3M777.1 1712.5h10M777.1 1716.3h10M783.7 1710.3V1719M778.7 1710.3h10M778.7 1719h10M785.2 1709.7V1716.8M780.2 1709.7h10M780.2 1716.8h10M786.8 1725.2V1733.2M781.8 1725.2h10M781.8 1733.2h10M788.4 1720.8V1729.4M783.4 1720.8h10M783.4 1729.4h10M789.9 1689.5V1696.2M784.9 1689.5h10M784.9 1696.2h10M791.5 1705.8V1712.8M786.5 1705.8h10M786.5 1712.8h10M793 1710.5V1719.7M788 1710.5h10M788 1719.7h10M794.6 1705.6V1712.9M789.6 1705.6h10M789.6 1712.9h10M796.2 1692.1V1699M791.2 1692.1h10M791.2 1699h10M797.7 1717.3V1726.5M792.7 1717.3h10M792.7 1726.5h10M799.3 1707.8V1710.4M794.3 1707.8h10M794.3 1710.4h10M800.8 1696.7V1707.4M795.8 1696.7h10M795.8 1707.4h10M802.4 1708.3V1717.1M797.4 1708.3h10M797.4 1717.1h10M803.9 1699.3V1705M798.9 1699.3h10M798.9 1705h10M805.5 1711.6V1718.8M800.5 1711.6h10M800.5 1718.8h10M807.1 1705.4V1716.1M802.1 1705.4h10M802.1 1716.1h10M808.6 1716.3V1725.4M803.6 1716.3h10M803.6 1725.4h10M810.2 1700.3V1703.4M805.2 1700.3h10M805.2 1703.4h10M811.7 1701.9V1707M806.7 1701.9h10M806.7 1707h10M813.3 1707.6V1715.7M808.3 1707.6h10M808.3 1715.7h10M814.9 1703V1715.1M809.9 1703h10M809.9 1715.1h10M816.4 1718.3V1727.9M811.4 1718.3h10M811.4 1727.9h10M818 1684.3V1691.4M813 1684.3h10M813 1691.4h10M819.5 1704.3V1713.4M814.5 1704.3h10M814.5 1713.4h10M821.1 1705.2V1712.9M816.1 1705.2h10M816.1 1712.9h10M822.6 1700.6V1707.4M817.6 1700.6h10M817.6 1707.4h10M824.2 1696.8V1705.4M819.2 1696.8h10M819.2 1705.4h10M825.8 1700.5V1702.7M820.8 1700.5h10M820.8 1702.7h10M827.3 1706.3V1716.5M822.3 1706.3h10M822.3 1716.5h10M828.9 1714.3V1723.3M823.9 1714.3h10M823.9 1723.3h10M830.4 1703.3V1709.8M825.4 1703.3h10M825.4 1709.8h10M832 1709.8V1715.3M827 1709.8h10M827 1715.3h10M833.6 1708.1V1712.7M828.6 1708.1h10M828.6 1712.7h10M835.1 1702V1710.3M830.1 1702h10M830.1 1710.3h10M836.7 1701.1V1709.1M831.7 1701.1h10M831.7 1709.1h10M838.2 1692.5V1700.6M833.2 1692.5h10M833.2 1700.6h10M839.8 1701.1V1713M834.8 1701.1h10M834.8 1713h10M841.3 1719.7V1721.7M836.3 1719.7h10M836.3 1721.7h10M842.9 1698.1V1704M837.9 1698.1h10M837.9 1704h10M844.5 1695.4V1701.1M839.5 1695.4h10M839.5 1701.1h10M846 1716.1V1726.1M841 1716.1h10M841 1726.1h10M847.6 1698.9V1705.9M842.6 1698.9h10M842.6 1705.9h10M849.1 1703.4V1708.6M844.1 1703.4h10M844.1 1708.6h10M850.7 1708.1V1716.3M845.7 1708.1h10M845.7 1716.3h10M852.2 1700.5V1709.2M847.2 1700.5h10M847.2 1709.2h10M853.8 1697.3V1709M848.8 1697.3h10M848.8 1709h10M855.4 1696.9V1705.2M850.4 1696.9h10M850.4 1705.2h10M856.9 1692.6V1699.2M851.9 1692.6h10M851.9 1699.2h10M858.5 1701V1707.4M853.5 1701h10M853.5 1707.4h10M860 1701.6V1707.2M855 1701.6h10M855 1707.2h10M861.6 1680V1688.9M856.6 1680h10M856.6 1688.9h10M863.2 1710.7V1720.4M858.2 1710.7h10M858.2 1720.4h10M864.7 1704.2V1711.3M859.7 1704.2h10M859.7 1711.3h10M866.3 1705V1712.3M861.3 1705h10M861.3 1712.3h10M867.8 1692.9V1704M862.8 1692.9h10M862.8 1704h10M869.4 1693.2V1701.1M864.4 1693.2h10M864.4 1701.1h10M871 1712.8V1721.7M866 1712.8h10M866 1721.7h10M872.5 1692.9V1697.8M867.5 1692.9h10M867.5 1697.8h10M874.1 1712.8V1719M869.1 1712.8h10M869.1 1719h10M875.6 1681.5V1683.7M870.6 1681.5h10M870.6 1683.7h10M877.2 1711.3V1715.4M872.2 1711.3h10M872.2 1715.4h10M878.7 1693.6V1702.2M873.7 1693.6h10M873.7 1702.2h10M880.3 1704.9V1715.7M875.3 1704.9h10M875.3 1715.7h10M881.9 1713V1719.9M876.9 1713h10M876.9 1719.9h10M883.4 1711.7V1716.3M878.4 1711.7h10M878.4 1716.3h10M885 1702V1709.8M880 1702h10M880 1709.8h10M886.5 1702.5V1713.1M881.5 1702.5h10M881.5 1713.1h10M888.1 1703.9V1711.1M883.1 1703.9h10M883.1 1711.1h10M889.7 1696.9V1706.9M884.7 1696.9h10M884.7 1706.9h10M891.2 1708V1715.4M886.2 1708h10M886.2 1715.4h10M892.8 1709.4V1713.9M887.8 1709.4h10M887.8 1713.9h10M894.3 1718.3V1723.7M889.3 1718.3h10M889.3 1723.7h10M895.9 1706.8V1713.8M890.9 1706.8h10M890.9 1713.8h10M897.4 1707.1V1720.5M892.4 1707.1h10M892.4 1720.5h10M899 1695.7V1704.8M894 1695.7h10M894 1704.8h10M900.6 1699.1V1706.2M895.6 1699.1h10M895.6 1706.2h10M902.1 1722.5V1730.8M897.1 1722.5h10M897.1 1730.8h10M903.7 1700.4V1708.6M898.7 1700.4h10M898.7 1708.6h10M905.2 1693.2V1699.7M900.2 1693.2h10M900.2 1699.7h10M906.8 1706V1713.3M901.8 1706h10M901.8 1713.3h10M908.4 1714.2V1721.2M903.4 1714.2h10M903.4 1721.2h10M909.9 1681.2V1690.7M904.9 1681.2h10M904.9 1690.7h10M911.5 1695.8V1707.4M906.5 1695.8h10M906.5 1707.4h10M913 1695V1706M908 1695h10M908 1706h10M914.6 1682.5V1689.3M909.6 1682.5h10M909.6 1689.3h10M916.1 1708.6V1717.6M911.1 1708.6h10M911.1 1717.6h10M917.7 1700.8V1706.6M912.7 1700.8h10M912.7 1706.6h10M919.3 1728.8V1733.6M914.3 1728.8h10M914.3 1733.6h10M920.8 1697.5V1705.3M915.8 1697.5h10M915.8 1705.3h10M922.4 1697.6V1706.7M917.4 1697.6h10M917.4 1706.7h10M923.9 1707.6V1715.1M918.9 1707.6h10M918.9 1715.1h10M925.5 1707.5V1717.2M920.5 1707.5h10M920.5 1717.2h10M927.1 1701.5V1711.2M922.1 1701.5h10M922.1 1711.2h10M928.6 1702.3V1711.8M923.6 1702.3h10M923.6 1711.8h10M930.2 1687.6V1694.9M925.2 1687.6h10M925.2 1694.9h10M931.7 1704.6V1708.8M926.7 1704.6h10M926.7 1708.8h10M933.3 1699.6V1711.8M928.3 1699.6h10M928.3 1711.8h10M934.8 1702.2V1708.6M929.8 1702.2h10M929.8 1708.6h10M936.4 1711.4V1720.9M931.4 1711.4h10M931.4 1720.9h10M938 1703.4V1712.3M933 1703.4h10M933 1712.3h10M939.5 1711.6V1718.4M934.5 1711.6h10M934.5 1718.4h10M941.1 1696V1708.2M936.1 1696h10M936.1 1708.2h10M942.6 1718.3V1727.6M937.6 1718.3h10M937.6 1727.6h10M944.2 1709.4V1717M939.2 1709.4h10M939.2 1717h10M945.8 1699.3V1705.9M940.8 1699.3h10M940.8 1705.9h10M947.3 1720.8V1726M942.3 1720.8h10M942.3 1726h10M948.9 1717.7V1722.2M943.9 1717.7h10M943.9 1722.2h10M950.4 1693.1V1702.2M945.4 1693.1h10M945.4 1702.2h10M952 1714.6V1721.1M947 1714.6h10M947 1721.1h10M953.5 1703.4V1709.9M948.5 1703.4h10M948.5 1709.9h10M955.1 1700.6V1709.5M950.1 1700.6h10M950.1 1709.5h10M956.7 1714V1720.7M951.7 1714h10M951.7 1720.7h10M958.2 1718.7V1728M953.2 1718.7h10M953.2 1728h10M959.8 1691.8V1697.8M954.8 1691.8h10M954.8 1697.8h10M961.3 1711.2V1717.6M956.3 1711.2h10M956.3 1717.6h10M962.9 1701V1711M957.9 1701h10M957.9 1711h10M964.5 1713.3V1719.2M959.5 1713.3h10M959.5 1719.2h10M966 1701.6V1710.8M961 1701.6h10M961 1710.8h10M967.6 1716.4V1725.3M962.6 1716.4h10M962.6 1725.3h10M969.1 1716.5V1724.1M964.1 1716.5h10M964.1 1724.1h10M970.7 1714.2V1717.7M965.7 1714.2h10M965.7 1717.7h10M972.2 1709.7V1714M967.2 1709.7h10M967.2 1714h10M973.8 1710.4V1715.3M968.8 1710.4h10M968.8 1715.3h10M975.4 1708.2V1712.6M970.4 1708.2h10M970.4 1712.6h10M976.9 1698.7V1708.5M971.9 1698.7h10M971.9 1708.5h10M978.5 1709.1V1714.6M973.5 1709.1h10M973.5 1714.6h10M980 1697.4V1701.9M975 1697.4h10M975 1701.9h10M981.6 1709.9V1716.2M976.6 1709.9h10M976.6 1716.2h10M983.2 1711.8V1719.2M978.2 1711.8h10M978.2 1719.2h10M984.7 1693V1696.5M979.7 1693h10M979.7 1696.5h10M986.3 1686.7V1695.9M981.3 1686.7h10M981.3 1695.9h10M987.8 1718.5V1728M982.8 1718.5h10M982.8 1728h10M989.4 1687.2V1693.3M984.4 1687.2h10M984.4 1693.3h10M990.9 1716.4V1726.1M985.9 1716.4h10M985.9 1726.1h10M992.5 1692.6V1696.3M987.5 1692.6h10M987.5 1696.3h10M994.1 1704.3V1710.6M989.1 1704.3h10M989.1 1710.6h10M995.6 1700.8V1708.1M990.6 1700.8h10M990.6 1708.1h10M997.2 1711.2V1719.1M992.2 1711.2h10M992.2 1719.1h10M998.7 1693.6V1704.1M993.7 1693.6h10M993.7 1704.1h10M1000.3 1697.7V1704.5M995.3 1697.7h10M995.3 1704.5h10M1001.9 1708.6V1713.7M996.9 1708.6h10M996.9 1713.7h10M1003.4 1709.2V1717.4M998.4 1709.2h10M998.4 1717.4h10M1005 1696.9V1704.9M1000 1696.9h10M1000 1704.9h10M1006.5 1696.1V1704.8M1001.5 1696.1h10M1001.5 1704.8h10M1008.1 1699.5V1706.3M1003.1 1699.5h10M1003.1 1706.3h10M1009.6 1708.5V1716.5M1004.6 1708.5h10M1004.6 1716.5h10M1011.2 1706.3V1712.5M1006.2 1706.3h10M1006.2 1712.5h10M1012.8 1697.2V1706.2M1007.8 1697.2h10M1007.8 1706.2h10M1014.3 1699V1705M1009.3 1699h10M1009.3 1705h10M1015.9 1696.5V1702.6M1010.9 1696.5h10M1010.9 1702.6h10M1017.4 1702.4V1713M1012.4 1702.4h10M1012.4 1713h10M1019 1713.6V1719.3M1014 1713.6h10M1014 1719.3h10M1020.6 1703.7V1711.3M1015.6 1703.7h10M1015.6 1711.3h10M1022.1 1700.6V1709.6M1017.1 1700.6h10M1017.1 1709.6h10M1023.7 1710.1V1717M1018.7 1710.1h10M1018.7 1717h10M1025.2 1699.8V1709.7M1020.2 1699.8h10M1020.2 1709.7h10M1026.8 1712.2V1718.4M1021.8 1712.2h10M1021.8 1718.4h10M1028.3 1700.3V1710.5M1023.3 1700.3h10M1023.3 1710.5h10M1029.9 1721V1724.8M1024.9 1721h10M1024.9 1724.8h10M1031.5 1688.3V1692.5M1026.5 1688.3h10M1026.5 1692.5h10M1033 1694.9V1702.7M1028 1694.9h10M1028 1702.7h10M1034.6 1700.1V1711.3M1029.6 1700.1h10M1029.6 1711.3h10M1036.1 1714.6V1726.3M1031.1 1714.6h10M1031.1 1726.3h10M1037.7 1716.4V1721.9M1032.7 1716.4h10M1032.7 1721.9h10M1039.2 1697.8V1705.4M1034.2 1697.8h10M1034.2 1705.4h10M1040.8 1705V1711.4M1035.8 1705h10M1035.8 1711.4h10M1042.4 1703.3V1705.6M1037.4 1703.3h10M1037.4 1705.6h10M1043.9 1716.8V1726.3M1038.9 1716.8h10M1038.9 1726.3h10M1045.5 1716.6V1723.3M1040.5 1716.6h10M1040.5 1723.3h10M1047 1700.5V1711.6M1042 1700.5h10M1042 1711.6h10M1048.6 1703.9V1712.3M1043.6 1703.9h10M1043.6 1712.3h10M1050.2 1713.7V1720M1045.2 1713.7h10M1045.2 1720h10M1051.7 1709.2V1715.1M1046.7 1709.2h10M1046.7 1715.1h10M1053.3 1694.2V1701.4M1048.3 1694.2h10M1048.3 1701.4h10M1054.8 1704.8V1713.5M1049.8 1704.8h10M1049.8 1713.5h10M1056.4 1697.6V1704M1051.4 1697.6h10M1051.4 1704h10M1058 1695.9V1710.6M1053 1695.9h10M1053 1710.6h10M1059.5 1698.6V1706.7M1054.5 1698.6h10M1054.5 1706.7h10M1061.1 1701.8V1706.6M1056.1 1701.8h10M1056.1 1706.6h10M1062.6 1720.5V1728.3M1057.6 1720.5h10M1057.6 1728.3h10M1064.2 1689.5V1700M1059.2 1689.5h10M1059.2 1700h10M1065.7 1712.6V1721.3M1060.7 1712.6h10M1060.7 1721.3h10M1067.3 1711.4V1718.3M1062.3 1711.4h10M1062.3 1718.3h10M1068.9 1702.7V1708.7M1063.9 1702.7h10M1063.9 1708.7h10M1070.4 1725.3V1730.9M1065.4 1725.3h10M1065.4 1730.9h10M1072 1695.6V1700.3M1067 1695.6h10M1067 1700.3h10M1073.5 1708.7V1715.1M1068.5 1708.7h10M1068.5 1715.1h10M1075.1 1698.3V1706.6M1070.1 1698.3h10M1070.1 1706.6h10M1076.7 1705.8V1712M1071.7 1705.8h10M1071.7 1712h10M1078.2 1703.2V1714.9M1073.2 1703.2h10M1073.2 1714.9h10M1079.8 1702.6V1711.2M1074.8 1702.6h10M1074.8 1711.2h10M1081.3 1720.8V1727.3M1076.3 1720.8h10M1076.3 1727.3h10M1082.9 1713.2V1720.7M1077.9 1713.2h10M1077.9 1720.7h10M1084.4 1706.4V1717.7M1079.4 1706.4h10M1079.4 1717.7h10M1086 1686.2V1689.6M1081 1686.2h10M1081 1689.6h10M1087.6 1696.1V1704.4M1082.6 1696.1h10M1082.6 1704.4h10M1089.1 1693.7V1708.1M1084.1 1693.7h10M1084.1 1708.1h10M1090.7 1710.3V1720.5M1085.7 1710.3h10M1085.7 1720.5h10M1092.2 1697.7V1703M1087.2 1697.7h10M1087.2 1703h10M1093.8 1692.8V1700.8M1088.8 1692.8h10M1088.8 1700.8h10M1095.4 1697.8V1704.8M1090.4 1697.8h10M1090.4 1704.8h10M1096.9 1677.9V1692.5M1091.9 1677.9h10M1091.9 1692.5h10M1098.5 1716.6V1722.6M1093.5 1716.6h10M1093.5 1722.6h10M1100 1712.8V1719.7M1095 1712.8h10M1095 1719.7h10M1101.6 1706V1712.8M1096.6 1706h10M1096.6 1712.8h10M1103.1 1713.5V1717.6M1098.1 1713.5h10M1098.1 1717.6h10M1104.7 1705.6V1706.3M1099.7 1705.6h10M1099.7 1706.3h10M1106.3 1697.3V1704.3M1101.3 1697.3h10M1101.3 1704.3h10M1107.8 1702.5V1711.4M1102.8 1702.5h10M1102.8 1711.4h10M1109.4 1703.4V1710M1104.4 1703.4h10M1104.4 1710h10M1110.9 1699.6V1708.5M1105.9 1699.6h10M1105.9 1708.5h10M1112.5 1696.4V1705.9M1107.5 1696.4h10M1107.5 1705.9h10M1114.1 1707.1V1716.5M1109.1 1707.1h10M1109.1 1716.5h10M1115.6 1711V1714.4M1110.6 1711h10M1110.6 1714.4h10M1117.2 1691.4V1702.8M1112.2 1691.4h10M1112.2 1702.8h10M1118.7 1706.1V1715.9M1113.7 1706.1h10M1113.7 1715.9h10M1120.3 1709.9V1719.5M1115.3 1709.9h10M1115.3 1719.5h10M1121.8 1701.5V1709.2M1116.8 1701.5h10M1116.8 1709.2h10M1123.4 1706.3V1714M1118.4 1706.3h10M1118.4 1714h10M1125 1702.2V1708.5M1120 1702.2h10M1120 1708.5h10M1126.5 1703.3V1711.9M1121.5 1703.3h10M1121.5 1711.9h10M1128.1 1697.2V1707.2M1123.1 1697.2h10M1123.1 1707.2h10M1129.6 1695.6V1701.8M1124.6 1695.6h10M1124.6 1701.8h10M1131.2 1708.6V1718.3M1126.2 1708.6h10M1126.2 1718.3h10M1132.8 1713.8V1720.3M1127.8 1713.8h10M1127.8 1720.3h10M1134.3 1688.5V1697.6M1129.3 1688.5h10M1129.3 1697.6h10M1135.9 1708.9V1716.2M1130.9 1708.9h10M1130.9 1716.2h10M1137.4 1714V1723.8M1132.4 1714h10M1132.4 1723.8h10M1139 1714V1726.5M1134 1714h10M1134 1726.5h10M1140.5 1700.5V1708.7M1135.5 1700.5h10M1135.5 1708.7h10M1142.1 1706V1712.4M1137.1 1706h10M1137.1 1712.4h10M1143.7 1717V1723.5M1138.7 1717h10M1138.7 1723.5h10M1145.2 1708.6V1717.8M1140.2 1708.6h10M1140.2 1717.8h10M1146.8 1719.7V1726.1M1141.8 1719.7h10M1141.8 1726.1h10M1148.3 1692.6V1702.7M1143.3 1692.6h10M1143.3 1702.7h10M1149.9 1700.5V1708.9M1144.9 1700.5h10M1144.9 1708.9h10M1151.5 1702.6V1712.5M1146.5 1702.6h10M1146.5 1712.5h10M1153 1721.4V1727.7M1148 1721.4h10M1148 1727.7h10M1154.6 1704.7V1710M1149.6 1704.7h10M1149.6 1710h10M1156.1 1697.4V1703.2M1151.1 1697.4h10M1151.1 1703.2h10M1157.7 1700.7V1709.4M1152.7 1700.7h10M1152.7 1709.4h10M1159.2 1695.2V1700.9M1154.2 1695.2h10M1154.2 1700.9h10M1160.8 1702.3V1711.6M1155.8 1702.3h10M1155.8 1711.6h10M1162.4 1700V1702.5M1157.4 1700h10M1157.4 1702.5h10M1163.9 1700.1V1706.1M1158.9 1700.1h10M1158.9 1706.1h10M1165.5 1707.9V1715.1M1160.5 1707.9h10M1160.5 1715.1h10M1167 1693V1696.1M1162 1693h10M1162 1696.1h10M1168.6 1701V1707.1M1163.6 1701h10M1163.6 1707.1h10M1170.2 1697.3V1701.2M1165.2 1697.3h10M1165.2 1701.2h10M1171.7 1711V1718.5M1166.7 1711h10M1166.7 1718.5h10M1173.3 1710.3V1717.4M1168.3 1710.3h10M1168.3 1717.4h10M1174.8 1718.7V1728.2M1169.8 1718.7h10M1169.8 1728.2h10M1176.4 1711.1V1716.7M1171.4 1711.1h10M1171.4 1716.7h10M1177.9 1699V1702.6M1172.9 1699h10M1172.9 1702.6h10" fill="none" stroke="#000" stroke-width="1.2"/>
<path d="M715.1 1696.1h0M716.7 1689.5h0M718.2 1699.7h0M719.8 1699.6h0M721.4 1695.7h0M722.9 1704.5h0M724.5 1698h0M726 1703.5h0M727.6 1713.6h0M729.1 1727.3h0M730.7 1696.7h0M732.3 1701.3h0M733.8 1712.3h0M735.4 1706.3h0M736.9 1694.1h0M738.5 1721.2h0M740 1713.6h0M741.6 1700.6h0M743.2 1699.3h0M744.7 1731.4h0M746.3 1715.1h0M747.8 1705.4h0M749.4 1695.1h0M751 1708.6h0M752.5 1728.7h0M754.1 1699.2h0M755.6 1708.9h0M757.2 1711.6h0M758.8 1717.8h0M760.3 1696.8h0M761.9 1705.9h0M763.4 1703.5h0M765 1704.4h0M766.5 1703.2h0M768.1 1705.2h0M769.7 1691.3h0M771.2 1716.2h0M772.8 1706.8h0M774.3 1710.4h0M775.9 1693.4h0M777.5 1709.9h0M779 1722.9h0M780.6 1708.5h0M782.1 1714.4h0M783.7 1714.7h0M785.2 1713.2h0M786.8 1729.2h0M788.4 1725.1h0M789.9 1692.9h0M791.5 1709.3h0M793 1715.1h0M794.6 1709.3h0M796.2 1695.6h0M797.7 1721.9h0M799.3 1709.1h0M800.8 1702.1h0M802.4 1712.7h0M803.9 1702.1h0M805.5 1715.2h0M807.1 1710.7h0M808.6 1720.9h0M810.2 1701.8h0M811.7 1704.4h0M813.3 1711.7h0M814.9 1709h0M816.4 1723.1h0M818 1687.9h0M819.5 1708.8h0M821.1 1709.1h0M822.6 1704h0M824.2 1701.1h0M825.8 1701.6h0M827.3 1711.4h0M828.9 1718.8h0M830.4 1706.5h0M832 1712.6h0M833.6 1710.4h0M835.1 1706.2h0M836.7 1705.1h0M838.2 1696.5h0M839.8 1707h0M841.3 1720.7h0M842.9 1701h0M844.5 1698.3h0M846 1721.1h0M847.6 1702.4h0M849.1 1706h0M850.7 1712.2h0M852.2 1704.9h0M853.8 1703.2h0M855.4 1701h0M856.9 1695.9h0M858.5 1704.2h0M860 1704.4h0M861.6 1684.5h0M863.2 1715.5h0M864.7 1707.7h0M866.3 1708.7h0M867.8 1698.5h0M869.4 1697.2h0M871 1717.2h0M872.5 1695.3h0M874.1 1715.9h0M875.6 1682.6h0M877.2 1713.3h0M878.7 1697.9h0M880.3 1710.3h0M881.9 1716.5h0M883.4 1714h0M885 1705.9h0M886.5 1707.8h0M888.1 1707.5h0M889.7 1701.9h0M891.2 1711.7h0M892.8 1711.7h0M894.3 1721h0M895.9 1710.3h0M897.4 1713.8h0M899 1700.3h0M900.6 1702.6h0M902.1 1726.7h0M903.7 1704.5h0M905.2 1696.4h0M906.8 1709.6h0M908.4 1717.7h0M909.9 1686h0M911.5 1701.6h0M913 1700.5h0M914.6 1685.9h0M916.1 1713.1h0M917.7 1703.7h0M919.3 1731.2h0M920.8 1701.4h0M922.4 1702.1h0M923.9 1711.4h0M925.5 1712.4h0M927.1 1706.4h0M928.6 1707h0M930.2 1691.3h0M931.7 1706.7h0M933.3 1705.7h0M934.8 1705.4h0M936.4 1716.1h0M938 1707.9h0M939.5 1715h0M941.1 1702.1h0M942.6 1722.9h0M944.2 1713.2h0M945.8 1702.6h0M947.3 1723.4h0M948.9 1719.9h0M950.4 1697.7h0M952 1717.8h0M953.5 1706.6h0M955.1 1705.1h0M956.7 1717.3h0M958.2 1723.3h0M959.8 1694.8h0M961.3 1714.4h0M962.9 1706h0M964.5 1716.2h0M966 1706.2h0M967.6 1720.8h0M969.1 1720.3h0M970.7 1715.9h0M972.2 1711.9h0M973.8 1712.9h0M975.4 1710.4h0M976.9 1703.6h0M978.5 1711.9h0M980 1699.7h0M981.6 1713.1h0M983.2 1715.5h0M984.7 1694.7h0M986.3 1691.3h0M987.8 1723.3h0M989.4 1690.3h0M990.9 1721.2h0M992.5 1694.4h0M994.1 1707.5h0M995.6 1704.4h0M997.2 1715.2h0M998.7 1698.8h0M1000.3 1701.1h0M1001.9 1711.2h0M1003.4 1713.3h0M1005 1700.9h0M1006.5 1700.5h0M1008.1 1702.9h0M1009.6 1712.5h0M1011.2 1709.4h0M1012.8 1701.7h0M1014.3 1702h0M1015.9 1699.6h0M1017.4 1707.7h0M1019 1716.5h0M1020.6 1707.5h0M1022.1 1705.1h0M1023.7 1713.6h0M1025.2 1704.7h0M1026.8 1715.3h0M1028.3 1705.4h0M1029.9 1722.9h0M1031.5 1690.4h0M1033 1698.8h0M1034.6 1705.7h0M1036.1 1720.4h0M1037.7 1719.2h0M1039.2 1701.6h0M1040.8 1708.2h0M1042.4 1704.5h0M1043.9 1721.6h0M1045.5 1719.9h0M1047 1706.1h0M1048.6 1708.1h0M1050.2 1716.8h0M1051.7 1712.1h0M1053.3 1697.8h0M1054.8 1709.1h0M1056.4 1700.8h0M1058 1703.2h0M1059.5 1702.6h0M1061.1 1704.2h0M1062.6 1724.4h0M1064.2 1694.8h0M1065.7 1716.9h0M1067.3 1714.9h0M1068.9 1705.7h0M1070.4 1728.1h0M1072 1698h0M1073.5 1711.9h0M1075.1 1702.5h0M1076.7 1708.9h0M1078.2 1709h0M1079.8 1706.9h0M1081.3 1724.1h0M1082.9 1716.9h0M1084.4 1712.1h0M1086 1687.9h0M1087.6 1700.2h0M1089.1 1700.9h0M1090.7 1715.4h0M1092.2 1700.4h0M1093.8 1696.8h0M1095.4 1701.3h0M1096.9 1685.2h0M1098.5 1719.6h0M1100 1716.3h0M1101.6 1709.4h0M1103.1 1715.5h0M1104.7 1706h0M1106.3 1700.8h0M1107.8 1707h0M1109.4 1706.7h0M1110.9 1704.1h0M1112.5 1701.1h0M1114.1 1711.8h0M1115.6 1712.7h0M1117.2 1697.1h0M1118.7 1711h0M1120.3 1714.7h0M1121.8 1705.3h0M1123.4 1710.2h0M1125 1705.4h0M1126.5 1707.6h0M1128.1 1702.2h0M1129.6 1698.7h0M1131.2 1713.4h0M1132.8 1717.1h0M1134.3 1693h0M1135.9 1712.6h0M1137.4 1718.9h0M1139 1720.3h0M1140.5 1704.6h0M1142.1 1709.2h0M1143.7 1720.3h0M1145.2 1713.2h0M1146.8 1722.9h0M1148.3 1697.6h0M1149.9 1704.7h0M1151.5 1707.6h0M1153 1724.5h0M1154.6 1707.3h0M1156.1 1700.3h0M1157.7 1705.1h0M1159.2 1698h0M1160.8 1707h0M1162.4 1701.2h0M1163.9 1703.1h0M1165.5 1711.5h0M1167 1694.5h0M1168.6 1704.1h0M1170.2 1699.2h0M1171.7 1714.8h0M1173.3 1713.9h0M1174.8 1723.4h0M1176.4 1713.9h0M1177.9 1700.8h0" fill="none" stroke="#000" stroke-width="8.4" stroke-linecap="round"/>
<path d="M712 1692V1713M701 1692h22M701 1713h22" fill="none" stroke="#ff2d8d" stroke-width="2"/>
<circle cx="712" cy="1702.5" r="4.5" fill="#ff2d8d"/>
<path d="M721 1617.5V1637.5M711 1617.5h20M711 1637.5h20" fill="none" stroke="#ff2d8d" stroke-width="1.6"/>
<circle cx="721" cy="1627.5" r="4.2" fill="#ff2d8d"/>
<path d="M752.5 1618V1638M742.5 1618h20M742.5 1638h20" fill="none" stroke="#ff2d8d" stroke-width="1.6"/>
<circle cx="752.5" cy="1628" r="4.2" fill="#ff2d8d"/>
<path d="M825 1626V1644M815 1626h20M815 1644h20" fill="none" stroke="#ff2d8d" stroke-width="1.6"/>
<circle cx="825" cy="1635" r="4.2" fill="#ff2d8d"/>
<path d="M1002 1623V1641M992 1623h20M992 1641h20" fill="none" stroke="#ff2d8d" stroke-width="1.6"/>
<circle cx="1002" cy="1632" r="4.2" fill="#ff2d8d"/>
<path d="M707 1763l5 -5l5 5l-5 5z" fill="#000"/>
<path d="M712 1443.3V1801.5 M712 1795.5H1180.7" fill="none" stroke="#000" stroke-width="3"/>
<text x="691.5" y="1454" font-size="31" text-anchor="end">0.0</text>
<text x="691.5" y="1517.7" font-size="31" text-anchor="end">-0.2</text>
<text x="691.5" y="1581.4" font-size="31" text-anchor="end">-0.4</text>
<text x="691.5" y="1645.1" font-size="31" text-anchor="end">-0.6</text>
<text x="691.5" y="1708.8" font-size="31" text-anchor="end">-0.8</text>
<text x="691.5" y="1772.5" font-size="31" text-anchor="end">-1.0</text>
<text x="711.2" y="1841.7" font-size="31" text-anchor="middle">0</text>
<text x="789.1" y="1841.7" font-size="31" text-anchor="middle">5</text>
<text x="867" y="1841.7" font-size="31" text-anchor="middle">10</text>
<text x="945" y="1841.7" font-size="31" text-anchor="middle">15</text>
<text x="1022.9" y="1841.7" font-size="31" text-anchor="middle">20</text>
<text x="1100.8" y="1841.7" font-size="31" text-anchor="middle">25</text>
<text x="1178.7" y="1841.7" font-size="31" text-anchor="middle">30</text>
<path d=" M706.5 1444.5H712 M706.5 1508.2H712 M706.5 1571.9H712 M706.5 1635.6H712 M706.5 1699.3H712 M706.5 1763H712 M789.9 1795.5V1801 M867.8 1795.5V1801 M945.8 1795.5V1801 M1023.7 1795.5V1801 M1101.6 1795.5V1801 M1179.5 1795.5V1801" fill="none" stroke="#000" stroke-width="2.5" stroke-linecap="round"/>
<text x="945.8" y="1904.5" font-size="33" font-weight="bold" text-anchor="middle">Time (s)</text>
<polyline points="723.8,1471.1 724.8,1471.4 725.8,1471.3 726.8,1471.4 727.8,1471.8 728.8,1471.2 729.8,1471.2 730.8,1471 731.8,1471.1 732.8,1471.7 733.8,1471.4 734.6,1472.3 735.3,1512.4 735.8,1553.5 736.5,1516.5 737.3,1486.1 738.7,1473.8 740.3,1472.1 741.3,1470.3 742.3,1471.8 743.3,1470.5 744.3,1471.1 745.3,1471.7 746.3,1471.4 747.3,1471.5 748.3,1471.6 749.3,1471.4 750.3,1470.8 751.3,1471.4 752.3,1471 753.8,1472.3 754.5,1506.7 755,1542 755.7,1510.2 756.5,1484 757.9,1473.8 759.5,1472.1 760.5,1470.3 761.5,1471.2 762.5,1471.5 763.5,1471.3 764.5,1471.3 765.5,1472 766.5,1471.4 767.5,1471.7 768.5,1471.4 769.5,1472 770.5,1471.2 771.5,1471.8 772.6,1472.3 773.3,1504.4 773.8,1537.5 774.5,1507.7 775.3,1483.2 776.7,1473.8 778.3,1472.1 779.3,1472 780.3,1471.2 781.3,1471.7 782.3,1470.8 783.3,1471.4 784.3,1471.6 785.3,1471 786.3,1470.6 787.3,1471.3 788.3,1471.2 789.3,1471.4 790.3,1471.4 791.3,1472.3 792,1502.9 792.5,1534.5 793.2,1506.1 794,1482.7 795.4,1473.8 797,1472.1 798,1471.6 799,1471.9 800,1471.5 801,1470.7 802,1471.6 803,1471.5" fill="none" stroke="#000" stroke-width="3" stroke-linejoin="round" stroke-linecap="round"/>
<line x1="810" y1="1483.5" x2="816.5" y2="1454.5" stroke="#808080" stroke-width="3.6"/>
<line x1="822.5" y1="1483.5" x2="829" y2="1454.5" stroke="#808080" stroke-width="3.6"/>
<polyline points="831.3,1471.4 832.3,1471.9 833.3,1471.4 834.3,1471.2 835.3,1471.5 836.3,1470.7 837.3,1471.7 838.3,1471.3 839.3,1472 840.3,1471.6 841.3,1472.3 842,1511.7 842.5,1552 843.2,1515.7 844,1485.8 845.4,1473.8 847,1472.1 848,1471.5 849,1471.4 850,1470.8 851,1471.3 852,1471.4 853,1471.7 854,1471.5 855,1471.6 856,1471.6 857,1471.1 858,1471.4 859,1471.2 860.6,1472.3 861.3,1505 861.8,1538.8 862.5,1508.4 863.3,1483.5 864.7,1473.8 866.3,1472.1 867.3,1470.8 868.3,1470.7 869.3,1471.6 870.3,1471.9 871.3,1471.9 872.3,1471 873.3,1471.9 874.3,1471.9 875.3,1471 876.3,1471.5 877.3,1472 878.3,1471.4 879.6,1472.3 880.3,1502.9 880.8,1534.5 881.5,1506.1 882.3,1482.7 883.7,1473.8 885.3,1472.1 886.3,1471.8 887.3,1471.1 888.3,1471.2 889.3,1471.7 890.3,1471.3 891.3,1471.4 892.3,1471.4 893.3,1470.9 894.3,1471.9 895.3,1471.3 896.3,1471.2 897.3,1471.1 898.8,1472.3 899.5,1501.9 900,1532.5 900.7,1505 901.5,1482.3 902.9,1473.8 904.5,1472.1 905.5,1471.3 906.5,1470.9 907.5,1471.7 908.5,1471.2 909.5,1471.6" fill="none" stroke="#000" stroke-width="3" stroke-linejoin="round" stroke-linecap="round"/>
<polyline points="983.8,1472.2 984.8,1472.1 985.8,1472.2 986.8,1472.6 987.8,1472 988.8,1472.8 989.8,1472.4 990.8,1472.9 991.8,1472.4 992.8,1472.8 993.8,1472.1 994.6,1473.5 995.3,1508 995.8,1543.5 996.5,1511.5 997.4,1485.3 999,1475 1000.8,1473.3 1001.8,1472.1 1002.8,1472.7 1003.8,1472.3 1004.8,1472.9 1005.8,1472.2 1006.8,1472.7 1007.8,1472.2 1008.8,1471.8 1009.8,1473.1 1010.8,1472.4 1011.8,1472.9 1012.8,1472.6 1013.8,1473.5 1014.5,1501 1015,1529.5 1015.7,1503.8 1016.6,1482.8 1018.2,1475 1020,1473.3 1021,1471.8 1022,1472.7 1023,1472.9 1024,1473 1025,1473.2 1026,1472.7 1027,1472.5 1028,1472.5 1029,1472.1 1030,1472.8 1031,1472.8 1032.6,1473.5 1033.3,1501.5 1033.8,1530.5 1034.5,1504.4 1035.4,1482.9 1037,1475 1038.8,1473.3 1039.8,1472.6 1040.8,1472.2 1041.8,1472.8 1042.8,1472.3 1043.8,1473 1044.8,1472.3 1045.8,1472.3 1046.8,1472.4 1047.8,1472.1 1048.8,1472.2 1049.8,1472.4 1050.8,1471.5 1051.6,1473.5 1052.3,1501.8 1052.8,1531 1053.5,1504.7 1054.4,1483 1056,1475 1057.8,1473.3 1058.8,1473.3 1059.8,1472.7 1060.8,1472.6 1061.8,1472.2" fill="none" stroke="#ff2d8d" stroke-width="3" stroke-linejoin="round" stroke-linecap="round"/>
<line x1="1070" y1="1488.5" x2="1076.5" y2="1458.5" stroke="#808080" stroke-width="3.6"/>
<line x1="1082.5" y1="1488.5" x2="1089" y2="1458.5" stroke="#808080" stroke-width="3.6"/>
<polyline points="1097,1472.6 1098,1472.5 1099,1472.5 1100,1471.9 1101,1472.5 1102,1471.8 1103,1472.4 1104,1472.2 1105,1472.3 1106,1472.4 1107,1472.8 1108.3,1473.5 1109,1504.2 1109.5,1536 1110.2,1507.4 1111.1,1483.9 1112.7,1475 1114.5,1473.3 1115.5,1473 1116.5,1472.5 1117.5,1472.1 1118.5,1473.1 1119.5,1472 1120.5,1472.3 1121.5,1472.4 1122.5,1472.2 1123.5,1473 1124.5,1472.7 1125.5,1472.9 1126.5,1472.4 1127.6,1473.5 1128.3,1501.5 1128.8,1530.5 1129.5,1504.4 1130.4,1482.9 1132,1475 1133.8,1473.3 1134.8,1472.8 1135.8,1472.4 1136.8,1472.4 1137.8,1472.6 1138.8,1472.7 1139.8,1472.7 1140.8,1472.4 1141.8,1471.9 1142.8,1472.4 1143.8,1471.4 1144.8,1472.4 1146.3,1473.5 1147,1501.5 1147.5,1530.5 1148.2,1504.4 1149.1,1482.9 1150.7,1475 1152.5,1473.3 1153.5,1472.2 1154.5,1472.8 1155.5,1471.4 1156.5,1473.3 1157.5,1472.4 1158.5,1471.9 1159.5,1472.7 1160.5,1472.7 1161.5,1472.7 1162.5,1473.4 1163.5,1472.2 1164.5,1472.6 1165.3,1473.5 1166,1499.8 1166.5,1527 1167.2,1502.5 1168.1,1482.3 1169.7,1475 1171.5,1473.3 1172.5,1472.6 1173.5,1472.2 1174.5,1472.6 1175.5,1473" fill="none" stroke="#ff2d8d" stroke-width="3" stroke-linejoin="round" stroke-linecap="round"/>
<text x="1028.5" y="1558.8" font-size="30.7" font-weight="bold">50 ms</text>
<path d="M1050.5 1566.5H1061V1580.5" fill="none" stroke="#000" stroke-width="2.5" stroke-linejoin="miter" stroke-linecap="round"/>
<text x="1068" y="1587" font-size="30.7" font-weight="bold">0.2 nA</text>
<text x="1243.5" y="1416.3" font-size="38" font-weight="bold">GluA2 (R)/<tspan font-family="Liberation Serif, serif" font-weight="normal" font-style="italic">γ</tspan>2</text>
<polyline points="1238,1482.2 1238.6,1483.1 1239.2,1483.5 1239.8,1483.3 1240.4,1481.7 1241,1483 1241.6,1482.5 1242.2,1483.7 1242.8,1482.7 1243.4,1484.2 1244,1481.9 1244.6,1483.1 1245.2,1482.2 1245.8,1484 1246.4,1483.9 1247,1482.2 1247.6,1483.3 1248.2,1482.8 1248.8,1481.7 1249.4,1482.1 1250,1482.9 1250.6,1483.2 1251.2,1482.5 1251.8,1483 1252.4,1483 1253,1483 1253.6,1482 1254.2,1482.9 1254.8,1483.2 1255.4,1481.8 1256,1483.9 1256.6,1483.8 1257.2,1482.9 1257.8,1484.3 1258.4,1482.2 1259,1482.1 1259.6,1482.4 1260.2,1482.3 1260.8,1484.1 1261.4,1482.8 1262,1482.8" fill="none" stroke="#000" stroke-width="2" stroke-linejoin="round" stroke-linecap="round"/>
<path d="M1263.2 1482V1756" fill="none" stroke="#000" stroke-width="2.4" stroke-linecap="round"/>
<polygon points="1263,1607.2 1263.6,1610.4 1264.2,1607.9 1264.8,1610 1265.4,1611 1266,1610.9 1266.6,1609.9 1267.2,1610.5 1267.8,1610.5 1268.4,1608.9 1269,1610.9 1269.6,1610.3 1270.2,1605.1 1270.8,1606.1 1271.4,1605.6 1272,1605.5 1272.6,1604.9 1273.2,1605.3 1273.8,1603.9 1274.4,1603.8 1275,1605.3 1275.6,1605.2 1276.2,1603.6 1276.8,1605.8 1277.4,1606.4 1278,1606.9 1278.6,1607.4 1279.2,1606.8 1279.8,1607.4 1280.4,1608.8 1281,1607.9 1281.6,1604.4 1282.2,1606 1282.8,1606.4 1283.4,1604.9 1284,1604.2 1284.6,1604.4 1285.2,1603.8 1285.8,1604.5 1286.5,1604.1 1287.1,1602.6 1287.7,1603 1288.3,1602.7 1288.9,1602.1 1289.5,1600.8 1290.1,1598.9 1290.7,1601.9 1291.3,1603.4 1291.9,1603 1292.5,1601.5 1293.1,1603.5 1293.7,1603.8 1294.3,1603.1 1294.9,1604.2 1295.5,1603.7 1296.1,1605.9 1296.7,1605.7 1297.3,1606.4 1297.9,1603.9 1298.5,1605.4 1299.1,1605.5 1299.7,1603.9 1300.3,1604.7 1300.9,1605.9 1301.5,1606.3 1302.1,1603.7 1302.7,1607.2 1303.3,1608.6 1303.9,1606.3 1304.5,1606.3 1305.1,1603.1 1305.7,1604.6 1306.3,1602.3 1306.9,1604.5 1307.5,1605.1 1308.1,1605.9 1308.7,1605.4 1309.3,1604.1 1309.9,1604.3 1310.5,1605.4 1311.1,1604.3 1311.7,1605.5 1312.3,1606.9 1312.9,1606.5 1313.5,1607 1314.1,1607 1314.7,1606.5 1315.3,1604.7 1315.9,1605 1316.5,1604.5 1317.1,1605.1 1317.7,1605.4 1318.3,1606.2 1318.9,1604.3 1319.5,1605.7 1320.1,1603.9 1320.7,1601.2 1321.3,1604.4 1321.9,1604.7 1322.5,1603.7 1323.1,1602.1 1323.7,1605.4 1324.3,1604.2 1324.9,1605.1 1325.5,1604.4 1326.1,1605.1 1326.7,1605.7 1327.3,1607 1327.9,1606.1 1328.5,1604 1329.1,1604.6 1329.7,1605.7 1330.3,1602 1330.9,1605.4 1331.5,1604.3 1332.1,1599.1 1332.7,1599.5 1333.4,1600.4 1334,1602.5 1334.6,1598.6 1335.2,1600.9 1335.8,1600.9 1336.4,1602.5 1337,1602 1337.6,1602.1 1338.2,1601.5 1338.8,1603.7 1339.4,1604.8 1340,1604.2 1340.6,1603.5 1341.2,1604.3 1341.8,1604.4 1342.4,1605.6 1343,1601.5 1343.6,1605.4 1344.2,1605.7 1344.8,1605.7 1345.4,1605.4 1346,1604.8 1346.6,1604.3 1347.2,1603.4 1347.8,1602.3 1348.4,1601 1349,1603.7 1349.6,1601 1350.2,1599.5 1350.8,1600.6 1351.4,1600.7 1352,1601.4 1352.6,1599.2 1353.2,1602.1 1353.8,1603 1354.4,1601.6 1355,1602.5 1355.6,1603.4 1356.2,1604.3 1356.8,1605.4 1357.4,1607.4 1358,1605.8 1358.6,1608 1359.2,1605.5 1359.8,1608.9 1360.4,1609 1361,1607.7 1361.6,1607.2 1362.2,1604.8 1362.8,1606.8 1363.4,1607 1364,1605 1364.6,1606.8 1365.2,1606.4 1365.8,1606.1 1366.4,1604.6 1367,1607.7 1367.6,1608.1 1368.2,1608.4 1368.8,1607.2 1369.4,1607.2 1370,1604.1 1370.6,1605.2 1371.2,1606.8 1371.8,1606.6 1372.4,1607 1373,1607.9 1373.6,1607.6 1374.2,1607.4 1374.8,1607 1375.4,1608.4 1376,1607.9 1376.6,1609.3 1377.2,1609.5 1377.8,1609.5 1378.4,1609.2 1379,1605.9 1379.6,1606.1 1380.3,1604.7 1380.9,1607.8 1381.5,1605.9 1382.1,1607.2 1382.7,1604.2 1383.3,1604.5 1383.9,1603.4 1384.5,1602.6 1385.1,1603.4 1385.7,1603.4 1386.3,1605.1 1386.9,1605.4 1387.5,1600.3 1388.1,1602 1388.7,1603.5 1389.3,1602 1389.9,1601.1 1390.5,1602.8 1391.1,1603.8 1391.7,1605.1 1392.3,1605.8 1392.9,1605.6 1393.5,1605.8 1394.1,1603.7 1394.7,1603.8 1395.3,1605 1395.9,1603.8 1396.5,1605.1 1397.1,1606.3 1397.7,1606.3 1398.3,1605.6 1398.9,1604.8 1399.5,1604.3 1400.1,1603.9 1400.7,1603.8 1401.3,1603.1 1401.9,1603.9 1402.5,1603.7 1403.1,1604.4 1403.7,1601.6 1404.3,1602.4 1404.9,1601.8 1405.5,1604.6 1406.1,1603.3 1406.7,1602.3 1407.3,1604.2 1407.9,1606.9 1408.5,1606.7 1409.1,1608.9 1409.7,1606 1410.3,1609 1410.9,1606.5 1411.5,1609 1412.1,1607.3 1412.7,1606.4 1413.3,1606.7 1413.9,1608.8 1414.5,1607.2 1415.1,1608.8 1415.7,1606.6 1416.3,1607.2 1416.9,1606.9 1417.5,1606.3 1418.1,1605 1418.7,1606.4 1419.3,1605.6 1419.9,1603.9 1420.5,1602.9 1421.1,1602.2 1421.7,1604.7 1422.3,1604.6 1422.9,1605.2 1423.5,1604.9 1424.1,1606.1 1424.7,1604.3 1425.3,1604.7 1425.9,1605.3 1426.5,1606.9 1427.2,1607.4 1427.8,1606.4 1428.4,1608.1 1429,1607.7 1429.6,1607.9 1430.2,1607.7 1430.8,1608.5 1431.4,1609.4 1432,1610.4 1432.6,1610.2 1433.2,1609.7 1433.8,1612.6 1434.4,1609.9 1435,1610.5 1435.6,1610.9 1436.2,1610.5 1436.8,1609.7 1437.4,1607.3 1438,1607.1 1438.6,1607.4 1439.2,1607.8 1439.8,1607.3 1440.4,1603.2 1441,1605.1 1441.6,1603.3 1442.2,1605.7 1442.8,1606.5 1443.4,1606.1 1444,1604.9 1444.6,1606.2 1445.2,1605.9 1445.8,1605 1446.4,1603.8 1447,1607.6 1447.6,1607.7 1448.2,1606.4 1448.8,1605.3 1449.4,1606.4 1450,1605.4 1450,1611.4 1449.4,1611.3 1448.8,1611.2 1448.2,1611.6 1447.6,1612.2 1447,1611.3 1446.4,1610.3 1445.8,1613.8 1445.2,1611.3 1444.6,1610.9 1444,1610.7 1443.4,1612.9 1442.8,1610.1 1442.2,1611.2 1441.6,1612.5 1441,1611.3 1440.4,1609.1 1439.8,1611.8 1439.2,1612.1 1438.6,1612.7 1438,1613.6 1437.4,1615.7 1436.8,1614.8 1436.2,1614.8 1435.6,1617.5 1435,1616.9 1434.4,1615.8 1433.8,1618.9 1433.2,1614.8 1432.6,1618.1 1432,1615.1 1431.4,1614.1 1430.8,1612.6 1430.2,1612.2 1429.6,1615.7 1429,1612.7 1428.4,1612.5 1427.8,1613.3 1427.2,1610.8 1426.5,1613.6 1425.9,1609.7 1425.3,1612 1424.7,1611.5 1424.1,1613.2 1423.5,1610.7 1422.9,1610.5 1422.3,1610.1 1421.7,1610.3 1421.1,1608.2 1420.5,1609.2 1419.9,1609.9 1419.3,1611.8 1418.7,1612.2 1418.1,1609.4 1417.5,1609.9 1416.9,1611.1 1416.3,1611.6 1415.7,1611.7 1415.1,1613.3 1414.5,1613.5 1413.9,1613.1 1413.3,1616.6 1412.7,1613.6 1412.1,1612.9 1411.5,1615.2 1410.9,1612.9 1410.3,1614.1 1409.7,1612.6 1409.1,1612.9 1408.5,1612.3 1407.9,1612.3 1407.3,1611.7 1406.7,1612.6 1406.1,1610 1405.5,1609.6 1404.9,1609.7 1404.3,1607.8 1403.7,1607.6 1403.1,1608.6 1402.5,1609 1401.9,1608.9 1401.3,1609.4 1400.7,1609.2 1400.1,1608.3 1399.5,1608.4 1398.9,1610.4 1398.3,1610.8 1397.7,1612.6 1397.1,1610.9 1396.5,1611.5 1395.9,1612 1395.3,1611.2 1394.7,1610.3 1394.1,1610.4 1393.5,1610.2 1392.9,1610.4 1392.3,1609.9 1391.7,1610.6 1391.1,1608.1 1390.5,1610.1 1389.9,1608.4 1389.3,1608 1388.7,1610.8 1388.1,1609.3 1387.5,1607.9 1386.9,1610 1386.3,1613.9 1385.7,1608.5 1385.1,1609.6 1384.5,1607.9 1383.9,1609.5 1383.3,1611.3 1382.7,1610 1382.1,1611.8 1381.5,1612.7 1380.9,1613.5 1380.3,1611 1379.6,1611.2 1379,1614 1378.4,1615.5 1377.8,1614.4 1377.2,1613.2 1376.6,1613.9 1376,1614.3 1375.4,1614.7 1374.8,1613.4 1374.2,1615.4 1373.6,1613.6 1373,1613.3 1372.4,1614.1 1371.8,1611.2 1371.2,1611.6 1370.6,1612.6 1370,1611.8 1369.4,1612.5 1368.8,1612.3 1368.2,1613.2 1367.6,1613 1367,1611.6 1366.4,1611.6 1365.8,1611.4 1365.2,1613.2 1364.6,1612.6 1364,1611.5 1363.4,1611.8 1362.8,1612.1 1362.2,1610.7 1361.6,1611.2 1361,1611.3 1360.4,1613.7 1359.8,1614.8 1359.2,1612.6 1358.6,1611.9 1358,1612.6 1357.4,1612 1356.8,1611.6 1356.2,1609.7 1355.6,1608.9 1355,1608.2 1354.4,1606.8 1353.8,1608.8 1353.2,1605.8 1352.6,1605.9 1352,1605.4 1351.4,1605 1350.8,1608.5 1350.2,1604.7 1349.6,1606.4 1349,1607.5 1348.4,1607.8 1347.8,1607.7 1347.2,1606.8 1346.6,1610 1346,1609.4 1345.4,1611.8 1344.8,1611.3 1344.2,1611.6 1343.6,1610.6 1343,1609.5 1342.4,1609.8 1341.8,1610.2 1341.2,1612.1 1340.6,1609.9 1340,1609.3 1339.4,1610.5 1338.8,1609.7 1338.2,1610.4 1337.6,1607 1337,1607.2 1336.4,1606 1335.8,1607 1335.2,1607.1 1334.6,1606.9 1334,1610.4 1333.4,1607.4 1332.7,1605.5 1332.1,1607 1331.5,1608.8 1330.9,1609.7 1330.3,1610 1329.7,1613.3 1329.1,1612.4 1328.5,1609.4 1327.9,1610.5 1327.3,1611.9 1326.7,1611.2 1326.1,1612.4 1325.5,1610.8 1324.9,1609.5 1324.3,1609.4 1323.7,1612.2 1323.1,1610 1322.5,1609.2 1321.9,1612.7 1321.3,1609.4 1320.7,1607.1 1320.1,1607.3 1319.5,1610.4 1318.9,1610.4 1318.3,1611.4 1317.7,1610.1 1317.1,1609.9 1316.5,1609.5 1315.9,1611.6 1315.3,1610.7 1314.7,1612.4 1314.1,1613 1313.5,1614 1312.9,1610.3 1312.3,1610.5 1311.7,1611.3 1311.1,1613.2 1310.5,1612.2 1309.9,1612.3 1309.3,1610.3 1308.7,1609.2 1308.1,1610.7 1307.5,1611.7 1306.9,1610.6 1306.3,1610.1 1305.7,1609.4 1305.1,1611.2 1304.5,1609.9 1303.9,1612 1303.3,1615.8 1302.7,1613.5 1302.1,1613.2 1301.5,1611.5 1300.9,1611.9 1300.3,1611.8 1299.7,1609.6 1299.1,1610.1 1298.5,1609.4 1297.9,1610.4 1297.3,1610.5 1296.7,1612 1296.1,1609.9 1295.5,1611.4 1294.9,1608.2 1294.3,1608.5 1293.7,1610.4 1293.1,1610.4 1292.5,1607.2 1291.9,1608.2 1291.3,1608.9 1290.7,1607.7 1290.1,1605.7 1289.5,1606.3 1288.9,1606.1 1288.3,1607.2 1287.7,1609 1287.1,1607.4 1286.5,1610.1 1285.8,1608.8 1285.2,1609.8 1284.6,1610.3 1284,1610.2 1283.4,1611.4 1282.8,1613.1 1282.2,1611.2 1281.6,1613.6 1281,1611.8 1280.4,1613.7 1279.8,1613.4 1279.2,1612.8 1278.6,1614.7 1278,1612.5 1277.4,1614.1 1276.8,1611.6 1276.2,1610.4 1275.6,1610.6 1275,1608.8 1274.4,1609.1 1273.8,1609.9 1273.2,1612.6 1272.6,1610.9 1272,1612 1271.4,1610.9 1270.8,1611.9 1270.2,1612 1269.6,1614.2 1269,1615.4 1268.4,1615.7 1267.8,1615.3 1267.2,1614.4 1266.6,1616 1266,1616.7 1265.4,1614.5 1264.8,1615.1 1264.2,1614 1263.6,1615.3 1263,1616.2" fill="#000" stroke="#000" stroke-width="0.8" stroke-linejoin="round"/>
<polyline points="1450,1606 1450.5,1600 1451,1556" fill="none" stroke="#000" stroke-width="2.4" stroke-linejoin="round" stroke-linecap="round"/>
<polyline points="1452.5,1530 1454,1495 1456.5,1485 1458,1483.4 1458.6,1483.2 1459.2,1483.4 1459.8,1482.1 1460.5,1483.1 1461.1,1483.2 1461.7,1483.5 1462.3,1483.2 1462.9,1482.7 1463.5,1483.7 1464.1,1483.8 1464.7,1483.8 1465.3,1482.6 1466,1483.3 1466.6,1482.5 1467.2,1482.9 1467.8,1483.4 1468.4,1482.2 1469,1484.6 1469.6,1483.7 1470.2,1482.5 1470.9,1482.7 1471.5,1483 1472.1,1482.9 1472.7,1482.3 1473.3,1482.9 1473.9,1482.1 1474.5,1482.6 1475.2,1484.1 1475.8,1483 1476.4,1482.8 1477,1483.9 1477.6,1483.2 1478.2,1483.4 1478.8,1482.7 1479.4,1483.6 1480,1482.8 1480.7,1483.5 1481.3,1483.4 1481.9,1484 1482.5,1483.6" fill="none" stroke="#000" stroke-width="2.6" stroke-linejoin="round" stroke-linecap="round"/>
<polyline points="1238,1482.3 1238.6,1481.4 1239.2,1482 1239.8,1481.7 1240.4,1483.7 1241,1481.9 1241.6,1480.3 1242.2,1482.6 1242.8,1483 1243.4,1481.5 1244,1482.9 1244.6,1481.1 1245.2,1482.5 1245.8,1482.2 1246.4,1482.6 1247,1482.7 1247.6,1481.7 1248.2,1483 1248.8,1481.8 1249.4,1482.4 1250,1483.6 1250.6,1481.5 1251.2,1482.4 1251.8,1483.7 1252.4,1483.4 1253,1481.7 1253.6,1481.7 1254.2,1482.8 1254.8,1481.7 1255.4,1482.4 1256,1481.1 1256.6,1482.9 1257.2,1480.9 1257.8,1482.4 1258.4,1482.9 1259,1481.7 1259.6,1480.9 1260.2,1481.2 1260.8,1480.6 1261.4,1483.9 1262,1480.6" fill="none" stroke="#ff2d8d" stroke-width="3.4" stroke-linejoin="round" stroke-linecap="round"/>
<path d="M1262 1481V1733.8" fill="none" stroke="#ff2d8d" stroke-width="3"/>
<polygon points="1262.6,1549.4 1263.2,1551.6 1263.8,1552.7 1264.4,1551 1265,1548.5 1265.6,1549.7 1266.2,1548.4 1266.8,1547 1267.4,1547.6 1268,1550.1 1268.6,1549.7 1269.2,1549.8 1269.8,1549.1 1270.4,1549.9 1271,1549.3 1271.6,1550.7 1272.2,1550.5 1272.8,1549.6 1273.4,1548.4 1274,1548.9 1274.6,1548.5 1275.2,1547.4 1275.8,1546.5 1276.4,1546.9 1277,1546.5 1277.6,1545.5 1278.2,1544.9 1278.8,1546.7 1279.4,1546.4 1280,1548.4 1280.6,1548.5 1281.2,1549.5 1281.8,1550.1 1282.4,1549.7 1283,1550.5 1283.6,1549.9 1284.2,1551.6 1284.8,1550.6 1285.4,1550.2 1286,1550.1 1286.6,1551.1 1287.2,1550.6 1287.8,1550.5 1288.4,1550.4 1289,1550.2 1289.6,1550.6 1290.2,1548.9 1290.8,1546.8 1291.4,1546.5 1292,1548.8 1292.6,1547.3 1293.2,1548.1 1293.8,1548.1 1294.5,1547.8 1295.1,1545.9 1295.7,1546.3 1296.3,1547.4 1296.9,1545.5 1297.5,1546.8 1298.1,1549.1 1298.7,1550.5 1299.3,1549 1299.9,1550.4 1300.5,1551.2 1301.1,1553.3 1301.7,1553.4 1302.3,1551.4 1302.9,1552.3 1303.5,1550.7 1304.1,1551.6 1304.7,1551 1305.3,1548.8 1305.9,1549.5 1306.5,1550.5 1307.1,1551.2 1307.7,1550 1308.3,1550.5 1308.9,1553 1309.5,1551.9 1310.1,1553.1 1310.7,1553.7 1311.3,1553.2 1311.9,1553.3 1312.5,1555.7 1313.1,1553.9 1313.7,1553.5 1314.3,1550.8 1314.9,1551.3 1315.5,1551.6 1316.1,1551.3 1316.7,1551.8 1317.3,1551.4 1317.9,1551.8 1318.5,1551.4 1319.1,1550.3 1319.7,1550.4 1320.3,1552.5 1320.9,1548.9 1321.5,1552.2 1322.1,1551.4 1322.7,1549.9 1323.3,1550 1323.9,1549.9 1324.5,1549.4 1325.1,1550.4 1325.7,1550.3 1326.3,1549.1 1326.9,1551.1 1327.5,1549.4 1328.1,1549.8 1328.7,1549.3 1329.3,1552.5 1329.9,1551.6 1330.5,1547.9 1331.1,1550.9 1331.7,1553.3 1332.3,1552.6 1332.9,1552.1 1333.5,1551.6 1334.1,1551.6 1334.7,1549.6 1335.3,1551.6 1335.9,1550.9 1336.5,1550.8 1337.1,1549.9 1337.7,1549.1 1338.3,1550.1 1338.9,1549.4 1339.5,1550.5 1340.1,1552.5 1340.7,1551.4 1341.3,1550.9 1341.9,1550.7 1342.5,1551.3 1343.1,1549.8 1343.7,1549.1 1344.3,1548.1 1344.9,1546.9 1345.5,1547.8 1346.1,1547.8 1346.7,1546.3 1347.3,1543.8 1347.9,1546.2 1348.5,1547.9 1349.1,1546.3 1349.7,1547.5 1350.3,1547.5 1350.9,1546.8 1351.5,1548.2 1352.1,1548.5 1352.7,1548.7 1353.3,1545.4 1353.9,1546.5 1354.5,1547.7 1355.1,1548.8 1355.7,1548.8 1356.3,1547.6 1356.9,1548.7 1357.6,1549.8 1358.2,1547.7 1358.8,1550.2 1359.4,1550.7 1360,1552.7 1360.6,1552 1361.2,1552.1 1361.8,1549.4 1362.4,1551 1363,1551.6 1363.6,1550.1 1364.2,1551.4 1364.8,1549.7 1365.4,1550.4 1366,1549 1366.6,1550.7 1367.2,1550.6 1367.8,1549.6 1368.4,1552.1 1369,1552.1 1369.6,1550.9 1370.2,1552.2 1370.8,1554.5 1371.4,1549.4 1372,1552.9 1372.6,1552.5 1373.2,1550.8 1373.8,1551.7 1374.4,1549.5 1375,1550.1 1375.6,1548.3 1376.2,1549.5 1376.8,1549.6 1377.4,1549.5 1378,1548.6 1378.6,1547.2 1379.2,1549.3 1379.8,1548.5 1380.4,1549.8 1381,1548.7 1381.6,1549.4 1382.2,1551 1382.8,1550.6 1383.4,1546.3 1384,1552 1384.6,1551.4 1385.2,1550.4 1385.8,1550.3 1386.4,1550.9 1387,1548.7 1387.6,1548.4 1388.2,1549.4 1388.8,1549.9 1389.4,1550.3 1390,1549.9 1390.6,1551 1391.2,1550.2 1391.8,1549.8 1392.4,1550.4 1393,1551.3 1393.6,1551.1 1394.2,1550 1394.8,1549.8 1395.4,1549.8 1396,1546 1396.6,1548.3 1397.2,1547.8 1397.8,1546.8 1398.4,1548.3 1399,1549.7 1399.6,1549.9 1400.2,1549.4 1400.8,1550.6 1401.4,1549.9 1402,1549.9 1402.6,1549.9 1403.2,1550.2 1403.8,1548.6 1404.4,1550.7 1405,1550.9 1405.6,1549.6 1406.2,1548.8 1406.8,1549.4 1407.4,1549 1408,1548.8 1408.6,1549.7 1409.2,1549.7 1409.8,1548.4 1410.4,1548.8 1411,1548.8 1411.6,1547.1 1412.2,1548.6 1412.8,1547.1 1413.4,1547.4 1414,1548.3 1414.6,1548.3 1415.2,1545.7 1415.8,1549.4 1416.4,1548.4 1417,1546.7 1417.6,1546.4 1418.2,1545.5 1418.8,1546.5 1419.4,1547.6 1420.1,1548.6 1420.7,1548.7 1421.3,1547.6 1421.9,1547.1 1422.5,1547.7 1423.1,1548.1 1423.7,1549.4 1424.3,1549.1 1424.9,1550.7 1425.5,1550.4 1426.1,1550.2 1426.7,1549.8 1427.3,1549.2 1427.9,1550.2 1428.5,1551.1 1429.1,1551.7 1429.7,1552.6 1430.3,1552.1 1430.9,1552.2 1431.5,1550.4 1432.1,1552.2 1432.7,1552.2 1433.3,1552 1433.9,1550.8 1434.5,1551.5 1435.1,1551.5 1435.7,1549.3 1436.3,1549.9 1436.9,1548.1 1437.5,1549.8 1438.1,1550.8 1438.7,1549.2 1439.3,1548.4 1439.9,1549.6 1440.5,1548.8 1441.1,1548.5 1441.7,1550.1 1442.3,1548.8 1442.9,1548.1 1443.5,1550.6 1444.1,1550.1 1444.7,1548 1445.3,1547.9 1445.9,1550.5 1446.5,1551.2 1447.1,1550.4 1447.7,1550 1448.3,1548.5 1448.9,1549.6 1449.5,1549.4 1450.1,1547.2 1450.7,1549.3 1451.3,1549.9 1451.3,1555.4 1450.7,1556.1 1450.1,1554.5 1449.5,1555.6 1448.9,1557.2 1448.3,1555.4 1447.7,1555.9 1447.1,1555.9 1446.5,1558 1445.9,1555.8 1445.3,1556.8 1444.7,1555.6 1444.1,1556.3 1443.5,1556.3 1442.9,1554.8 1442.3,1555.2 1441.7,1555 1441.1,1554.9 1440.5,1554.7 1439.9,1555.9 1439.3,1555.3 1438.7,1555.8 1438.1,1555.8 1437.5,1556 1436.9,1556.1 1436.3,1557.7 1435.7,1556 1435.1,1558.5 1434.5,1557.6 1433.9,1556.3 1433.3,1558.1 1432.7,1558.6 1432.1,1561.4 1431.5,1557.6 1430.9,1558.3 1430.3,1557.8 1429.7,1557.6 1429.1,1557.7 1428.5,1557.3 1427.9,1557.3 1427.3,1557.5 1426.7,1555.6 1426.1,1556.8 1425.5,1556.1 1424.9,1558.3 1424.3,1556.6 1423.7,1557.2 1423.1,1555.9 1422.5,1555.9 1421.9,1555.8 1421.3,1554.7 1420.7,1553.9 1420.1,1553.3 1419.4,1555.8 1418.8,1554.4 1418.2,1553.3 1417.6,1553.4 1417,1553.2 1416.4,1553.5 1415.8,1555.7 1415.2,1556.2 1414.6,1556.4 1414,1556.1 1413.4,1554.2 1412.8,1553.7 1412.2,1557.5 1411.6,1554.3 1411,1555.5 1410.4,1555.3 1409.8,1554 1409.2,1556 1408.6,1556.7 1408,1555.6 1407.4,1557.1 1406.8,1556.1 1406.2,1555.4 1405.6,1555.4 1405,1556.7 1404.4,1557.7 1403.8,1556.6 1403.2,1556.1 1402.6,1557.3 1402,1560.5 1401.4,1558.1 1400.8,1559.9 1400.2,1556.4 1399.6,1556.2 1399,1555.5 1398.4,1556.7 1397.8,1555.7 1397.2,1556 1396.6,1555.3 1396,1554.5 1395.4,1556.7 1394.8,1559.5 1394.2,1557.5 1393.6,1557.4 1393,1559.2 1392.4,1557.7 1391.8,1556.1 1391.2,1555.4 1390.6,1556.2 1390,1556.4 1389.4,1557.8 1388.8,1559.6 1388.2,1555.9 1387.6,1557 1387,1556.1 1386.4,1556.2 1385.8,1557.3 1385.2,1560.2 1384.6,1556.4 1384,1557.9 1383.4,1556.4 1382.8,1557 1382.2,1558 1381.6,1556.6 1381,1557.1 1380.4,1556.2 1379.8,1556.6 1379.2,1555.9 1378.6,1556.8 1378,1555.5 1377.4,1555.2 1376.8,1555.1 1376.2,1555.7 1375.6,1556.2 1375,1557.1 1374.4,1557.2 1373.8,1559.2 1373.2,1556.9 1372.6,1561.5 1372,1561.4 1371.4,1561.4 1370.8,1560.2 1370.2,1557.4 1369.6,1559 1369,1558.8 1368.4,1557.6 1367.8,1558.3 1367.2,1559.5 1366.6,1558.3 1366,1555.7 1365.4,1558.3 1364.8,1556.3 1364.2,1557.7 1363.6,1559.5 1363,1559.5 1362.4,1556.8 1361.8,1557.4 1361.2,1558.4 1360.6,1559.7 1360,1558 1359.4,1559.2 1358.8,1556.8 1358.2,1555.8 1357.6,1555.4 1356.9,1555.1 1356.3,1556 1355.7,1557.6 1355.1,1556 1354.5,1554.2 1353.9,1553 1353.3,1554.7 1352.7,1555.1 1352.1,1553.8 1351.5,1555.7 1350.9,1554.5 1350.3,1554.3 1349.7,1556 1349.1,1554.8 1348.5,1553.3 1347.9,1553.7 1347.3,1551.6 1346.7,1553.2 1346.1,1553.8 1345.5,1554.6 1344.9,1555.5 1344.3,1555.2 1343.7,1557.7 1343.1,1557.4 1342.5,1559.6 1341.9,1556.9 1341.3,1557.7 1340.7,1558.9 1340.1,1557.9 1339.5,1557.8 1338.9,1556.5 1338.3,1555.6 1337.7,1555.9 1337.1,1556.9 1336.5,1556.3 1335.9,1557.8 1335.3,1558 1334.7,1557.4 1334.1,1558.2 1333.5,1557.5 1332.9,1557.5 1332.3,1558.4 1331.7,1559 1331.1,1558.5 1330.5,1557 1329.9,1560.8 1329.3,1559.2 1328.7,1557.6 1328.1,1555.9 1327.5,1555.8 1326.9,1556.8 1326.3,1556.9 1325.7,1555.1 1325.1,1557.1 1324.5,1556 1323.9,1556.3 1323.3,1555.7 1322.7,1556.2 1322.1,1560 1321.5,1558.4 1320.9,1557 1320.3,1558.6 1319.7,1557.5 1319.1,1556.6 1318.5,1558 1317.9,1557.9 1317.3,1557.7 1316.7,1558.1 1316.1,1557.5 1315.5,1557.4 1314.9,1557.4 1314.3,1557.9 1313.7,1560 1313.1,1560.3 1312.5,1560.5 1311.9,1561.6 1311.3,1561.8 1310.7,1559.7 1310.1,1559 1309.5,1559.4 1308.9,1557.9 1308.3,1558.7 1307.7,1557.6 1307.1,1557 1306.5,1556.5 1305.9,1555.3 1305.3,1556.1 1304.7,1557.9 1304.1,1557.5 1303.5,1560.4 1302.9,1558.5 1302.3,1559.3 1301.7,1560 1301.1,1559.5 1300.5,1558.3 1299.9,1559.3 1299.3,1558.8 1298.7,1556.5 1298.1,1554.8 1297.5,1553.6 1296.9,1553 1296.3,1555.5 1295.7,1553.8 1295.1,1553.4 1294.5,1553 1293.8,1556.5 1293.2,1553.7 1292.6,1553.8 1292,1554.9 1291.4,1554.5 1290.8,1555.6 1290.2,1554.3 1289.6,1555.5 1289,1555.4 1288.4,1557.3 1287.8,1558.8 1287.2,1557 1286.6,1556.7 1286,1557 1285.4,1557.2 1284.8,1557.2 1284.2,1559.1 1283.6,1557.2 1283,1557.3 1282.4,1556.4 1281.8,1555.5 1281.2,1554.9 1280.6,1556 1280,1554.6 1279.4,1557.9 1278.8,1555.5 1278.2,1553.3 1277.6,1554.7 1277,1553.7 1276.4,1552.5 1275.8,1552.7 1275.2,1553.3 1274.6,1553.7 1274,1555.8 1273.4,1556.3 1272.8,1556.3 1272.2,1557.7 1271.6,1556.5 1271,1555.8 1270.4,1555.5 1269.8,1555.9 1269.2,1555.3 1268.6,1556.4 1268,1555 1267.4,1554.8 1266.8,1553.8 1266.2,1556.4 1265.6,1555.2 1265,1556.2 1264.4,1556.6 1263.8,1557.7 1263.2,1557.5 1262.6,1557.6" fill="#ff2d8d" stroke="#ff2d8d" stroke-width="0.8" stroke-linejoin="round"/>
<polyline points="1451,1553 1452,1525 1453.5,1496 1456,1486 1458,1483.5 1458.6,1481.3 1459.2,1480.9 1459.8,1482.2 1460.5,1481.8 1461.1,1482.3 1461.7,1482.8 1462.3,1484.4 1462.9,1481.3 1463.5,1481.5 1464.1,1482.3 1464.7,1481.1 1465.3,1481.7 1466,1483.3 1466.6,1482.3 1467.2,1482.3 1467.8,1483.2 1468.4,1481 1469,1482.4 1469.6,1482.3 1470.2,1482.5 1470.9,1481.5 1471.5,1482 1472.1,1482.2 1472.7,1482.9 1473.3,1481.7 1473.9,1482.8 1474.5,1480.6 1475.2,1482.6 1475.8,1482.9 1476.4,1481.6 1477,1482.1 1477.6,1482.3 1478.2,1482.5 1478.8,1483.2 1479.4,1482.4 1480,1482.1 1480.7,1482.1 1481.3,1482.5 1481.9,1482.9 1482.5,1482.5" fill="none" stroke="#ff2d8d" stroke-width="4" stroke-linejoin="round" stroke-linecap="round"/>
<text x="1309.5" y="1687.5" font-size="30.7" font-weight="bold">2 s</text>
<path d="M1312.5 1707H1350.4V1742.5" fill="none" stroke="#000" stroke-width="2.5" stroke-linejoin="miter" stroke-linecap="round"/>
<text x="1362.3" y="1735" font-size="30.7" font-weight="bold">50 pA</text>
<path d="M1706.6 1441.1V1800 M1700.6 1794H1950.8" fill="none" stroke="#000" stroke-width="3"/>
<path d=" M1701.1 1735.4H1706.6 M1701.1 1676.8H1706.6 M1701.1 1618.1H1706.6 M1701.1 1559.5H1706.6 M1701.1 1500.9H1706.6 M1701.1 1442.3H1706.6 M1767.3 1794V1799.5 M1828.1 1794V1799.5 M1888.8 1794V1799.5 M1949.6 1794V1799.5" fill="none" stroke="#000" stroke-width="2.5" stroke-linecap="round"/>
<text x="1686.6" y="1804" font-size="31" text-anchor="end">0.0</text>
<text x="1686.6" y="1745.4" font-size="31" text-anchor="end">0.2</text>
<text x="1686.6" y="1686.8" font-size="31" text-anchor="end">0.4</text>
<text x="1686.6" y="1628.1" font-size="31" text-anchor="end">0.6</text>
<text x="1686.6" y="1569.5" font-size="31" text-anchor="end">0.8</text>
<text x="1686.6" y="1510.9" font-size="31" text-anchor="end">1.0</text>
<text x="1686.6" y="1452.3" font-size="31" text-anchor="end">1.2</text>
<text x="1703.4" y="1840.3" font-size="31" text-anchor="middle">-1</text>
<text x="1767.3" y="1840.3" font-size="31" text-anchor="middle">0</text>
<text x="1828.1" y="1840.3" font-size="31" text-anchor="middle">1</text>
<text x="1888.8" y="1840.3" font-size="31" text-anchor="middle">2</text>
<text x="1949.6" y="1840.3" font-size="31" text-anchor="middle">3</text>
<text x="1612.6" y="1618" font-size="33" font-weight="bold" text-anchor="middle" transform="rotate(-90 1612.6 1618)">Steady-State Inhibition</text>
<text x="1828.3" y="1905.4" font-size="33" font-weight="bold" text-anchor="middle">Log [Memantine] (<tspan font-family="Liberation Serif, serif" font-weight="normal">μ</tspan>M)</text>
<circle cx="1767.3" cy="1770.6" r="7.6" fill="#3300ff" stroke="#000" stroke-width="1.6"/>
<circle cx="1767.3" cy="1776.4" r="7.6" fill="#3300ff" stroke="#000" stroke-width="1.6"/>
<circle cx="1828.1" cy="1729.5" r="7.6" fill="#3300ff" stroke="#000" stroke-width="1.6"/>
<circle cx="1828.1" cy="1733.9" r="7.6" fill="#3300ff" stroke="#000" stroke-width="1.6"/>
<circle cx="1828.1" cy="1747.1" r="7.6" fill="#3300ff" stroke="#000" stroke-width="1.6"/>
<circle cx="1870.6" cy="1624" r="7.6" fill="#3300ff" stroke="#000" stroke-width="1.6"/>
<circle cx="1870.6" cy="1659.2" r="7.6" fill="#3300ff" stroke="#000" stroke-width="1.6"/>
<circle cx="1870.6" cy="1673.8" r="7.6" fill="#3300ff" stroke="#000" stroke-width="1.6"/>
<circle cx="1870.6" cy="1681.2" r="7.6" fill="#3300ff" stroke="#000" stroke-width="1.6"/>
<circle cx="1870.6" cy="1688.5" r="7.6" fill="#3300ff" stroke="#000" stroke-width="1.6"/>
<circle cx="1888.8" cy="1600.6" r="7.6" fill="#3300ff" stroke="#000" stroke-width="1.6"/>
<circle cx="1888.8" cy="1609.3" r="7.6" fill="#3300ff" stroke="#000" stroke-width="1.6"/>
<circle cx="1888.8" cy="1625.5" r="7.6" fill="#3300ff" stroke="#000" stroke-width="1.6"/>
<circle cx="1888.8" cy="1640.1" r="7.6" fill="#3300ff" stroke="#000" stroke-width="1.6"/>
<circle cx="1931.4" cy="1528.7" r="7.6" fill="#3300ff" stroke="#000" stroke-width="1.6"/>
<circle cx="1931.4" cy="1533.1" r="7.6" fill="#3300ff" stroke="#000" stroke-width="1.6"/>
<circle cx="1931.4" cy="1539" r="7.6" fill="#3300ff" stroke="#000" stroke-width="1.6"/>
<circle cx="1931.4" cy="1543.4" r="7.6" fill="#3300ff" stroke="#000" stroke-width="1.6"/>
<circle cx="1931.4" cy="1546.3" r="7.6" fill="#3300ff" stroke="#000" stroke-width="1.6"/>
<circle cx="1949.6" cy="1520" r="7.6" fill="#3300ff" stroke="#000" stroke-width="1.6"/>
<circle cx="1949.6" cy="1531.7" r="7.6" fill="#3300ff" stroke="#000" stroke-width="1.6"/>
<polyline points="1706.6,1786.1 1710.7,1786 1714.8,1785.9 1719,1785.8 1723.1,1785.7 1727.2,1785.5 1731.3,1785.3 1735.4,1785.1 1739.5,1784.8 1743.7,1784.5 1747.8,1784.1 1751.9,1783.7 1756,1783.2 1760.1,1782.6 1764.3,1781.9 1768.4,1781.2 1772.5,1780.3 1776.6,1779.2 1780.7,1778 1784.9,1776.6 1789,1774.9 1793.1,1773 1797.2,1770.9 1801.3,1768.4 1805.4,1765.5 1809.6,1762.3 1813.7,1758.6 1817.8,1754.4 1821.9,1749.7 1826,1744.4 1830.2,1738.6 1834.3,1732.1 1838.4,1724.9 1842.5,1717.2 1846.6,1708.8 1850.8,1699.9 1854.9,1690.4 1859,1680.5 1863.1,1670.3 1867.2,1659.8 1871.3,1649.3 1875.5,1638.7 1879.6,1628.3 1883.7,1618.2 1887.8,1608.4 1891.9,1599.2 1896.1,1590.4 1900.2,1582.2 1904.3,1574.7 1908.4,1567.8 1912.5,1561.5 1916.7,1555.9 1920.8,1550.8 1924.9,1546.3 1929,1542.3 1933.1,1538.8 1937.2,1535.7 1941.4,1532.9 1945.5,1530.6 1949.6,1528.5" fill="none" stroke="#3300ff" stroke-width="5.2" stroke-linejoin="round" stroke-linecap="round"/>
<circle cx="1767.3" cy="1776.4" r="7.6" fill="#ff2d8d" stroke="#000" stroke-width="1.6"/>
<circle cx="1767.3" cy="1782.3" r="7.6" fill="#ff2d8d" stroke="#000" stroke-width="1.6"/>
<circle cx="1767.3" cy="1785.2" r="7.6" fill="#ff2d8d" stroke="#000" stroke-width="1.6"/>
<circle cx="1767.3" cy="1790.5" r="7.6" fill="#ff2d8d" stroke="#000" stroke-width="1.6"/>
<circle cx="1828.1" cy="1764.7" r="7.6" fill="#ff2d8d" stroke="#000" stroke-width="1.6"/>
<circle cx="1828.1" cy="1767.6" r="7.6" fill="#ff2d8d" stroke="#000" stroke-width="1.6"/>
<circle cx="1828.1" cy="1779.3" r="7.6" fill="#ff2d8d" stroke="#000" stroke-width="1.6"/>
<circle cx="1870.6" cy="1725.1" r="7.6" fill="#ff2d8d" stroke="#000" stroke-width="1.6"/>
<circle cx="1870.6" cy="1732.4" r="7.6" fill="#ff2d8d" stroke="#000" stroke-width="1.6"/>
<circle cx="1870.6" cy="1738.3" r="7.6" fill="#ff2d8d" stroke="#000" stroke-width="1.6"/>
<circle cx="1888.8" cy="1695.8" r="7.6" fill="#ff2d8d" stroke="#000" stroke-width="1.6"/>
<circle cx="1888.8" cy="1709" r="7.6" fill="#ff2d8d" stroke="#000" stroke-width="1.6"/>
<circle cx="1888.8" cy="1720.7" r="7.6" fill="#ff2d8d" stroke="#000" stroke-width="1.6"/>
<circle cx="1931.4" cy="1647.5" r="7.6" fill="#ff2d8d" stroke="#000" stroke-width="1.6"/>
<circle cx="1931.4" cy="1656.2" r="7.6" fill="#ff2d8d" stroke="#000" stroke-width="1.6"/>
<circle cx="1931.4" cy="1665" r="7.6" fill="#ff2d8d" stroke="#000" stroke-width="1.6"/>
<circle cx="1931.4" cy="1673.8" r="7.6" fill="#ff2d8d" stroke="#000" stroke-width="1.6"/>
<circle cx="1931.4" cy="1681.2" r="7.6" fill="#ff2d8d" stroke="#000" stroke-width="1.6"/>
<circle cx="1949.6" cy="1619.6" r="7.6" fill="#ff2d8d" stroke="#000" stroke-width="1.6"/>
<circle cx="1949.6" cy="1629.9" r="7.6" fill="#ff2d8d" stroke="#000" stroke-width="1.6"/>
<circle cx="1949.6" cy="1653.3" r="7.6" fill="#ff2d8d" stroke="#000" stroke-width="1.6"/>
<circle cx="1949.6" cy="1681.2" r="7.6" fill="#ff2d8d" stroke="#000" stroke-width="1.6"/>
<polyline points="1706.6,1787.8 1710.7,1787.8 1714.8,1787.7 1719,1787.6 1723.1,1787.6 1727.2,1787.5 1731.3,1787.4 1735.4,1787.3 1739.5,1787.1 1743.7,1787 1747.8,1786.8 1751.9,1786.6 1756,1786.4 1760.1,1786.1 1764.3,1785.8 1768.4,1785.5 1772.5,1785.1 1776.6,1784.6 1780.7,1784.1 1784.9,1783.5 1789,1782.9 1793.1,1782.1 1797.2,1781.2 1801.3,1780.2 1805.4,1779.1 1809.6,1777.8 1813.7,1776.4 1817.8,1774.8 1821.9,1772.9 1826,1770.9 1830.2,1768.6 1834.3,1766.1 1838.4,1763.2 1842.5,1760.1 1846.6,1756.7 1850.8,1753 1854.9,1748.9 1859,1744.6 1863.1,1740 1867.2,1735 1871.3,1729.9 1875.5,1724.5 1879.6,1718.9 1883.7,1713.3 1887.8,1707.5 1891.9,1701.8 1896.1,1696 1900.2,1690.4 1904.3,1684.9 1908.4,1679.7 1912.5,1674.6 1916.7,1669.8 1920.8,1665.3 1924.9,1661.1 1929,1657.3 1933.1,1653.7 1937.2,1650.4 1941.4,1647.5 1945.5,1644.8 1949.6,1642.4" fill="none" stroke="#ff2d8d" stroke-width="5.2" stroke-linejoin="round" stroke-linecap="round"/>
<circle cx="1726.6" cy="1403.6" r="7.6" fill="#3300ff" stroke="#000" stroke-width="1"/>
<circle cx="1726.6" cy="1445" r="7.6" fill="#ff2d8d" stroke="#000" stroke-width="1"/>
<text x="1777.5" y="1414.9" font-size="30.4" font-weight="bold">GluA2(Q)/<tspan font-family="Liberation Serif, serif" font-weight="normal" font-style="italic">γ</tspan><tspan font-family="Liberation Serif, serif" font-weight="normal">2</tspan></text>
<text x="1777.5" y="1455.7" font-size="30.4" font-weight="bold">GluA2(R)/<tspan font-family="Liberation Serif, serif" font-weight="normal" font-style="italic">γ</tspan><tspan font-family="Liberation Serif, serif" font-weight="normal">2</tspan></text>
</svg>
</body></html>
